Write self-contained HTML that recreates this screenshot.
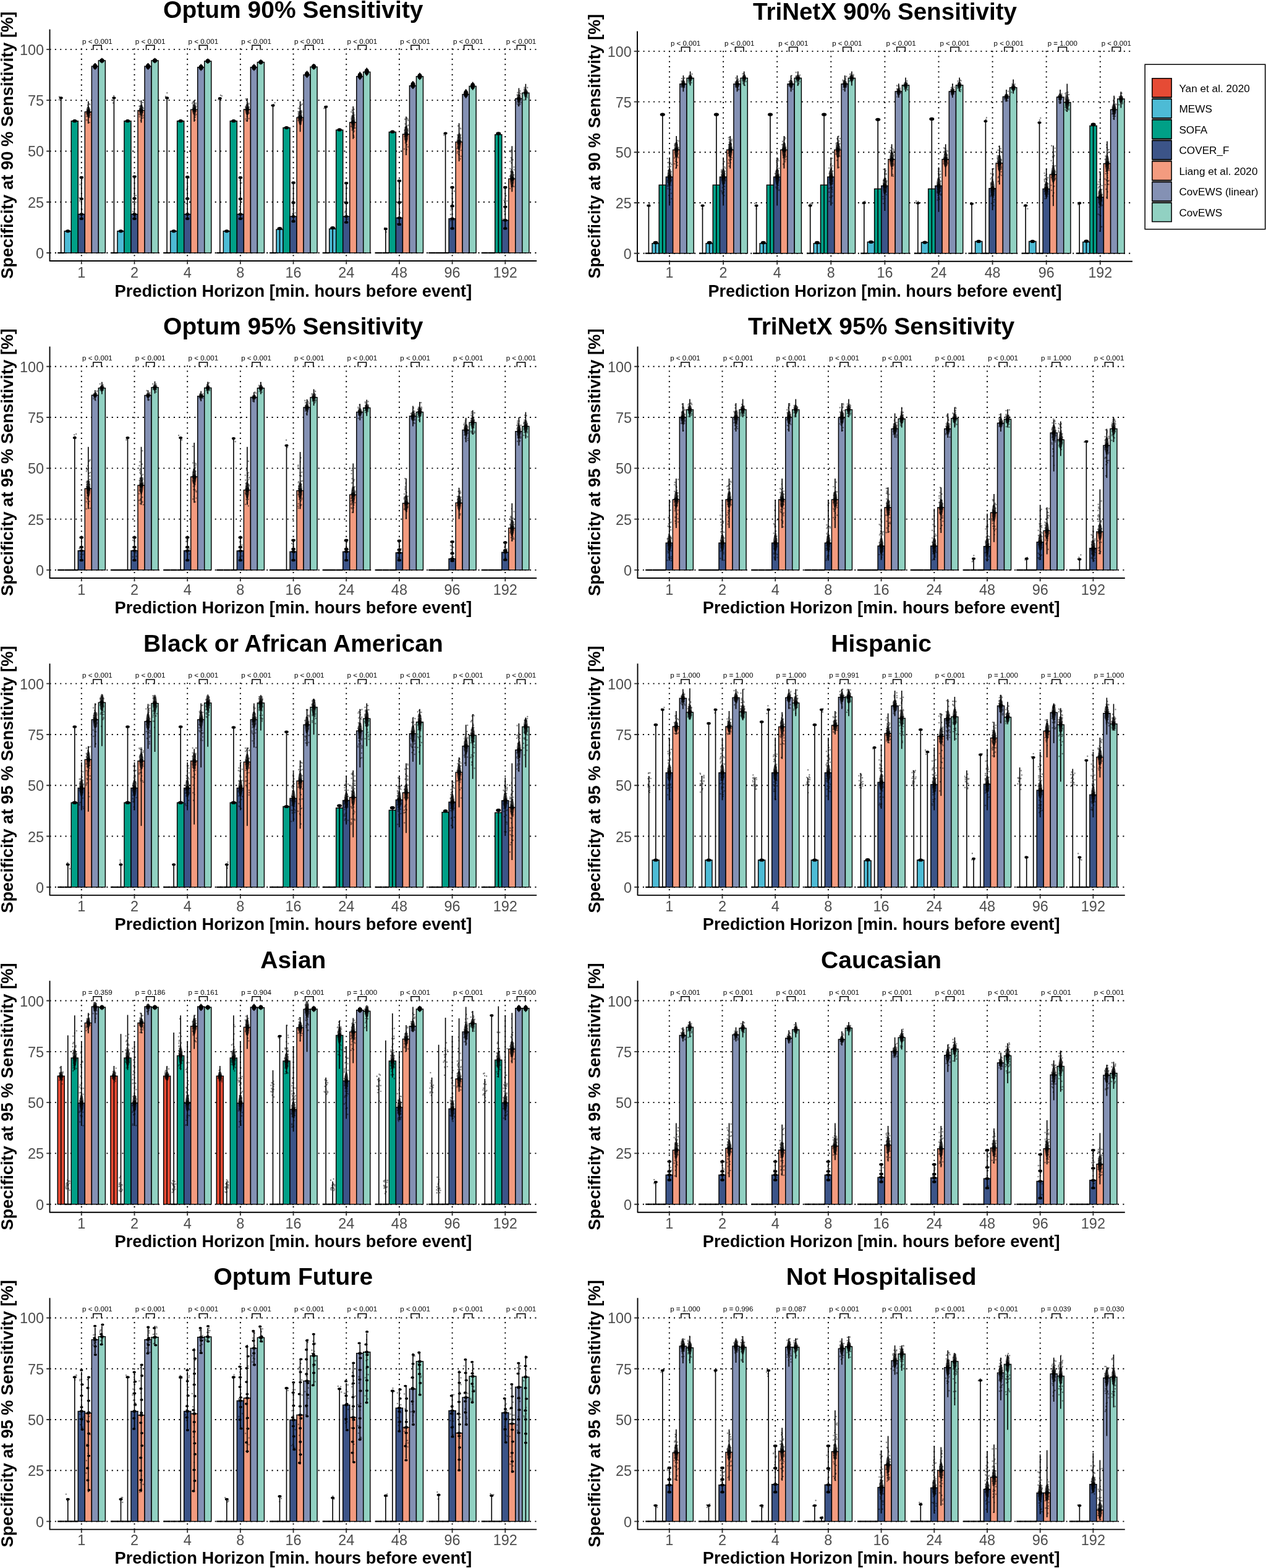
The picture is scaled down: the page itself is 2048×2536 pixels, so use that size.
<!DOCTYPE html><html><head><meta charset="utf-8"><title>Specificity figure</title><style>html,body{margin:0;padding:0;background:#fff;}svg{display:block;}</style></head><body><svg width="2048" height="2536" viewBox="0 0 2048 2536" font-family="Liberation Sans, Arial, Helvetica, sans-serif"><rect width="100%" height="100%" fill="#fff"/><g stroke="#000" stroke-width="1.9" stroke-dasharray="2.05 6.3" fill="none">
<line x1="80.5" y1="409" x2="868.2" y2="409"/>
<line x1="80.5" y1="326.72" x2="868.2" y2="326.72"/>
<line x1="80.5" y1="244.44" x2="868.2" y2="244.44"/>
<line x1="80.5" y1="162.15" x2="868.2" y2="162.15"/>
<line x1="80.5" y1="79.87" x2="868.2" y2="79.87"/>
<line x1="131.8" y1="422.55" x2="131.8" y2="78.37"/>
<line x1="217.49" y1="422.55" x2="217.49" y2="78.37"/>
<line x1="303.18" y1="422.55" x2="303.18" y2="78.37"/>
<line x1="388.87" y1="422.55" x2="388.87" y2="78.37"/>
<line x1="474.56" y1="422.55" x2="474.56" y2="78.37"/>
<line x1="560.25" y1="422.55" x2="560.25" y2="78.37"/>
<line x1="645.94" y1="422.55" x2="645.94" y2="78.37"/>
<line x1="731.63" y1="422.55" x2="731.63" y2="78.37"/>
<line x1="817.32" y1="422.55" x2="817.32" y2="78.37"/>
</g>
<g stroke="#000" stroke-width="1.45"><rect x="104.26" y="373.78" width="11.02" height="35.22" fill="#4DBBD5"/><rect x="115.27" y="195.72" width="11.02" height="213.28" fill="#00A087"/><rect x="126.29" y="346.47" width="11.02" height="62.53" fill="#3C5488"/><rect x="137.31" y="180.91" width="11.02" height="228.09" fill="#F39B7F"/><rect x="148.33" y="107.19" width="11.02" height="301.81" fill="#8491B4"/><rect x="159.34" y="97.97" width="11.02" height="311.03" fill="#91D1C2"/><rect x="189.95" y="373.78" width="11.02" height="35.22" fill="#4DBBD5"/><rect x="200.96" y="195.72" width="11.02" height="213.28" fill="#00A087"/><rect x="211.98" y="346.47" width="11.02" height="62.53" fill="#3C5488"/><rect x="223" y="178.61" width="11.02" height="230.39" fill="#F39B7F"/><rect x="234.02" y="107.19" width="11.02" height="301.81" fill="#8491B4"/><rect x="245.03" y="97.97" width="11.02" height="311.03" fill="#91D1C2"/><rect x="275.64" y="373.78" width="11.02" height="35.22" fill="#4DBBD5"/><rect x="286.65" y="195.72" width="11.02" height="213.28" fill="#00A087"/><rect x="297.67" y="346.47" width="11.02" height="62.53" fill="#3C5488"/><rect x="308.69" y="177.29" width="11.02" height="231.71" fill="#F39B7F"/><rect x="319.71" y="108.83" width="11.02" height="300.17" fill="#8491B4"/><rect x="330.72" y="98.96" width="11.02" height="310.04" fill="#91D1C2"/><rect x="361.33" y="373.78" width="11.02" height="35.22" fill="#4DBBD5"/><rect x="372.34" y="195.72" width="11.02" height="213.28" fill="#00A087"/><rect x="383.36" y="346.47" width="11.02" height="62.53" fill="#3C5488"/><rect x="394.38" y="176.96" width="11.02" height="232.04" fill="#F39B7F"/><rect x="405.4" y="108.83" width="11.02" height="300.17" fill="#8491B4"/><rect x="416.41" y="100.61" width="11.02" height="308.39" fill="#91D1C2"/><rect x="447.02" y="371.15" width="11.02" height="37.85" fill="#4DBBD5"/><rect x="458.03" y="206.59" width="11.02" height="202.41" fill="#00A087"/><rect x="469.05" y="350.09" width="11.02" height="58.91" fill="#3C5488"/><rect x="480.07" y="190.13" width="11.02" height="218.87" fill="#F39B7F"/><rect x="491.09" y="121.01" width="11.02" height="287.99" fill="#8491B4"/><rect x="502.1" y="108.18" width="11.02" height="300.82" fill="#91D1C2"/><rect x="532.71" y="370.16" width="11.02" height="38.84" fill="#4DBBD5"/><rect x="543.72" y="210.21" width="11.02" height="198.79" fill="#00A087"/><rect x="554.74" y="350.09" width="11.02" height="58.91" fill="#3C5488"/><rect x="565.76" y="198.03" width="11.02" height="210.97" fill="#F39B7F"/><rect x="576.78" y="123.64" width="11.02" height="285.36" fill="#8491B4"/><rect x="587.79" y="116.4" width="11.02" height="292.6" fill="#91D1C2"/><rect x="629.41" y="213.5" width="11.02" height="195.5" fill="#00A087"/><rect x="640.43" y="352.39" width="11.02" height="56.61" fill="#3C5488"/><rect x="651.45" y="217.12" width="11.02" height="191.88" fill="#F39B7F"/><rect x="662.47" y="138.78" width="11.02" height="270.22" fill="#8491B4"/><rect x="673.48" y="123.64" width="11.02" height="285.36" fill="#91D1C2"/><rect x="726.12" y="353.71" width="11.02" height="55.29" fill="#3C5488"/><rect x="737.14" y="229.62" width="11.02" height="179.38" fill="#F39B7F"/><rect x="748.16" y="152.61" width="11.02" height="256.39" fill="#8491B4"/><rect x="759.17" y="139.44" width="11.02" height="269.56" fill="#91D1C2"/><rect x="800.79" y="217.78" width="11.02" height="191.22" fill="#00A087"/><rect x="811.81" y="356.34" width="11.02" height="52.66" fill="#3C5488"/><rect x="822.83" y="289.2" width="11.02" height="119.8" fill="#F39B7F"/><rect x="833.85" y="159.52" width="11.02" height="249.48" fill="#8491B4"/><rect x="844.86" y="150.3" width="11.02" height="258.7" fill="#91D1C2"/></g>
<g stroke="#000" stroke-width="2.2"><line x1="93.24" y1="409" x2="104.26" y2="409"/><line x1="178.93" y1="409" x2="189.95" y2="409"/><line x1="264.62" y1="409" x2="275.64" y2="409"/><line x1="350.31" y1="409" x2="361.33" y2="409"/><line x1="436" y1="409" x2="447.02" y2="409"/><line x1="521.69" y1="409" x2="532.71" y2="409"/><line x1="607.38" y1="409" x2="618.4" y2="409"/><line x1="618.4" y1="409" x2="629.41" y2="409"/><line x1="693.07" y1="409" x2="704.09" y2="409"/><line x1="704.09" y1="409" x2="715.1" y2="409"/><line x1="715.1" y1="409" x2="726.12" y2="409"/><line x1="778.76" y1="409" x2="789.78" y2="409"/><line x1="789.78" y1="409" x2="800.79" y2="409"/></g>
<path d="M98.7 409V158.2M120.8 197.4V194.1M131.8 353.7V286.9M142.8 200V163.8M153.8 112.8V101.9M164.9 102.3V93.7M184.4 409V158.2M206.5 197.4V194.1M217.5 353.7V285.6M228.5 198.4V162.2M239.5 112.8V101.9M250.5 102.3V93.7M270.1 409V158.2M292.2 197.4V194.1M303.2 353.7V286.2M314.2 196.7V162.2M325.2 114.4V103.6M336.2 102.9V94.7M355.8 409V158.9M377.9 197.4V194.1M388.9 353.7V287.2M399.9 196.7V158.9M410.9 114.4V103.6M421.9 104.6V96.3M441.5 409V170.4M452.5 409V369.5M463.5 208.2V204.9M474.6 358V295.5M485.6 213.2V163.8M496.6 125.9V114.4M507.6 112.8V102.9M527.2 409V172.7M538.2 409V368.5M549.2 211.5V208.2M560.2 359.6V296.1M571.3 224.7V172M582.3 129.2V116.1M593.3 122.7V109.5M623.9 409V370.2M634.9 214.8V211.5M645.9 362.9V292.5M657 251V188.5M668 144.1V130.9M679 129.2V117.7M720.6 409V215.5M731.6 369.5V303M742.6 260.9V199.3M753.7 158.9V144.1M764.7 145.7V132.5M806.3 409V215.8M817.3 369.5V303M828.3 310.3V236.2M839.4 172V142.4M850.4 162.2V135.8" stroke="#000" stroke-width="1.6" fill="none"/>
<g fill="#000" fill-opacity="0.38"></g>
<path d="M99.7 159h0m-3.8-2.5h0m-0.1 4.8h0m32.9 158.5h0m0.3 4.9h0m2.3 22.9h0m-2-49.1h0m3.3 40.3h0m-0.3-48.4h0m9.8-107.6h0m3.1-4.7h0m-3.8 3.2h0m0.2-3.2h0m3.3-0.8h0m-1.2-1.4h0m-1.7-5.8h0m-2.1 13.9h0m1-2.1h0m0.7 3.1h0m1.8 4.6h0m1.4-1.4h0m-0.7-9.5h0m-1.1 1.8h0m2.3-11.4h0m0.7 12.8h0m-5.7 6.4h0m0.2 5.9h0m2.2-20.8h0m1.9-5.5h0m-1.3 9.7h0m0.8-2.3h0m-0.7 11.1h0m1.7 3.3h0m0.7-4h0m-5.9 8.4h0m4.2-15.4h0m0.8 19.4h0m38.1-31.6h0m-1.7-4.6h0m2.9-6.9h0m30.8 187.3h0m4.3 7.4h0m-3.5-4.8h0m4.1-17.8h0m-2.7 21.1h0m2.8-31.9h0m7-145.3h0m0.9 24h0m3.6-4.5h0m-5.3-26.5h0m0.5 11.7h0m1.7-3h0m-3.2 11.9h0m2.8-2.2h0m3.5 4.2h0m-1.7-16.6h0m-0.1 21.1h0m-4.1-11.3h0m5.4-13.9h0m-0.5 22h0m-4.6-2.2h0m3.5-12.8h0m-2.8 2.6h0m-0.3 1.8h0m-1.1 2.9h0m1-4.1h0m-0.8-4.4h0m5.6 1.8h0m-4.1 9h0m0.6-0.5h0m3.3-0.3h0m1-6.6h0m-6 13.7h0m0.1-12.4h0m46.4-16.8h0m-4.4-3.6h0m2.4-5.8h0m33.2 193.6h0m-0.1 8.1h0m2.2-64.2h0m-4 19h0m-0.6 22.3h0m2.4-27.4h0m12.6-127.4h0m0.3 6h0m1.1-8.3h0m-1.1-4h0m-0.5 21.9h0m-2.6-14h0m-2.1-8.8h0m1.5 3.4h0m2.9 5.7h0m1.6-7.9h0m0.3 11.6h0m-5.1-10.4h0m0.1 10.2h0m2.6-4.2h0m1.8-3.6h0m-1.6 0.2h0m1 13.6h0m0.7-19.2h0m-0.8 4.4h0m-4 6.5h0m4 9.8h0m1.2-2.1h0m-3.8-21.2h0m2.2 30.5h0m-3.7-29.2h0m4.9 8.7h0m-0.7 0h0m42.8-18.7h0m-2.1-1.1h0m-3.5 7.3h0m38.6 191.5h0m-3-42.3h0m-0.6-18.9h0m2.6 4.1h0m-3.8 44h0m0-5.5h0m13.3-166.9h0m-3.1 10.2h0m5.2-10.4h0m-2.2 16.2h0m2.2-14.7h0m-2.7 26.9h0m0.2-28.7h0m-0.6 12h0m-1.7-1.6h0m-0.1-17.2h0m2 16.5h0m-1 2.3h0m1.3 10.1h0m-2.7 3.6h0m3-9.9h0m1.4-5.7h0m-1.8-7.6h0m2.7 22.5h0m-3.1-8.8h0m0.5 2.5h0m1.2-1.2h0m-1.5 3.8h0m3.1-14.6h0m0 9.5h0m-4.5 12.3h0m3.8-13.4h0m-2.6-8.1h0m-2.4-0.5h0m3.9 3.4h0m0.8-3.4h0m41.1-4.4h0m-0.3 2.6h0m2-5.4h0m33 178.2h0m-3.1-11.2h0m2.3-37h0m-2.7 51.8h0m-0.6-22.2h0m-0.1 20h0m13.6-175.6h0m-1.8 4.5h0m-2.8 13.6h0m3.3 10.4h0m-3-23.5h0m6-6.6h0m-5.7 23.7h0m4.4-1.7h0m-3.3-3.9h0m4.2-5.3h0m-0.6-0.6h0m0.6 9.8h0m-2.3-7.4h0m-3.3 8.7h0m4.1 3.4h0m1.7-0.8h0m-2-6.4h0m1.4 0.5h0m-5.2 6.5h0m1.8-13.7h0m1.4 19.1h0m-2.8-19h0m2.7 13.1h0m-2.5-4.8h0m-0.7-5.5h0m1.7 2.7h0m3-7h0m-3.9 13.8h0m1.2-17.6h0m-2.2 4.7h0m4.7 8.3h0m-1.7 8.6h0m3.1-5h0m-3.4-20.5h0m0.4 3.8h0m0.1 7.9h0m1.2 16.9h0m1-21.9h0m-0.9 12.5h0m39.3-16.5h0m-1.9 0.3h0m4.5-3.4h0m29.2 171.6h0m4.5 10.9h0m-1.1-50h0m-2.9 37.4h0m1.5-0.7h0m-0.1 8.6h0m9.8-155.2h0m1.9 8.7h0m-1.6-6.3h0m0.5 1.5h0m0.6-0.7h0m0.2 9.2h0m-3.3-8.6h0m2.6 0.3h0m-2.4-6.2h0m1.3-5.4h0m2.3 9.5h0m0.5 23.2h0m0.4-17.6h0m-2.6-13.5h0m4.4 18.5h0m-2.3-21.4h0m-3.9-4.6h0m3.8 2.8h0m0.7 38.1h0m-1.4-26.6h0m-0.1 9.4h0m2.1-18.8h0m-1.6 32.6h0m0.7-36.1h0m-3 28.1h0m0.8-19.4h0m-1.6 5.6h0m3.4-7.3h0m0 23.1h0m-4.1-8h0m5.2 7.4h0m-1.7-13.7h0m0.8 15.4h0m-2.7-35.3h0m-1.1 11.1h0m0.8 10.7h0m3.6-23.3h0m-2.4 6h0m0.6 17.6h0m0.9 6.7h0m52.8 168.2h0m-2.5-6.8h0m3.2 0.8h0m20.9-27.8h0m-3.4 20.5h0m4.1-18h0m0-29.8h0m-1.1 28.2h0m-0.3-12.2h0m9.3-137.4h0m5.1 1.9h0m-3.4 19.7h0m2.4 3.9h0m-3.7-17.9h0m-0.4 20.1h0m2.5-13.5h0m-2.9 13.7h0m-0.1-0.1h0m5-11.4h0m-1.2 24.8h0m-1.4-20.8h0m0 3.1h0m-0.3 0.6h0m-0.7 3h0m-0.2-10.9h0m2.9 7.6h0m0.6 1.3h0m-0.8-26.8h0m1.2 1.6h0m-3.4 28.2h0m4.1-18.4h0m-3.8 27.1h0m-1-4.6h0m3.7-14.8h0m-3.7 4.8h0m-0.1-8.8h0m1.6 15.6h0m3-10.3h0m-0.5-8.4h0m0.2 5.6h0m0.2 28.8h0m-5.9 3.4h0m4.5-16.2h0m-0.6 17.3h0m-2.4-32.8h0m-1 1.4h0m1.1 20.6h0m2.9-16.6h0m-0.5-9.5h0m61.3 10.8h0m-0.9 2.7h0m0-2h0m15.9 139.1h0m-4.5-19.2h0m5.1-27.2h0m-5.7 30.3h0m-0.3 17.1h0m0-9.9h0m14.2-118h0m2.1-11h0m-3.1 11.9h0m0.7 15.8h0m-3-5.9h0m1.4-19.7h0m1.5 1.9h0m0.8 9.4h0m-2.4-8.6h0m-0.1 15.2h0m4.6 5.3h0m-0.6-23.3h0m-5.4 7.6h0m4.4 4.5h0m-0.8-16.1h0m-3.9 24.4h0m5.5 16.8h0m0.2-49.5h0m-4.9 10.7h0m0.3 13.4h0m5.2 21.1h0m-1.5-19.8h0m-1.7 12.5h0m0.6 5.1h0m-2.1-46.9h0m4.5 19.4h0m-5.2 14.6h0m0.8 2.4h0m-0.9 5.2h0m-0.3 2.4h0m2.1 2.1h0m-1.1-17h0m0.5-1.3h0m1.1-0.5h0m2.8-22.7h0m-2.7 27.1h0m3.2-6.8h0m-1.7-10.4h0m-1.4 12.7h0m1.2-4.2h0m71.9 115h0m4.4-16.5h0m-5.9 29.3h0m2.6-7.4h0m-1.5-22.9h0m3.6-7.6h0m12.5-14.8h0m-4.3-12.1h0m-0.6-6.1h0m3.6 17.8h0m-1.8 0.6h0m-2-56.5h0m3.1 40.6h0m1.9-15.8h0m-4.9 7.8h0m5.1-3.5h0m-6.1 10.9h0m2.2-0.9h0m2.3-26.1h0m-2.7 5.1h0m-0.9 26.4h0m-1.1-28.9h0m4.2 40.2h0m-2.2 0.9h0m-1-25.3h0m1.2-2.6h0m3.9 14.7h0m-4.9-33.8h0m1 0.6h0m0.5 18.5h0m-0.4 3h0m3.6 5.6h0m-0.1 0.2h0m-5.8-10.3h0m4.9 5.7h0m-4.7 6h0m5.7 3.6h0m-0.1 2.5h0m-3.7-32h0m1.8 37.2h0m-2.3-52.6h0m0.1 49.5h0m-1.8 12.4h0m4.1-17.3h0m-2.6-0.8h0m1.6 3.7h0m10.4-128.1h0m0.7-2.9h0m2.9-7.9h0m-1.3 2.4h0m0.6-6.8h0m-3.3 10.8h0m0 11.4h0m-1.6-1.6h0m0.8-18.2h0m-0.9 9.7h0m-0.2 5.7h0m6.2 0.6h0m-0.6-4h0m-5.3-8h0m0.1 6.3h0m2.3 11.2h0m-1.4-11.8h0m2.9 9.1h0m0.5-14.1h0m-4.1-1.1h0m4.7 15.2h0m-3.1-6.4h0m2.4-11.8h0m7.8-1.6h0m-0.6-3.1h0m1.1-1.8h0m0.5 12.3h0m-1.1-13.6h0m3.8 8.2h0m-4.7 11.1h0m4.9-4.3h0m0.5-9.1h0m-5.2-3.4h0m0.4 3.9h0m4.9-7.2h0m-3.7 10.1h0m-0.7-6.3h0m3.4 10.2h0m-1.2-8.3h0m0.2 3.9h0m-3.2-2.3h0m0.4-4.9h0m3 6.5h0m-3-9.2h0" stroke="#000" stroke-opacity="0.5" stroke-width="2.4" stroke-linecap="round" fill="none"/>
<ellipse cx="142.8" cy="180.9" rx="3.3" ry="9.1" fill-opacity="0.7"/><ellipse cx="228.5" cy="178.6" rx="3.3" ry="9.1" fill-opacity="0.7"/><ellipse cx="314.2" cy="177.3" rx="3.3" ry="8.6" fill-opacity="0.7"/><ellipse cx="399.9" cy="177" rx="3.3" ry="9.5" fill-opacity="0.7"/><ellipse cx="485.6" cy="190.1" rx="3.3" ry="12.3" fill-opacity="0.7"/><ellipse cx="571.3" cy="198" rx="3.3" ry="13.2" fill-opacity="0.7"/><ellipse cx="657" cy="217.1" rx="3.3" ry="14" fill-opacity="0.7"/><ellipse cx="742.6" cy="229.6" rx="3.3" ry="14" fill-opacity="0.7"/><ellipse cx="828.3" cy="289.2" rx="3.3" ry="14" fill-opacity="0.7"/><ellipse cx="839.4" cy="159.5" rx="3.3" ry="7.4" fill-opacity="0.7"/><ellipse cx="850.4" cy="150.3" rx="3.3" ry="6.6" fill-opacity="0.7"/>
<g fill="#000"><ellipse cx="98.7" cy="158.2" rx="3" ry="2"/><ellipse cx="109.8" cy="373.8" rx="3.7" ry="2.6"/><ellipse cx="120.8" cy="195.7" rx="3.7" ry="2.6"/><ellipse cx="131.8" cy="353.7" rx="3.3" ry="2.2"/><ellipse cx="131.8" cy="346.5" rx="3.3" ry="2.2"/><ellipse cx="131.8" cy="321.6" rx="3.3" ry="2.2"/><ellipse cx="131.8" cy="286.9" rx="3.3" ry="2.2"/><ellipse cx="142.8" cy="180.9" rx="2.4" ry="3.6"/><ellipse cx="153.8" cy="107.4" rx="3.7" ry="4.6"/><ellipse cx="164.9" cy="98" rx="3.7" ry="3.6"/><ellipse cx="184.4" cy="158.2" rx="3" ry="2"/><ellipse cx="195.5" cy="373.8" rx="3.7" ry="2.6"/><ellipse cx="206.5" cy="195.7" rx="3.7" ry="2.6"/><ellipse cx="217.5" cy="353.7" rx="3.3" ry="2.2"/><ellipse cx="217.5" cy="346.5" rx="3.3" ry="2.2"/><ellipse cx="217.5" cy="321" rx="3.3" ry="2.2"/><ellipse cx="217.5" cy="285.6" rx="3.3" ry="2.2"/><ellipse cx="228.5" cy="178.6" rx="2.4" ry="3.6"/><ellipse cx="239.5" cy="107.4" rx="3.7" ry="4.6"/><ellipse cx="250.5" cy="98" rx="3.7" ry="3.6"/><ellipse cx="270.1" cy="158.2" rx="3" ry="2"/><ellipse cx="281.1" cy="373.8" rx="3.7" ry="2.6"/><ellipse cx="292.2" cy="195.7" rx="3.7" ry="2.6"/><ellipse cx="303.2" cy="353.7" rx="3.3" ry="2.2"/><ellipse cx="303.2" cy="346.5" rx="3.3" ry="2.2"/><ellipse cx="303.2" cy="321.3" rx="3.3" ry="2.2"/><ellipse cx="303.2" cy="286.2" rx="3.3" ry="2.2"/><ellipse cx="314.2" cy="177.3" rx="2.4" ry="3.5"/><ellipse cx="325.2" cy="109" rx="3.7" ry="4.6"/><ellipse cx="336.2" cy="98.8" rx="3.7" ry="3.5"/><ellipse cx="355.8" cy="158.9" rx="3" ry="2"/><ellipse cx="366.8" cy="373.8" rx="3.7" ry="2.6"/><ellipse cx="377.9" cy="195.7" rx="3.7" ry="2.6"/><ellipse cx="388.9" cy="353.7" rx="3.3" ry="2.2"/><ellipse cx="388.9" cy="346.5" rx="3.3" ry="2.2"/><ellipse cx="388.9" cy="321.8" rx="3.3" ry="2.2"/><ellipse cx="388.9" cy="287.2" rx="3.3" ry="2.2"/><ellipse cx="399.9" cy="177" rx="2.4" ry="3.8"/><ellipse cx="410.9" cy="109" rx="3.7" ry="4.6"/><ellipse cx="421.9" cy="100.4" rx="3.7" ry="3.5"/><ellipse cx="441.5" cy="170.4" rx="3" ry="2"/><ellipse cx="452.5" cy="369.5" rx="4" ry="2.6"/><ellipse cx="463.5" cy="206.6" rx="3.7" ry="2.6"/><ellipse cx="474.6" cy="358" rx="3.3" ry="2.2"/><ellipse cx="474.6" cy="350.1" rx="3.3" ry="2.2"/><ellipse cx="474.6" cy="327.7" rx="3.3" ry="2.2"/><ellipse cx="474.6" cy="295.5" rx="3.3" ry="2.2"/><ellipse cx="485.6" cy="190.1" rx="2.4" ry="4"/><ellipse cx="496.6" cy="120.2" rx="3.7" ry="4.8"/><ellipse cx="507.6" cy="107.8" rx="3.7" ry="4.1"/><ellipse cx="527.2" cy="172.7" rx="3" ry="2"/><ellipse cx="538.2" cy="368.5" rx="4" ry="2.6"/><ellipse cx="549.2" cy="209.9" rx="3.7" ry="2.6"/><ellipse cx="560.2" cy="359.6" rx="3.3" ry="2.2"/><ellipse cx="560.2" cy="350.1" rx="3.3" ry="2.2"/><ellipse cx="560.2" cy="328" rx="3.3" ry="2.2"/><ellipse cx="560.2" cy="296.1" rx="3.3" ry="2.2"/><ellipse cx="571.3" cy="198" rx="2.4" ry="4"/><ellipse cx="582.3" cy="122.7" rx="3.7" ry="5.5"/><ellipse cx="593.3" cy="116.1" rx="3.7" ry="5.5"/><ellipse cx="623.9" cy="370.2" rx="3" ry="2"/><ellipse cx="634.9" cy="213.2" rx="3.7" ry="2.6"/><ellipse cx="645.9" cy="362.9" rx="3.3" ry="2.2"/><ellipse cx="645.9" cy="352.4" rx="3.3" ry="2.2"/><ellipse cx="645.9" cy="327.4" rx="3.3" ry="2.2"/><ellipse cx="645.9" cy="292.5" rx="3.3" ry="2.2"/><ellipse cx="657" cy="217.1" rx="2.4" ry="4"/><ellipse cx="668" cy="137.5" rx="3.7" ry="5.5"/><ellipse cx="679" cy="123.5" rx="3.7" ry="4.8"/><ellipse cx="720.6" cy="215.5" rx="3" ry="2"/><ellipse cx="731.6" cy="369.5" rx="3.3" ry="2.2"/><ellipse cx="731.6" cy="353.7" rx="3.3" ry="2.2"/><ellipse cx="731.6" cy="333.3" rx="3.3" ry="2.2"/><ellipse cx="731.6" cy="303" rx="3.3" ry="2.2"/><ellipse cx="742.6" cy="229.6" rx="2.4" ry="4"/><ellipse cx="753.7" cy="151.5" rx="3.7" ry="6.2"/><ellipse cx="764.7" cy="139.1" rx="3.7" ry="5.5"/><ellipse cx="806.3" cy="215.8" rx="4" ry="2.6"/><ellipse cx="817.3" cy="369.5" rx="3.3" ry="2.2"/><ellipse cx="817.3" cy="356.3" rx="3.3" ry="2.2"/><ellipse cx="817.3" cy="334.6" rx="3.3" ry="2.2"/><ellipse cx="817.3" cy="303" rx="3.3" ry="2.2"/><ellipse cx="828.3" cy="289.2" rx="2.4" ry="4"/><ellipse cx="839.4" cy="159.5" rx="2.4" ry="3"/><ellipse cx="850.4" cy="150.3" rx="2.4" ry="2.6"/></g>
<path d="M150.82 80.67V73.17H164.11V80.67M236.51 80.67V73.17H249.8V80.67M322.2 80.67V73.17H335.49V80.67M407.89 80.67V73.17H421.18V80.67M493.58 80.67V73.17H506.87V80.67M579.27 80.67V73.17H592.56V80.67M664.96 80.67V73.17H678.25V80.67M750.65 80.67V73.17H763.94V80.67M836.34 80.67V73.17H849.63V80.67" stroke="#000" stroke-width="1.5" fill="none"/>
<g font-size="11.6" text-anchor="middle" fill="#000"><text x="157.46" y="70.67">p &lt; 0.001</text><text x="243.15" y="70.67">p &lt; 0.001</text><text x="328.84" y="70.67">p &lt; 0.001</text><text x="414.53" y="70.67">p &lt; 0.001</text><text x="500.22" y="70.67">p &lt; 0.001</text><text x="585.91" y="70.67">p &lt; 0.001</text><text x="671.6" y="70.67">p &lt; 0.001</text><text x="757.29" y="70.67">p &lt; 0.001</text><text x="842.98" y="70.67">p &lt; 0.001</text></g>
<path d="M80.5 47.57V422.05H868.2" stroke="#000" stroke-width="1.9" fill="none" stroke-linejoin="round"/>
<path d="M75.2 409H80.5M75.2 326.72H80.5M75.2 244.44H80.5M75.2 162.15H80.5M75.2 79.87H80.5M131.8 422.05V427.35M217.49 422.05V427.35M303.18 422.05V427.35M388.87 422.05V427.35M474.56 422.05V427.35M560.25 422.05V427.35M645.94 422.05V427.35M731.63 422.05V427.35M817.32 422.05V427.35" stroke="#333" stroke-width="1.9" fill="none"/>
<g font-size="23.5" fill="#4D4D4D">
<text x="71.1" y="418" text-anchor="end">0</text>
<text x="71.1" y="335.72" text-anchor="end">25</text>
<text x="71.1" y="253.44" text-anchor="end">50</text>
<text x="71.1" y="171.15" text-anchor="end">75</text>
<text x="71.1" y="88.87" text-anchor="end">100</text>
<text x="131.8" y="449.3" text-anchor="middle">1</text>
<text x="217.49" y="449.3" text-anchor="middle">2</text>
<text x="303.18" y="449.3" text-anchor="middle">4</text>
<text x="388.87" y="449.3" text-anchor="middle">8</text>
<text x="474.56" y="449.3" text-anchor="middle">16</text>
<text x="560.25" y="449.3" text-anchor="middle">24</text>
<text x="645.94" y="449.3" text-anchor="middle">48</text>
<text x="731.63" y="449.3" text-anchor="middle">96</text>
<text x="817.32" y="449.3" text-anchor="middle">192</text>
</g>
<text x="474.35" y="29" font-size="39" font-weight="bold" text-anchor="middle">Optum 90% Sensitivity</text>
<text x="474.35" y="479.6" font-size="27.3" font-weight="bold" text-anchor="middle">Prediction Horizon [min. hours before event]</text>
<text transform="translate(21.2 234.81) rotate(-90)" font-size="27.3" font-weight="bold" text-anchor="middle">Specificity at 90 % Sensitivity [%]</text>
<g stroke="#000" stroke-width="1.9" stroke-dasharray="2.03 6.24" fill="none">
<line x1="1032.26" y1="409.7" x2="1832" y2="409.7"/>
<line x1="1032.26" y1="327.99" x2="1832" y2="327.99"/>
<line x1="1032.26" y1="246.28" x2="1832" y2="246.28"/>
<line x1="1032.26" y1="164.58" x2="1832" y2="164.58"/>
<line x1="1032.26" y1="82.87" x2="1832" y2="82.87"/>
<line x1="1083" y1="423.25" x2="1083" y2="81.37"/>
<line x1="1170.1" y1="423.25" x2="1170.1" y2="81.37"/>
<line x1="1257.2" y1="423.25" x2="1257.2" y2="81.37"/>
<line x1="1344.3" y1="423.25" x2="1344.3" y2="81.37"/>
<line x1="1431.4" y1="423.25" x2="1431.4" y2="81.37"/>
<line x1="1518.5" y1="423.25" x2="1518.5" y2="81.37"/>
<line x1="1605.6" y1="423.25" x2="1605.6" y2="81.37"/>
<line x1="1692.7" y1="423.25" x2="1692.7" y2="81.37"/>
<line x1="1779.8" y1="423.25" x2="1779.8" y2="81.37"/>
</g>
<g stroke="#000" stroke-width="1.45"><rect x="1055" y="393.69" width="11.2" height="16.01" fill="#4DBBD5"/><rect x="1066.2" y="299.23" width="11.2" height="110.47" fill="#00A087"/><rect x="1077.4" y="286.16" width="11.2" height="123.54" fill="#3C5488"/><rect x="1088.6" y="242.36" width="11.2" height="167.34" fill="#F39B7F"/><rect x="1099.8" y="135.82" width="11.2" height="273.88" fill="#8491B4"/><rect x="1111" y="126.34" width="11.2" height="283.36" fill="#91D1C2"/><rect x="1142.1" y="393.69" width="11.2" height="16.01" fill="#4DBBD5"/><rect x="1153.3" y="299.23" width="11.2" height="110.47" fill="#00A087"/><rect x="1164.5" y="286.16" width="11.2" height="123.54" fill="#3C5488"/><rect x="1175.7" y="242.36" width="11.2" height="167.34" fill="#F39B7F"/><rect x="1186.9" y="135.82" width="11.2" height="273.88" fill="#8491B4"/><rect x="1198.1" y="126.34" width="11.2" height="283.36" fill="#91D1C2"/><rect x="1229.2" y="393.69" width="11.2" height="16.01" fill="#4DBBD5"/><rect x="1240.4" y="299.23" width="11.2" height="110.47" fill="#00A087"/><rect x="1251.6" y="286.16" width="11.2" height="123.54" fill="#3C5488"/><rect x="1262.8" y="242.36" width="11.2" height="167.34" fill="#F39B7F"/><rect x="1274" y="135.82" width="11.2" height="273.88" fill="#8491B4"/><rect x="1285.2" y="126.34" width="11.2" height="283.36" fill="#91D1C2"/><rect x="1316.3" y="393.69" width="11.2" height="16.01" fill="#4DBBD5"/><rect x="1327.5" y="299.23" width="11.2" height="110.47" fill="#00A087"/><rect x="1338.7" y="286.16" width="11.2" height="123.54" fill="#3C5488"/><rect x="1349.9" y="242.36" width="11.2" height="167.34" fill="#F39B7F"/><rect x="1361.1" y="135.82" width="11.2" height="273.88" fill="#8491B4"/><rect x="1372.3" y="126.34" width="11.2" height="283.36" fill="#91D1C2"/><rect x="1403.4" y="391.4" width="11.2" height="18.3" fill="#4DBBD5"/><rect x="1414.6" y="305.44" width="11.2" height="104.26" fill="#00A087"/><rect x="1425.8" y="300.54" width="11.2" height="109.16" fill="#3C5488"/><rect x="1437" y="257.72" width="11.2" height="151.98" fill="#F39B7F"/><rect x="1448.2" y="147.91" width="11.2" height="261.79" fill="#8491B4"/><rect x="1459.4" y="137.78" width="11.2" height="271.92" fill="#91D1C2"/><rect x="1490.5" y="392.05" width="11.2" height="17.65" fill="#4DBBD5"/><rect x="1501.7" y="305.44" width="11.2" height="104.26" fill="#00A087"/><rect x="1512.9" y="300.54" width="11.2" height="109.16" fill="#3C5488"/><rect x="1524.1" y="257.72" width="11.2" height="151.98" fill="#F39B7F"/><rect x="1535.3" y="147.91" width="11.2" height="261.79" fill="#8491B4"/><rect x="1546.5" y="137.78" width="11.2" height="271.92" fill="#91D1C2"/><rect x="1577.6" y="390.42" width="11.2" height="19.28" fill="#4DBBD5"/><rect x="1600" y="304.79" width="11.2" height="104.91" fill="#3C5488"/><rect x="1611.2" y="263.93" width="11.2" height="145.77" fill="#F39B7F"/><rect x="1622.4" y="156.41" width="11.2" height="253.29" fill="#8491B4"/><rect x="1633.6" y="141.7" width="11.2" height="268" fill="#91D1C2"/><rect x="1664.7" y="390.42" width="11.2" height="19.28" fill="#4DBBD5"/><rect x="1687.1" y="305.44" width="11.2" height="104.26" fill="#3C5488"/><rect x="1698.3" y="282.24" width="11.2" height="127.46" fill="#F39B7F"/><rect x="1709.5" y="157.06" width="11.2" height="252.64" fill="#8491B4"/><rect x="1720.7" y="165.56" width="11.2" height="244.14" fill="#91D1C2"/><rect x="1751.8" y="391.4" width="11.2" height="18.3" fill="#4DBBD5"/><rect x="1763" y="203.47" width="11.2" height="206.23" fill="#00A087"/><rect x="1774.2" y="318.84" width="11.2" height="90.86" fill="#3C5488"/><rect x="1785.4" y="264.59" width="11.2" height="145.11" fill="#F39B7F"/><rect x="1796.6" y="177.32" width="11.2" height="232.38" fill="#8491B4"/><rect x="1807.8" y="160" width="11.2" height="249.7" fill="#91D1C2"/></g>
<g stroke="#000" stroke-width="2.2"><line x1="1043.81" y1="409.7" x2="1055" y2="409.7"/><line x1="1130.9" y1="409.7" x2="1142.1" y2="409.7"/><line x1="1218.01" y1="409.7" x2="1229.2" y2="409.7"/><line x1="1305.11" y1="409.7" x2="1316.3" y2="409.7"/><line x1="1392.21" y1="409.7" x2="1403.4" y2="409.7"/><line x1="1479.31" y1="409.7" x2="1490.5" y2="409.7"/><line x1="1566.4" y1="409.7" x2="1577.6" y2="409.7"/><line x1="1588.8" y1="409.7" x2="1600" y2="409.7"/><line x1="1653.5" y1="409.7" x2="1664.7" y2="409.7"/><line x1="1675.9" y1="409.7" x2="1687.1" y2="409.7"/><line x1="1740.61" y1="409.7" x2="1751.8" y2="409.7"/></g>
<path d="M1049.4 409.7V332.6M1060.6 409.7V392.4M1071.8 409.7V185.2M1083 332.6V254.5M1094.2 272.4V220.1M1105.4 148.2V122.1M1116.6 138.4V115.6M1136.5 409.7V332.6M1147.7 409.7V392.4M1158.9 409.7V185.2M1170.1 332.6V254.5M1181.3 272.4V220.1M1192.5 148.2V122.1M1203.7 138.4V115.6M1223.6 409.7V332.6M1234.8 409.7V392.4M1246 409.7V185.2M1257.2 332.6V254.5M1268.4 272.4V220.1M1279.6 148.2V122.1M1290.8 138.4V115.6M1310.7 409.7V332.6M1321.9 409.7V392.4M1333.1 409.7V185.2M1344.3 332.6V254.5M1355.5 272.4V220.1M1366.7 148.2V122.1M1377.9 138.4V115.6M1397.8 409.7V328M1420.2 409.7V193.3M1431.4 341.1V272.4M1442.6 285.5V233.2M1453.8 158V135.2M1465 148.2V125.4M1484.9 409.7V328.6M1507.3 409.7V192.4M1518.5 342.7V270.5M1529.7 285.5V233.2M1540.9 158V135.2M1552.1 148.2V125.4M1572 409.7V329.6M1594.4 409.7V196M1605.6 340.1V272.8M1616.8 298.6V235.5M1628 164.6V145M1639.2 151.5V128.6M1659.1 409.7V332.2M1681.5 409.7V198.2M1692.7 321.8V272.8M1703.9 333.2V235.5M1715.1 167.8V145M1726.3 180.9V135.5M1746.2 409.7V328.6M1757.4 409.7V390.1M1768.6 409.7V201.2M1779.8 375.1V277.3M1791 321.8V228.6M1802.2 194V154.8M1813.4 174.4V148.2" stroke="#000" stroke-width="1.6" fill="none"/>
<g fill="#000" fill-opacity="0.38"></g>
<path d="M1050.6 329.7h0m-3.3 2.7h0m4.1 1h0m31.9-59.4h0m-1 3.8h0m1 4.9h0m-2.6 8.9h0m3.6 1.1h0m-2.6 6.9h0m4.3-22h0m-4 18.2h0m0.4-33h0m-0.3 53.1h0m-1.1-40h0m-1.3-19.5h0m5.5 13h0m-2.8 28.6h0m-1.7-27.9h0m-1 30.6h0m6.1 11.9h0m-5.6-17.5h0m2.8 4.6h0m-2.4-0.5h0m5.3-8.1h0m-5.5-28.1h0m5.7 58.4h0m-5.1-37.3h0m5.2-18h0m-0.3 26.5h0m-3.7-7.1h0m3-21.7h0m-4.5 37.7h0m1.7-18.4h0m2.9 16.5h0m-4.2-19.4h0m1.2 16.9h0m-1.8 8.1h0m0.8-16.9h0m-1.4 4.4h0m3.5 34.6h0m1.9-41.4h0m-4.9 5.7h0m3.5 14.6h0m9-54.2h0m0.8 5.5h0m1.6-23.5h0m-4.3 21.6h0m4-17.8h0m1 14.1h0m0.1-10.2h0m-2.1 8.6h0m-2.4-10.1h0m-0.1-7.4h0m2.3-0.5h0m1.3 13.8h0m-3.7-3.5h0m2.9 2.1h0m-3.1 20.2h0m6-9.8h0m-5.4-12.4h0m4 20.1h0m1.6-23.8h0m-3.3 11.2h0m-2.2-3.1h0m-0.6-11.9h0m1.9 36.5h0m3.7-29.6h0m-4.2 7.9h0m1.5-10.6h0m2.8 9.6h0m-2.8-9.3h0m-1.2-7.2h0m-1.1 1.8h0m5.2 6.2h0m-5.1 13.7h0m4.1 13.3h0m-1-37.2h0m-1.8 1.4h0m1.4-1h0m2.1 23.6h0m-1.7-27h0m-2.5 33.5h0m4.9-32.8h0m9.7-86.7h0m-2.2-2.6h0m-2.6-7.7h0m5.1-4.8h0m1.1 9.8h0m-2.6-9.5h0m-4 12.2h0m0.3 2h0m2.6-10.2h0m0.6-2h0m-1.9 4.6h0m2.8 4.8h0m-2-2.6h0m-1.6 0.5h0m3.2 2.9h0m0-6.5h0m-0.8 1h0m-2.3-6.1h0m0.1 4.2h0m-0.3 6.4h0m15.8-3.9h0m-2.6 1.4h0m1.7-8.8h0m-0.6-0.9h0m-0.8 5.7h0m3.3-11.5h0m-0.2 7.1h0m-5.8 3.8h0m1.3 1.5h0m-1.2-4.6h0m3.3-1.3h0m2.7 1h0m-2.3-3.3h0m-0.7-0.5h0m-2.2 9.5h0m0.9 1.6h0m3.9-7.6h0m-0.7-2.3h0m20.3 208h0m-0.6 0.3h0m-2 4.9h0m32.1-58.6h0m-1.3-4.2h0m2 2.4h0m3.4 8.8h0m-0.9 30.1h0m-1.8-27.7h0m2.3-27.1h0m-0.9 39.8h0m2.1-12.9h0m-6.4-10.5h0m4.9 8.8h0m1.4-14.8h0m-0.4 14.7h0m-3.8 16.9h0m2.1-20.2h0m2.3 9h0m-3.4 20.9h0m2.6-43.2h0m-2.8 41.7h0m-0.9-21.5h0m-0.6 21h0m4.7-19.4h0m-5.2-0.2h0m5.3-14.6h0m-3.9 7.6h0m-2.1-1.4h0m4.4-0.7h0m0.3 23.8h0m-4.5 2.4h0m5-6.9h0m0-5.7h0m0.4-15.5h0m0.3 10.1h0m-4.8-13.3h0m-0.6 11.9h0m4.7-8h0m-1.2 29.1h0m-2.3 3h0m3.1-34.4h0m-3.7 2h0m10-32.9h0m1.6-18.2h0m0.7 16.7h0m-0.3-24.5h0m3.6 5.2h0m-1.6 18.5h0m-1.2-16.7h0m2.2 10.7h0m-1.5 14.2h0m-2.2-28.4h0m4 13.1h0m-4.3 8h0m4-13.1h0m1.4 8.7h0m-3.3-15.1h0m2.1 14.7h0m-3-5.6h0m3.2-7.9h0m-3.7 16h0m1.5-4.7h0m-2.6-17.1h0m4.5 23.3h0m-0.6 0.5h0m-2.3-8.3h0m0.3 22.2h0m-2.1 3.7h0m5.4-38.5h0m-4.2 8.1h0m4.3 7.4h0m-0.1 14.1h0m-4.4-12.6h0m3.5 15.5h0m0-19.6h0m-2.9 11.3h0m-1.1 2.3h0m3.9-20.3h0m-3.8 26.7h0m2.7 4.8h0m-3-29.3h0m0.7 34.9h0m10.9-136.2h0m4.4 6.5h0m-4.6-12.9h0m1.1 6.9h0m1.3-1.4h0m-2.2 1h0m5.3-1.8h0m-0.1 5.3h0m-5.8 2.6h0m4.7-10.5h0m-4 8.2h0m2.9 6.3h0m-1.7-10.5h0m-2.3 0.8h0m4.4 12h0m-1.3-16.1h0m-2.4 11.7h0m3.1 0.5h0m2 3.5h0m-3.2-14.9h0m11.2 5h0m-1.3-4.2h0m3.6-2.2h0m-0.5 9.5h0m-0.4-16.7h0m-1.2 12h0m-2.4-3.8h0m2.2-10.5h0m1.4 5.6h0m-2.6 10.7h0m2.5-3.3h0m-1.4-8.5h0m-1.5 8.9h0m3.1 5.8h0m-1.1-12.8h0m3.3 6.6h0m-5.5-12.5h0m4.2 5.2h0m15.3 204.3h0m3.2 5.1h0m-0.4 3.6h0m34.4-43.5h0m-1.5-19.2h0m3.6 32.1h0m-3.7-28.2h0m2.5-21.4h0m-2.8 5.2h0m0.3 8.9h0m-2.6 9.2h0m4.6 23.2h0m-2.3-27.7h0m2.6 11.3h0m1.4-15.2h0m-1 27.4h0m-2.7-11.2h0m2.6-4.8h0m0.2-7.5h0m-1.7 24.6h0m-2.2 1.8h0m2.7-34.2h0m1.2 21.9h0m-3.5-13h0m1.7 28.9h0m-1.3-46.2h0m3.4 0h0m-4.1 28.2h0m1.2-20.9h0m2 18.3h0m-3-0.8h0m1.4 0.8h0m-0.4-16h0m-0.4 35.2h0m3.8 3.1h0m-0.7-25.8h0m0.5 9.4h0m-0.5-7.6h0m-1.3 12.8h0m2.1-13.5h0m-2 2.7h0m-3.4 0.3h0m0.6-9.1h0m10.7-36.7h0m5 13.9h0m-0.1-14h0m-1.9 9.7h0m1.9-11.4h0m-0.7 22.8h0m-0.6-23.6h0m-1.1 11.9h0m2.4-6.6h0m-2.2 13.3h0m-2.8-13.2h0m2.4-10.3h0m-2.4-4.2h0m2.3 8.4h0m2.5 21.5h0m-5.7-16.4h0m3.7-7.8h0m0.7 20.3h0m-1.6-19.2h0m3.6 17.5h0m-2.2-27.2h0m-4.1 8.1h0m6.1 23.7h0m-4-2.6h0m1-28.2h0m2.8 17.4h0m-1.9-22.2h0m-1.9 16h0m0.9-3.7h0m0.4 17.6h0m-0.6-10.7h0m-0.1 10.1h0m-0.9 14.1h0m3.6-14.9h0m-3.7 4.6h0m1.5-21.5h0m2-10.1h0m-3.1 21.8h0m1.7 1.6h0m0.3-14.6h0m11.8-96.9h0m1.1 2.2h0m-3.9 0.2h0m-2-1.4h0m4-6h0m0.4-8.3h0m-0.4 10.2h0m0.6 7.6h0m-0.7 2.1h0m0.5-4.3h0m-1.4 2.2h0m-1.8-4.3h0m-1 3.2h0m4.1-5.2h0m0.9 7.2h0m-1.5-13.9h0m-0.9 9.2h0m-0.7-5.8h0m4.1 14h0m-5.9-12.4h0m11.6-4.1h0m4.7-0.8h0m-2.5 10.7h0m-2.9-5.5h0m6.2 0h0m0.3-10.8h0m-5.9 10.8h0m3.7-6.8h0m-4.3 0.2h0m0-2.5h0m6.4 4.4h0m-5.9 1.5h0m-0.4-4.7h0m4.7 4.2h0m-3.6-2.6h0m-0.9-8.9h0m5.4 8h0m-0.9 10.3h0m19.8 193.3h0m-1.7 1.6h0m3.4 0.1h0m32-38h0m-0.5-9.5h0m1.1 3.1h0m-0.6-14.5h0m-3.7 6.7h0m-0.8-6.4h0m2.1 31.7h0m2.1 1.5h0m-3.6-9.2h0m3.4-15h0m-0.1 23.2h0m1-1h0m1.1-26.2h0m-4.4 4h0m-1.6 30.1h0m5.2-54.7h0m-3.3 35h0m3.3 37.4h0m-1.5-9.2h0m1.9-25.7h0m-3.4-26.7h0m3.5 29.8h0m-0.6 13.8h0m-3.7-24.1h0m1.1-1.4h0m3.1 31.9h0m-5.7-12.1h0m5.6-36.5h0m-2 48.8h0m1.6-25.3h0m-3.1 4.7h0m-1.8 29.3h0m0.8-6.7h0m3.7-21.4h0m-1-24.5h0m0.5 18.9h0m-2.8 7h0m3.3-15.8h0m-4.5-2.7h0m4.9 26.5h0m9.6-66.1h0m2.2 10.8h0m-2.9-21.4h0m0.8 22.5h0m-2.7-13.7h0m3.4-4.8h0m-2 18.9h0m0.8-23.7h0m3.2 10.4h0m-4.1-0.8h0m2.7-11.4h0m-4.2 3.1h0m2.4 21.3h0m-3.3-2.9h0m5.7-11.9h0m-4.1 21.8h0m3.5-18.3h0m-0.1 29.7h0m0.3-42.4h0m-5.2 4.4h0m1.1 12h0m-1-4.5h0m3.4-2.7h0m2.6-5h0m-0.2 20.5h0m-3.5-26.8h0m-1.9 9.3h0m3-2.8h0m0.5 12.3h0m-1.6-21.3h0m0.4 24h0m3.6-23.5h0m-4.9 17.9h0m0.6-3.2h0m3.3 13.3h0m-0.9-31.7h0m-0.4 15.3h0m-3.4 2.3h0m4.1 4.8h0m-3.1-18.7h0m13.2-84.6h0m-1.8-3.8h0m-0.4 3.2h0m-0.6-8.4h0m0.4 0h0m-1.5-0.8h0m4.8-1.6h0m1.4 7.1h0m-4.8-1h0m4.5-10.4h0m-5 17.3h0m5.3-2.5h0m-0.6-3.7h0m-3.4 5.9h0m3.3 0.2h0m-4.6 3.9h0m0.5-10.4h0m2.3-8.4h0m-2.8 6.1h0m1.8 0.1h0m9.5-2.7h0m1.2-1.8h0m-0.1-3.4h0m3.9-3.8h0m-5.7-0.5h0m1.1-0.5h0m1.7 11.9h0m-1.8-4.2h0m1.1-5.3h0m3.8 5h0m-0.2-4.5h0m-5.7 1.1h0m6.2 3.4h0m-6.5 4.1h0m0.9-6.6h0m-1 6.7h0m1.3-8.3h0m1.7 9.5h0m20.8 193.6h0m-2.9 3.2h0m3.8-3.6h0m30.2-51.7h0m2.7 20.2h0m-0.7 2.9h0m0.8 5.3h0m0.6-13.3h0m-3.4 3h0m-0.9 29.6h0m4.4-19.2h0m-4.5 15.6h0m5.3-23.2h0m0.1 20.1h0m0.4-11.3h0m-3-3.2h0m-1.9-9.2h0m4.3 19.1h0m-3.1-2.9h0m1.5-14.5h0m-1-13.1h0m0.5 20.1h0m2-19.1h0m0.4 1h0m-3.3 30.4h0m2.5-36.1h0m1.4 16.6h0m-2.9 28.4h0m0.1-21.2h0m-2.2-2.9h0m0.2 0.2h0m3.8-3.9h0m-0.8-0.4h0m-3.3 6.2h0m2.5-21.6h0m-0.3 20.5h0m2.3 4.9h0m-1 5.3h0m-1.5-16.1h0m0 6h0m-0.6 4.1h0m-1.8-10.3h0m0 37.2h0m14.1-57.2h0m1.7-14h0m0.7 7.7h0m-0.6 2.6h0m-2.1-19.3h0m1.7 33.5h0m-3-43.7h0m0.7 18.3h0m3.6-11.1h0m-1.1 2.1h0m0.2 36.9h0m0.8-42.1h0m-0.2 9.7h0m-2 5.2h0m-1.8-13.7h0m0.4 18.6h0m0.5-3.9h0m3.2-8.1h0m-1.3 6.2h0m0.2-16.2h0m0.5 24.3h0m-1.7-9.8h0m-2.5 4.9h0m1.9 2.3h0m2.6 4.8h0m-2.8-2.2h0m-0.5-0.3h0m-0.9-17.1h0m2.3 13.5h0m2.1-16h0m-3 0.7h0m0.1 13.7h0m-2.6-16.2h0m1 9.6h0m0.8 0.1h0m-2.2 7.2h0m3.1-11.9h0m0.2-0.1h0m0.5 24.8h0m-1.3-21.4h0m11.8-112.2h0m-1.6 13.5h0m-0.4-0.7h0m0.9-5.4h0m1.4-5.5h0m1.8 1.4h0m-4.2 4.9h0m0.4 6.6h0m4.7-3.9h0m-5.6 0.5h0m-0.6-12.2h0m0 5.2h0m2.1 8.7h0m-1.8 4.2h0m0.8-12.1h0m-0.5-5.7h0m1.2 11.5h0m1.9 2.8h0m12.7-22.2h0m-0.7 3.9h0m0 9.2h0m0.3-6.6h0m-0.5 6.9h0m1.1-9.1h0m-5.8 4.1h0m3.3-2.3h0m3.1 8.3h0m-1.2-2.2h0m0.6-2.7h0m-2.8 1.7h0m0-0.8h0m-0.4-2.7h0m1.1 3.9h0m1.5-1h0m0.4-7.1h0m-4.4 9.6h0m20.7 184.6h0m1.9-2.6h0m-3.4-0.7h0m38.7-38.8h0m0 21.7h0m-2.8-19.5h0m3.3 15h0m-2.4-8.8h0m-0.4 5.3h0m0.3-27h0m3 42.3h0m-2.1 6.7h0m-1.9-19.3h0m-0.3 12.8h0m4-34.1h0m-5.7 28.8h0m1.9 9.9h0m1.3-0.9h0m2.1-32.4h0m-3-6.8h0m1.2 25h0m-0.6-21.2h0m1.9 16.9h0m1.1-7.9h0m-1-6.3h0m0.5 22.6h0m-1.4-8.1h0m1.3-24.2h0m-4 29.1h0m1.5-10.6h0m-2.2 16.7h0m3-11.3h0m2.4 13.1h0m-2.4-3.3h0m1-28.1h0m-3.2 13.1h0m0 5.4h0m3.6 0.9h0m-4.3 21.5h0m2-9.1h0m1-0.4h0m-0.8-8.8h0m-0.8-28.3h0m9.3-18.9h0m-0.1-12.5h0m-0.1-6.2h0m4.9 10.8h0m-1.4-6.3h0m-4.1 12.3h0m5.1 6h0m-2.8 4.8h0m-1.2-27.8h0m4.9 19.2h0m-2.1-6.5h0m-1.4 14.2h0m-2.2-19.9h0m6.1-1.7h0m-3.5 24.3h0m-2.7-3.8h0m6-0.4h0m-0.2-13.7h0m-0.6 15.9h0m1-3.1h0m-3.1-22.6h0m-0.7 7.5h0m2.2 12.3h0m1-5.1h0m-2.6-9h0m-2.1 8.4h0m1.2 12h0m-0.4-22.9h0m1.6 17.1h0m-1-1.1h0m-1.7 1.5h0m4.7-6.7h0m-4.3 8.5h0m0.6-13.7h0m2.6 7.6h0m-2.2-3.2h0m-1.6-7.9h0m1.2-5.6h0m1.1 13.5h0m2.7 9.4h0m7.9-116.8h0m2.5 4.3h0m-3.5-9.2h0m0.2-0.5h0m1.5 8.6h0m-1.3-8.2h0m4.3-0.5h0m-4.4 11.3h0m2.4-1.8h0m-3.2-5.6h0m2.6-8.6h0m1.7 15.7h0m-2.6-3.2h0m-0.5 2.9h0m0.6 2.1h0m3.1-9.3h0m-3.6 1.3h0m1.6 3.2h0m9.9-9.2h0m-2 2.5h0m1.6-4.8h0m2.8-0.5h0m-3-2.5h0m3.3 13.3h0m0.8-17.5h0m-4.1 5.2h0m-1.7 4.3h0m2.2 1.3h0m0.4 4h0m-1.1-2.8h0m4 2.6h0m-4.4-2.6h0m-0.5-11.3h0m4-1.5h0m-4.5 12.8h0m1.1-8.1h0m20.6 194.6h0m0 1.2h0m2.2-1.3h0m22-135.7h0m1-3h0m-0.3 5.8h0m9 90.7h0m2.9-13.9h0m-3.3 31.7h0m2.1-31.6h0m-3.7 23h0m5 8.5h0m-3.9-7.9h0m-0.9-15.9h0m4.1 38.4h0m0.9 7.6h0m-3.7-39.2h0m1 4.2h0m2.1-10.3h0m0.6 34.3h0m-5.2 1.9h0m4.3 0.5h0m1.6 4.8h0m-5.4-26.9h0m3.9 8.4h0m0.7 5.4h0m1.1-3.5h0m-2.3-22.6h0m-3.9 33.4h0m2-8.8h0m-0.3 6.1h0m-1.1-15.6h0m0.6 12.7h0m0.1 17.5h0m4.6-6h0m-3.9-16.4h0m-1.4 8.9h0m4.5-2.3h0m-1.8-2.5h0m0.8-6.6h0m-0.4 10.9h0m1.5 17.6h0m-4.8-34.7h0m0.6 10.8h0m-1-19.3h0m4.4 17.5h0m9.4-53.2h0m0.2-0.4h0m-0.7 1.5h0m-2.4 6.1h0m6.6-2.3h0m-1.8 5.3h0m1.7 6.6h0m-3.3 0.4h0m-0.3-4h0m-2.9-10.3h0m6.1-11h0m0.1 32h0m-1.9 3.8h0m-3.4-17.4h0m-0.8-11.9h0m1.8 7.2h0m-0.7 34.4h0m5-10.1h0m-5.1 3.6h0m3.8-29.7h0m-2.8 35.4h0m0-40.7h0m0.3-15.3h0m3.1 41.4h0m-4-9.6h0m2.7-24.5h0m1.2 14.5h0m0.9 14.7h0m-3 23.4h0m-1.3-23.6h0m1.8-9.3h0m-2.8-21h0m1.9 9.4h0m-2.7 4.9h0m2.7 8h0m-2.9-10.4h0m5.6-14.4h0m-2.8 6.5h0m-1 38.9h0m1-11.9h0m10.6-112.5h0m3.3 1.7h0m0.5-9.4h0m-3.1 0.6h0m0.8-1.4h0m-3.2 5.4h0m1.6-4.5h0m3.9 0.7h0m0.4-6.9h0m-6.1 12.7h0m4.2 2.2h0m-0.7-2.9h0m2.5-0.6h0m-4.4 4.4h0m0.3-7.8h0m10.2-14.9h0m3.3 1.9h0m-0.1 1.4h0m-2-3.1h0m1.1 6h0m0.2-2.3h0m-2.6-0.7h0m4.8-3.9h0m-0.2 4.4h0m-4.1-1.9h0m0-6.6h0m1.6 1.8h0m0.6 7.9h0m-3.1-2.5h0m-0.2 6.2h0m2.2-7h0m3-6.1h0m-2.1 2.8h0m17 194.5h0m5.9 4.1h0m-1.1-5.1h0m19.5-132.8h0m1.1-5.4h0m1.4-3.4h0m6.4 100.7h0m1.2-2.2h0m2.4 17.5h0m-2.5-3h0m1.4 7.5h0m3.1-24.2h0m-2.2 28.5h0m-2.6-31.8h0m3.8 33.8h0m-0.4-1h0m1-28.7h0m-0.6 8.9h0m1.4 0.3h0m-2.3 8.9h0m-3.4 2.9h0m0.1 0.4h0m1-20.4h0m-0.5 24.7h0m2.6-12.9h0m-3.1 2.7h0m4.6 0.3h0m-3.4-4.5h0m2.7-8.2h0m1.2 19.4h0m-2.2-9.7h0m2.7 12.9h0m-5.3-15h0m2.3 5.8h0m-3.1-14.4h0m1 31.1h0m1.4-23.5h0m3 12h0m-3-5.4h0m-2.1-10.6h0m1.7 23.8h0m1.7-17.5h0m-3.7-19.9h0m2.9 19.7h0m0.7-4.5h0m7.4 4.3h0m3.8-32.1h0m-0.8 17.2h0m3.6-6.8h0m-2.2-8.8h0m-2.6 9.3h0m-0.1 8h0m2.1-32.6h0m2.8 34.9h0m-1.5-37.1h0m0.7 24h0m-1.6 1.4h0m-1.8 39.4h0m3.4-25.6h0m0.4-51.2h0m-1.1 51.3h0m-0.2 10.2h0m-2.6 15.8h0m1.3-32.7h0m-1.4 5.2h0m-0.1-12h0m0.3-23.1h0m-0.8 30h0m-0.7-4.2h0m-0.9-20.4h0m2.9 4h0m0.9 38h0m-3.4-14.7h0m1.6-18.8h0m1.6 28.2h0m2.6-50.9h0m-2.3 66.4h0m-3.4-76.1h0m6.1 32.5h0m-4.3-15.1h0m3.5 25.1h0m-5.4 29.5h0m1.4-28.6h0m-0.8 3.3h0m0.7-5.5h0m12.1-118.8h0m-1.3 2.7h0m3 5.3h0m-3-2.3h0m2.7-5.4h0m1.8-6.9h0m-3.6 0.5h0m1.3 2.5h0m2.3-0.3h0m-4.4 11h0m0.7 1.7h0m0.6-9.9h0m1.8 8.2h0m-1.8-7.2h0m-2.5-2.7h0m3.1 5.3h0m0.7 0h0m-4-3.4h0m17.4-4.4h0m-5.9 20.6h0m1.8 5.8h0m-1.5-1.8h0m4.5-15.4h0m-4.6-1.8h0m3.1 0.6h0m0.3 15.6h0m0.1-7.6h0m-2.3 5.7h0m3-25.4h0m-2.7 14.7h0m1-1h0m3.3 4.1h0m-5.5-15h0m3.5 0.7h0m0.8 12.1h0m-3.6-14.9h0m-1.4 15.5h0m0.7 5.1h0m2.9-17.4h0m-2.5 7.5h0m-0.3-5.1h0m0.2 14.1h0m-0.1-2.1h0m0.6-13.6h0m4.9 8.1h0m-4.3 3.5h0m-0.1-3.9h0m3.9 15.9h0m-5.6-26.3h0m3.9 2.8h0m-4 3.7h0m5.8 18.6h0m0.2-6.2h0m-4.7 1.1h0m20 159.1h0m-0.4 0.5h0m3.7-3.1h0m35.2 4h0m-5.2 3.2h0m4.3-3.1h0m0.1-6.9h0m-0.3-1.6h0m-3.7-45h0m4.1 54.3h0m-4.9-38.3h0m2 38.1h0m0.8 16.5h0m2.1-42.5h0m-3.5 23.7h0m-1.2-20.3h0m4.5 56.9h0m-5.6-68.4h0m0.6 21.2h0m5.4-4h0m-5.1 3.9h0m0.1 0.4h0m3.4 10.1h0m1.6-29.8h0m-1.3 6.8h0m-4.6 39.6h0m4.4-31.8h0m-3.1-12.7h0m1.3 10h0m3.8 3h0m-4.5 0.8h0m1.1-5.9h0m-2.3 17.5h0m3.6 5.3h0m-3.6-20.5h0m-0.2 8.8h0m1.6 26.6h0m0 26h0m-0.9-56h0m3.5 7.4h0m-3.2-4h0m-1.3-17.3h0m2.3-12.9h0m12.2-33.7h0m0.9 9.7h0m-0.3-4.8h0m0.3 30.9h0m1.9-20.3h0m-3.9-34.1h0m-0.5 52.4h0m0.4 28.4h0m0-85.1h0m4.1 41.3h0m-6.6-17.8h0m1.7 48.3h0m2.3-8.1h0m-2.7-20.9h0m-0.6-24.5h0m5.3-10.4h0m-5.7 56.5h0m4-26.9h0m-0.7 12.3h0m-3.7 5.5h0m3.5-24.3h0m0.5 45h0m0.3-62.6h0m0.7 17.5h0m-2.3 26.1h0m0.9-52h0m-1.4 52h0m2.1-3.8h0m-0.1-6.9h0m-2.4-11.5h0m3.1-26.6h0m-1.4 36.5h0m-2.5 2h0m5.3-18.7h0m-2.7 30.3h0m1.9-22.8h0m0.1-6.1h0m-2.5-13.3h0m2.9 42h0m-0.1 6h0m10.9-130.2h0m-0.1 6.6h0m-3.8-1.4h0m-1 0.1h0m2.8 14.9h0m-0.4-24.8h0m3.6 5.5h0m-2 3.2h0m0.7 15.7h0m-0.3-14.1h0m-2.6-5.2h0m1-3.2h0m-1.2 11.2h0m0.3-8.7h0m1.3 2.9h0m-3.5 5.8h0m1.5-6.1h0m0.3-7.2h0m-1.5 13.1h0m3.6-17.6h0m-1.4 14.4h0m2.5 9.2h0m-5.1 1.9h0m2.7-0.6h0m-1 4h0m0.8-21.8h0m-0.4 22.1h0m0.2 3.7h0m-1.3-8h0m1.2-21.6h0m2 18h0m11.8-18.9h0m-2.5-3.4h0m3.5 9.8h0m-1-6.4h0m-2-9.8h0m0 7.2h0m0.1-2.2h0m2.8 9.3h0m-2.5 1.4h0m2.1-9.9h0m-2.9 8h0m-2.4 4.2h0m4.9-5.9h0m0 4h0m-4.6-10.9h0m4.9 0.3h0m-0.4 0.8h0m-1.3 0.6h0m1-7.6h0m-1.5 6h0" stroke="#000" stroke-opacity="0.5" stroke-width="2.4" stroke-linecap="round" fill="none"/>
<ellipse cx="1083" cy="286.2" rx="3.4" ry="14" fill-opacity="0.7"/><ellipse cx="1094.2" cy="242.4" rx="3.4" ry="13.1" fill-opacity="0.7"/><ellipse cx="1105.4" cy="135.8" rx="3.4" ry="6.5" fill-opacity="0.7"/><ellipse cx="1116.6" cy="126.3" rx="3.4" ry="5.7" fill-opacity="0.7"/><ellipse cx="1170.1" cy="286.2" rx="3.4" ry="14" fill-opacity="0.7"/><ellipse cx="1181.3" cy="242.4" rx="3.4" ry="13.1" fill-opacity="0.7"/><ellipse cx="1192.5" cy="135.8" rx="3.4" ry="6.5" fill-opacity="0.7"/><ellipse cx="1203.7" cy="126.3" rx="3.4" ry="5.7" fill-opacity="0.7"/><ellipse cx="1257.2" cy="286.2" rx="3.4" ry="14" fill-opacity="0.7"/><ellipse cx="1268.4" cy="242.4" rx="3.4" ry="13.1" fill-opacity="0.7"/><ellipse cx="1279.6" cy="135.8" rx="3.4" ry="6.5" fill-opacity="0.7"/><ellipse cx="1290.8" cy="126.3" rx="3.4" ry="5.7" fill-opacity="0.7"/><ellipse cx="1344.3" cy="286.2" rx="3.4" ry="14" fill-opacity="0.7"/><ellipse cx="1355.5" cy="242.4" rx="3.4" ry="13.1" fill-opacity="0.7"/><ellipse cx="1366.7" cy="135.8" rx="3.4" ry="6.5" fill-opacity="0.7"/><ellipse cx="1377.9" cy="126.3" rx="3.4" ry="5.7" fill-opacity="0.7"/><ellipse cx="1431.4" cy="300.5" rx="3.4" ry="14" fill-opacity="0.7"/><ellipse cx="1442.6" cy="257.7" rx="3.4" ry="13.1" fill-opacity="0.7"/><ellipse cx="1453.8" cy="147.9" rx="3.4" ry="5.7" fill-opacity="0.7"/><ellipse cx="1465" cy="137.8" rx="3.4" ry="5.7" fill-opacity="0.7"/><ellipse cx="1518.5" cy="300.5" rx="3.4" ry="14" fill-opacity="0.7"/><ellipse cx="1529.7" cy="257.7" rx="3.4" ry="13.1" fill-opacity="0.7"/><ellipse cx="1540.9" cy="147.9" rx="3.4" ry="5.7" fill-opacity="0.7"/><ellipse cx="1552.1" cy="137.8" rx="3.4" ry="5.7" fill-opacity="0.7"/><ellipse cx="1605.6" cy="304.8" rx="3.4" ry="14" fill-opacity="0.7"/><ellipse cx="1616.8" cy="263.9" rx="3.4" ry="14" fill-opacity="0.7"/><ellipse cx="1628" cy="156.4" rx="3.4" ry="4.9" fill-opacity="0.7"/><ellipse cx="1639.2" cy="141.7" rx="3.4" ry="5.7" fill-opacity="0.7"/><ellipse cx="1692.7" cy="305.4" rx="3.4" ry="12.3" fill-opacity="0.7"/><ellipse cx="1703.9" cy="282.2" rx="3.4" ry="14" fill-opacity="0.7"/><ellipse cx="1715.1" cy="157.1" rx="3.4" ry="5.7" fill-opacity="0.7"/><ellipse cx="1726.3" cy="165.6" rx="3.4" ry="11.4" fill-opacity="0.7"/><ellipse cx="1779.8" cy="318.8" rx="3.4" ry="14" fill-opacity="0.7"/><ellipse cx="1791" cy="264.6" rx="3.4" ry="14" fill-opacity="0.7"/><ellipse cx="1802.2" cy="177.3" rx="3.4" ry="9.8" fill-opacity="0.7"/><ellipse cx="1813.4" cy="160" rx="3.4" ry="6.5" fill-opacity="0.7"/>
<g fill="#000"><ellipse cx="1049.4" cy="332.6" rx="3" ry="2"/><ellipse cx="1060.6" cy="392.4" rx="4" ry="2.6"/><ellipse cx="1071.8" cy="185.2" rx="4" ry="2.6"/><ellipse cx="1083" cy="286.2" rx="2.5" ry="4"/><ellipse cx="1094.2" cy="242.4" rx="2.5" ry="4"/><ellipse cx="1105.4" cy="135.8" rx="2.5" ry="2.6"/><ellipse cx="1116.6" cy="126.3" rx="2.5" ry="2.3"/><ellipse cx="1136.5" cy="332.6" rx="3" ry="2"/><ellipse cx="1147.7" cy="392.4" rx="4" ry="2.6"/><ellipse cx="1158.9" cy="185.2" rx="4" ry="2.6"/><ellipse cx="1170.1" cy="286.2" rx="2.5" ry="4"/><ellipse cx="1181.3" cy="242.4" rx="2.5" ry="4"/><ellipse cx="1192.5" cy="135.8" rx="2.5" ry="2.6"/><ellipse cx="1203.7" cy="126.3" rx="2.5" ry="2.3"/><ellipse cx="1223.6" cy="332.6" rx="3" ry="2"/><ellipse cx="1234.8" cy="392.4" rx="4" ry="2.6"/><ellipse cx="1246" cy="185.2" rx="4" ry="2.6"/><ellipse cx="1257.2" cy="286.2" rx="2.5" ry="4"/><ellipse cx="1268.4" cy="242.4" rx="2.5" ry="4"/><ellipse cx="1279.6" cy="135.8" rx="2.5" ry="2.6"/><ellipse cx="1290.8" cy="126.3" rx="2.5" ry="2.3"/><ellipse cx="1310.7" cy="332.6" rx="3" ry="2"/><ellipse cx="1321.9" cy="392.4" rx="4" ry="2.6"/><ellipse cx="1333.1" cy="185.2" rx="4" ry="2.6"/><ellipse cx="1344.3" cy="286.2" rx="2.5" ry="4"/><ellipse cx="1355.5" cy="242.4" rx="2.5" ry="4"/><ellipse cx="1366.7" cy="135.8" rx="2.5" ry="2.6"/><ellipse cx="1377.9" cy="126.3" rx="2.5" ry="2.3"/><ellipse cx="1397.8" cy="328" rx="3" ry="2"/><ellipse cx="1409" cy="391.4" rx="3.8" ry="2.6"/><ellipse cx="1420.2" cy="193.3" rx="4" ry="2.6"/><ellipse cx="1431.4" cy="300.5" rx="2.5" ry="4"/><ellipse cx="1442.6" cy="257.7" rx="2.5" ry="4"/><ellipse cx="1453.8" cy="147.9" rx="2.5" ry="2.3"/><ellipse cx="1465" cy="137.8" rx="2.5" ry="2.3"/><ellipse cx="1484.9" cy="328.6" rx="3" ry="2"/><ellipse cx="1496.1" cy="392.1" rx="3.8" ry="2.6"/><ellipse cx="1507.3" cy="192.4" rx="4" ry="2.6"/><ellipse cx="1518.5" cy="300.5" rx="2.5" ry="4"/><ellipse cx="1529.7" cy="257.7" rx="2.5" ry="4"/><ellipse cx="1540.9" cy="147.9" rx="2.5" ry="2.3"/><ellipse cx="1552.1" cy="137.8" rx="2.5" ry="2.3"/><ellipse cx="1572" cy="329.6" rx="3" ry="2"/><ellipse cx="1583.2" cy="390.4" rx="3.8" ry="2.6"/><ellipse cx="1594.4" cy="196" rx="3" ry="2"/><ellipse cx="1605.6" cy="304.8" rx="2.5" ry="4"/><ellipse cx="1616.8" cy="263.9" rx="2.5" ry="4"/><ellipse cx="1628" cy="156.4" rx="2.5" ry="2.2"/><ellipse cx="1639.2" cy="141.7" rx="2.5" ry="2.3"/><ellipse cx="1659.1" cy="332.2" rx="3" ry="2"/><ellipse cx="1670.3" cy="390.4" rx="3.8" ry="2.6"/><ellipse cx="1681.5" cy="198.2" rx="3" ry="2"/><ellipse cx="1692.7" cy="305.4" rx="2.5" ry="4"/><ellipse cx="1703.9" cy="282.2" rx="2.5" ry="4"/><ellipse cx="1715.1" cy="157.1" rx="2.5" ry="2.3"/><ellipse cx="1726.3" cy="165.6" rx="2.5" ry="4"/><ellipse cx="1746.2" cy="328.6" rx="3" ry="2"/><ellipse cx="1757.4" cy="390.1" rx="4" ry="2.6"/><ellipse cx="1768.6" cy="201.2" rx="4" ry="2.6"/><ellipse cx="1779.8" cy="318.8" rx="2.5" ry="4"/><ellipse cx="1791" cy="264.6" rx="2.5" ry="4"/><ellipse cx="1802.2" cy="177.3" rx="2.5" ry="3.9"/><ellipse cx="1813.4" cy="160" rx="2.5" ry="2.6"/></g>
<path d="M1102.34 83.67V76.17H1115.84V83.67M1189.44 83.67V76.17H1202.94V83.67M1276.54 83.67V76.17H1290.04V83.67M1363.64 83.67V76.17H1377.14V83.67M1450.74 83.67V76.17H1464.24V83.67M1537.84 83.67V76.17H1551.34V83.67M1624.94 83.67V76.17H1638.44V83.67M1712.04 83.67V76.17H1725.54V83.67M1799.14 83.67V76.17H1812.64V83.67" stroke="#000" stroke-width="1.5" fill="none"/>
<g font-size="11.48" text-anchor="middle" fill="#000"><text x="1109.09" y="73.67">p &lt; 0.001</text><text x="1196.19" y="73.67">p &lt; 0.001</text><text x="1283.29" y="73.67">p &lt; 0.001</text><text x="1370.39" y="73.67">p &lt; 0.001</text><text x="1457.49" y="73.67">p &lt; 0.001</text><text x="1544.59" y="73.67">p &lt; 0.001</text><text x="1631.69" y="73.67">p &lt; 0.001</text><text x="1718.79" y="73.67">p = 1.000</text><text x="1805.89" y="73.67">p &lt; 0.001</text></g>
<path d="M1031 50.57V422.75H1832" stroke="#000" stroke-width="1.9" fill="none" stroke-linejoin="round"/>
<path d="M1025.7 409.7H1031M1025.7 327.99H1031M1025.7 246.28H1031M1025.7 164.58H1031M1025.7 82.87H1031M1083 422.75V428.05M1170.1 422.75V428.05M1257.2 422.75V428.05M1344.3 422.75V428.05M1431.4 422.75V428.05M1518.5 422.75V428.05M1605.6 422.75V428.05M1692.7 422.75V428.05M1779.8 422.75V428.05" stroke="#333" stroke-width="1.9" fill="none"/>
<g font-size="23.27" fill="#4D4D4D">
<text x="1021.6" y="418.7" text-anchor="end">0</text>
<text x="1021.6" y="336.99" text-anchor="end">25</text>
<text x="1021.6" y="255.28" text-anchor="end">50</text>
<text x="1021.6" y="173.58" text-anchor="end">75</text>
<text x="1021.6" y="91.87" text-anchor="end">100</text>
<text x="1083" y="449.3" text-anchor="middle">1</text>
<text x="1170.1" y="449.3" text-anchor="middle">2</text>
<text x="1257.2" y="449.3" text-anchor="middle">4</text>
<text x="1344.3" y="449.3" text-anchor="middle">8</text>
<text x="1431.4" y="449.3" text-anchor="middle">16</text>
<text x="1518.5" y="449.3" text-anchor="middle">24</text>
<text x="1605.6" y="449.3" text-anchor="middle">48</text>
<text x="1692.7" y="449.3" text-anchor="middle">96</text>
<text x="1779.8" y="449.3" text-anchor="middle">192</text>
</g>
<text x="1431.5" y="32.3" font-size="38.61" font-weight="bold" text-anchor="middle">TriNetX 90% Sensitivity</text>
<text x="1431.5" y="479.6" font-size="27.03" font-weight="bold" text-anchor="middle">Prediction Horizon [min. hours before event]</text>
<text transform="translate(970.8 236.66) rotate(-90)" font-size="27.03" font-weight="bold" text-anchor="middle">Specificity at 90 % Sensitivity [%]</text>
<g stroke="#000" stroke-width="1.9" stroke-dasharray="2.05 6.3" fill="none">
<line x1="80.5" y1="921.9" x2="868.2" y2="921.9"/>
<line x1="80.5" y1="839.62" x2="868.2" y2="839.62"/>
<line x1="80.5" y1="757.34" x2="868.2" y2="757.34"/>
<line x1="80.5" y1="675.05" x2="868.2" y2="675.05"/>
<line x1="80.5" y1="592.77" x2="868.2" y2="592.77"/>
<line x1="131.8" y1="935.45" x2="131.8" y2="591.27"/>
<line x1="217.49" y1="935.45" x2="217.49" y2="591.27"/>
<line x1="303.18" y1="935.45" x2="303.18" y2="591.27"/>
<line x1="388.87" y1="935.45" x2="388.87" y2="591.27"/>
<line x1="474.56" y1="935.45" x2="474.56" y2="591.27"/>
<line x1="560.25" y1="935.45" x2="560.25" y2="591.27"/>
<line x1="645.94" y1="935.45" x2="645.94" y2="591.27"/>
<line x1="731.63" y1="935.45" x2="731.63" y2="591.27"/>
<line x1="817.32" y1="935.45" x2="817.32" y2="591.27"/>
</g>
<g stroke="#000" stroke-width="1.45"><rect x="126.29" y="890.63" width="11.02" height="31.27" fill="#3C5488"/><rect x="137.31" y="790.25" width="11.02" height="131.65" fill="#F39B7F"/><rect x="148.33" y="639.18" width="11.02" height="282.72" fill="#8491B4"/><rect x="159.34" y="627.66" width="11.02" height="294.24" fill="#91D1C2"/><rect x="211.98" y="890.63" width="11.02" height="31.27" fill="#3C5488"/><rect x="223" y="784.98" width="11.02" height="136.92" fill="#F39B7F"/><rect x="234.02" y="639.51" width="11.02" height="282.39" fill="#8491B4"/><rect x="245.03" y="626.67" width="11.02" height="295.23" fill="#91D1C2"/><rect x="297.67" y="890.63" width="11.02" height="31.27" fill="#3C5488"/><rect x="308.69" y="771.16" width="11.02" height="150.74" fill="#F39B7F"/><rect x="319.71" y="640.82" width="11.02" height="281.08" fill="#8491B4"/><rect x="330.72" y="627.33" width="11.02" height="294.57" fill="#91D1C2"/><rect x="383.36" y="890.96" width="11.02" height="30.94" fill="#3C5488"/><rect x="394.38" y="792.55" width="11.02" height="129.35" fill="#F39B7F"/><rect x="405.4" y="642.47" width="11.02" height="279.43" fill="#8491B4"/><rect x="416.41" y="627.66" width="11.02" height="294.24" fill="#91D1C2"/><rect x="469.05" y="892.28" width="11.02" height="29.62" fill="#3C5488"/><rect x="480.07" y="793.54" width="11.02" height="128.36" fill="#F39B7F"/><rect x="491.09" y="658.93" width="11.02" height="262.97" fill="#8491B4"/><rect x="502.1" y="642.8" width="11.02" height="279.1" fill="#91D1C2"/><rect x="554.74" y="892.28" width="11.02" height="29.62" fill="#3C5488"/><rect x="565.76" y="800.12" width="11.02" height="121.78" fill="#F39B7F"/><rect x="576.78" y="666.5" width="11.02" height="255.4" fill="#8491B4"/><rect x="587.79" y="659.58" width="11.02" height="262.32" fill="#91D1C2"/><rect x="640.43" y="893.92" width="11.02" height="27.98" fill="#3C5488"/><rect x="651.45" y="813.95" width="11.02" height="107.95" fill="#F39B7F"/><rect x="662.47" y="673.08" width="11.02" height="248.82" fill="#8491B4"/><rect x="673.48" y="666.5" width="11.02" height="255.4" fill="#91D1C2"/><rect x="726.12" y="903.8" width="11.02" height="18.1" fill="#3C5488"/><rect x="737.14" y="813.29" width="11.02" height="108.61" fill="#F39B7F"/><rect x="748.16" y="695.46" width="11.02" height="226.44" fill="#8491B4"/><rect x="759.17" y="683.28" width="11.02" height="238.62" fill="#91D1C2"/><rect x="811.81" y="893.27" width="11.02" height="28.63" fill="#3C5488"/><rect x="822.83" y="854.1" width="11.02" height="67.8" fill="#F39B7F"/><rect x="833.85" y="697.76" width="11.02" height="224.14" fill="#8491B4"/><rect x="844.86" y="689.53" width="11.02" height="232.37" fill="#91D1C2"/></g>
<g stroke="#000" stroke-width="2.2"><line x1="93.24" y1="921.9" x2="104.26" y2="921.9"/><line x1="104.26" y1="921.9" x2="115.27" y2="921.9"/><line x1="115.27" y1="921.9" x2="126.29" y2="921.9"/><line x1="178.93" y1="921.9" x2="189.95" y2="921.9"/><line x1="189.95" y1="921.9" x2="200.96" y2="921.9"/><line x1="200.96" y1="921.9" x2="211.98" y2="921.9"/><line x1="264.62" y1="921.9" x2="275.64" y2="921.9"/><line x1="275.64" y1="921.9" x2="286.65" y2="921.9"/><line x1="286.65" y1="921.9" x2="297.67" y2="921.9"/><line x1="350.31" y1="921.9" x2="361.33" y2="921.9"/><line x1="361.33" y1="921.9" x2="372.34" y2="921.9"/><line x1="372.34" y1="921.9" x2="383.36" y2="921.9"/><line x1="436" y1="921.9" x2="447.02" y2="921.9"/><line x1="447.02" y1="921.9" x2="458.03" y2="921.9"/><line x1="458.03" y1="921.9" x2="469.05" y2="921.9"/><line x1="521.69" y1="921.9" x2="532.71" y2="921.9"/><line x1="532.71" y1="921.9" x2="543.72" y2="921.9"/><line x1="543.72" y1="921.9" x2="554.74" y2="921.9"/><line x1="607.38" y1="921.9" x2="618.4" y2="921.9"/><line x1="618.4" y1="921.9" x2="629.41" y2="921.9"/><line x1="629.41" y1="921.9" x2="640.43" y2="921.9"/><line x1="693.07" y1="921.9" x2="704.09" y2="921.9"/><line x1="704.09" y1="921.9" x2="715.1" y2="921.9"/><line x1="715.1" y1="921.9" x2="726.12" y2="921.9"/><line x1="778.76" y1="921.9" x2="789.78" y2="921.9"/><line x1="789.78" y1="921.9" x2="800.79" y2="921.9"/><line x1="800.79" y1="921.9" x2="811.81" y2="921.9"/></g>
<path d="M120.8 921.9V708M131.8 906.1V869.2M142.8 823.2V722.8M153.8 647.4V630.9M164.9 637.5V617.8M206.5 921.9V708M217.5 906.1V869.2M228.5 816.6V722.8M239.5 647.7V631.3M250.5 636.5V616.8M292.2 921.9V708M303.2 906.1V869.2M314.2 813.3V715.9M325.2 649.1V632.6M336.2 637.2V617.5M377.9 921.9V709M388.9 906.1V869.2M399.9 816.6V722.8M410.9 650.7V634.2M421.9 637.5V617.8M463.5 921.9V720.5M474.6 906.1V873.8M485.6 823.2V731M496.6 672.1V645.8M507.6 656V629.6M560.2 906.1V873.8M571.3 829.7V749.4M582.3 679.7V653.3M593.3 672.7V646.4M645.9 906.1V874.8M657 839.6V773.8M668 689.5V656.6M679 683V650M731.6 907.1V876.2M742.6 839.6V789.6M753.7 715.2V675.7M764.7 703V663.5M817.3 905.4V877.5M828.3 875.8V813.9M839.4 720.8V674.7M850.4 709.3V666.5" stroke="#000" stroke-width="1.6" fill="none"/>
<g fill="#000" fill-opacity="0.38"></g>
<path d="M120.2 703.2h0m1.1 3.1h0m1.9-4.4h0m7.5 198.8h0m-2.2-13.7h0m1.8-17.3h0m0.3 26.7h0m3.6 0.3h0m-2.3-11.1h0m10.4-94.8h0m2.9-20.8h0m-0.4 13.5h0m-4-5.3h0m-0.9 27.2h0m2.7 8.5h0m0.1-18.1h0m2.1 15.2h0m-4-8.7h0m-0.9-40h0m1.7 43.5h0m1.6 9.6h0m-1.5-19.8h0m-0.3 1.2h0m2.8-50.8h0m-1.7 33.4h0m3.2 42.6h0m-5.8-42.2h0m-0.1 43.2h0m5.4-47.2h0m-4.5-16h0m4.9 15.7h0m-2.8 24.9h0m-1.3 7.2h0m-1-24.3h0m5.1-39.5h0m-5.5 43.4h0m4.6-8.1h0m-0.8-13.6h0m-2.7 32.6h0m-0.7-39.6h0m-0.6 53h0m5.1-18.8h0m-3.5 4.5h0m0.1-10.6h0m1.6-29.3h0m-1.5 1.6h0m3.4-14.2h0m0.9 19.5h0m-3.9-10.7h0m12.7-118.3h0m-2.8 3.2h0m1.6 2.5h0m1.7-1.2h0m-4 5.1h0m4.7-8.3h0m1.1-4h0m-0.4 0.2h0m-3.9 9.8h0m2.7-2.8h0m-4.4-0.6h0m3.4 8.3h0m-0.4-9h0m9.2-13h0m4.2 0.8h0m0.2-0.5h0m-5.9 4.9h0m2 1.6h0m-1.9-11.3h0m1.8 9.2h0m2.8 1.1h0m-3.8-4.7h0m-0.7 0.2h0m3.2 5h0m1.6-9.2h0m-1.3 1.6h0m-0.6 4.8h0m-2.7-1.6h0m44.8 81.7h0m-1.5 0.4h0m-1.2 2h0m16.1 188.4h0m-0.6-5.9h0m-2.4-20h0m-2.6 26.7h0m0.2-26.9h0m2.7 14.1h0m8.3-127.3h0m2.7 38.2h0m-0.1-16.5h0m-0.7 13.2h0m-1.4-22h0m4.5-0.5h0m-2.5-0.4h0m2.9 9.3h0m-3 5.8h0m1.4-10.4h0m-3.1 37.3h0m0.2-29.5h0m-1.5 13.5h0m1.7 8.7h0m4-39.8h0m-4.4-9h0m2.4 11h0m-3.5 7.7h0m6.1 7.4h0m-6.2-31.2h0m5.1 58.2h0m-3.1-2.2h0m3.8-34h0m-6 33.9h0m2.6-46.7h0m-2.1 31.3h0m3.9-10.1h0m-3.5-36.8h0m0.3 45.3h0m0.2-17.9h0m5.1 41.9h0m-1.4-87.1h0m0 83.2h0m0.8-30.8h0m-4.7 3.2h0m3.9 19.5h0m-2.9-37.9h0m-1.2-1.8h0m3.8-13.8h0m-4 41.8h0m16.1-157.6h0m-0.7 4.8h0m-1.4 7.6h0m1.3-0.7h0m0.6-10.1h0m-2.3 6.2h0m2.9-4.3h0m-1.2 1.8h0m-3.6-0.6h0m-0.3-7.9h0m2 10.7h0m2.7-3.7h0m-3.4 3.4h0m13.6-8.3h0m1.1-9.2h0m-0.8 9.3h0m-1.2-5.5h0m1.3-2.9h0m0 4.7h0m-0.3-9.1h0m-5.2-0.1h0m0.7 5.5h0m3.2-1.8h0m-0.9 6.7h0m-0.7-3h0m3.2-4.7h0m-5 6h0m1.2-0.2h0m44.2 79.5h0m1 2.4h0m-5.1-7.1h0m12 171.5h0m5.1 20.3h0m-4.8-3.4h0m2.5-19.4h0m-1.4-0.1h0m3.7 14.5h0m8-141.9h0m2.2 9.6h0m-4.4 16.9h0m0.1-0.5h0m5-0.5h0m-4.5-7.6h0m1.9 14.2h0m2.1-15.7h0m0.4 32.6h0m-0.2-21.6h0m-1.8 2.8h0m-1.2 3.5h0m1.5-30.6h0m-0.2 28.3h0m0.3 15h0m1.5-41.9h0m0.4 44h0m-6-23.4h0m3.3-18.5h0m-0.7 50.6h0m1.8-32.2h0m-2.7 0.4h0m-1.2 6.5h0m0-55.6h0m3 64h0m-1.3-8.3h0m2.3-3.1h0m0.1 8.9h0m-3.1 2.9h0m4.6 9.1h0m-2.2-17.5h0m-1.8-19.3h0m3.9 46.8h0m-4.6-25.1h0m-0.7 26.8h0m4.1 4.4h0m-2.9-19.8h0m3.5-39.5h0m-4.7-3.8h0m1 23.6h0m9.3-128.9h0m6-1.3h0m0-5h0m-0.2 2.5h0m-4.9-1.9h0m-0.6 5.1h0m1-5.9h0m4.7 7.2h0m-4.6-5.7h0m1.2 0h0m2.2 0.7h0m-3.1 6.8h0m1-9h0m11.6-16.3h0m-1.9 10.8h0m0.6 3.3h0m-0.5-12.5h0m2.3 8.2h0m-3.9-2.5h0m5.2-8.9h0m0.7 12.6h0m-4.4-2.3h0m1.9-1.9h0m1.3-1.8h0m0.4 4.1h0m-4.6 2.3h0m5.6-2.1h0m-2.2-9.1h0m40.1 90.3h0m3.6 3.3h0m-3.7-5.2h0m10.8 167.3h0m3.4 22.9h0m-2.3-12.8h0m2.5-5.1h0m-3.7 19.8h0m0.5 2.5h0m11.6-89.7h0m0.5-42.3h0m-2 36h0m3.8-32.6h0m-4.6 6.7h0m2.3 21.9h0m1.6-35.3h0m0.9 15.4h0m-1.2-6.2h0m-0.6-11.9h0m0 28.2h0m1.4-10h0m-3.9 11h0m-0.9-18.4h0m4.7 41.7h0m-4.8-2.5h0m5-51.2h0m-1.4 28.9h0m-3.2-2.6h0m2 3h0m0.8-9.3h0m1.8 5.7h0m-4.8 8.6h0m1.5-11.5h0m0-27.4h0m3 47.6h0m-3.8-8.1h0m2.1-29.6h0m-3.3-1.2h0m3.1 16.2h0m0.8 15.3h0m0.7-11.4h0m-1.4 24.3h0m0.5-8.4h0m2.7-19.1h0m-1.3-39.6h0m1.2 26.3h0m-6 25.4h0m2.5 7.4h0m1.5-14.2h0m8.8-147.2h0m-1 3.2h0m0-1.6h0m3.6-4.7h0m-3.6 6.4h0m3.4-4h0m-1-1.5h0m0.9-2h0m1.7-3.7h0m-0.2 7.9h0m-5.7 0h0m1 5.3h0m3.4-14.6h0m10.4-7.4h0m-3.1 1.2h0m3.1-5.1h0m-3.9 0.4h0m0.9 4.5h0m4.1 6.3h0m-2.3-14.9h0m-2 6.5h0m4.2 0.5h0m0.8-0.3h0m-0.6 0.1h0m-4.5 7h0m2.5-10.4h0m-2 0.9h0m4.6 4.1h0m40.3 92.1h0m-1.8-8h0m2 11.8h0m11.5 170.1h0m-4.5-14.7h0m0.6 26.7h0m1.1-18.5h0m2.9 18.6h0m-2.4-25.1h0m11.5-133.7h0m-3.1 33.6h0m5.4 27.3h0m-2.6-43.2h0m-1.6 38.8h0m4.4 2.1h0m-2.1-4.1h0m-3.1-15.2h0m3-0.6h0m0.4-16.3h0m-3.8 30.8h0m4.4 17.2h0m-2.2-48.4h0m1.8 15.9h0m-0.1 12.5h0m0.2 12.8h0m1.5-4.1h0m-2.1-14.8h0m2.6-13.5h0m-5 9.2h0m3.9-8.7h0m-5.2 40.5h0m0.4 3h0m-0.4-69.3h0m0.1 47.2h0m1.1-9.4h0m3-49.9h0m1.6 23.4h0m-4.3 43.7h0m3.3-16.5h0m-4.3-1.1h0m0.5-32.1h0m4.1 41.8h0m-4.6-20.4h0m4.5-9.2h0m-5.2-15.9h0m5.4 29h0m-2.1 34h0m2-1h0m-4.8-1.4h0m12.4-163.6h0m0.7 5.1h0m-2.5-8.1h0m5.4 10.3h0m-4.7-2.2h0m3.5 9.5h0m-3.6-8.6h0m5.7-4.9h0m-5.8 12.6h0m4.2-4.1h0m-4.1-9.3h0m1.7 17.9h0m-1.4-6.7h0m3-14.2h0m-4-0.6h0m0.5 12.6h0m3.4-9.1h0m-0.5 1h0m0.6 13.1h0m0.3-8.3h0m1-7.4h0m11.7-1.5h0m-5.8-10.8h0m4.3 14.3h0m1.3-13h0m-4.6 9.8h0m3.5-12.4h0m-3 9.2h0m0.5-0.6h0m-1.6-7.7h0m3.7 1.9h0m1.2-6.3h0m1.1 14.8h0m-4.9-4.7h0m1 5.4h0m3.2-10h0m0.2 4.1h0m-1 6h0m0.8-15.3h0m-5.2 7.7h0m4.8 10h0m-3.1-4.2h0m56.6 242.4h0m-2.8 12.1h0m0-15.8h0m-0.9-9.3h0m1.9 0.8h0m-4-1.7h0m11.9-100.7h0m-1.3 36.1h0m1.6-52.7h0m-0.6 55.5h0m3.4 4h0m0.4-28.6h0m-3.2 11.3h0m-1.6 15.5h0m1.6-10.2h0m4.6 7.8h0m-2 3.9h0m-0.4 4.4h0m-3.5-15.3h0m0 10.3h0m0.5-35h0m-0.2 17.2h0m3.8 0.5h0m-3.4 6.3h0m-0.5-39.1h0m3.9 40.8h0m-1.6-26.2h0m3.2 20.6h0m-3.9 7.7h0m3.2-11.4h0m-3.9 6.9h0m2.9-26.6h0m-2.6 50.8h0m4.1-41.6h0m-4.9 12.2h0m3.3 15.2h0m-3.1 8.1h0m5.3-28.1h0m-4-1.5h0m-1.1 22.1h0m-1 6.3h0m0.4-60.4h0m5.5 35.5h0m-5.4 24.7h0m4.3-45.4h0m-1.8 24.5h0m8.3-140.1h0m1.2 6.2h0m0.6-11.6h0m-1.2 11.3h0m0.1 5.1h0m2.8 0h0m-1.1-8.9h0m1.3 2.7h0m1.1 3h0m-2.6-1.7h0m-2.2-1.4h0m-0.1 11.6h0m0.2-12.6h0m0.7 6.6h0m1.4-4.5h0m-0.5-1.3h0m0.7 0.1h0m-2.6-6h0m0.9 10.9h0m4.3-2.9h0m0.6 8.2h0m10.9-17.4h0m-2.7 4.5h0m2.2-2.8h0m-4.3-3.7h0m4.7-0.5h0m-3.1 1.9h0m0 2.9h0m-0.9 2.3h0m0.3-5.3h0m-1.6-6.6h0m0.4 1.8h0m-1.1 8.2h0m0.1 3.8h0m2.9 2h0m-1.6-6h0m1.8 7.6h0m-2.3-0.6h0m4.3-1.7h0m0.4-16h0m-3.3 13.8h0m-0.9-7h0m57.1 231.2h0m-4.5 16.1h0m1.4 1.5h0m-1.6-3.3h0m2.6-19h0m-1.2-6h0m12.8-56.8h0m-2.9-45.9h0m1.6 36.8h0m0.1 4.9h0m-1.8-24.7h0m4.1 24.1h0m-2.5-20.5h0m-0.9 15.6h0m2.3 11.3h0m-4.3-15.9h0m5.3 15.2h0m-5.4-13.8h0m3 16.9h0m0.7-2h0m-2.2-5.8h0m-0.8 6.5h0m0.2-17.7h0m2.5 11.4h0m-3.1 7.7h0m3.5-11h0m-0.9-9h0m1.4-1.3h0m-2.6-15.1h0m-1.4 16.9h0m5.7 15.4h0m-4.1-8.4h0m0 0.6h0m0.8-30.7h0m0.8 39.4h0m0.8-24.2h0m-1 41.6h0m1-33.4h0m-0.5 0.9h0m2.5-2.9h0m-0.4 9.8h0m-2.2-4.8h0m-2.1-4.4h0m-0.1-12.4h0m2.9 36.3h0m-4-28.3h0m13.7-125.3h0m1.3 10.9h0m-1.3-11.9h0m1.4 1.5h0m-3.3 1.9h0m5.1 8.5h0m-3.5-12.9h0m3.5 7.2h0m0-8.1h0m-0.4-5.9h0m-3.6 6.7h0m2.1-11.9h0m-3 12.9h0m0 4.8h0m-0.5-4.1h0m1.8-2.4h0m1.1 5.1h0m2.4-4.5h0m-1.6 8.4h0m-1.7-3.2h0m-2.8-7.9h0m4.3-4.1h0m1.9 4.2h0m-1.3-2.5h0m-0.8 0.6h0m0.4 16.2h0m11.5-22h0m-3.1 6.4h0m2-0.6h0m1.6-15.8h0m-4.3 7.5h0m-1.2 15.5h0m1.7 5.2h0m-1.4-10h0m4.2-8h0m-4.6 4.9h0m4.7-0.6h0m1.8-5.6h0m-0.3 2.4h0m0.2 3.5h0m-3-3.9h0m-1.3-1.6h0m-0.4 14.2h0m-1.3-12.9h0m0.2 0.5h0m3.5 1.7h0m1.1 4.6h0m-0.4 4h0m-3.6-0.9h0m4.9-13.2h0m-5.1 10.5h0m3.6-1.5h0m52.8 227.7h0m0.5 4.8h0m-4.7-17.7h0m0.7 6.7h0m4-3.8h0m-3.7-2.6h0m13.2-84.7h0m-2.8 5.2h0m-0.2 4.4h0m3.4-9.7h0m-1.4 14.9h0m0.8-9.1h0m1.2 10.2h0m-3.3 2.6h0m3.1 1.4h0m-0.5-21.8h0m-2 10.4h0m2.3 11.8h0m-2.9-4.4h0m3.6-7.8h0m1.3-1.9h0m-1.1 26.8h0m-0.5-13.6h0m-4.4-14.1h0m0 14.3h0m3-0.8h0m2.4-20.3h0m-2.7-6.7h0m0.3 21.6h0m0.1-4h0m0 18.9h0m1.7-28h0m-2.6 11.3h0m0.6 0.8h0m-1.7 3.3h0m0.6-18.9h0m3 38.1h0m-2.6-22.4h0m3.7-2.7h0m-3.1 9.9h0m1.2-0.3h0m2.2-3.4h0m-0.4-4h0m-2-6.3h0m-2.1-0.5h0m3.1-8.8h0m8.9-105.7h0m-2.3-1.6h0m5.7 3.4h0m-1.3-2.7h0m-4.1 5.2h0m0.1-0.4h0m2.5 0.6h0m-2.4-0.6h0m3.9 8.2h0m-4.2 2.8h0m0.8-12.1h0m0.1-0.8h0m3.2 5.7h0m-1.8-17.5h0m3.2 30.1h0m-3.3-7h0m1.7-1.5h0m-3.5-4.4h0m5.1 4.6h0m-4.1-19.3h0m-0.6 2.9h0m4.9 11.6h0m-5.6-11.4h0m0.2 5.8h0m3.8 12.1h0m-2.2-3.4h0m2.7-8.8h0m-5.4-3.1h0m5 18.2h0m1.3 6.9h0m-4.2-3.5h0m10.6-35.9h0m0.7 25.4h0m0.1-8.3h0m-1.8-13h0m2 3.4h0m2.3 11.2h0m-3.4 7.4h0m4.9-31.1h0m-1.7 24.2h0m-3.1-9.2h0m2.6 18.7h0m-3.4-4.3h0m2.6-26.7h0m-1.2 22.3h0m3.3-25.1h0m-4.7 4h0m5.3 28.3h0m-1.9-16.1h0m-4 14.3h0m2.7-23.3h0m-0.8 17.5h0m3.5-12.6h0m-4.3 20.5h0m-0.8-12.9h0m1.5-10.3h0m-0.6-11.1h0m-1.1 14.5h0m0.9-11.9h0m1.7 8.1h0m3.3 21.2h0m-4.3-24.8h0m56.5 214.8h0m0.1 4.5h0m-3.9-7.4h0m1.7-3.9h0m0.1 21.5h0m-0.5-20.3h0m13.5-12.1h0m-1.5-17.6h0m-2-2.2h0m4-10.4h0m-0.3 16.9h0m-5.8 4.8h0m4.5 6.4h0m-1.9-5h0m2.6-24.7h0m-0.3 5.5h0m-0.2 17.1h0m0.3-15.4h0m1.3 2.4h0m-3.7-25.2h0m3.3 49.2h0m-4.8-34.4h0m3.5 21h0m-3.6-17.5h0m3.2 30.5h0m-3.5-12.1h0m2.7 5.9h0m2.3-14h0m-2.3 12.2h0m-1.3-11.3h0m-2.2-3.7h0m3.2 10.4h0m2.9-31.5h0m-2.9 46.5h0m-2.4-37.9h0m3.2 26.2h0m-0.2-13.5h0m-2.3 20.7h0m1.7-12.7h0m-0.3-18.5h0m-0.8 14.5h0m2.5 0.5h0m-3.1 1h0m1.7 11.3h0m2.6-20.9h0m-4.6-9.3h0m14.6-121.7h0m-0.2-6.4h0m0.8-7.2h0m0.6 6.7h0m-3.2-14.3h0m2.3 1.6h0m-0.8 1.5h0m-0.2-5.8h0m2.3-1.9h0m-4.9 20.1h0m-0.3-27h0m2.7 10.6h0m-2-3.8h0m-1.5 5.8h0m0.7-2.6h0m0 12.3h0m1.9-17.9h0m0.1 5.6h0m-1.9-5.4h0m2.6 16.7h0m-3.5-8.7h0m4.2-1.3h0m-2.3-5.9h0m0.5 13.9h0m-0.3 8.1h0m-1.5-24.7h0m-1 4.3h0m5.6 21.2h0m-1.5-9.9h0m1.9 9.2h0m-4.1-0.6h0m1.7-17.1h0m2.6 16.8h0m-5.3 6.3h0m4.3-1.1h0m-1.4-31.7h0m13.4 12.8h0m-2.6 4.5h0m-2.9-3.2h0m5.2-9.5h0m-3.8 3.2h0m1 3.1h0m2.8 7.8h0m-3.6-10.4h0m1.9 3.2h0m-1.7 6.6h0m1.5-11h0m-1.6-0.4h0m0.1 9.9h0m1 7.3h0m-1.7-33.3h0m-0.8 27.8h0m3.5-27.1h0m-4.1 10.3h0m4.9 6h0m-5-3.7h0m1.4-1.5h0m4.3 7.9h0m0.2 15.2h0m-5.6-12.4h0m0.6-14.7h0m3.7 15.3h0m-4.3-11.8h0m5.1 14.8h0m0.7-8.5h0m-6.2 14.8h0m-0.1-19.6h0m4.5 3.2h0m-3.6 5.5h0m0.2 0.2h0" stroke="#000" stroke-opacity="0.5" stroke-width="2.4" stroke-linecap="round" fill="none"/>
<ellipse cx="142.8" cy="790.2" rx="3.3" ry="14" fill-opacity="0.7"/><ellipse cx="153.8" cy="639.2" rx="3.3" ry="4.1" fill-opacity="0.7"/><ellipse cx="164.9" cy="627.7" rx="3.3" ry="4.9" fill-opacity="0.7"/><ellipse cx="228.5" cy="785" rx="3.3" ry="14" fill-opacity="0.7"/><ellipse cx="239.5" cy="639.5" rx="3.3" ry="4.1" fill-opacity="0.7"/><ellipse cx="250.5" cy="626.7" rx="3.3" ry="4.9" fill-opacity="0.7"/><ellipse cx="314.2" cy="771.2" rx="3.3" ry="14" fill-opacity="0.7"/><ellipse cx="325.2" cy="640.8" rx="3.3" ry="4.1" fill-opacity="0.7"/><ellipse cx="336.2" cy="627.3" rx="3.3" ry="4.9" fill-opacity="0.7"/><ellipse cx="399.9" cy="792.6" rx="3.3" ry="14" fill-opacity="0.7"/><ellipse cx="410.9" cy="642.5" rx="3.3" ry="4.1" fill-opacity="0.7"/><ellipse cx="421.9" cy="627.7" rx="3.3" ry="4.9" fill-opacity="0.7"/><ellipse cx="485.6" cy="793.5" rx="3.3" ry="14" fill-opacity="0.7"/><ellipse cx="496.6" cy="658.9" rx="3.3" ry="6.6" fill-opacity="0.7"/><ellipse cx="507.6" cy="642.8" rx="3.3" ry="6.6" fill-opacity="0.7"/><ellipse cx="571.3" cy="800.1" rx="3.3" ry="14" fill-opacity="0.7"/><ellipse cx="582.3" cy="666.5" rx="3.3" ry="6.6" fill-opacity="0.7"/><ellipse cx="593.3" cy="659.6" rx="3.3" ry="6.6" fill-opacity="0.7"/><ellipse cx="657" cy="813.9" rx="3.3" ry="14" fill-opacity="0.7"/><ellipse cx="668" cy="673.1" rx="3.3" ry="8.2" fill-opacity="0.7"/><ellipse cx="679" cy="666.5" rx="3.3" ry="8.2" fill-opacity="0.7"/><ellipse cx="742.6" cy="813.3" rx="3.3" ry="12.5" fill-opacity="0.7"/><ellipse cx="753.7" cy="695.5" rx="3.3" ry="9.9" fill-opacity="0.7"/><ellipse cx="764.7" cy="683.3" rx="3.3" ry="9.9" fill-opacity="0.7"/><ellipse cx="828.3" cy="854.1" rx="3.3" ry="14" fill-opacity="0.7"/><ellipse cx="839.4" cy="697.8" rx="3.3" ry="11.5" fill-opacity="0.7"/><ellipse cx="850.4" cy="689.5" rx="3.3" ry="10.7" fill-opacity="0.7"/>
<g fill="#000"><ellipse cx="120.8" cy="708" rx="3" ry="2"/><ellipse cx="131.8" cy="906.1" rx="3.3" ry="2.2"/><ellipse cx="131.8" cy="890.6" rx="3.3" ry="2.2"/><ellipse cx="131.8" cy="884.9" rx="3.3" ry="2.2"/><ellipse cx="131.8" cy="869.2" rx="3.3" ry="2.2"/><ellipse cx="142.8" cy="790.2" rx="2.4" ry="4"/><ellipse cx="153.8" cy="639.2" rx="2.4" ry="2.2"/><ellipse cx="164.9" cy="627.7" rx="2.4" ry="2.2"/><ellipse cx="206.5" cy="708" rx="3" ry="2"/><ellipse cx="217.5" cy="906.1" rx="3.3" ry="2.2"/><ellipse cx="217.5" cy="890.6" rx="3.3" ry="2.2"/><ellipse cx="217.5" cy="884.9" rx="3.3" ry="2.2"/><ellipse cx="217.5" cy="869.2" rx="3.3" ry="2.2"/><ellipse cx="228.5" cy="785" rx="2.4" ry="4"/><ellipse cx="239.5" cy="639.5" rx="2.4" ry="2.2"/><ellipse cx="250.5" cy="626.7" rx="2.4" ry="2.2"/><ellipse cx="292.2" cy="708" rx="3" ry="2"/><ellipse cx="303.2" cy="906.1" rx="3.3" ry="2.2"/><ellipse cx="303.2" cy="890.6" rx="3.3" ry="2.2"/><ellipse cx="303.2" cy="884.9" rx="3.3" ry="2.2"/><ellipse cx="303.2" cy="869.2" rx="3.3" ry="2.2"/><ellipse cx="314.2" cy="771.2" rx="2.4" ry="4"/><ellipse cx="325.2" cy="640.8" rx="2.4" ry="2.2"/><ellipse cx="336.2" cy="627.3" rx="2.4" ry="2.2"/><ellipse cx="377.9" cy="709" rx="3" ry="2"/><ellipse cx="388.9" cy="906.1" rx="3.3" ry="2.2"/><ellipse cx="388.9" cy="891" rx="3.3" ry="2.2"/><ellipse cx="388.9" cy="885" rx="3.3" ry="2.2"/><ellipse cx="388.9" cy="869.2" rx="3.3" ry="2.2"/><ellipse cx="399.9" cy="792.6" rx="2.4" ry="4"/><ellipse cx="410.9" cy="642.5" rx="2.4" ry="2.2"/><ellipse cx="421.9" cy="627.7" rx="2.4" ry="2.2"/><ellipse cx="463.5" cy="720.5" rx="3" ry="2"/><ellipse cx="474.6" cy="906.1" rx="3.3" ry="2.2"/><ellipse cx="474.6" cy="892.3" rx="3.3" ry="2.2"/><ellipse cx="474.6" cy="888" rx="3.3" ry="2.2"/><ellipse cx="474.6" cy="873.8" rx="3.3" ry="2.2"/><ellipse cx="485.6" cy="793.5" rx="2.4" ry="4"/><ellipse cx="496.6" cy="658.9" rx="2.4" ry="2.6"/><ellipse cx="507.6" cy="642.8" rx="2.4" ry="2.6"/><ellipse cx="560.2" cy="906.1" rx="3.3" ry="2.2"/><ellipse cx="560.2" cy="892.3" rx="3.3" ry="2.2"/><ellipse cx="560.2" cy="888" rx="3.3" ry="2.2"/><ellipse cx="560.2" cy="873.8" rx="3.3" ry="2.2"/><ellipse cx="571.3" cy="800.1" rx="2.4" ry="4"/><ellipse cx="582.3" cy="666.5" rx="2.4" ry="2.6"/><ellipse cx="593.3" cy="659.6" rx="2.4" ry="2.6"/><ellipse cx="645.9" cy="906.1" rx="3.3" ry="2.2"/><ellipse cx="645.9" cy="893.9" rx="3.3" ry="2.2"/><ellipse cx="645.9" cy="889.3" rx="3.3" ry="2.2"/><ellipse cx="645.9" cy="874.8" rx="3.3" ry="2.2"/><ellipse cx="657" cy="813.9" rx="2.4" ry="4"/><ellipse cx="668" cy="673.1" rx="2.4" ry="3.3"/><ellipse cx="679" cy="666.5" rx="2.4" ry="3.3"/><ellipse cx="731.6" cy="907.1" rx="3.3" ry="2.2"/><ellipse cx="731.6" cy="903.8" rx="3.3" ry="2.2"/><ellipse cx="731.6" cy="894.9" rx="3.3" ry="2.2"/><ellipse cx="731.6" cy="876.2" rx="3.3" ry="2.2"/><ellipse cx="742.6" cy="813.3" rx="2.4" ry="4"/><ellipse cx="753.7" cy="695.5" rx="2.4" ry="3.9"/><ellipse cx="764.7" cy="683.3" rx="2.4" ry="3.9"/><ellipse cx="817.3" cy="905.4" rx="3.3" ry="2.2"/><ellipse cx="817.3" cy="893.3" rx="3.3" ry="2.2"/><ellipse cx="817.3" cy="890.3" rx="3.3" ry="2.2"/><ellipse cx="817.3" cy="877.5" rx="3.3" ry="2.2"/><ellipse cx="828.3" cy="854.1" rx="2.4" ry="4"/><ellipse cx="839.4" cy="697.8" rx="2.4" ry="4"/><ellipse cx="850.4" cy="689.5" rx="2.4" ry="4"/></g>
<path d="M150.82 593.57V586.07H164.11V593.57M236.51 593.57V586.07H249.8V593.57M322.2 593.57V586.07H335.49V593.57M407.89 593.57V586.07H421.18V593.57M493.58 593.57V586.07H506.87V593.57M579.27 593.57V586.07H592.56V593.57M664.96 593.57V586.07H678.25V593.57M750.65 593.57V586.07H763.94V593.57M836.34 593.57V586.07H849.63V593.57" stroke="#000" stroke-width="1.5" fill="none"/>
<g font-size="11.6" text-anchor="middle" fill="#000"><text x="157.46" y="583.37">p &lt; 0.001</text><text x="243.15" y="583.37">p &lt; 0.001</text><text x="328.84" y="583.37">p &lt; 0.001</text><text x="414.53" y="583.37">p &lt; 0.001</text><text x="500.22" y="583.37">p &lt; 0.001</text><text x="585.91" y="583.37">p &lt; 0.001</text><text x="671.6" y="583.37">p &lt; 0.001</text><text x="757.29" y="583.37">p &lt; 0.001</text><text x="842.98" y="583.37">p &lt; 0.001</text></g>
<path d="M80.5 560.47V934.95H868.2" stroke="#000" stroke-width="1.9" fill="none" stroke-linejoin="round"/>
<path d="M75.2 921.9H80.5M75.2 839.62H80.5M75.2 757.34H80.5M75.2 675.05H80.5M75.2 592.77H80.5M131.8 934.95V940.25M217.49 934.95V940.25M303.18 934.95V940.25M388.87 934.95V940.25M474.56 934.95V940.25M560.25 934.95V940.25M645.94 934.95V940.25M731.63 934.95V940.25M817.32 934.95V940.25" stroke="#333" stroke-width="1.9" fill="none"/>
<g font-size="23.5" fill="#4D4D4D">
<text x="71.1" y="930.9" text-anchor="end">0</text>
<text x="71.1" y="848.62" text-anchor="end">25</text>
<text x="71.1" y="766.34" text-anchor="end">50</text>
<text x="71.1" y="684.05" text-anchor="end">75</text>
<text x="71.1" y="601.77" text-anchor="end">100</text>
<text x="131.8" y="961.8" text-anchor="middle">1</text>
<text x="217.49" y="961.8" text-anchor="middle">2</text>
<text x="303.18" y="961.8" text-anchor="middle">4</text>
<text x="388.87" y="961.8" text-anchor="middle">8</text>
<text x="474.56" y="961.8" text-anchor="middle">16</text>
<text x="560.25" y="961.8" text-anchor="middle">24</text>
<text x="645.94" y="961.8" text-anchor="middle">48</text>
<text x="731.63" y="961.8" text-anchor="middle">96</text>
<text x="817.32" y="961.8" text-anchor="middle">192</text>
</g>
<text x="474.35" y="541.3" font-size="39" font-weight="bold" text-anchor="middle">Optum 95% Sensitivity</text>
<text x="474.35" y="992" font-size="27.3" font-weight="bold" text-anchor="middle">Prediction Horizon [min. hours before event]</text>
<text transform="translate(21.2 747.71) rotate(-90)" font-size="27.3" font-weight="bold" text-anchor="middle">Specificity at 95 % Sensitivity [%]</text>
<g stroke="#000" stroke-width="1.9" stroke-dasharray="2.05 6.3" fill="none">
<line x1="1031.5" y1="921.9" x2="1819.8" y2="921.9"/>
<line x1="1031.5" y1="839.62" x2="1819.8" y2="839.62"/>
<line x1="1031.5" y1="757.34" x2="1819.8" y2="757.34"/>
<line x1="1031.5" y1="675.05" x2="1819.8" y2="675.05"/>
<line x1="1031.5" y1="592.77" x2="1819.8" y2="592.77"/>
<line x1="1082.8" y1="935.45" x2="1082.8" y2="591.27"/>
<line x1="1168.5" y1="935.45" x2="1168.5" y2="591.27"/>
<line x1="1254.2" y1="935.45" x2="1254.2" y2="591.27"/>
<line x1="1339.9" y1="935.45" x2="1339.9" y2="591.27"/>
<line x1="1425.6" y1="935.45" x2="1425.6" y2="591.27"/>
<line x1="1511.3" y1="935.45" x2="1511.3" y2="591.27"/>
<line x1="1597" y1="935.45" x2="1597" y2="591.27"/>
<line x1="1682.7" y1="935.45" x2="1682.7" y2="591.27"/>
<line x1="1768.4" y1="935.45" x2="1768.4" y2="591.27"/>
</g>
<g stroke="#000" stroke-width="1.45"><rect x="1077.29" y="878.13" width="11.02" height="43.77" fill="#3C5488"/><rect x="1088.31" y="808.02" width="11.02" height="113.88" fill="#F39B7F"/><rect x="1099.33" y="675.05" width="11.02" height="246.85" fill="#8491B4"/><rect x="1110.35" y="662.55" width="11.02" height="259.35" fill="#91D1C2"/><rect x="1162.99" y="878.13" width="11.02" height="43.77" fill="#3C5488"/><rect x="1174.01" y="808.02" width="11.02" height="113.88" fill="#F39B7F"/><rect x="1185.03" y="675.05" width="11.02" height="246.85" fill="#8491B4"/><rect x="1196.05" y="662.55" width="11.02" height="259.35" fill="#91D1C2"/><rect x="1248.69" y="878.13" width="11.02" height="43.77" fill="#3C5488"/><rect x="1259.71" y="808.02" width="11.02" height="113.88" fill="#F39B7F"/><rect x="1270.73" y="675.05" width="11.02" height="246.85" fill="#8491B4"/><rect x="1281.75" y="662.55" width="11.02" height="259.35" fill="#91D1C2"/><rect x="1334.39" y="878.13" width="11.02" height="43.77" fill="#3C5488"/><rect x="1345.41" y="808.02" width="11.02" height="113.88" fill="#F39B7F"/><rect x="1356.43" y="675.05" width="11.02" height="246.85" fill="#8491B4"/><rect x="1367.45" y="662.55" width="11.02" height="259.35" fill="#91D1C2"/><rect x="1420.09" y="883.06" width="11.02" height="38.84" fill="#3C5488"/><rect x="1431.11" y="820.86" width="11.02" height="101.04" fill="#F39B7F"/><rect x="1442.13" y="693.48" width="11.02" height="228.42" fill="#8491B4"/><rect x="1453.15" y="677.36" width="11.02" height="244.54" fill="#91D1C2"/><rect x="1505.79" y="883.06" width="11.02" height="38.84" fill="#3C5488"/><rect x="1516.81" y="820.86" width="11.02" height="101.04" fill="#F39B7F"/><rect x="1527.83" y="693.48" width="11.02" height="228.42" fill="#8491B4"/><rect x="1538.85" y="676.7" width="11.02" height="245.2" fill="#91D1C2"/><rect x="1591.49" y="883.72" width="11.02" height="38.18" fill="#3C5488"/><rect x="1602.51" y="829.09" width="11.02" height="92.81" fill="#F39B7F"/><rect x="1613.53" y="684.27" width="11.02" height="237.63" fill="#8491B4"/><rect x="1624.55" y="678.01" width="11.02" height="243.89" fill="#91D1C2"/><rect x="1677.19" y="876.81" width="11.02" height="45.09" fill="#3C5488"/><rect x="1688.21" y="858.38" width="11.02" height="63.52" fill="#F39B7F"/><rect x="1699.23" y="700.07" width="11.02" height="221.83" fill="#8491B4"/><rect x="1710.25" y="711.26" width="11.02" height="210.64" fill="#91D1C2"/><rect x="1762.89" y="886.68" width="11.02" height="35.22" fill="#3C5488"/><rect x="1773.91" y="860.02" width="11.02" height="61.88" fill="#F39B7F"/><rect x="1784.93" y="720.47" width="11.02" height="201.43" fill="#8491B4"/><rect x="1795.95" y="693.48" width="11.02" height="228.42" fill="#91D1C2"/></g>
<g stroke="#000" stroke-width="2.2"><line x1="1044.23" y1="921.9" x2="1055.25" y2="921.9"/><line x1="1055.25" y1="921.9" x2="1066.27" y2="921.9"/><line x1="1066.27" y1="921.9" x2="1077.29" y2="921.9"/><line x1="1129.93" y1="921.9" x2="1140.95" y2="921.9"/><line x1="1140.95" y1="921.9" x2="1151.97" y2="921.9"/><line x1="1151.97" y1="921.9" x2="1162.99" y2="921.9"/><line x1="1215.63" y1="921.9" x2="1226.65" y2="921.9"/><line x1="1226.65" y1="921.9" x2="1237.67" y2="921.9"/><line x1="1237.67" y1="921.9" x2="1248.69" y2="921.9"/><line x1="1301.34" y1="921.9" x2="1312.35" y2="921.9"/><line x1="1312.35" y1="921.9" x2="1323.37" y2="921.9"/><line x1="1323.37" y1="921.9" x2="1334.39" y2="921.9"/><line x1="1387.03" y1="921.9" x2="1398.05" y2="921.9"/><line x1="1398.05" y1="921.9" x2="1409.07" y2="921.9"/><line x1="1409.07" y1="921.9" x2="1420.09" y2="921.9"/><line x1="1472.73" y1="921.9" x2="1483.75" y2="921.9"/><line x1="1483.75" y1="921.9" x2="1494.77" y2="921.9"/><line x1="1494.77" y1="921.9" x2="1505.79" y2="921.9"/><line x1="1558.43" y1="921.9" x2="1569.45" y2="921.9"/><line x1="1569.45" y1="921.9" x2="1580.47" y2="921.9"/><line x1="1580.47" y1="921.9" x2="1591.49" y2="921.9"/><line x1="1644.13" y1="921.9" x2="1655.15" y2="921.9"/><line x1="1655.15" y1="921.9" x2="1666.17" y2="921.9"/><line x1="1666.17" y1="921.9" x2="1677.19" y2="921.9"/><line x1="1729.84" y1="921.9" x2="1740.85" y2="921.9"/><line x1="1740.85" y1="921.9" x2="1751.87" y2="921.9"/><line x1="1751.87" y1="921.9" x2="1762.89" y2="921.9"/></g>
<path d="M1082.8 906.8V808M1093.8 854.1V774.1M1104.8 698.1V652M1115.9 675.1V645.4M1168.5 906.8V808M1179.5 854.1V774.1M1190.5 698.1V652M1201.6 675.1V645.4M1254.2 906.8V808M1265.2 854.1V774.1M1276.2 698.1V652M1287.3 675.1V645.4M1339.9 906.8V808M1350.9 854.1V774.1M1361.9 698.1V652M1373 675.1V645.4M1425.6 905.8V822.8M1436.6 862V788.3M1447.6 708V668.5M1458.7 691.5V658.6M1511.3 905.8V822.8M1522.3 862V788.3M1533.3 708V668.5M1544.4 691.5V658.6M1575 921.9V903.5M1597 908.1V830.7M1608 876.8V799.1M1619 698.1V668.5M1630.1 691.5V661.9M1660.7 921.9V903.5M1682.7 905.8V818.2M1693.7 896.6V820.5M1704.7 762.6V679.7M1715.8 737.6V681.6M1746.4 921.9V904.5M1757.4 921.9V713.9M1768.4 908.7V850.5M1779.4 896.6V791.6M1790.4 773.1V693.5M1801.5 714.5V675.1" stroke="#000" stroke-width="1.6" fill="none"/>
<g fill="#000" fill-opacity="0.38"></g>
<path d="M1085.9 906.7h0m-4-5.2h0m0.2-49.5h0m-0.9 29.6h0m4.9-10.8h0m-1.9-59.2h0m-3.7 59.5h0m1.3-6.8h0m1.2 14.5h0m1 7.9h0m0.7-34.6h0m-1.4 20.5h0m0.2-3.6h0m2.2 22h0m-0.5-34h0m-4.8-6.1h0m0.3 43.4h0m-1.2 11.9h0m5.3-53.4h0m-5.3 18.7h0m4.4 2.1h0m-0.6 28.9h0m2.5-20.9h0m0 21.6h0m-4.2-55.8h0m0.4 45.5h0m2.7-8.4h0m0-59.4h0m-0.7 20.3h0m-2.8 43.1h0m2.3-48.2h0m-0.8 11.3h0m-1.4-14.4h0m4.3 31.8h0m-1.1 13.9h0m-1.2-29.5h0m2.2-8.9h0m0.2 55.9h0m-5.6-8.8h0m1.2-15.4h0m10-59h0m4-24.1h0m-3.1 30.5h0m-1-12h0m2.6 25.1h0m1-26.2h0m-2.4 11.2h0m4.3 17.2h0m0.4-63.5h0m-1.2 56h0m-0.4-34.9h0m-2.3 49.9h0m3.6-49.2h0m-1.3 20.7h0m-4-11.6h0m5.5 4.6h0m-2.9 3.1h0m0.6-5.3h0m-1.7 9.9h0m-2.3-10.8h0m5.4 5.3h0m0.3-6.3h0m-2.8-20.6h0m1.7 17h0m1.4 7.2h0m-5 15.8h0m-0.4-42.2h0m0.4-3.8h0m-0.1 45.9h0m5.1-18.1h0m-4.5 34.7h0m4.3-40.4h0m-1.9-2.1h0m0.1-12.4h0m-0.7 26.4h0m-2.8-19.4h0m5.4 30.3h0m-1.2-27.4h0m-3.4 38.8h0m4.9 7.7h0m10.7-174h0m-2.4-4.5h0m-1-5.4h0m0.4 11.7h0m0.2-2.4h0m0.4 6.7h0m1.4-12.2h0m0.8 16.8h0m-3.4-2.2h0m-1.5 1.2h0m1.6 4.1h0m-2.4 0.6h0m1.2-6.6h0m2.8-9.7h0m-0.4 0.1h0m-1.4-9.9h0m3.9 22.2h0m-0.6 4h0m-1.2 1.1h0m-2.5-0.7h0m4.4-22.1h0m-5.9 10.9h0m0.9-7.6h0m2 7.8h0m1.1-15.2h0m0.1 1.3h0m-0.1 24.4h0m-4.1-9.4h0m2.5 0.5h0m0.9-10.4h0m-3.7 11.7h0m3.8 19.5h0m1.6-34h0m-4.3 4.8h0m4.3 7.1h0m-3.7-20.8h0m15.1-1.3h0m0.5 16.8h0m-3.7-5.9h0m2.8 0.2h0m1 1.8h0m-4.7-12.1h0m-0.8 1.6h0m5.4 15h0m0.2-15.4h0m-2.2-2.1h0m-3.3 10.8h0m1.3 1h0m3.6 7.8h0m-4.9-9.1h0m-0.1-4.2h0m0.1 15.3h0m2.3-4.2h0m-0.6 1.4h0m0.8-4.2h0m-0.8-6.8h0m-1.2 2.3h0m3.9 0h0m-3.9 5.8h0m53.7 186.5h0m-0.4 8.1h0m2.2 13.8h0m1.1 19.1h0m0.6 10.4h0m-2.1-36.4h0m-3.5 4.6h0m1.7-4.6h0m0.6-21.8h0m-0.8 11.4h0m-0.4 21.6h0m0.5-14.6h0m3.9-5.5h0m-4.9 24.5h0m-0.8 18.1h0m4-59.6h0m-3.3 1.1h0m2.3 39.4h0m-1.1 0h0m2.5-38.6h0m-1.3 8.1h0m-0.5 6.3h0m1.5-13.9h0m-4.4-12.7h0m1.5 15.8h0m-0.9 42.1h0m3.9-23h0m-2.7-12.5h0m2.6 23.2h0m0.1-5.2h0m-1.7-20.3h0m0.8 19.4h0m2.9-2.6h0m-3.2-2.1h0m-0.1 15.4h0m0.1-18.1h0m2-21.9h0m0.1 49.5h0m-2.3-70.5h0m-2.3 37.6h0m14.7-70h0m2 26.3h0m-6.2 16.4h0m0.5-17.1h0m1.3 27.3h0m2.7-60h0m-2.5 16.2h0m2.4 15.1h0m-2.9 11.6h0m-1.8-39.2h0m0.6 24.2h0m3.6 3h0m-3.2 33.6h0m-0.2-61.6h0m1.7 44.9h0m-2.2-22.1h0m2.1 0.7h0m-0.3 27h0m3.6-58h0m-1.8 48.5h0m2.4-47.2h0m-2.5 33.7h0m-0.6-13.4h0m-1-14.9h0m1.7 39.6h0m-2.4-33.8h0m1.8 21.1h0m-0.5-27.4h0m0.7 29.9h0m-1.7 4.4h0m3.4-14.9h0m-1.8 34.9h0m0-31.3h0m-0.7 7.4h0m2-18.8h0m0.1 2.1h0m-3.4 30.5h0m0.6-2.9h0m0.4-23.6h0m-1 4.7h0m11.2-113.3h0m2.9-22.3h0m-0.3 20h0m-3.8-13.3h0m2 5.5h0m1.1-12.2h0m1.8 18h0m-4.6-15.3h0m4.6-9.5h0m-2.8 11.4h0m-0.7 12.2h0m4.2 4.9h0m-0.4-19.6h0m-2.8-6.9h0m-0.7 17.5h0m-1-16.4h0m0.8 8.4h0m0.3-21h0m3.5 30.5h0m-4.4-20.1h0m3.8 17.2h0m0.9-3.7h0m-3.1-8.2h0m-1.2 16.5h0m-1.5-21.7h0m-0.1 18h0m2.4-15.8h0m2 6.4h0m-0.3 11.1h0m0.3-11.2h0m-0.4-1.3h0m1.6 4.2h0m0.3-9.5h0m-2.2 5.9h0m-1.6-13.7h0m2.1 5.3h0m10.7-4h0m-2.5 5.2h0m0.6-3.5h0m3.9 5.8h0m-5.2-9.6h0m4.9-1.9h0m-4 5.9h0m-1.4 5.7h0m5-2.4h0m-0.1-5.9h0m-2 7.6h0m-0.6-7.9h0m-1 2.6h0m4 8.9h0m-1.9 0h0m-3 1h0m1.1-18.7h0m4.8 8.5h0m-5.9 8.1h0m-0.6-3h0m0.6-6.2h0m2.2-4.7h0m0.5 2.1h0m52.7 228.8h0m3.1-46.6h0m-3.2 22.9h0m-0.8-11.5h0m3.3 14.9h0m-3.4 23.9h0m1.3 4.5h0m-1.8-46.8h0m0.5-23.7h0m-1.6 21.9h0m1.4 48h0m0 8.4h0m0.6-37.9h0m3.5 31.2h0m-5.2-2.5h0m3.3-35.3h0m-1.7 32.9h0m-1.2 9.4h0m4-29.9h0m-3 33.3h0m-1.1-25.9h0m4.9 5.4h0m-3 9.3h0m-2.2-5.6h0m3.2-12.5h0m0 9.4h0m-3.4 11.3h0m2.5-6.4h0m-1.3-1.6h0m1.1 2.7h0m0.9-8.4h0m0.4-18.2h0m-0.9-1.9h0m0.2 33.2h0m1.7-21.9h0m-1.8-21.7h0m-0.7 25.9h0m3.4 23.9h0m-5.7-39.2h0m5.5 18.7h0m11.2-69.7h0m-0.8-1.2h0m-4.4 13.5h0m-1.1-27.1h0m5.8 32.8h0m-1.3 13.6h0m-1.1-48.8h0m2.5 5.1h0m-3.7 19h0m-1.9-28.2h0m0.1 15h0m0.6 10.1h0m0.8 0h0m4.1 0.9h0m-3.1-33h0m2.4 69h0m0.1-35.3h0m-4.8-7.8h0m5.5 13.3h0m-0.4 11.8h0m-4.7-17.2h0m4.2-1.9h0m-2.2 14.2h0m-1.1-37.6h0m-0.2 17.2h0m2.9 36.9h0m-3.2-26.4h0m4.9-19.9h0m-3 24.8h0m-3.1-33.8h0m5.6 16.9h0m-3.4 33.8h0m2.5-37.7h0m-0.5-13.3h0m-3.4 38.2h0m5.1-33.9h0m-0.9 37h0m-3.9-27.6h0m4.1 7.4h0m-4.8 15.2h0m13.6-148.7h0m-0.7-18.8h0m0.4 23.3h0m-2.9-3.3h0m5.5-6.5h0m-1.8 11.1h0m-2.8 4.5h0m4.3-3.3h0m0-3.7h0m-0.7-28.1h0m0 17.2h0m1.8 16.3h0m-3.5-13.3h0m0.6-3h0m2.4 0.1h0m-3.2-1.7h0m1.2 2.2h0m-2.5-1.5h0m1.6 20h0m0.5-16.4h0m2.8 1.2h0m-4.9 2.9h0m2.5-21h0m-0.2 14.5h0m-1.5 0.6h0m2.7-15.6h0m-0.5 17.6h0m-1.8-12.8h0m1.8 19.1h0m0.3-4.8h0m0.3-7.8h0m-4.2-3.6h0m-0.3-0.4h0m1.3 32.1h0m-1.1-27.3h0m2.7 3.1h0m10.8-8h0m-0.6-6.3h0m-1.7 3.4h0m0.7 14.4h0m-0.7-18.2h0m3.9 6.3h0m-3.3-4.3h0m1.4-2.6h0m3.4 4.4h0m-5.7 7.8h0m5.8-9h0m-3.4 12h0m2.2-7.3h0m-3.9-4.7h0m1.5 11.4h0m1.7-13.2h0m-0.6 10.6h0m-2.1 4.6h0m2-11.7h0m-1.2 0.4h0m3.4 4.2h0m-1.7-3.5h0m0 1.4h0m49.4 200.1h0m1.1 38.5h0m-0.7-13.9h0m3 4.3h0m-4.2 14.6h0m3.8-7.7h0m-1.7-28.3h0m-0.3-17.7h0m3.3-1h0m0.1 37.2h0m-4.5-39.8h0m5.4 30.2h0m-6 8.1h0m1-5.3h0m1.4 19.5h0m-1.8 2.2h0m2.7-25.4h0m-1 19.8h0m0.4-81.3h0m-0.8 52.4h0m2.2-55.5h0m0.7 52.2h0m-3.2 33.7h0m1.2-27.1h0m2.8 1h0m-0.8-3.1h0m-3.2-17.7h0m1 8.3h0m3.4-7.3h0m-2.5 9.9h0m-1 25.5h0m3.3-37.1h0m-4 20.5h0m-1.6 17.6h0m1.6-22.5h0m2.7 16h0m-3.9-29.2h0m2.3 20.8h0m-1.6-11.1h0m-1 12.6h0m13.9-79.8h0m-2.5 4h0m0.8-1.9h0m-0.1 27.7h0m3.3-22h0m-4.2 8.6h0m3.3-24.5h0m1.7 26.2h0m-1.1-12.9h0m-0.7 1.6h0m-0.6 7.2h0m-2.1 13h0m2.7-0.9h0m-1.9-21.2h0m-1.4 10.7h0m4.7-32.8h0m-4.5 42.7h0m2.6-14.8h0m-0.9 32.3h0m0.2-31.1h0m3.8-13.3h0m-0.6 22.5h0m-4.2-8.2h0m-0.3-12.6h0m5.2 36.1h0m-2.9-3.4h0m-3.2 7.3h0m1.2-37.3h0m2.4 17.5h0m0.6-17.1h0m-4.1-13.2h0m2.6 25.9h0m1.1 3h0m-3-5.7h0m5.1 3.2h0m-3.9 10.8h0m2.1-29.6h0m-1.9 15.1h0m1.1 27.1h0m2.5-16h0m11.1-145.1h0m-3.3-6.9h0m1.8 3.4h0m-0.1 10h0m1-27.5h0m-4 28.5h0m0.3-11.3h0m0.4 15.8h0m3.1-19.4h0m-1.1 27.8h0m-0.7-24.4h0m-2.4-2.6h0m-0.3 8.6h0m3.7-7.3h0m-2.6 0.9h0m3.4-18.4h0m-3 25h0m-2.5-11.5h0m0 18.9h0m5.6-14.8h0m0.7 4.7h0m-4.9-0.5h0m-0.8 0.3h0m4-2.6h0m-3 14.4h0m0.2-5.1h0m4.7-17.7h0m-0.7 13h0m-5.7-17.9h0m4.5 0.1h0m-1 9.3h0m1.7 23h0m-3.6-24.7h0m0.9-3.7h0m1.1 5.3h0m1.4-10.3h0m11.9 11.3h0m-0.7 0.3h0m0.8-1.2h0m-3.7-3.4h0m2.2-8h0m1.5 1.4h0m0 10.6h0m-1 2h0m-0.1-0.9h0m-2.9-10.5h0m3.2-5.2h0m-3.7 1.4h0m-0.8 12.9h0m1.4-9.8h0m4-3.1h0m-1-1.5h0m-1.1 8.2h0m-3-9.3h0m-1 4.8h0m3 0.6h0m-0.4-2h0m1.1-1.8h0m-2.3 18h0m53.7 218.2h0m1.7-30.8h0m-0.3 41h0m2.6-17.7h0m-6.5-6.1h0m0.5-12.5h0m4.9-2.5h0m-0.9 13h0m-0.7-31.1h0m-0.1 46.9h0m-2.1-28.7h0m2.4 18.8h0m-1.6-22.2h0m0.7 13.4h0m1.6 18.3h0m0.5-13.4h0m-1.3 13.9h0m1.8-2.5h0m-5.5-40.8h0m5.5 37.8h0m0.3 5.6h0m-0.6 5.8h0m-1.7-26.7h0m-1.3 21.9h0m1.6 0.5h0m-1.9-43.7h0m1.5 41.3h0m2.9-30.6h0m-6.4 36.8h0m4.6-17.8h0m-1.6-24.5h0m1 34.1h0m2.1-1.6h0m-0.5-22.2h0m-5.4 16.6h0m3.9 0.3h0m1 6.3h0m-3.8-6.6h0m3.2-18.7h0m-2.6 23.3h0m14.1-26.1h0m1.1-15.4h0m-3.7-24.1h0m-0.3-21.8h0m1.4 18.4h0m1.4 14.6h0m-3.3-14.1h0m1.5 4.7h0m2.3-11.6h0m-3 14.4h0m-2.2 36.1h0m1.8-27.8h0m-0.2-18.1h0m2.6-2.6h0m0.7 16.4h0m-1.9-3.7h0m2-25.8h0m-4-5.5h0m0.1-4.5h0m-1.5 43.7h0m0.7-35.6h0m4.4 48.7h0m0.4-29.3h0m1 29.6h0m-0.4-9.4h0m-4-47.3h0m3.5 42.2h0m-1.8 14.2h0m-0.2-23.3h0m-2.7-16.1h0m0.7-10.7h0m3 54.4h0m0.6-25.5h0m-0.1 4h0m-3.2-5.4h0m3.2-10.8h0m-4 41h0m-0.4-40.2h0m0.4 29.2h0m-0.6-53h0m14.9-96.6h0m-3.8 4.4h0m5.2-4.6h0m-3.1-14.3h0m-0.4 16.9h0m-0.7-3.1h0m3.6-3h0m-4.3 12.8h0m1.7-6h0m2.3-0.9h0m-3.5-9.9h0m4.3 11.5h0m-1.4-10.9h0m1.8 16.8h0m0.1-10.8h0m-0.5 13.3h0m-4-16.1h0m1.7 4.2h0m1.7-4.8h0m1.5-1.2h0m-3.4-3h0m2.7 22.7h0m-3.4-26.6h0m2.4 2.7h0m1.2 0.1h0m-2.7 14.4h0m-1.5 2.6h0m4.2 3.3h0m-0.1-14.1h0m0.4-6.4h0m-5.4 15.1h0m15.8-31.5h0m-3 16h0m2.9-7.5h0m-0.2 2h0m-4 10.7h0m3.5-21.8h0m-3.7 19.3h0m4-10h0m1.2 2.1h0m-5 3.1h0m2.4 2.5h0m2-12.1h0m-3.4-4.9h0m-1.7 14.9h0m3.1-13h0m-0.9 4.9h0m-0.6-4.3h0m0.4 9.4h0m1.2-10.1h0m-0.4-8h0m-1.5 22.7h0m1.2-8.3h0m0.5-1.8h0m-2.7 3.8h0m1.2-1.9h0m-0.7-0.8h0m54.6 206.6h0m0 24.5h0m0.9-29.3h0m0.2 5.3h0m0.8-17h0m-1.7 21.5h0m0.6-9.7h0m-1.1 6.3h0m-3-5.2h0m1.6 8.6h0m-0.6 6.1h0m0-13.6h0m3.5-4.1h0m-2.4 30h0m2-30.6h0m-3 22.2h0m5.1-29.1h0m-2.2 28.7h0m-3.5 10.5h0m4.9-14.9h0m-5.5-20.6h0m5.1 4.4h0m-3.7 12h0m3.2 13.8h0m-2.4-7.2h0m2.7-41.7h0m1.5 41.8h0m-6.4-35.4h0m3.5 21.6h0m-1 7.2h0m-1.2-5.8h0m3.8 20.2h0m-2-11.4h0m-1.8-41.2h0m1.7 26.5h0m1.3-7.9h0m0.6 16h0m-0.2 14.7h0m-0.4 2.3h0m-0.5-23.9h0m11.9-77.2h0m-2.5 16.8h0m-1.7-9.9h0m3.2 32.3h0m-2.6-41.5h0m3.8 25.3h0m-4 8.1h0m2.4-20.7h0m-1.6 3.6h0m0.1-24.5h0m3.1 61.4h0m-3.3-21h0m4.6 14.3h0m-4.1-25.1h0m-0.1 3.7h0m3.9-7.1h0m-5.8-12.3h0m-0.1 10.4h0m5.9 21.8h0m-5.2-11.9h0m1.6-14.3h0m-0.7 4.1h0m2.1 0.5h0m-0.3 22.8h0m1.6-20.1h0m1 8h0m-0.9 13.9h0m-3 2.7h0m-1.3-11.4h0m-0.2-26.9h0m5.4 35.6h0m-1.5-20.3h0m-3 6.8h0m0.7 30.9h0m1-26.3h0m0.9-1.6h0m-1.4 4.2h0m1.9-22.2h0m-4.4 13.2h0m0.7 0.1h0m13.5-133.7h0m-2.8-3.1h0m3.5-7.6h0m-2.7 12.3h0m3.6 7.2h0m-2.8-6.5h0m0-6.3h0m-0.9-11.4h0m2.2 24.6h0m2-8.9h0m-0.4 6.4h0m-4.5-1.8h0m5.7 13.4h0m-1.6-27.2h0m-2.7 3.4h0m2.9 14.4h0m-4.7 5.3h0m5-18.2h0m-2.2 12.8h0m0.5-7.1h0m-3.4 10.9h0m5.5-3.7h0m-1.2-4.3h0m1.8-7h0m-1.6 3.3h0m0.1 5.1h0m1.3 0.3h0m-3.2-0.3h0m-1 5h0m-0.1-28.1h0m-1.5 17.9h0m15.6-30.1h0m1.1 16.7h0m-1.6-3.8h0m-1.6 8.3h0m3.5-1.6h0m-5.9-10.8h0m6.2 8.4h0m-1-16h0m-0.7 3.8h0m-1.6 0.2h0m0 8.9h0m2.1-2.7h0m-4.5-1.8h0m0.9 1.7h0m-0.2 12.1h0m2.2 5.5h0m2.1-14.5h0m0.7 12.8h0m-5.1-9.1h0m0.6-8h0m-1.2 6.5h0m5.2 2.7h0m-2.8-3h0m1.6-8.1h0m0.2 18h0m-3.7-4.6h0m32.9 217.5h0m-2.5 9.8h0m1.1-1.5h0m26.3-38.7h0m-5.8 9.9h0m4.1-3.2h0m0.3 9.8h0m1 14.1h0m-1.8-12.4h0m-1 11.9h0m1.7 7h0m-2.2-12.3h0m0-4.6h0m-0.4 18.1h0m0.2-32.8h0m3.8 26.9h0m-5.8-24.9h0m2-22.5h0m0.4 27.4h0m-1.4 18.8h0m-1.5-5.4h0m1.8-42.2h0m-1.5 42.1h0m5.5-13.7h0m-4.2-3.7h0m2.9 19.7h0m-2-18.6h0m-1.1 27.2h0m4.2-32.4h0m0.8-0.2h0m-1.8-5.4h0m-4.3 27.6h0m4.4-13.2h0m-0.4-29.2h0m-1.3 17.2h0m1-20.2h0m-1.3 22.4h0m-1.2-2.6h0m-0.8-13.1h0m0.7 41.8h0m0.6 0.3h0m0.8-35h0m1.9 16.4h0m8.4-38.6h0m0-1.5h0m0.5-2.4h0m1.4-1.6h0m-3.9 5.7h0m0.6 2.1h0m1.2-2.6h0m2.1-6.6h0m-2.4-23.4h0m2.2 32.6h0m-2.9-8.2h0m5-4.5h0m-4.9-21.7h0m0.3 17.1h0m0.8-6h0m0.5 35.6h0m0.5-46h0m2.8 46.7h0m-3.2-46.9h0m3.7 7.3h0m-3 20h0m-1.7 0.9h0m-0.9 9.4h0m3.7-31.1h0m-1.5 25.9h0m-1.9 0.9h0m1-10.8h0m-2.2 7.9h0m4.7 12h0m-3-15.4h0m-0.3-9.7h0m0.8-7.9h0m-0.5 32.9h0m0.6-18h0m2.9-19.2h0m0.7 8h0m-1.6 36.4h0m-3.2-33.6h0m0.6 0.6h0m2.2 39.3h0m10-177.9h0m2.1-3.5h0m1.5 1.8h0m-4.8-2.6h0m2.6-0.3h0m-1.9 5.2h0m-1.7-7.8h0m0.6 8.8h0m3-11.1h0m-2.5 8.6h0m-1.2 4h0m3.5-7.7h0m-1.8 2.4h0m3.9-3.3h0m-4.5-4.2h0m2.7 1.9h0m-1-3.6h0m-2.6 2.5h0m0.4-7.2h0m2 13.2h0m0.5-8.4h0m-0.6 11.1h0m-2.9-10.3h0m13-1.8h0m3-2.6h0m-4.3-1.7h0m3.7 11.9h0m-3.8-17.9h0m2 19h0m-1.7 7h0m-0.2-8.6h0m0.2 2h0m1.5-2.3h0m1.1-5.4h0m1.6 9.3h0m-4.7-4.7h0m5.2 5.9h0m0.3-23.4h0m-0.8 14.2h0m-1.5 10h0m-3.1-13.3h0m5.1 0.4h0m-2.2 7.1h0m-2.9-10.1h0m4.6 10.4h0m0.6 9.1h0m29.8 213.5h0m-0.5-2.4h0m-3.5 3.8h0m26.5-43.3h0m-3.3 8.6h0m2.7 17.3h0m0.9-35.1h0m-3.1 44h0m3-47.1h0m-3.3 25h0m-0.6 29.6h0m0.2-57.3h0m-1.4 55.5h0m-0.3-45.1h0m5-34h0m-1.7 80.5h0m-0.9-22.4h0m3.4 3.9h0m-5.4-5.5h0m3.5-24.4h0m1.1-4h0m-5 42.9h0m4.8-27.5h0m-4.1 8.5h0m0 5.5h0m3.9 0.5h0m-3.1 15.1h0m4.5-34.9h0m-4.3 8.2h0m3.3 8.4h0m-2.9 23.4h0m0.6-49.6h0m0.7 47h0m2.6-31.6h0m-6.3 34.4h0m3.2-53h0m2.4 48.5h0m-0.9-32.6h0m0.7-4.2h0m-1.1-14.2h0m-3.8 19.4h0m3.3 7.7h0m-0.8 10.5h0m8.5-39.1h0m3.2-17.2h0m-0.7 50.1h0m-0.7-10.4h0m4.2-33.3h0m-1-5.4h0m-5 37.8h0m0.3-20.8h0m2 0.2h0m3.6-23.6h0m-4.9 39h0m0.3-3.9h0m-1.4-3.3h0m4.1 19.9h0m-0.8-13h0m1.2 10.3h0m-0.3-3.9h0m-1.5-4.4h0m-1.2 16.1h0m2.2-41.5h0m-2.9 15.3h0m4.5-19.6h0m-0.3 55h0m-3.6-18.3h0m3.1-12.7h0m-4.8-8.3h0m2.2 10.1h0m-1.5 14.1h0m4.8-35.8h0m-3.4 42.6h0m-0.2-57.2h0m1.9 13.2h0m-0.3 20.3h0m1.3 8h0m-4.2-3.4h0m2.8-32.5h0m-3.3 15.8h0m6.1 17.9h0m-3.9-1.8h0m1.4-26.4h0m13-121.9h0m-5.6-10.5h0m1.5 24.2h0m-0.1-14.8h0m3.1-31.3h0m1.4 25.6h0m-5.6 2.2h0m0.5-1.2h0m-0.5 11.8h0m2.6-17.8h0m3.1-15.5h0m-2.6 67.9h0m2.9-48.8h0m-0.9-1.6h0m-2.9 28.3h0m-1.4 6.9h0m4.4-23h0m-1.9-16.9h0m-0.9-19.7h0m1 13.6h0m-1-11.1h0m1.8 10.4h0m-3.8 9h0m4.8 1.5h0m-5.6-7h0m4.9 14.4h0m-4.8 7.3h0m2.7-4.5h0m3.6-13.8h0m-1.9 1h0m-3.9-6.7h0m5.9 4.2h0m-3.4 8.6h0m-2.1-21h0m1.1 42.5h0m3.1-44.9h0m-1.1 14.7h0m-1.2-4.9h0m2 0.3h0m-0.5 13.3h0m10.6 11.4h0m1-10.4h0m-0.5 20.9h0m-0.5-18.3h0m-1 10.7h0m0.6-12.1h0m0 20.6h0m0.5-11.7h0m0.7-13.5h0m1.8 8.5h0m-4.1-21.2h0m1.8 7.6h0m1.4 19.5h0m0.8-9.4h0m-6.1-8.6h0m4.5 17.9h0m-0.8-20.5h0m-4.1-3.9h0m0.4 27.7h0m-0.3-23.3h0m3.3 11.1h0m2.2 9.7h0m-2.9 0.6h0m1.3-19.7h0m-0.5 16h0m-3.5-1.3h0m1.6-26.2h0m1.7 36.7h0m-3.1-38.6h0m5.1 32h0m-4.6-24.1h0m2.7 15.7h0m-0.7 16.2h0m3.3-23.3h0m-1.4-10.2h0m-3.7 31.1h0m3.5-37h0m-0.3 20h0m1.9 10h0m-2.5-14.4h0m29.4 200.4h0m-1.9 2.6h0m4.9-6.7h0m5.7-182.5h0m4.8 0.4h0m0.5-2.2h0m6.5 167.3h0m4.8 2.4h0m-0.1 3.3h0m0.2 11.2h0m-4.9-9.5h0m5.7-0.7h0m-3.8-1.2h0m1.1-2.7h0m2.3-11.5h0m0.3 17h0m-4.9-23.1h0m0.6 9.1h0m-1.7-9.9h0m6.2 28.9h0m-3.3-10h0m1.8 8.2h0m-2.9 11.6h0m2.4 3.8h0m1.3-33.1h0m-1 22.8h0m-1.1-36.7h0m-3.3 42.2h0m0.1-26.1h0m-0.3 13.1h0m4.4-9.7h0m-3.3 9.2h0m3.4 17.7h0m-3.3-29.3h0m2.2 27.3h0m-2.7-8.9h0m4.7-16.2h0m-4.6 22.1h0m-0.7-13.5h0m1.6-18.8h0m4 33.5h0m-2.2-12.1h0m1.4 8.4h0m-2.8 2.2h0m2.8-14.8h0m-3.7-4.9h0m13.9-30.8h0m-1.1 5.5h0m-3.2-0.2h0m1.3 5.3h0m-1.4-27.2h0m2.2 27h0m0.6-20.9h0m-2.7 34.4h0m5.4-32.7h0m-5.5 20.2h0m1.6 28.2h0m-0.2-54h0m4 40.5h0m-2.1-27.4h0m0.4 18.9h0m0.4-25.5h0m0.4 1.5h0m-2 40.8h0m-2 1.1h0m5.2-76.2h0m0.3 44.8h0m-4.9-34.9h0m1.2 19.3h0m3.1 4.6h0m0.1-33.5h0m-3.8 24.5h0m-0.1 60.1h0m0.9-17.4h0m-1.3-55.5h0m-0.3 10.2h0m3.3 34.2h0m-0.7-43.5h0m-2.1 10.4h0m2.1 61.4h0m-2.5-44.3h0m-0.5-7.7h0m3.9 49.4h0m-3.8-76.5h0m2.9 37.4h0m-3.3-27.6h0m14.8-126.5h0m-3.4 7.1h0m3.3 12.2h0m-0.4 16.7h0m-0.9 11.2h0m3-12.6h0m1-24.7h0m-1.8 8.4h0m-0.5 27.7h0m0.8-16.6h0m-2.2-13.4h0m-1.3-19.9h0m3.1 22.5h0m-1.4 16.6h0m1.5 14.1h0m1.8-41.8h0m-4.8 14h0m4.4 11.2h0m-3.2 9h0m0.1-17.5h0m0.5-6.4h0m-0.4 6.9h0m-2.7-12.1h0m1.8-1.4h0m1-8.8h0m-2.4 38.4h0m-0.7-15.7h0m1.7 45.4h0m0.5-29.9h0m0.9-5.4h0m-2.4-14.2h0m0.5 2.3h0m1.2 11.7h0m3.8-28.4h0m0 39h0m-2.1-33.9h0m-2.1 40.6h0m-1.9-10h0m3.6-44.7h0m-3.4 30.3h0m14.8-33.2h0m-2.4 9.2h0m0-17.8h0m4.1 12.9h0m-2.7-6h0m3.2-6.4h0m-1.2 2.7h0m-4.8 0.6h0m4.3 19.3h0m0.5-23.7h0m-2.9-6.5h0m3 1.4h0m-2.2 34.5h0m-1.4-24.2h0m-1.4-3.1h0m0.7-2.6h0m4.7 0.3h0m-4.8 18.2h0m-0.2 1.9h0m1-12.4h0m1.6-12.6h0m0.7 21.5h0m-0.1-23.2h0m-3.6 34.5h0m1.2-22.9h0m-0.6 8.4h0m2.1 8.7h0m0.1-12h0m0.4-11h0m-1.5-2.2h0m4 0.5h0" stroke="#000" stroke-opacity="0.5" stroke-width="2.4" stroke-linecap="round" fill="none"/>
<ellipse cx="1082.8" cy="878.1" rx="3.3" ry="14" fill-opacity="0.7"/><ellipse cx="1093.8" cy="808" rx="3.3" ry="14" fill-opacity="0.7"/><ellipse cx="1104.8" cy="675.1" rx="3.3" ry="11.5" fill-opacity="0.7"/><ellipse cx="1115.9" cy="662.5" rx="3.3" ry="7.4" fill-opacity="0.7"/><ellipse cx="1168.5" cy="878.1" rx="3.3" ry="14" fill-opacity="0.7"/><ellipse cx="1179.5" cy="808" rx="3.3" ry="14" fill-opacity="0.7"/><ellipse cx="1190.5" cy="675.1" rx="3.3" ry="11.5" fill-opacity="0.7"/><ellipse cx="1201.6" cy="662.5" rx="3.3" ry="7.4" fill-opacity="0.7"/><ellipse cx="1254.2" cy="878.1" rx="3.3" ry="14" fill-opacity="0.7"/><ellipse cx="1265.2" cy="808" rx="3.3" ry="14" fill-opacity="0.7"/><ellipse cx="1276.2" cy="675.1" rx="3.3" ry="11.5" fill-opacity="0.7"/><ellipse cx="1287.3" cy="662.5" rx="3.3" ry="7.4" fill-opacity="0.7"/><ellipse cx="1339.9" cy="878.1" rx="3.3" ry="14" fill-opacity="0.7"/><ellipse cx="1350.9" cy="808" rx="3.3" ry="14" fill-opacity="0.7"/><ellipse cx="1361.9" cy="675.1" rx="3.3" ry="11.5" fill-opacity="0.7"/><ellipse cx="1373" cy="662.5" rx="3.3" ry="7.4" fill-opacity="0.7"/><ellipse cx="1425.6" cy="883.1" rx="3.3" ry="14" fill-opacity="0.7"/><ellipse cx="1436.6" cy="820.9" rx="3.3" ry="14" fill-opacity="0.7"/><ellipse cx="1447.6" cy="693.5" rx="3.3" ry="9.9" fill-opacity="0.7"/><ellipse cx="1458.7" cy="677.4" rx="3.3" ry="8.2" fill-opacity="0.7"/><ellipse cx="1511.3" cy="883.1" rx="3.3" ry="14" fill-opacity="0.7"/><ellipse cx="1522.3" cy="820.9" rx="3.3" ry="14" fill-opacity="0.7"/><ellipse cx="1533.3" cy="693.5" rx="3.3" ry="9.9" fill-opacity="0.7"/><ellipse cx="1544.4" cy="676.7" rx="3.3" ry="8.2" fill-opacity="0.7"/><ellipse cx="1597" cy="883.7" rx="3.3" ry="14" fill-opacity="0.7"/><ellipse cx="1608" cy="829.1" rx="3.3" ry="14" fill-opacity="0.7"/><ellipse cx="1619" cy="684.3" rx="3.3" ry="7.4" fill-opacity="0.7"/><ellipse cx="1630.1" cy="678" rx="3.3" ry="7.4" fill-opacity="0.7"/><ellipse cx="1682.7" cy="876.8" rx="3.3" ry="14" fill-opacity="0.7"/><ellipse cx="1693.7" cy="858.4" rx="3.3" ry="14" fill-opacity="0.7"/><ellipse cx="1704.7" cy="700.1" rx="3.3" ry="14" fill-opacity="0.7"/><ellipse cx="1715.8" cy="711.3" rx="3.3" ry="14" fill-opacity="0.7"/><ellipse cx="1768.4" cy="886.7" rx="3.3" ry="14" fill-opacity="0.7"/><ellipse cx="1779.4" cy="860" rx="3.3" ry="14" fill-opacity="0.7"/><ellipse cx="1790.4" cy="720.5" rx="3.3" ry="14" fill-opacity="0.7"/><ellipse cx="1801.5" cy="693.5" rx="3.3" ry="9.9" fill-opacity="0.7"/>
<g fill="#000"><ellipse cx="1082.8" cy="878.1" rx="2.4" ry="4"/><ellipse cx="1093.8" cy="808" rx="2.4" ry="4"/><ellipse cx="1104.8" cy="675.1" rx="2.4" ry="4"/><ellipse cx="1115.9" cy="662.5" rx="2.4" ry="3"/><ellipse cx="1168.5" cy="878.1" rx="2.4" ry="4"/><ellipse cx="1179.5" cy="808" rx="2.4" ry="4"/><ellipse cx="1190.5" cy="675.1" rx="2.4" ry="4"/><ellipse cx="1201.6" cy="662.5" rx="2.4" ry="3"/><ellipse cx="1254.2" cy="878.1" rx="2.4" ry="4"/><ellipse cx="1265.2" cy="808" rx="2.4" ry="4"/><ellipse cx="1276.2" cy="675.1" rx="2.4" ry="4"/><ellipse cx="1287.3" cy="662.5" rx="2.4" ry="3"/><ellipse cx="1339.9" cy="878.1" rx="2.4" ry="4"/><ellipse cx="1350.9" cy="808" rx="2.4" ry="4"/><ellipse cx="1361.9" cy="675.1" rx="2.4" ry="4"/><ellipse cx="1373" cy="662.5" rx="2.4" ry="3"/><ellipse cx="1425.6" cy="883.1" rx="2.4" ry="4"/><ellipse cx="1436.6" cy="820.9" rx="2.4" ry="4"/><ellipse cx="1447.6" cy="693.5" rx="2.4" ry="3.9"/><ellipse cx="1458.7" cy="677.4" rx="2.4" ry="3.3"/><ellipse cx="1511.3" cy="883.1" rx="2.4" ry="4"/><ellipse cx="1522.3" cy="820.9" rx="2.4" ry="4"/><ellipse cx="1533.3" cy="693.5" rx="2.4" ry="3.9"/><ellipse cx="1544.4" cy="676.7" rx="2.4" ry="3.3"/><ellipse cx="1575" cy="903.5" rx="3" ry="2"/><ellipse cx="1597" cy="883.7" rx="2.4" ry="4"/><ellipse cx="1608" cy="829.1" rx="2.4" ry="4"/><ellipse cx="1619" cy="684.3" rx="2.4" ry="3"/><ellipse cx="1630.1" cy="678" rx="2.4" ry="3"/><ellipse cx="1660.7" cy="903.5" rx="3" ry="2"/><ellipse cx="1682.7" cy="876.8" rx="2.4" ry="4"/><ellipse cx="1693.7" cy="858.4" rx="2.4" ry="4"/><ellipse cx="1704.7" cy="700.1" rx="2.4" ry="4"/><ellipse cx="1715.8" cy="711.3" rx="2.4" ry="4"/><ellipse cx="1746.4" cy="904.5" rx="3" ry="2"/><ellipse cx="1757.4" cy="713.9" rx="3" ry="2"/><ellipse cx="1768.4" cy="886.7" rx="2.4" ry="4"/><ellipse cx="1779.4" cy="860" rx="2.4" ry="4"/><ellipse cx="1790.4" cy="720.5" rx="2.4" ry="4"/><ellipse cx="1801.5" cy="693.5" rx="2.4" ry="3.9"/></g>
<path d="M1101.83 593.57V586.07H1115.11V593.57M1187.53 593.57V586.07H1200.81V593.57M1273.23 593.57V586.07H1286.51V593.57M1358.93 593.57V586.07H1372.21V593.57M1444.63 593.57V586.07H1457.91V593.57M1530.33 593.57V586.07H1543.61V593.57M1616.03 593.57V586.07H1629.31V593.57M1701.73 593.57V586.07H1715.01V593.57M1787.43 593.57V586.07H1800.71V593.57" stroke="#000" stroke-width="1.5" fill="none"/>
<g font-size="11.6" text-anchor="middle" fill="#000"><text x="1108.47" y="583.37">p &lt; 0.001</text><text x="1194.17" y="583.37">p &lt; 0.001</text><text x="1279.87" y="583.37">p &lt; 0.001</text><text x="1365.57" y="583.37">p &lt; 0.001</text><text x="1451.27" y="583.37">p &lt; 0.001</text><text x="1536.97" y="583.37">p &lt; 0.001</text><text x="1622.67" y="583.37">p &lt; 0.001</text><text x="1708.37" y="583.37">p = 1.000</text><text x="1794.07" y="583.37">p &lt; 0.001</text></g>
<path d="M1031.5 560.47V934.95H1819.8" stroke="#000" stroke-width="1.9" fill="none" stroke-linejoin="round"/>
<path d="M1026.2 921.9H1031.5M1026.2 839.62H1031.5M1026.2 757.34H1031.5M1026.2 675.05H1031.5M1026.2 592.77H1031.5M1082.8 934.95V940.25M1168.5 934.95V940.25M1254.2 934.95V940.25M1339.9 934.95V940.25M1425.6 934.95V940.25M1511.3 934.95V940.25M1597 934.95V940.25M1682.7 934.95V940.25M1768.4 934.95V940.25" stroke="#333" stroke-width="1.9" fill="none"/>
<g font-size="23.5" fill="#4D4D4D">
<text x="1022.1" y="930.9" text-anchor="end">0</text>
<text x="1022.1" y="848.62" text-anchor="end">25</text>
<text x="1022.1" y="766.34" text-anchor="end">50</text>
<text x="1022.1" y="684.05" text-anchor="end">75</text>
<text x="1022.1" y="601.77" text-anchor="end">100</text>
<text x="1082.8" y="961.8" text-anchor="middle">1</text>
<text x="1168.5" y="961.8" text-anchor="middle">2</text>
<text x="1254.2" y="961.8" text-anchor="middle">4</text>
<text x="1339.9" y="961.8" text-anchor="middle">8</text>
<text x="1425.6" y="961.8" text-anchor="middle">16</text>
<text x="1511.3" y="961.8" text-anchor="middle">24</text>
<text x="1597" y="961.8" text-anchor="middle">48</text>
<text x="1682.7" y="961.8" text-anchor="middle">96</text>
<text x="1768.4" y="961.8" text-anchor="middle">192</text>
</g>
<text x="1425.65" y="541.3" font-size="39" font-weight="bold" text-anchor="middle">TriNetX 95% Sensitivity</text>
<text x="1425.65" y="992" font-size="27.3" font-weight="bold" text-anchor="middle">Prediction Horizon [min. hours before event]</text>
<text transform="translate(970.8 747.71) rotate(-90)" font-size="27.3" font-weight="bold" text-anchor="middle">Specificity at 95 % Sensitivity [%]</text>
<g stroke="#000" stroke-width="1.9" stroke-dasharray="2.05 6.3" fill="none">
<line x1="80.5" y1="1434.8" x2="868.2" y2="1434.8"/>
<line x1="80.5" y1="1352.52" x2="868.2" y2="1352.52"/>
<line x1="80.5" y1="1270.24" x2="868.2" y2="1270.24"/>
<line x1="80.5" y1="1187.95" x2="868.2" y2="1187.95"/>
<line x1="80.5" y1="1105.67" x2="868.2" y2="1105.67"/>
<line x1="131.8" y1="1448.35" x2="131.8" y2="1104.17"/>
<line x1="217.49" y1="1448.35" x2="217.49" y2="1104.17"/>
<line x1="303.18" y1="1448.35" x2="303.18" y2="1104.17"/>
<line x1="388.87" y1="1448.35" x2="388.87" y2="1104.17"/>
<line x1="474.56" y1="1448.35" x2="474.56" y2="1104.17"/>
<line x1="560.25" y1="1448.35" x2="560.25" y2="1104.17"/>
<line x1="645.94" y1="1448.35" x2="645.94" y2="1104.17"/>
<line x1="731.63" y1="1448.35" x2="731.63" y2="1104.17"/>
<line x1="817.32" y1="1448.35" x2="817.32" y2="1104.17"/>
</g>
<g stroke="#000" stroke-width="1.45"><rect x="115.27" y="1298.21" width="11.02" height="136.59" fill="#00A087"/><rect x="126.29" y="1274.51" width="11.02" height="160.29" fill="#3C5488"/><rect x="137.31" y="1228.44" width="11.02" height="206.36" fill="#F39B7F"/><rect x="148.33" y="1163.93" width="11.02" height="270.87" fill="#8491B4"/><rect x="159.34" y="1136.28" width="11.02" height="298.52" fill="#91D1C2"/><rect x="200.96" y="1298.21" width="11.02" height="136.59" fill="#00A087"/><rect x="211.98" y="1274.51" width="11.02" height="160.29" fill="#3C5488"/><rect x="223" y="1230.74" width="11.02" height="204.06" fill="#F39B7F"/><rect x="234.02" y="1166.89" width="11.02" height="267.91" fill="#8491B4"/><rect x="245.03" y="1137.6" width="11.02" height="297.2" fill="#91D1C2"/><rect x="286.65" y="1298.21" width="11.02" height="136.59" fill="#00A087"/><rect x="297.67" y="1274.51" width="11.02" height="160.29" fill="#3C5488"/><rect x="308.69" y="1230.74" width="11.02" height="204.06" fill="#F39B7F"/><rect x="319.71" y="1163.93" width="11.02" height="270.87" fill="#8491B4"/><rect x="330.72" y="1136.94" width="11.02" height="297.86" fill="#91D1C2"/><rect x="372.34" y="1298.21" width="11.02" height="136.59" fill="#00A087"/><rect x="383.36" y="1274.51" width="11.02" height="160.29" fill="#3C5488"/><rect x="394.38" y="1232.39" width="11.02" height="202.41" fill="#F39B7F"/><rect x="405.4" y="1163.93" width="11.02" height="270.87" fill="#8491B4"/><rect x="416.41" y="1136.94" width="11.02" height="297.86" fill="#91D1C2"/><rect x="458.03" y="1304.46" width="11.02" height="130.34" fill="#00A087"/><rect x="469.05" y="1291.3" width="11.02" height="143.5" fill="#3C5488"/><rect x="480.07" y="1262.99" width="11.02" height="171.81" fill="#F39B7F"/><rect x="491.09" y="1172.15" width="11.02" height="262.65" fill="#8491B4"/><rect x="502.1" y="1143.85" width="11.02" height="290.95" fill="#91D1C2"/><rect x="543.72" y="1306.77" width="11.02" height="128.03" fill="#00A087"/><rect x="554.74" y="1294.59" width="11.02" height="140.21" fill="#3C5488"/><rect x="565.76" y="1289.65" width="11.02" height="145.15" fill="#F39B7F"/><rect x="576.78" y="1182.03" width="11.02" height="252.77" fill="#8491B4"/><rect x="587.79" y="1162.28" width="11.02" height="272.52" fill="#91D1C2"/><rect x="629.41" y="1310.39" width="11.02" height="124.41" fill="#00A087"/><rect x="640.43" y="1293.6" width="11.02" height="141.2" fill="#3C5488"/><rect x="651.45" y="1282.08" width="11.02" height="152.72" fill="#F39B7F"/><rect x="662.47" y="1186.64" width="11.02" height="248.16" fill="#8491B4"/><rect x="673.48" y="1167.88" width="11.02" height="266.92" fill="#91D1C2"/><rect x="715.1" y="1313.68" width="11.02" height="121.12" fill="#00A087"/><rect x="726.12" y="1297.22" width="11.02" height="137.58" fill="#3C5488"/><rect x="737.14" y="1249.17" width="11.02" height="185.63" fill="#F39B7F"/><rect x="748.16" y="1206.71" width="11.02" height="228.09" fill="#8491B4"/><rect x="759.17" y="1189.27" width="11.02" height="245.53" fill="#91D1C2"/><rect x="800.79" y="1314.34" width="11.02" height="120.46" fill="#00A087"/><rect x="811.81" y="1294.92" width="11.02" height="139.88" fill="#3C5488"/><rect x="822.83" y="1305.78" width="11.02" height="129.02" fill="#F39B7F"/><rect x="833.85" y="1212.97" width="11.02" height="221.83" fill="#8491B4"/><rect x="844.86" y="1175.45" width="11.02" height="259.35" fill="#91D1C2"/></g>
<g stroke="#000" stroke-width="2.2"><line x1="93.24" y1="1434.8" x2="104.26" y2="1434.8"/><line x1="104.26" y1="1434.8" x2="115.27" y2="1434.8"/><line x1="178.93" y1="1434.8" x2="189.95" y2="1434.8"/><line x1="189.95" y1="1434.8" x2="200.96" y2="1434.8"/><line x1="264.62" y1="1434.8" x2="275.64" y2="1434.8"/><line x1="275.64" y1="1434.8" x2="286.65" y2="1434.8"/><line x1="350.31" y1="1434.8" x2="361.33" y2="1434.8"/><line x1="361.33" y1="1434.8" x2="372.34" y2="1434.8"/><line x1="436" y1="1434.8" x2="447.02" y2="1434.8"/><line x1="447.02" y1="1434.8" x2="458.03" y2="1434.8"/><line x1="521.69" y1="1434.8" x2="532.71" y2="1434.8"/><line x1="532.71" y1="1434.8" x2="543.72" y2="1434.8"/><line x1="607.38" y1="1434.8" x2="618.4" y2="1434.8"/><line x1="618.4" y1="1434.8" x2="629.41" y2="1434.8"/><line x1="693.07" y1="1434.8" x2="704.09" y2="1434.8"/><line x1="704.09" y1="1434.8" x2="715.1" y2="1434.8"/><line x1="778.76" y1="1434.8" x2="789.78" y2="1434.8"/><line x1="789.78" y1="1434.8" x2="800.79" y2="1434.8"/></g>
<path d="M109.8 1434.8V1398.3M120.8 1298.2V1175.4M131.8 1310.4V1233M142.8 1312.7V1206.7M153.8 1209V1137.6M164.9 1206.7V1126.1M195.5 1434.8V1398.3M206.5 1298.2V1175.4M217.5 1310.4V1233M228.5 1335.7V1211.3M239.5 1211V1138.6M250.5 1215.9V1127.1M281.1 1434.8V1398.3M292.2 1298.2V1175.4M303.2 1310.4V1233M314.2 1333.4V1211.3M325.2 1241.3V1137.6M336.2 1207.7V1128.7M366.8 1434.8V1398.3M377.9 1298.2V1176.4M388.9 1310.4V1233M399.9 1335.7V1209M410.9 1209V1137.6M421.9 1181.4V1128.7M463.5 1304.5V1183.7M474.6 1328.8V1248.2M485.6 1340.3V1229.8M496.6 1206.7V1146.8M507.6 1188.3V1130.4M549.2 1434.8V1303.1M560.2 1333.4V1255.1M571.3 1354.2V1245.9M582.3 1241.3V1146.8M593.3 1206.7V1137.6M634.9 1434.8V1306.4M645.9 1338V1255.1M657 1347.3V1234.4M668 1232.1V1160.6M679 1236.7V1146.8M720.6 1313.7V1309.7M731.6 1340.3V1262M742.6 1305.8V1225.1M753.7 1239V1172.2M764.7 1259.7V1155M806.3 1434.8V1310.4M817.3 1351.9V1257.4M828.3 1391V1234.4M839.4 1248.2V1169.9M850.4 1241.3V1160.6" stroke="#000" stroke-width="1.6" fill="none"/>
<g fill="#000" fill-opacity="0.38"></g>
<path d="M113 1405h0m-3.6-9.7h0m-1.2 1.6h0m21.2-120.7h0m5 28.7h0m-2.9-28.4h0m0.4-18.9h0m1.8 3.9h0m1.3 6.9h0m-6.4-8.3h0m4.9 21h0m-2.2-1h0m3-17.9h0m-4.3 18.5h0m-1-14h0m2.1 5.4h0m2.1-15.4h0m-4.5 21h0m0.4 20.8h0m3.2-21.6h0m1.7 13.9h0m-0.9-22h0m-4.3-0.9h0m1.4 0.3h0m4.7 39.6h0m-1.2-37.2h0m-0.2 11.4h0m-1-14h0m-3.1-3.4h0m3.1 0.8h0m-3.9 36.3h0m0-0.3h0m1.6-41.7h0m4 17.4h0m0.2-28.8h0m-2.2 4.1h0m0.3 23.7h0m0.1-0.3h0m-3.4-4.4h0m0.8 26.2h0m-0.8-18.6h0m1 2h0m0.7-13.5h0m15-7.1h0m-2.6-14.9h0m1.9-7.5h0m-1.9 9.6h0m2.7-40h0m-2.6 31.6h0m-1.8 2h0m-2 28.5h0m3.3-48.2h0m2 21h0m-3.5 7.9h0m-0.2-29.6h0m-0.2 40.2h0m3.6-30.5h0m-3.4 22.8h0m3.8-24.9h0m-3.8 21.7h0m-1.5-31.4h0m2 28.6h0m-1.1 18.6h0m1.3-51.9h0m1.5 5.3h0m-3.2 48.1h0m-0.5-43.2h0m4-15.7h0m-0.5 73.9h0m2.4-27.4h0m-4.2 4.8h0m1.2-37.6h0m-3.1 13.3h0m4.1 3.6h0m-0.7-24.7h0m1.7 74h0m-4.5-69.2h0m3.4 4.5h0m-3.8 22.7h0m2.8 7.6h0m-2.7-44h0m0.5 49.3h0m0.3-19.6h0m15.6-64.8h0m-1.4 28.1h0m-1.2-41.8h0m2.3 9.9h0m0.4-1.8h0m-1.1-13.7h0m-1 1.9h0m2.6 6.1h0m-5.6 27.3h0m3.1-2.4h0m-2.8-31.2h0m2.1-8h0m1.2-10.4h0m1.7 17.6h0m-0.2 6.6h0m-2.2 7.9h0m-3-26.2h0m4.1 27.2h0m-1.1-31.9h0m-1.4 13.6h0m2.2 22.2h0m-2.5-7h0m0.9 14.2h0m-1.7-16.3h0m2.1 9.7h0m-1.4-8.9h0m4.7 1.9h0m-4.5-2.3h0m3.8-13.9h0m-0.6 0h0m-1.1 5.7h0m-0.6 31.2h0m-2.3-29.2h0m0.9 6.1h0m3.6 5.7h0m-1 10.6h0m-1.4-10.6h0m-3.1 8h0m2.2-31.9h0m3.6 6.3h0m10.7-12.2h0m-3.8 3h0m2.1-19.6h0m0.9 37.4h0m-1.3-23.4h0m-1.9-5.1h0m1.1 39.5h0m3-33.3h0m-1.2-11.4h0m1.3 31.4h0m-5.4-26.8h0m3.1 20.8h0m-2.1-9.9h0m3-9.6h0m1.5 26h0m-2.6-35.3h0m-2.7 12.6h0m2.7 2h0m3-11.2h0m-4.5 4.7h0m4.3 20.6h0m-0.5-26.7h0m-1.4-4.3h0m-0.2 28.1h0m1.9 7.8h0m-3.8-17.2h0m2.1-8h0m-3.8 5.6h0m5.5 2.1h0m0.5 8.4h0m-6-20.7h0m0.6 24.2h0m4-6h0m0.2-8h0m-1.6 1.8h0m0.5 13.3h0m-1.9-13.4h0m-0.1 4.9h0m-0.2 5.3h0m-1.5-23.4h0m32.3 269.1h0m0.2-7.2h0m0.2 3.4h0m23.7-134.6h0m-1.3 33.5h0m-1.1-26.1h0m-0.9 29h0m0.1-18.3h0m1.8 31.1h0m-2.4-33.1h0m5.4-11.1h0m-5.5 13.8h0m1.4 2.2h0m1.1 2.4h0m-0.1-9.5h0m-0.1 21.4h0m3.7-5.1h0m-5.1-13.5h0m1.1-18.5h0m2.5-1.6h0m-2.4-10.2h0m3.7 21.1h0m-4 13.5h0m1.4-26h0m-0.8 25.2h0m2-33.8h0m-1 33.7h0m1-26.1h0m-4.1 32.4h0m0.1 5h0m0.5-24.2h0m3.2-2.4h0m-2.9 32.6h0m0.1-58.3h0m2.9 31.1h0m-0.7-5.4h0m0.7 10.1h0m-1.7-35.5h0m0.1 57.2h0m-2.3-4.3h0m1.9 13.1h0m1.7-65.9h0m1.5 6.8h0m8.7-2.9h0m-2.5-12.4h0m5.4 8.4h0m0.1 25.7h0m-0.9-2.4h0m1-48.1h0m-0.7 13.7h0m-2.9 34.8h0m-0.1-3.5h0m-1-47.4h0m2-2.4h0m0 2.6h0m-2 36.7h0m2.5-28.6h0m-0.6 29h0m-0.5-12.8h0m0.3-17.2h0m-2.3 2.6h0m0.8 27.8h0m2.2-26.4h0m-4 28.7h0m3.1-35.8h0m2.9 0.7h0m-3.4 44.5h0m3-25.2h0m-2-5.2h0m-2.6 14.2h0m1.3-35.6h0m1.5 45.2h0m-3.8-4.5h0m4.7-12.9h0m-4.8-27.3h0m4.2 2.1h0m-0.2 15.9h0m-0.6 4.1h0m-0.3-5.4h0m2.3-1.9h0m-2.4 12.8h0m-2.6-13.6h0m4.1 18h0m7.6-69.1h0m3.5 3.1h0m1.6 14h0m-3.7-15.6h0m3.3-34h0m-1.9 12.3h0m-2.3 41.4h0m4.6-11.8h0m-1.8 2.1h0m-1.5-28.2h0m-0.4 38h0m1-35h0m2.2 32.8h0m-2.7-28.2h0m-2.4 2.3h0m5.2-3.7h0m-4.4 10.8h0m3-26.7h0m-1.8-2.4h0m3.6 41.5h0m-2.9-5.9h0m-0.7 6.5h0m1.9-14.5h0m1.6-26.3h0m-1.1 3.4h0m-4.4 34.2h0m-0.1-11.8h0m5.1 31.6h0m-4.5-27h0m2-8.9h0m2.5 32.6h0m-2.3-39.2h0m1.4-8.7h0m1 29.7h0m-3.2-19.5h0m0.6 16.2h0m1.5-17.5h0m-1.4 23.4h0m-3.2-37.6h0m3.5 5.9h0m13.8-10.5h0m-5-6.5h0m-0.4-5.6h0m-0.7 20.7h0m0.9-9.3h0m1.8 6.4h0m-2.2-11.9h0m-0.2 21h0m3.1-15.1h0m0.4 9.4h0m-2.9-25.6h0m0.1 28.6h0m-0.8-4.8h0m2.3 27.2h0m3-33.7h0m-0.7 15.4h0m-3.2-7.1h0m1.3 2.4h0m0.3-1.2h0m2.1-7.9h0m-4.5 5h0m5.4 5h0m-6.2 5.3h0m0-30.6h0m4.8 12.7h0m-5-16.3h0m0.5 3.4h0m4.3 28.9h0m-1.6-23.8h0m-2.1 9.3h0m2.6 8.4h0m-1.6-0.6h0m-0.7-11.1h0m0.7-12.5h0m3.3 8.3h0m-4.9 30.7h0m3.6-15.8h0m-1.5-15.5h0m-1.7 5.6h0m1 25.9h0m32.8 231.7h0m-0.6 0.6h0m-0.4 0h0m22-107.5h0m0.2-16.8h0m-1.6 7.4h0m-0.4 5.2h0m0.2-4.7h0m4.3-22.5h0m-1 25.8h0m-4.8-8.4h0m6.1-27.3h0m-2.7 30.8h0m-0.2 0.5h0m2.8 0.8h0m-1.9 6.4h0m1.7-46.2h0m-3.8 16.4h0m3.8 24.9h0m-4.2-29.2h0m3.7 4.3h0m0.6 24.1h0m-0.6 11.6h0m-1.5-18.9h0m-1.2 1.6h0m0.7 26h0m-1.6-15.2h0m3.9-12.8h0m-1.1-17.7h0m-1.2 41.6h0m-3.3 1.1h0m2.9-13h0m0.2-25.6h0m-2.6 15.4h0m-0.3-1.4h0m5.1-37.1h0m-3.6 24.5h0m1.3 1.3h0m3.3 18h0m-5.6 20.3h0m-0.7-20h0m5.4-7.2h0m-3.8-10h0m10.7-27.4h0m2.2-0.7h0m-3 19.3h0m3.3 2.1h0m-3-17.8h0m1.3 15.8h0m-1.2-23.5h0m0.7 36.7h0m-1.3-34h0m2.7-6h0m-2.2-20.2h0m1.3 21.3h0m1.5 54.1h0m-1-53.1h0m3.7 0.9h0m-4.2 9.6h0m2.4 10.1h0m-3.3 29.7h0m2.1-49.8h0m0.6-10.3h0m1.3 20.3h0m-4.8-19.3h0m2.8 52.5h0m-0.6-40h0m1.3 16.9h0m2-32.2h0m-4.7 15.2h0m4.9-25.9h0m-0.1 8.9h0m0.6-8.9h0m-4.6 84.8h0m1.3-69.4h0m-0.2 4.3h0m-2.3 8.7h0m1.4 8.7h0m-1.5-29.2h0m4.6 4.7h0m0 1.9h0m0.3 12.7h0m-0.2 8.9h0m6.1-64.1h0m1-28.9h0m-1.2 24.3h0m0.7-25.7h0m0.5 32h0m1.7 14h0m1-45.9h0m-3.8 20.3h0m5.5 25.8h0m-2-39.4h0m-0.6 36.4h0m-1.5-31.8h0m1.6 33.1h0m0.1-32.6h0m2.3-1.9h0m-2.4 5.9h0m0.5 14.1h0m-0.5 7.8h0m1.2-11.5h0m0.6-36.7h0m-0.7 44.1h0m-2.4-35.8h0m0.3 0.9h0m4.2 35.3h0m-1.7-22.8h0m1.2 29h0m0.2-39.6h0m-1 34.4h0m0-18.9h0m-2.5-16.8h0m2 30.2h0m1.1-40.5h0m-4.7 36.7h0m0.1-11.2h0m1-4.3h0m-1.4-10.8h0m0.7 22.2h0m2.9 12.7h0m1.1-19.2h0m-0.6-7.7h0m7.8-15.1h0m4.6-3.2h0m-2.1 6.8h0m-2.4-4.3h0m0.9-4.2h0m1.1-1.2h0m1.1-10.6h0m-3.8 28h0m2.5-18.5h0m-3.1-5.2h0m5.5 0.9h0m0.3 2.2h0m-5.3 18.1h0m4.3-24.6h0m-1.8-0.9h0m-3.3 4.5h0m0.4 22.4h0m4.4-13.1h0m-3.8 19.2h0m4.4-20.7h0m-0.9-0.5h0m-4.5 9h0m4.8 3.9h0m-0.3-18h0m-4.5 8.4h0m4 6.7h0m1.3-11h0m0.4 1.6h0m-1.7 12.8h0m-0.9-25.2h0m1.7 22.7h0m-1.5-7.8h0m-0.8-5.4h0m-1.3 10.4h0m4.4-2.6h0m-5 14.6h0m4.3-2.6h0m-2.6-16.2h0m1.5-13.1h0m-3.3 20.2h0m33.6 253.5h0m0.6 3.2h0m0.6-9.6h0m18-90.6h0m5.7-15.6h0m-5.4 9.1h0m-0.6-10.1h0m3.8-4.1h0m-2.8 21.3h0m2.6 3.1h0m1.8-35.7h0m-5.9-25.6h0m4 10.5h0m-1.4 25.2h0m1.7-5.8h0m-1.1-6.8h0m1.9 10.9h0m1-36h0m-4 2.9h0m-0.8 24.6h0m1.3-7.7h0m1 22.6h0m0.6-23.8h0m-4.3 17.6h0m0.8-2.3h0m4.5-5.6h0m-1.9-10.3h0m0 1.6h0m1 1.5h0m-1.8 7.4h0m-0.2-16.7h0m4.2 6.4h0m-6.1 0.5h0m3.1 8h0m-2.9-28.9h0m2.8 40.7h0m1.1 25.2h0m-0.6-74.8h0m-0.6 42.3h0m-0.9-21.6h0m0.2 28.4h0m3.8-4.4h0m-1.6 15.2h0m11.5-82.9h0m-0.7 24.9h0m-3.4 28.3h0m0-26.7h0m-0.2-0.4h0m-1 27.2h0m6.2-37h0m0 15.7h0m-0.1 35.9h0m-3.3-5.6h0m2.2-45.2h0m-0.8 11.8h0m-3.8-9.6h0m2.9 20.7h0m-2.2 20.2h0m2.5-8h0m1.7-27.1h0m-2.5 4.1h0m-2.1 24.1h0m-0.3-48.5h0m5.4 21.1h0m-3.5-22.8h0m3.5 36.4h0m-3 0.9h0m-0.9-19.7h0m2.2-1.1h0m-2 10.9h0m4.3 26.5h0m0-53.8h0m-0.2 68.7h0m-5-25.5h0m3.9-17.5h0m0.9 46.8h0m-2-58.3h0m-3.3 18.4h0m2.2 24.1h0m3.5-56.1h0m-4 10.8h0m-2.1-14.7h0m1 33.1h0m13.8-71.2h0m0.5-10.6h0m-0.9 4h0m-3.7 17.2h0m2.2-20.1h0m4.3 17.5h0m-4.4-13.6h0m3.1-20.8h0m-2 45.3h0m-2.5 7.5h0m0.7-34.5h0m1.5-20.6h0m3.3 19h0m-3-14.8h0m-2.6 24.2h0m0.4-8.1h0m4.7 22h0m-2.6-32.8h0m3.4 8.1h0m-1.4-5.9h0m-3-1.7h0m-0.6 7.6h0m0.4 4.6h0m2.5-6.3h0m1.4 11.6h0m-5.6-3.7h0m0.5 9.4h0m0.8-13.8h0m-0.7 3.5h0m1 21.1h0m3.1-33.1h0m1.5 54.7h0m-5.1-52.7h0m2.8 8.1h0m-0.3-11.9h0m-0.4 42.2h0m-1.4-27h0m-1.8 17.8h0m2.9 16.6h0m-0.3-56.9h0m14.5-14.3h0m-2.6 22.9h0m1.5 12.7h0m-3-9.2h0m-1.9-30h0m4 18.4h0m0.5-5.2h0m-4.4 4.3h0m4.4-2.4h0m-1.2 1.2h0m-1.9-8.5h0m2.3 4.1h0m-1.2-1.9h0m0.1 24.1h0m2.2-13h0m0.7-16.4h0m-4.5 11.3h0m3.7-16h0m-2.9 8.8h0m-0.1 1.4h0m-1.2-2h0m5.1 27h0m-3.5-15.7h0m1-13.9h0m-3.1 15.1h0m3.8-9h0m-1.6 2.2h0m3.1 15.8h0m-5.6-26.7h0m3.6 6.1h0m-0.2 10.1h0m-3.5-8h0m5.9-5.9h0m-2.5-0.3h0m0.9 29.3h0m1.9-18.4h0m-5.4 6.1h0m4.7 14.4h0m-0.3-14h0m-2.6-22.4h0m53.5 171.3h0m0.1-8.5h0m0.2 8.2h0m0.3-3.1h0m0.8 14.4h0m1.1 4.3h0m-3.5-43.1h0m3.1 43.6h0m-3.8-19.1h0m2.6 0.7h0m-3.3-24.1h0m3.8-4h0m-2.1 26.8h0m1-22.8h0m-3.1 16.2h0m2.4-23.2h0m-2.9 30h0m4.1-3.8h0m-3.1-17.9h0m2.6 34.2h0m0.8-17.4h0m-0.4 34.9h0m-3.6-29.6h0m4.5 9h0m1.1 6.5h0m-4.6 4.1h0m2.8-54.9h0m-1.4-6.1h0m0.1 36.3h0m-1.5 20.8h0m3-19.8h0m-2.8 5h0m4.4 0.1h0m-2.3-1.4h0m-1.4-19.8h0m-1.6 27.5h0m2.1-13h0m-1.1-10.3h0m-1.4 31.4h0m-0.3 18.1h0m11.8-83.8h0m1.9 2.8h0m3.6 44.6h0m-2.2-46.4h0m-3.4 21.3h0m5 40h0m-4.9-7.4h0m3.7-66.7h0m-0.5 29.5h0m-4 10.8h0m2-6.2h0m-2.1 44.9h0m4.1-38.4h0m1.2-0.7h0m1.1-28.3h0m0.2 31.3h0m-3.8-27.6h0m2 37h0m1.7-30.8h0m-3.9 61.8h0m0.2-63.8h0m2.2-13.2h0m-0.4 93.3h0m1.7-98.5h0m-2.8 83.7h0m0-52.3h0m-1.2-4.6h0m-0.3 2h0m0.4-4.4h0m2.8 6.5h0m-2 17.2h0m-2.6 17.4h0m2.5-59.5h0m0.6 63.7h0m-0.6-51.5h0m0.1 41.1h0m-1-26.5h0m2.9 41h0m-2.6-15.5h0m3.4-58.6h0m7.6-85.8h0m-0.2 33.7h0m-2.1 9.1h0m3.4-26.9h0m2.3 3.3h0m-2.1 7.3h0m0.9-26.3h0m0.3 24.3h0m0.6 6.3h0m0.2-10.2h0m-2.5 5.4h0m0.1 8.5h0m-0.4 1.1h0m3.5-24.5h0m-0.5 41.7h0m-4.8 0.7h0m2.7-31.3h0m-0.2 16.5h0m0.8-13.7h0m-2.1 11.8h0m1.8-16.2h0m2.4 20.7h0m-0.7-16.9h0m-2.4-1.7h0m2.4 18.6h0m-3.4 5.3h0m2.3-37.3h0m0.7 16h0m-3.1 9h0m-0.1-22h0m-1.9 36.6h0m6.1-40h0m-2.3 10.4h0m-2.2 23.4h0m0.5-21.3h0m0.8 33.1h0m2.3-32.6h0m-1.4-8.9h0m-3 31.4h0m-1.2-27.2h0m12.2-9.5h0m0.5-4.4h0m3.2-4.1h0m0.1 11.9h0m0.6-13.7h0m-1.9-4.1h0m-0.1 21.8h0m2.4-8.6h0m-1.9-11.9h0m1.8 27.6h0m-1.8-25.4h0m-1.4 0.2h0m-1.8 23.2h0m4.7-12.1h0m-5.3-8.2h0m0.4-14.3h0m5.5 12.2h0m-3.7-5.3h0m1.7-7.2h0m-3.2 23.6h0m3.8-24.1h0m-3.9 5.9h0m-0.5 1.3h0m0.7 9.8h0m-0.5-1.8h0m1.7-6.8h0m2.7 15.9h0m-1.6-0.8h0m0.9 2.1h0m1.2 0h0m-3.5-14.9h0m4.4 18.5h0m-4.1-30.3h0m-0.9 25.6h0m1-19.4h0m0.8 3.7h0m-1.3 11.3h0m-1.1 12.9h0m2.4-10.2h0m1.3-19.7h0m49.6 132.6h0m0.7 24.1h0m3.7-14.5h0m-3.3-7.9h0m0.5 49.1h0m3.2-31.3h0m-5.7-14.1h0m5 30.9h0m-3.6-18.2h0m2.6 14.4h0m-1.2-6.9h0m1.6-9.4h0m-3.2 39.6h0m-1.4-29.6h0m5.8-26.5h0m-3.8 30.6h0m-1.8 18.2h0m0.2 9.4h0m-0.1-20.5h0m4.6-2.6h0m-2.5 11.6h0m-0.6-17.7h0m0.8 22.7h0m2.5-19.4h0m-3.8 4.1h0m1.7 24.8h0m-3.2-9.9h0m5.2-17.9h0m0.3 3.9h0m-2-14.6h0m0.5 5.6h0m1.9 30.2h0m-5-48.7h0m3.2 10.5h0m-3.4 5.2h0m0.3-3.7h0m1.9 25.5h0m-3-15.5h0m0.5 9.3h0m-0.2-12.1h0m11.8-23.5h0m1.9-6.3h0m2.8-0.5h0m-3.7-15h0m-1.6 19.4h0m2.7 45.1h0m2.7 10.1h0m0.1-62.8h0m-0.1-8.6h0m-2.6 17.6h0m2.3 40.5h0m-5.4-8.4h0m1.1-29.4h0m0.7-25.3h0m2.5 66h0m-2.1-19.4h0m-0.5-12.2h0m4.5-21.7h0m-4.7 35.8h0m-1.2-19.2h0m1.3 1.6h0m3.7 44h0m-1.8-55.4h0m-1.3 33h0m1.9 2.8h0m-4.2 25h0m1.1-23.4h0m-0.6 25.1h0m0.1-73.4h0m4.9 17h0m-0.8-13.2h0m-2 42.6h0m1.2-22.9h0m-1.9-29.3h0m-2 80.4h0m4.1-22.6h0m1.1 14.4h0m0.1-49.9h0m-4.6 49.5h0m-0.2-72.9h0m11.5-58.1h0m5.1 1.1h0m-4.4 2.9h0m4.4 12.2h0m-4.2-30.3h0m1.7-27.1h0m2.5 53.3h0m-2.6-53h0m-3.3 55.5h0m0.5-32.6h0m3.4-27.3h0m1.2 47h0m0.1-32.5h0m-2 19.5h0m3 25.3h0m-6-54.5h0m5.4 43.3h0m-1.6-25.8h0m-3 8h0m-0.2 2.5h0m4.9 36.8h0m0.5-70.5h0m-1.2 34.9h0m0.9 43.1h0m-1.6-50.9h0m0-12.3h0m-2.2 8.3h0m-1.5-1.6h0m2.2-9.5h0m-1.7-8.4h0m4.8 8.8h0m-2-3.9h0m-2.9 5.2h0m2.7 41.6h0m-2.8 0.6h0m2.9 23.1h0m-2.5-51h0m-1.3 31h0m2.5-7.6h0m-2.8-20.8h0m14-28.2h0m-2.7 17.3h0m0.2-23.2h0m0.8 4.4h0m0.8 39.6h0m1.3-39.1h0m1.6 6.4h0m1.6 40.5h0m-2.9-32.3h0m0.7-10.2h0m-3.5 6.5h0m-0.5-2.2h0m6.2 8.1h0m-2.7 14.9h0m-3.1-30.5h0m4.1 20.7h0m0.3-22.8h0m-2.2 18h0m3.1 6.5h0m-2-17.5h0m2.5-7h0m-3.6 11.8h0m-2.4 35h0m3.4-26.5h0m0.7 5.8h0m0.4-6.7h0m-0.5-10.1h0m1.7 31.3h0m-4.7-15.2h0m0.2 0.5h0m4.2 17.5h0m-2.2-12.3h0m1.4-38h0m-2.8 27.3h0m2.9 16.1h0m-2.6-28.2h0m0.7-3.7h0m-2.4 16.8h0m-0.7-14h0m3.5-5.7h0m54.1 159.1h0m-1.7-0.9h0m-1.4-10.7h0m-2 4.4h0m0.7-29.7h0m3.1-12.4h0m1.8 56.4h0m-0.3-43.9h0m-2.8 28.7h0m-0.8-42.2h0m0.3 37.7h0m-1.5 37h0m5.2-33.7h0m-3.2 7.4h0m-0.1 11.1h0m0.4 2.9h0m1.8-45.6h0m-4.6 12h0m6.1 12.5h0m-3.6-19.4h0m-1.2-22.5h0m2.5 13.8h0m-3.6 20.2h0m5.5-15.3h0m-0.9 15.8h0m-2.2 2.1h0m1.9-22h0m-1.3 25.3h0m-1.8-23.2h0m1.8 50.1h0m-3-45.9h0m1.2 30.5h0m1-37.6h0m-1.4 40.3h0m4.6-11.2h0m-5.1-18h0m2 35.3h0m1.5-15.8h0m-3.8-22.2h0m1 25.7h0m14.6-51.3h0m-2.4 54h0m1.2-7.1h0m2.3-58h0m-1.5 24.9h0m1.4-8.1h0m-5.2 70.5h0m3.5-58.9h0m-2.3 31h0m-0.7-58.8h0m3.5 43.5h0m1.3-50.3h0m-0.7 53.8h0m-3.7-14.3h0m1.3 11.9h0m-2.7 25.5h0m2.8-38.8h0m2.8-39.6h0m0.7 34.2h0m-6.5 44.8h0m0.3-4.3h0m5.4-48.6h0m-4-1.6h0m0.8-8.2h0m-1.4 52.9h0m3.3-27.8h0m2 13.1h0m-5.7 0.1h0m1.7-12.1h0m0.8-18.7h0m0.5 11.9h0m0.4 18.1h0m-1.2-6.2h0m2.9-27.6h0m-5.4 21h0m1.9 37.2h0m0.2-44.1h0m1.7 39.8h0m0.3-67h0m-3.8 29.2h0m12-54.7h0m1.8-47.9h0m-0.9 30.3h0m-0.4-31.5h0m4.4-5.8h0m-4.4 36.9h0m3.5 4.2h0m-3.3-20.2h0m1.2 8.3h0m-1.8 5.3h0m4.5-24.7h0m-2.6 23.4h0m2.4 3.5h0m-1.5-31.3h0m-0.5 8.7h0m-3.2 31h0m3.4-33.2h0m-2.3 34.8h0m0.1-24h0m4.4 23.5h0m-1-25.5h0m-0.9 30.4h0m1.4 6.7h0m-2.7-27.9h0m-3 11.3h0m3.6-42.6h0m-0.9 47.4h0m-0.4-22.8h0m-1 4.7h0m2.4 9.5h0m1.9-2.5h0m-5.8-3h0m5.4-12.2h0m-5.3 23.6h0m0.5-22.7h0m-0.4 3.7h0m3.5 8.9h0m-2.4-27h0m5.1 33.8h0m-5.9 4.7h0m12.3-36h0m-0.5-13.1h0m0.4 5.4h0m3.5 6h0m-5.1 39.8h0m4-3.6h0m-0.2-14.8h0m-0.5 14.6h0m-1.2-56.2h0m-1.1 44.2h0m3.2-26h0m-4.3-15.9h0m2.6 44.8h0m0.6-29.4h0m1.2 13h0m-4.4 7.8h0m4.5-15.3h0m-1.1-19.6h0m2.9 16.4h0m-1.5 9.7h0m-0.2-20.8h0m-2.2 20.3h0m0.2 0.4h0m3.6 22.4h0m-1.6-9.8h0m-3.7-32.9h0m4.9-6.4h0m-5 28.3h0m0.7-25h0m3.2 26.6h0m0.1-19.5h0m-4.6 10.3h0m3.5 6.4h0m-0.2-21.6h0m0.7 20.7h0m-2.4-22.7h0m-1.5 36.1h0m3.8-14.1h0m-0.8 22.3h0m-0.9 16.6h0m51 68.7h0m5-19.4h0m0.6 41.6h0m-3.2 0.5h0m0-14.9h0m-1.6 30.6h0m4.7-48.5h0m-0.9 18.6h0m-3.9-11.8h0m1.1 18h0m0.4 13h0m3.1-16.3h0m-6-5.3h0m2.7 11.4h0m3.5-3.8h0m0.2 23.1h0m-3.9-18.3h0m-2.2 7.6h0m1.6 11.8h0m-0.9-45.9h0m3.1 60.7h0m-3.5-30.4h0m4.6 2.8h0m-2.6-18.8h0m-0.8 43.6h0m1-51.6h0m0.6-2.7h0m0.7 18.7h0m-1.5 11.9h0m2.7-37.7h0m-1.7 53.3h0m0.8-18.6h0m-2.2-2.4h0m-0.2-15.6h0m1.3-26.4h0m-0.3 30.4h0m-2.3 5.1h0m3.9 4.9h0m-1.4-13h0m-0.7 10.8h0m13.4-40.9h0m-2-29.8h0m1.9 29.5h0m-1.7 8.2h0m0.6-17h0m2.7 38.6h0m-2.8-64.1h0m0 31.4h0m2.4-5.3h0m-4.5-5.1h0m2.3 3.9h0m1.2 13.8h0m-1.7-20.7h0m0.2 4h0m1.2-16.6h0m-3.3 13.9h0m2.6-3.5h0m0.6 34.9h0m-2.3-47.6h0m1.6 29.1h0m0.2-3.5h0m-3.3-8.6h0m5.1-12.4h0m-1.6 19.4h0m-0.4-11.7h0m1 20.7h0m-0.6-34.8h0m1.6 11h0m0.5 35.7h0m-4.3-43.9h0m1 13.1h0m-2.3-8.6h0m-0.8 11.5h0m4.5 12h0m-2.9 3.9h0m-1.7 0.5h0m5.7-15.7h0m0.4 13.1h0m-3.7-23.8h0m0.3 23.3h0m14-50.8h0m0.3-16.3h0m-4.5 41.4h0m2.8-35.8h0m-0.7 5.5h0m-2.2 20.8h0m2.6-37.3h0m1.1 27.3h0m-3.9-12.5h0m1.6-4.3h0m0.2 35.7h0m1.6-29.4h0m-2.2-6.3h0m-0.7 23.6h0m-0.7-8.6h0m0-7.6h0m4.7 19.2h0m-4.7-24.6h0m2.7-3.1h0m2.4 9.2h0m-1.5 4.8h0m-1.8-12.6h0m-2.2 23.8h0m1.2-12.6h0m4.1-36.4h0m-5 14.9h0m1.1 35.6h0m-0.4-31.5h0m2-5.7h0m-2.2 17.8h0m-0.3 4h0m4.1-25h0m-4.4 11.5h0m2.9 24.7h0m0.9-10.4h0m-0.9-9.7h0m1 9.2h0m1.3-14.2h0m-4.6 25.7h0m1.6-31h0m12 19.9h0m-0.4-8.7h0m-0.9-23.5h0m-1.7 9.1h0m3.1 37.2h0m1.7-23.6h0m-5.1 24.9h0m5-6.7h0m-0.3-59.9h0m-1.8 46.6h0m-0.4-0.8h0m1.5-20.3h0m-1.3-9.1h0m2.8 68.5h0m-3.4-49.7h0m0.8-7.2h0m-3.5 0.9h0m4.7 21.7h0m-1.1-37.4h0m1.4 5.9h0m-3.6-11.4h0m-0.5 15.4h0m2.9 11h0m2.2 13.4h0m-4.8 16h0m1-63h0m0.3 21.9h0m-0.7 52.2h0m2.7-75.9h0m1.4 52.5h0m-4.3-10.7h0m2.9-3.5h0m0-21.6h0m-0.7 24.9h0m-1.7-18.4h0m-2.2 46.1h0m0.3-24.4h0m0.3-34h0m0.9 69.9h0m0.5-3.6h0m56.9 41.5h0m-5.9 3.3h0m4.4 67.2h0m1.3-12.9h0m-0.1-2.7h0m0.1-31.3h0m-1-6.9h0m-1.3-19.7h0m-0.8 1h0m-1.9 34.4h0m0.6-5.1h0m2.1-27.7h0m-1.8 46.1h0m3.5-37.6h0m0.9 11.7h0m-0.2-18.5h0m-3.3 23.1h0m2.5 30.4h0m-4.7-29.8h0m0.5 12.4h0m2.6-16.2h0m-1.7-16.6h0m0.4 4.9h0m1.2 8.5h0m-3.5 1.9h0m2.9 5.1h0m1-3.2h0m1.5 14.1h0m0.8-11.9h0m0-25.4h0m-4 71.7h0m2.8-26.9h0m-4.1-16.9h0m2.5-10.4h0m3-21.8h0m-4 26.7h0m3.2-2.9h0m-1.8-21.7h0m1.6 7.3h0m0.7 31.3h0m11.2-51.6h0m-2.2 80.1h0m0.6-18.6h0m-2.3 10.8h0m2.2 28.3h0m-4.1-36.2h0m3-39.9h0m-1.7 7.6h0m0.5-12.7h0m1-3.9h0m0.2 69.6h0m1.7-25.7h0m-3 34.4h0m-1.1-39.8h0m0.6-10.5h0m-1.6-12.6h0m0.5 60.6h0m4.2-70h0m-2.1 78.1h0m2.4-68.6h0m-1.6 24.9h0m-1.9 9.5h0m-0.3-17.2h0m-1.2 36.9h0m1.4-57.4h0m4.5 21.4h0m-3.3-39.9h0m1.6 25.5h0m-2.4-8.8h0m-2 7.4h0m1.7 0.3h0m-1.1 74.2h0m1.1-3.5h0m0.9-96.9h0m-2.2 73.4h0m3.6-59.1h0m-3.7 16.2h0m-0.4 81.7h0m1.9-71h0m3 44.8h0m10.6-152.7h0m-0.3 30.2h0m-1.1-23.5h0m0.8-14.5h0m0.6 32h0m-0.1 12.3h0m-0.4-25.2h0m-0.7-14.1h0m3.2 16.8h0m-4.4-10h0m-0.9 32.7h0m1.7-5h0m-1.2-28.2h0m-1 35.7h0m3.7-28.4h0m-2.7 6.3h0m-1.4 9.3h0m2.5 16.4h0m1.1-34.1h0m-3.5 9.8h0m3-1h0m-0.4-30.9h0m-1.2 41.2h0m3.3-33h0m-2.5-1.7h0m2.1 7.2h0m0.4 5.5h0m-2.5 41.2h0m-2.4-57.1h0m4.5 12.4h0m-4.1-27.9h0m2.6 43.9h0m-3-23.5h0m1.6-2.2h0m-1.5 32.6h0m4.5 0.5h0m-0.4-37h0m-4 56h0m2.4-21.2h0m-1.3-33.6h0m14-23.5h0m1.3 16.8h0m-4.2-17.4h0m4.7-5.9h0m-3.7 36.8h0m-0.2-2.6h0m4-16.9h0m-0.3 6.5h0m0 22.2h0m-3.2-31.5h0m-1 12.5h0m-0.7 9.1h0m-0.4-19.4h0m5.3-13.5h0m-2.7 13.6h0m-0.4 0.4h0m0.5 30h0m-1.2-41.2h0m0.1-0.3h0m-0.8 18.8h0m4.2 4.6h0m-0.6-22h0m-3.8 55.2h0m4-7.8h0m-3.8-41h0m-1.5 29.7h0m1.6-29.7h0m1.3 4.5h0m0.8 28.3h0m-3.2-11.6h0m4.4-15h0m0.2-6.3h0m0.3 24.4h0m1-8.2h0m-6.2 21h0m4.9-29.4h0m-1.3-4h0m-3.2 8.4h0m1.9-7.1h0m-0.7 16.2h0" stroke="#000" stroke-opacity="0.5" stroke-width="2.4" stroke-linecap="round" fill="none"/>
<ellipse cx="131.8" cy="1274.5" rx="3.3" ry="14" fill-opacity="0.7"/><ellipse cx="142.8" cy="1228.4" rx="3.3" ry="14" fill-opacity="0.7"/><ellipse cx="153.8" cy="1163.9" rx="3.3" ry="14" fill-opacity="0.7"/><ellipse cx="164.9" cy="1136.3" rx="3.3" ry="14" fill-opacity="0.7"/><ellipse cx="217.5" cy="1274.5" rx="3.3" ry="14" fill-opacity="0.7"/><ellipse cx="228.5" cy="1230.7" rx="3.3" ry="14" fill-opacity="0.7"/><ellipse cx="239.5" cy="1166.9" rx="3.3" ry="14" fill-opacity="0.7"/><ellipse cx="250.5" cy="1137.6" rx="3.3" ry="14" fill-opacity="0.7"/><ellipse cx="303.2" cy="1274.5" rx="3.3" ry="14" fill-opacity="0.7"/><ellipse cx="314.2" cy="1230.7" rx="3.3" ry="14" fill-opacity="0.7"/><ellipse cx="325.2" cy="1163.9" rx="3.3" ry="14" fill-opacity="0.7"/><ellipse cx="336.2" cy="1136.9" rx="3.3" ry="14" fill-opacity="0.7"/><ellipse cx="388.9" cy="1274.5" rx="3.3" ry="14" fill-opacity="0.7"/><ellipse cx="399.9" cy="1232.4" rx="3.3" ry="14" fill-opacity="0.7"/><ellipse cx="410.9" cy="1163.9" rx="3.3" ry="14" fill-opacity="0.7"/><ellipse cx="421.9" cy="1136.9" rx="3.3" ry="13.2" fill-opacity="0.7"/><ellipse cx="474.6" cy="1291.3" rx="3.3" ry="14" fill-opacity="0.7"/><ellipse cx="485.6" cy="1263" rx="3.3" ry="14" fill-opacity="0.7"/><ellipse cx="496.6" cy="1172.2" rx="3.3" ry="14" fill-opacity="0.7"/><ellipse cx="507.6" cy="1143.8" rx="3.3" ry="14" fill-opacity="0.7"/><ellipse cx="560.2" cy="1294.6" rx="3.3" ry="14" fill-opacity="0.7"/><ellipse cx="571.3" cy="1289.7" rx="3.3" ry="14" fill-opacity="0.7"/><ellipse cx="582.3" cy="1182" rx="3.3" ry="14" fill-opacity="0.7"/><ellipse cx="593.3" cy="1162.3" rx="3.3" ry="14" fill-opacity="0.7"/><ellipse cx="645.9" cy="1293.6" rx="3.3" ry="14" fill-opacity="0.7"/><ellipse cx="657" cy="1282.1" rx="3.3" ry="14" fill-opacity="0.7"/><ellipse cx="668" cy="1186.6" rx="3.3" ry="14" fill-opacity="0.7"/><ellipse cx="679" cy="1167.9" rx="3.3" ry="14" fill-opacity="0.7"/><ellipse cx="731.6" cy="1297.2" rx="3.3" ry="14" fill-opacity="0.7"/><ellipse cx="742.6" cy="1249.2" rx="3.3" ry="14" fill-opacity="0.7"/><ellipse cx="753.7" cy="1206.7" rx="3.3" ry="14" fill-opacity="0.7"/><ellipse cx="764.7" cy="1189.3" rx="3.3" ry="14" fill-opacity="0.7"/><ellipse cx="817.3" cy="1294.9" rx="3.3" ry="14" fill-opacity="0.7"/><ellipse cx="828.3" cy="1305.8" rx="3.3" ry="14" fill-opacity="0.7"/><ellipse cx="839.4" cy="1213" rx="3.3" ry="14" fill-opacity="0.7"/><ellipse cx="850.4" cy="1175.4" rx="3.3" ry="14" fill-opacity="0.7"/>
<g fill="#000"><ellipse cx="109.8" cy="1398.3" rx="3" ry="2"/><ellipse cx="120.8" cy="1298.2" rx="4" ry="2.6"/><ellipse cx="120.8" cy="1175.4" rx="3.3" ry="2.2"/><ellipse cx="131.8" cy="1274.5" rx="2.4" ry="4"/><ellipse cx="142.8" cy="1228.4" rx="2.4" ry="4"/><ellipse cx="153.8" cy="1163.9" rx="2.4" ry="4"/><ellipse cx="164.9" cy="1136.3" rx="2.4" ry="4"/><ellipse cx="195.5" cy="1398.3" rx="3" ry="2"/><ellipse cx="206.5" cy="1298.2" rx="4" ry="2.6"/><ellipse cx="206.5" cy="1175.4" rx="3.3" ry="2.2"/><ellipse cx="217.5" cy="1274.5" rx="2.4" ry="4"/><ellipse cx="228.5" cy="1230.7" rx="2.4" ry="4"/><ellipse cx="239.5" cy="1166.9" rx="2.4" ry="4"/><ellipse cx="250.5" cy="1137.6" rx="2.4" ry="4"/><ellipse cx="281.1" cy="1398.3" rx="3" ry="2"/><ellipse cx="292.2" cy="1298.2" rx="4" ry="2.6"/><ellipse cx="292.2" cy="1175.4" rx="3.3" ry="2.2"/><ellipse cx="303.2" cy="1274.5" rx="2.4" ry="4"/><ellipse cx="314.2" cy="1230.7" rx="2.4" ry="4"/><ellipse cx="325.2" cy="1163.9" rx="2.4" ry="4"/><ellipse cx="336.2" cy="1136.9" rx="2.4" ry="4"/><ellipse cx="366.8" cy="1398.3" rx="3" ry="2"/><ellipse cx="377.9" cy="1298.2" rx="4" ry="2.6"/><ellipse cx="377.9" cy="1176.4" rx="3.3" ry="2.2"/><ellipse cx="388.9" cy="1274.5" rx="2.4" ry="4"/><ellipse cx="399.9" cy="1232.4" rx="2.4" ry="4"/><ellipse cx="410.9" cy="1163.9" rx="2.4" ry="4"/><ellipse cx="421.9" cy="1136.9" rx="2.4" ry="4"/><ellipse cx="463.5" cy="1304.5" rx="4" ry="2.6"/><ellipse cx="463.5" cy="1183.7" rx="3.3" ry="2.2"/><ellipse cx="474.6" cy="1291.3" rx="2.4" ry="4"/><ellipse cx="485.6" cy="1263" rx="2.4" ry="4"/><ellipse cx="496.6" cy="1172.2" rx="2.4" ry="4"/><ellipse cx="507.6" cy="1143.8" rx="2.4" ry="4"/><ellipse cx="549.2" cy="1303.1" rx="4" ry="2.6"/><ellipse cx="560.2" cy="1294.6" rx="2.4" ry="4"/><ellipse cx="571.3" cy="1289.7" rx="2.4" ry="4"/><ellipse cx="582.3" cy="1182" rx="2.4" ry="4"/><ellipse cx="593.3" cy="1162.3" rx="2.4" ry="4"/><ellipse cx="634.9" cy="1306.4" rx="4" ry="2.6"/><ellipse cx="645.9" cy="1293.6" rx="2.4" ry="4"/><ellipse cx="657" cy="1282.1" rx="2.4" ry="4"/><ellipse cx="668" cy="1186.6" rx="2.4" ry="4"/><ellipse cx="679" cy="1167.9" rx="2.4" ry="4"/><ellipse cx="720.6" cy="1311.7" rx="3.7" ry="2.6"/><ellipse cx="731.6" cy="1297.2" rx="2.4" ry="4"/><ellipse cx="742.6" cy="1249.2" rx="2.4" ry="4"/><ellipse cx="753.7" cy="1206.7" rx="2.4" ry="4"/><ellipse cx="764.7" cy="1189.3" rx="2.4" ry="4"/><ellipse cx="806.3" cy="1310.4" rx="4" ry="2.6"/><ellipse cx="817.3" cy="1294.9" rx="2.4" ry="4"/><ellipse cx="828.3" cy="1305.8" rx="2.4" ry="4"/><ellipse cx="839.4" cy="1213" rx="2.4" ry="4"/><ellipse cx="850.4" cy="1175.4" rx="2.4" ry="4"/></g>
<path d="M150.82 1106.47V1098.97H164.11V1106.47M236.51 1106.47V1098.97H249.8V1106.47M322.2 1106.47V1098.97H335.49V1106.47M407.89 1106.47V1098.97H421.18V1106.47M493.58 1106.47V1098.97H506.87V1106.47M579.27 1106.47V1098.97H592.56V1106.47M664.96 1106.47V1098.97H678.25V1106.47M750.65 1106.47V1098.97H763.94V1106.47M836.34 1106.47V1098.97H849.63V1106.47" stroke="#000" stroke-width="1.5" fill="none"/>
<g font-size="11.6" text-anchor="middle" fill="#000"><text x="157.46" y="1096.07">p &lt; 0.001</text><text x="243.15" y="1096.07">p &lt; 0.001</text><text x="328.84" y="1096.07">p &lt; 0.001</text><text x="414.53" y="1096.07">p &lt; 0.001</text><text x="500.22" y="1096.07">p &lt; 0.001</text><text x="585.91" y="1096.07">p &lt; 0.001</text><text x="671.6" y="1096.07">p &lt; 0.001</text><text x="757.29" y="1096.07">p &lt; 0.001</text><text x="842.98" y="1096.07">p &lt; 0.001</text></g>
<path d="M80.5 1073.37V1447.85H868.2" stroke="#000" stroke-width="1.9" fill="none" stroke-linejoin="round"/>
<path d="M75.2 1434.8H80.5M75.2 1352.52H80.5M75.2 1270.24H80.5M75.2 1187.95H80.5M75.2 1105.67H80.5M131.8 1447.85V1453.15M217.49 1447.85V1453.15M303.18 1447.85V1453.15M388.87 1447.85V1453.15M474.56 1447.85V1453.15M560.25 1447.85V1453.15M645.94 1447.85V1453.15M731.63 1447.85V1453.15M817.32 1447.85V1453.15" stroke="#333" stroke-width="1.9" fill="none"/>
<g font-size="23.5" fill="#4D4D4D">
<text x="71.1" y="1443.8" text-anchor="end">0</text>
<text x="71.1" y="1361.52" text-anchor="end">25</text>
<text x="71.1" y="1279.24" text-anchor="end">50</text>
<text x="71.1" y="1196.95" text-anchor="end">75</text>
<text x="71.1" y="1114.67" text-anchor="end">100</text>
<text x="131.8" y="1474.3" text-anchor="middle">1</text>
<text x="217.49" y="1474.3" text-anchor="middle">2</text>
<text x="303.18" y="1474.3" text-anchor="middle">4</text>
<text x="388.87" y="1474.3" text-anchor="middle">8</text>
<text x="474.56" y="1474.3" text-anchor="middle">16</text>
<text x="560.25" y="1474.3" text-anchor="middle">24</text>
<text x="645.94" y="1474.3" text-anchor="middle">48</text>
<text x="731.63" y="1474.3" text-anchor="middle">96</text>
<text x="817.32" y="1474.3" text-anchor="middle">192</text>
</g>
<text x="474.35" y="1053.6" font-size="39" font-weight="bold" text-anchor="middle">Black or African American</text>
<text x="474.35" y="1504.4" font-size="27.3" font-weight="bold" text-anchor="middle">Prediction Horizon [min. hours before event]</text>
<text transform="translate(21.2 1260.61) rotate(-90)" font-size="27.3" font-weight="bold" text-anchor="middle">Specificity at 95 % Sensitivity [%]</text>
<g stroke="#000" stroke-width="1.9" stroke-dasharray="2.05 6.3" fill="none">
<line x1="1031.5" y1="1434.8" x2="1819.8" y2="1434.8"/>
<line x1="1031.5" y1="1352.52" x2="1819.8" y2="1352.52"/>
<line x1="1031.5" y1="1270.24" x2="1819.8" y2="1270.24"/>
<line x1="1031.5" y1="1187.95" x2="1819.8" y2="1187.95"/>
<line x1="1031.5" y1="1105.67" x2="1819.8" y2="1105.67"/>
<line x1="1082.8" y1="1448.35" x2="1082.8" y2="1104.17"/>
<line x1="1168.5" y1="1448.35" x2="1168.5" y2="1104.17"/>
<line x1="1254.2" y1="1448.35" x2="1254.2" y2="1104.17"/>
<line x1="1339.9" y1="1448.35" x2="1339.9" y2="1104.17"/>
<line x1="1425.6" y1="1448.35" x2="1425.6" y2="1104.17"/>
<line x1="1511.3" y1="1448.35" x2="1511.3" y2="1104.17"/>
<line x1="1597" y1="1448.35" x2="1597" y2="1104.17"/>
<line x1="1682.7" y1="1448.35" x2="1682.7" y2="1104.17"/>
<line x1="1768.4" y1="1448.35" x2="1768.4" y2="1104.17"/>
</g>
<g stroke="#000" stroke-width="1.45"><rect x="1055.25" y="1391.03" width="11.02" height="43.77" fill="#4DBBD5"/><rect x="1077.29" y="1249.83" width="11.02" height="184.97" fill="#3C5488"/><rect x="1088.31" y="1175.12" width="11.02" height="259.68" fill="#F39B7F"/><rect x="1099.33" y="1129.37" width="11.02" height="305.43" fill="#8491B4"/><rect x="1110.35" y="1152.08" width="11.02" height="282.72" fill="#91D1C2"/><rect x="1140.95" y="1391.03" width="11.02" height="43.77" fill="#4DBBD5"/><rect x="1162.99" y="1249.83" width="11.02" height="184.97" fill="#3C5488"/><rect x="1174.01" y="1175.12" width="11.02" height="259.68" fill="#F39B7F"/><rect x="1185.03" y="1128.38" width="11.02" height="306.42" fill="#8491B4"/><rect x="1196.05" y="1151.42" width="11.02" height="283.38" fill="#91D1C2"/><rect x="1226.65" y="1391.03" width="11.02" height="43.77" fill="#4DBBD5"/><rect x="1248.69" y="1249.83" width="11.02" height="184.97" fill="#3C5488"/><rect x="1259.71" y="1175.45" width="11.02" height="259.35" fill="#F39B7F"/><rect x="1270.73" y="1128.38" width="11.02" height="306.42" fill="#8491B4"/><rect x="1281.75" y="1136.94" width="11.02" height="297.86" fill="#91D1C2"/><rect x="1312.35" y="1391.03" width="11.02" height="43.77" fill="#4DBBD5"/><rect x="1334.39" y="1249.83" width="11.02" height="184.97" fill="#3C5488"/><rect x="1345.41" y="1173.14" width="11.02" height="261.66" fill="#F39B7F"/><rect x="1356.43" y="1127.72" width="11.02" height="307.08" fill="#8491B4"/><rect x="1367.45" y="1127.06" width="11.02" height="307.74" fill="#91D1C2"/><rect x="1398.05" y="1392.01" width="11.02" height="42.79" fill="#4DBBD5"/><rect x="1420.09" y="1265.3" width="11.02" height="169.5" fill="#3C5488"/><rect x="1431.11" y="1186.31" width="11.02" height="248.49" fill="#F39B7F"/><rect x="1442.13" y="1141.55" width="11.02" height="293.25" fill="#8491B4"/><rect x="1453.15" y="1161.62" width="11.02" height="273.18" fill="#91D1C2"/><rect x="1483.75" y="1391.03" width="11.02" height="43.77" fill="#4DBBD5"/><rect x="1505.79" y="1268.92" width="11.02" height="165.88" fill="#3C5488"/><rect x="1516.81" y="1190.59" width="11.02" height="244.21" fill="#F39B7F"/><rect x="1527.83" y="1162.28" width="11.02" height="272.52" fill="#8491B4"/><rect x="1538.85" y="1159.32" width="11.02" height="275.48" fill="#91D1C2"/><rect x="1591.49" y="1268.26" width="11.02" height="166.54" fill="#3C5488"/><rect x="1602.51" y="1193.55" width="11.02" height="241.25" fill="#F39B7F"/><rect x="1613.53" y="1141.55" width="11.02" height="293.25" fill="#8491B4"/><rect x="1624.55" y="1159.98" width="11.02" height="274.82" fill="#91D1C2"/><rect x="1677.19" y="1278.13" width="11.02" height="156.67" fill="#3C5488"/><rect x="1688.21" y="1182.36" width="11.02" height="252.44" fill="#F39B7F"/><rect x="1699.23" y="1152.41" width="11.02" height="282.39" fill="#8491B4"/><rect x="1710.25" y="1172.15" width="11.02" height="262.65" fill="#91D1C2"/><rect x="1762.89" y="1285.37" width="11.02" height="149.43" fill="#3C5488"/><rect x="1773.91" y="1224.49" width="11.02" height="210.31" fill="#F39B7F"/><rect x="1784.93" y="1153.72" width="11.02" height="281.08" fill="#8491B4"/><rect x="1795.95" y="1170.84" width="11.02" height="263.96" fill="#91D1C2"/></g>
<g stroke="#000" stroke-width="2.2"><line x1="1044.23" y1="1434.8" x2="1055.25" y2="1434.8"/><line x1="1066.27" y1="1434.8" x2="1077.29" y2="1434.8"/><line x1="1129.93" y1="1434.8" x2="1140.95" y2="1434.8"/><line x1="1151.97" y1="1434.8" x2="1162.99" y2="1434.8"/><line x1="1215.63" y1="1434.8" x2="1226.65" y2="1434.8"/><line x1="1237.67" y1="1434.8" x2="1248.69" y2="1434.8"/><line x1="1301.34" y1="1434.8" x2="1312.35" y2="1434.8"/><line x1="1323.37" y1="1434.8" x2="1334.39" y2="1434.8"/><line x1="1387.03" y1="1434.8" x2="1398.05" y2="1434.8"/><line x1="1409.07" y1="1434.8" x2="1420.09" y2="1434.8"/><line x1="1472.73" y1="1434.8" x2="1483.75" y2="1434.8"/><line x1="1494.77" y1="1434.8" x2="1505.79" y2="1434.8"/><line x1="1558.43" y1="1434.8" x2="1569.45" y2="1434.8"/><line x1="1569.45" y1="1434.8" x2="1580.47" y2="1434.8"/><line x1="1580.47" y1="1434.8" x2="1591.49" y2="1434.8"/><line x1="1644.13" y1="1434.8" x2="1655.15" y2="1434.8"/><line x1="1655.15" y1="1434.8" x2="1666.17" y2="1434.8"/><line x1="1666.17" y1="1434.8" x2="1677.19" y2="1434.8"/><line x1="1729.84" y1="1434.8" x2="1740.85" y2="1434.8"/><line x1="1740.85" y1="1434.8" x2="1751.87" y2="1434.8"/><line x1="1751.87" y1="1434.8" x2="1762.89" y2="1434.8"/></g>
<path d="M1049.7 1434.8V1255.1M1060.8 1391V1172.2M1071.8 1434.8V1147.8M1082.8 1294.3V1192.9M1093.8 1188V1150.1M1104.8 1146.8V1114.6M1115.9 1162.9V1113.2M1135.4 1434.8V1255.1M1146.5 1391V1169.9M1157.5 1434.8V1147.8M1168.5 1294.3V1192.9M1179.5 1188V1150.1M1190.5 1146.8V1114.6M1201.6 1164.9V1114.6M1221.1 1434.8V1258.4M1232.2 1391V1167.5M1243.2 1434.8V1147.8M1254.2 1294.3V1192.9M1265.2 1227.4V1151.7M1276.2 1146.8V1114.6M1287.3 1158.3V1114.6M1306.8 1434.8V1257.4M1317.9 1391V1172.2M1328.9 1434.8V1147.8M1339.9 1294.3V1192.9M1350.9 1188V1150.1M1361.9 1146.8V1114.6M1373 1158.3V1114.6M1392.5 1434.8V1250.5M1403.6 1434.8V1390.7M1414.6 1434.8V1209M1425.6 1308.1V1204.4M1436.6 1202.1V1153.7M1447.6 1158.3V1116.9M1458.7 1211.3V1116.9M1478.2 1434.8V1245.9M1489.3 1391V1180.1M1500.3 1434.8V1215.9M1511.3 1310.4V1209M1522.3 1287.3V1153.7M1533.3 1197.5V1130.7M1544.4 1197.8V1127.1M1563.9 1434.8V1245.9M1575 1434.8V1388.7M1586 1434.8V1220.5M1597 1310.4V1211.3M1608 1225.1V1167.5M1619 1169.9V1123.8M1630.1 1171.5V1135.3M1649.6 1434.8V1241.3M1660.7 1434.8V1386.4M1671.7 1434.8V1225.1M1682.7 1321.9V1215.9M1693.7 1225.1V1162.9M1704.7 1202.1V1137.6M1715.8 1264.3V1145.2M1735.3 1434.8V1243.6M1746.4 1434.8V1386.4M1757.4 1434.8V1229.8M1768.4 1321.9V1215.9M1779.4 1257.4V1192.9M1790.4 1188.3V1128.4M1801.5 1181.4V1138.6" stroke="#000" stroke-width="1.6" fill="none"/>
<g fill="#000" fill-opacity="0.38"></g>
<path d="M1048.4 1259.3h0m2.9 15.3h0m-0.9-16.8h0m1.1-7.8h0m-0.5 31.5h0m-1.5-1.9h0m-1.2-7h0m0.2-3.2h0m4.3-10.3h0m-1.8 19h0m0.1-6.2h0m-0.4-8h0m-1.7-13h0m-0.7 17.5h0m1-18.5h0m-0.3 9.8h0m25.4-115.5h0m-4.1 2.3h0m2.5 1.5h0m10.6 144.5h0m0-42.8h0m2.5-37.8h0m-0.4 61.5h0m-1.9-21.3h0m-3.1 17.7h0m0.2-50.8h0m4.1 9.7h0m-3.9 39.9h0m3.9-0.4h0m-1.4-21.8h0m-2.5 23h0m0-35.1h0m-0.7 23.5h0m1.8 12.4h0m0-33.6h0m2.3-10h0m-3.3 47.9h0m-0.5-31.2h0m-0.3 42.2h0m2.4-41.9h0m-0.8-9.7h0m2.1-14.5h0m-1.9 25.1h0m-2 30.6h0m4.8-33.7h0m-4.4-25.9h0m1.5-21.2h0m1.2 63.9h0m-1.2 2.2h0m2.4 9.4h0m-1.1 7.1h0m-2.9-29.7h0m0.3 23.4h0m2.4-24.7h0m-0.2 13.1h0m1.1 20.4h0m-3-49.9h0m3.2-12.5h0m-2.1 31.1h0m10.1-66h0m3.6-12.1h0m-1.5 0.1h0m-0.6 10.8h0m0.4-16.2h0m3.1-0.9h0m-4.9-5.9h0m-1 28.2h0m3.9-12.7h0m-3.4 5.9h0m-0.6-3.3h0m5.2 2.1h0m0.6 7.3h0m-1.2-9.3h0m-2.6-3.2h0m0.5-12.4h0m-1.1 17.2h0m-0.2-8.8h0m0.7-1h0m1.2-10.6h0m-2.7 12.5h0m4.6-7.3h0m-3.4 19h0m-2-12.9h0m2.3 18.4h0m3.8-8.1h0m-1.1 7.5h0m-2.9-25h0m3 13.4h0m-4.7 0.7h0m10.9-37.4h0m3.7-8.8h0m-2.5-1.3h0m3.4 6.9h0m-3-4h0m4.2-1.3h0m-3.3 0.9h0m2.9-7.7h0m-1.5 3.7h0m-4.2 10.3h0m4-14.6h0m-3.2 4.1h0m0.3 0.5h0m-0.7-0.6h0m1.3 2h0m0 11.5h0m1.5-4.7h0m-2.6-0.4h0m3.4-14.5h0m-2.8 9.3h0m1.6 4.9h0m-1.2-3.2h0m3.8 7.1h0m0.9 2h0m-4.1-1h0m10.6 8.5h0m-1.6 5.4h0m3.6-0.8h0m-0.7 0.9h0m-1.2-20.8h0m-1.4 20.8h0m5.4-1.5h0m-1.6-10.5h0m-4.2 4.7h0m6.1-1.5h0m-3.5 11.2h0m-2.3 1.7h0m4.7-4.7h0m-4.4 1.3h0m-0.6 5.7h0m4.8-15.5h0m-3.3-4.9h0m-0.7 3.3h0m3.8-7h0m-0.8 21.7h0m-3.6 0.8h0m3.5 0.4h0m-1.3-12.4h0m-0.9-1.9h0m4.3 12.3h0m-3.6-1.9h0m2.3-2h0m-3.3 6.6h0m4.6-8.7h0m-0.4 6.2h0m0.4-11.8h0m-0.6 6.2h0m-1.6 6.9h0m-2.2-27.4h0m-0.7 26.5h0m0.7-12h0m0.8 17.2h0m-0.7-18.5h0m-1.1 11.4h0m25.4 108.7h0m0.1-9.6h0m-5.6-2.3h0m0.4 11.1h0m5.2-5.7h0m-0.2-0.9h0m-1.8 19.1h0m-4.1-24.9h0m6 7.7h0m-5.6 9.2h0m2.5-11.8h0m-2.2 13.8h0m2.5 8h0m2.8-14.9h0m-5.6 18.5h0m4-13.6h0m19.4-114.2h0m0.8-1.5h0m-0.6-5h0m14.2 121h0m-5.5-0.5h0m4.9 6.1h0m-2.5-7.5h0m-1.6-25.6h0m5.5-14.9h0m-1.9 62.5h0m2.1-52.1h0m-6.6-8.5h0m1.1 30.4h0m0.7-19.9h0m3.9 19h0m-2.9-0.5h0m0.7-11.9h0m-1.2-4.9h0m0 22.4h0m1-12h0m2.3-25.9h0m-1.7 10.7h0m-3.4-9.5h0m0.4-1.3h0m0.3-5.2h0m0.6 29.3h0m-0.8-37.3h0m3.5 2.2h0m-0.7 27.3h0m-1.6 35.6h0m-1.7-42.1h0m4.1 51.2h0m-3.4-53.5h0m2-4h0m-1.1 45.6h0m-1.7 10.9h0m3.2-44.4h0m0.6 41.9h0m2.1-2.1h0m-1-69.3h0m-4.4 51.5h0m2.9-8h0m1.9-43.4h0m6.4-36.3h0m3.3 9.7h0m-2.6-16.9h0m0.9 1.4h0m1.4 14.7h0m-3.7 3.5h0m5.6-22.7h0m-1.9 20.8h0m0.8 2.8h0m-4.7-10.9h0m4.6 0.9h0m-3.4-7.3h0m1.5 13h0m-2-16.3h0m4 7.5h0m-3.2-5h0m-0.4-1.3h0m1.5 13.7h0m-2.6-18.7h0m2.6-2.6h0m-1.3 16.9h0m5.1-3.7h0m-0.8-4.4h0m0.2 13.9h0m-2.2-17.2h0m-0.4 21.4h0m3-9.2h0m-5.2 9.9h0m1.7-25.3h0m2.7 22.2h0m9.2-54.4h0m2.6-9.6h0m-2 7h0m0-2.8h0m1.5 6.9h0m-0.3-12.6h0m-1.4 17.6h0m-0.7-3.3h0m3-3.3h0m-4.5-3.9h0m-0.4 3h0m3.5-3.6h0m-3.8 7.1h0m-0.4 7.2h0m4.1-8.1h0m-4.5-0.2h0m5.9-0.5h0m-4.2 2.9h0m4-4.7h0m-2 0.8h0m-3.8-13.1h0m4.5 18.2h0m1-2.9h0m-1.5-7.6h0m-0.1 5.5h0m7.1 17.3h0m0.8 3.7h0m3.8-3.7h0m-3.1 8h0m3.4-40.7h0m-1.3 38.2h0m2.1-10.6h0m-2.5-9.2h0m-1.9 16.2h0m4.8-2.9h0m-3 9.1h0m-3.2-13.5h0m1.8 3.9h0m3.3-10.5h0m-0.3 10.9h0m-0.8-2.6h0m-4-22.7h0m1 11h0m4.6 21.6h0m-5.7 3.9h0m-0.1-11.3h0m1.2-16.6h0m-0.3 6.6h0m4.2 8.1h0m0.9 3.1h0m-3.6-4.2h0m2.8 9.6h0m-3-17h0m2.5 22.3h0m-2.9 0.1h0m3.6-12.6h0m-4 0.8h0m3.6-1.1h0m0.3 15.2h0m-5.3-10.1h0m2.3-13.8h0m2.9 22.6h0m-3.8-2.1h0m0-9.9h0m-1.1 10.7h0m19.9 112.8h0m3.8 1.7h0m1.2 3.7h0m-0.1-5.3h0m-1.6 5.1h0m-2.4-7.6h0m-1-3.8h0m1.4-7.2h0m1.8 1h0m2.2 2.2h0m-0.4 8.8h0m-4.3-9.7h0m-0.8-6.3h0m-0.4 9.2h0m0.1-4.4h0m5.5-0.3h0m16.9-103.9h0m2-12.6h0m-0.2 5.4h0m10.9 112.5h0m-1.2 20.2h0m5-59.7h0m-5.8 3.6h0m1.6 21.3h0m1.4-25.4h0m-2.4 50.4h0m2-19.6h0m0.8-5.4h0m1.8 18h0m0.7 8.3h0m-0.9-11.1h0m-2-31.5h0m-0.2 21.8h0m0.6-19.3h0m-0.2 48.6h0m-2.5-48h0m0.3 33.3h0m5.3-15.4h0m-2.8-10.9h0m-0.3 3.1h0m-1.9 34.9h0m1.2-47.2h0m2.2 37.3h0m-1.7 21.9h0m-0.4 3.4h0m-1.5-63.9h0m0.4 43.3h0m3.4-24.5h0m-3.1 23.7h0m-1.3-49.5h0m4 20.3h0m-0.7 51.5h0m1.5-56.7h0m-0.3-12.9h0m-4.1 56.7h0m-0.7-10.7h0m1.3-22.1h0m0.9 6.7h0m3.1 8.1h0m11.5-58.6h0m-5.4-25.9h0m1.4-16.1h0m1.6-3.3h0m2.2 23.9h0m-4.4-6.8h0m0.2-1.2h0m-0.9 14.3h0m2.9 2.4h0m0.9-11.8h0m-1.3-4.9h0m-0.7-8.4h0m-1.6 27.1h0m-0.3-23.1h0m3.8 9.8h0m-0.4 22.7h0m1.9-14.1h0m-2.6-11.4h0m-1 13.2h0m4-18.1h0m-5.7 32.2h0m3.2-47.3h0m-2 20.8h0m0.6-15.5h0m3.1 25.6h0m-4.7 3.2h0m4.3-27.6h0m-2.7 28.4h0m1.6-14.1h0m0.5 0.5h0m1.6 20.3h0m-4-19.7h0m-0.3 46.8h0m3.9-35.4h0m0.4 3.6h0m-4.9-25.7h0m0.6 1.9h0m0.8-4.2h0m-2.6 25.6h0m2.1-29.6h0m11.9-30.3h0m2.8-2.6h0m-0.3 11h0m-2.4 4.9h0m0.5-18.8h0m1.8 2.4h0m-0.6 2.5h0m-1.4-5.9h0m0.1 7.9h0m0.1-5h0m-3.3 5.1h0m5 12.6h0m-3.2-13.2h0m3.1-11.2h0m-2.2 10.5h0m-2.2-4h0m1.5-1.5h0m0.5 2.3h0m3-4.1h0m-2.4 4.4h0m2.7-10h0m-1.7 11.2h0m-3.6 0.7h0m4.3-3.6h0m-4.2 5.2h0m14.2 12.9h0m2.3-15.3h0m-3 11h0m1.2-5.4h0m1.4-4.9h0m-5.2 4.4h0m0.4-5.4h0m0.2 6h0m2.8-9.5h0m-1.6 10.7h0m-1.6-8.1h0m-1.1 4.1h0m4.4 3h0m1.4-10.4h0m-1.8 8.1h0m-1.2 7.7h0m-0.7-14.3h0m-1.2 4.4h0m0.4 3.9h0m2.7 4.6h0m-2.7-6.9h0m1.9 21.2h0m1.6-15.7h0m-3.4-3.3h0m-1.2 13.9h0m1.7-8h0m-1.4 6.1h0m2.6-19.6h0m2.5-11h0m-4.2 16.2h0m4.4 11.5h0m0.3-8.1h0m-3.1-13.5h0m2.7 7.2h0m-4.3-7.8h0m18.5 147.8h0m3.2-24.2h0m2.3 15.9h0m0.6-3.3h0m-4.7 7.4h0m4.8-4.4h0m-0.3-3.1h0m-0.8 11.6h0m-0.1-13.2h0m-3.8 1.3h0m1.8 10.9h0m2.4-15h0m-4.5 14.9h0m2.5 13.8h0m1.5-17.5h0m-0.7-4h0m22-109.4h0m0.8 0.4h0m0.5-5.2h0m9.7 79.4h0m-0.9 26.2h0m-0.5-13.3h0m-1.4 26.3h0m-1.7-28.2h0m0.7 50.8h0m4.4-59h0m-2.8-5h0m1.8-3.2h0m-1.3 13.4h0m-1.3 19.2h0m3.9-26.3h0m-1.8 52.7h0m-2.1-56.6h0m4.2 34.1h0m0.4-44.1h0m-5.5 26h0m0.6-5h0m4.9 46.6h0m-2.2-56.9h0m-3 11.4h0m0.9-4.5h0m-0.7 46.2h0m0.7-13.2h0m2.2-41.9h0m-1.9 50.1h0m-2-8.6h0m4.2-54h0m-4 6.3h0m-0.1 44.4h0m2.6-13.3h0m1.5 19.4h0m0.2-6.4h0m1.5 9.1h0m-1.5 6.4h0m1.3-30h0m-0.6 27.4h0m-0.8-33.5h0m-3 16.3h0m4.8-22.3h0m6.8-65.4h0m4.5 13.7h0m-1.5-28h0m-4.6 30.7h0m-0.3-24.6h0m1.5 6.2h0m4.1 4.5h0m-2.5-0.3h0m-2.9 9.6h0m2.7-12.2h0m3.2 10.8h0m-0.7-12.9h0m-4.5 2.4h0m-0.4 0.1h0m4.3 3.3h0m-4.6 9.1h0m0.9-3.6h0m4-16.9h0m-4.7 1.3h0m0.6 7.3h0m1.8-7.5h0m0.3 10.4h0m0.4-0.9h0m-1.2 2.9h0m-1.9 1.1h0m1.7 4.7h0m4.2-3.5h0m-2.4 6.4h0m-2.7 3.1h0m-0.7-1.4h0m11.8-57.7h0m3 8.6h0m-3.1-9.2h0m2 6.8h0m3.3-6.6h0m-6.4-6.5h0m0.9 14.1h0m2.8-7.3h0m-0.2-6.2h0m1 11.6h0m-2.5 6.8h0m1.8-17.7h0m1.2 5.9h0m-4.4 5.1h0m1.6-5.8h0m0.4-0.3h0m0.1 13.4h0m1 5.5h0m-2.1-9.2h0m-1.7-10.9h0m5.2 4.7h0m-0.7-13.4h0m-3.3 20.7h0m0.3-10.8h0m1.1-7.7h0m11.9 10.3h0m-0.8 8.9h0m0.1-9.6h0m-0.9 8.7h0m4.3-0.8h0m-5.3-9.6h0m2.1 3.9h0m0-1.9h0m0.3-6.1h0m-0.2 5.7h0m-1 1.8h0m0.1-4.7h0m-0.8-8.3h0m2.1 2.8h0m-0.3 9.4h0m1 1.4h0m1.3 4.4h0m-0.2-2.2h0m-0.4 2.6h0m-4.6 18.2h0m5.7-26.9h0m-0.8 10.6h0m-4.1-19.2h0m-0.9 12.6h0m6.1-2h0m-5.6-2.1h0m5.4-9.2h0m-4.4 32.9h0m1.3-20.6h0m1.6-1.2h0m-2.6 8.1h0m4.2-1.4h0m-1.8-13h0m2 5.8h0m-0.2-4h0m16.4 146.4h0m1 5.7h0m1.8-5.6h0m0-10.9h0m-3.8 10h0m2.2-2.3h0m-2.3 2.5h0m0.6-16.6h0m3.8 12.6h0m-2.1-10.6h0m-4.1 1.1h0m6.4 13h0m-5.9-5h0m0.2 7.8h0m5.3 1h0m-4.4 2.5h0m21.3-62.8h0m0.3-1.7h0m2-1.2h0m8.6 90.9h0m0.5-61.6h0m0.7 66.9h0m-0.7-33.4h0m1.1-23.1h0m2.8 0h0m-0.4 15.9h0m-3.5-22.1h0m4.6 13.6h0m-3 18.5h0m-1.6-27.9h0m3.3 7.1h0m1.5 36.3h0m-5-53.3h0m5.3 37.1h0m-1.2 6.1h0m-3.4 22h0m-1.5-58.8h0m2.6 33.1h0m2.6-9.3h0m-4.2 17.1h0m2.3-8.5h0m-2.6-7.5h0m1.4 25.6h0m-1.3-33.6h0m0.1 30.1h0m0.8-45.8h0m1.1 27.9h0m0.2-2.3h0m-1.1-9.5h0m1.8-16.4h0m-1.8 2.5h0m-1.9 22.9h0m-0.1 33.1h0m3.4-1.6h0m-2.2-29.3h0m1.1 17.4h0m0.9-57.2h0m-0.3 29.3h0m-3.2-31.3h0m17.5-43.4h0m-3.4-10h0m-1.3 17.3h0m0.3-3.1h0m-1.3 8.5h0m4.3 2.9h0m-4.1-3.3h0m-0.1-16.5h0m5-11.7h0m-4.2 1.2h0m2 22.8h0m0.6-8.6h0m-0.3 12.2h0m0.4-28.7h0m-0.8 29h0m1-24h0m-2.5 23.1h0m-0.6-22.6h0m4.9 2.5h0m-4.2 5h0m-0.9-20.7h0m5.3 34.7h0m-2.5-4.4h0m-3.3-13.4h0m2.5 2.2h0m1.2 16.6h0m-1.5-8.6h0m-1.3-9.5h0m-0.1 6.9h0m-1.4 3.4h0m5.4-16.9h0m1 18.8h0m-6.5-26.3h0m4.5 7.7h0m1.3 10.9h0m-0.8 14.7h0m-4-1.7h0m-0.6-9.9h0m11.8-32.4h0m2.2-9h0m1-11h0m-3.5 3.5h0m4.9 9.7h0m-4.5-4.7h0m5-21.8h0m-4.5 30.7h0m4.6-8h0m-1.9 1.9h0m-3.9-9.1h0m1.6 4.2h0m-0.1-15.5h0m3.2 23.9h0m-2.8-20h0m-2.1 12.1h0m6.1-12.4h0m-2.3 20.6h0m-1.1-3.4h0m2.8-0.2h0m-2.9 10h0m-0.7-8.4h0m-1.1-12.6h0m-0.7 6.7h0m6-15.9h0m-2 10.6h0m1 2.4h0m-3.1 9.7h0m-0.5-10.9h0m1.5 10.7h0m1.3-7.4h0m0.4-6.6h0m-2.9-7.1h0m11.9 38.8h0m2.9 23.5h0m-2.3-10.9h0m-0.8-42.4h0m-2.8 32.6h0m-0.1 5.7h0m2.9-36.4h0m2.9 10.3h0m0.2 1.5h0m-2.8-11.2h0m-2.9 2.9h0m2.5 29.3h0m0.9-36.5h0m0.3-1.9h0m-2.8 16.7h0m4.6 26.6h0m-0.9 7.8h0m-1.9-2.1h0m0.6-13.1h0m1.2 15.9h0m-2.3 5.6h0m-0.2-11.2h0m0.6-2h0m-0.4 6.9h0m3.3-12.9h0m-4.6-40.4h0m3 49.2h0m0.1 6.3h0m-1.9-20.7h0m1-4.8h0m0.9 39.1h0m0 2.2h0m-3.5-14.5h0m5-58.7h0m-1.3 59.8h0m-1-27.6h0m-3.1-10.2h0m3.5 12.2h0m2.6-2.8h0m-3.1-14.3h0m17.6 120.9h0m0.2-9.6h0m3.2-7.4h0m-2.5-1.9h0m3.5-0.5h0m-5.2 3.2h0m5.9 7.1h0m-3.6 14.7h0m0.8-6.7h0m-2.2-1.4h0m4.3-3.8h0m-3.7 8.2h0m4-8.5h0m-2.4 16.8h0m-2.2-8.1h0m-0.9-9.1h0m26.8-41.9h0m-5.4-3.6h0m1 6.6h0m14.6 49.5h0m-3.5-11.4h0m4.7-29.3h0m-4.8 44.6h0m0.3-14.7h0m5.1-4.4h0m-3.9-1.4h0m-2 49.5h0m0.1-59.5h0m0.5 10.8h0m0.1 31.9h0m1.4-13.7h0m-1.3 1.3h0m0.8 23.3h0m3.1-17.2h0m-4.6-26.5h0m-0.4 47.5h0m6.2-58.2h0m-5.1 54.7h0m0-3.3h0m-1.2-62.5h0m0.4 34h0m3.4 19.6h0m1.7-55.6h0m-3.7 12.8h0m3 8.7h0m-4.7-5.4h0m2.3 27.7h0m-1.4 8.8h0m0.9-39.9h0m4 12.1h0m-2.6-18.3h0m0.9 56.8h0m-0.7-9h0m-0.8-38.9h0m3.7 14.6h0m-4.5 14.6h0m1.3-14.1h0m1.7 1.5h0m0.1 13.8h0m7.9-10.2h0m0.2-109.9h0m3.6 23h0m-0.7-21.4h0m-0.3 57.7h0m1.5 12.6h0m-1-31.3h0m-4.3 84.2h0m4.1-46.1h0m-4.2-14.6h0m3-18.9h0m2.1-23.2h0m0.5 29.3h0m-3.3-29.8h0m-1.4 19.8h0m4.4-19.7h0m-2.9 56.1h0m-0.5-29.7h0m1.1-12h0m0.5-12.1h0m-4.1 12.7h0m4.3-22.6h0m-0.4 26h0m-1.4-14.1h0m-1.6-25.6h0m3.5 45.4h0m1.7-16.9h0m-3 39.9h0m-2.4-23.8h0m-0.3-5.2h0m1.8 47.5h0m-2.4-72.8h0m5.4 13.3h0m-4.2 17.3h0m4.9 42.9h0m-0.4-42.3h0m-2.9-40h0m3.3 19.4h0m-6.1-21.2h0m5.7 45.5h0m8.4-21.7h0m-2.5-20h0m-0.3 3.3h0m0.7 9.8h0m5-18.7h0m-5.1 13.7h0m3.4-12.9h0m-0.8 7.4h0m-2.1 28.8h0m5.1-9.5h0m-4.9 5.8h0m4.9-14.6h0m-5.1-9.4h0m4.3 15h0m0.1-7.4h0m-4.8-10.9h0m4.4 26.5h0m-5-25.1h0m0.2 5.8h0m4.4-12.9h0m-0.5-22.4h0m-3.6 54.6h0m0.5-55.7h0m3.4 41.1h0m0.6-16.8h0m-1.6 5.3h0m-1.8 14.1h0m-1.1 4.9h0m4.6-13.4h0m-5-17.3h0m1 37.8h0m2.5-26.6h0m2.1 30.2h0m-3-19.6h0m-1.2-16.1h0m0.2 26.7h0m2.5-41.2h0m-1.3 22.8h0m2.4-1h0m-1.5 17.6h0m13.3 5.1h0m-5.2-45.7h0m3.7 13.6h0m-0.7 11.7h0m-4.2-32.3h0m1.5 37h0m2.6-1.5h0m0.5-2.1h0m-4.3 0.8h0m5.7-16.6h0m-1.3 18.8h0m-1.3 8.4h0m2.7-10.6h0m-4.9-27.6h0m2.2 22.4h0m2.5 24.6h0m-2-43.4h0m-3.2-4.1h0m2.7 8.2h0m-0.5-0.2h0m-2 35h0m2.2-15h0m-0.6-34.1h0m0 16.5h0m-1.7 18.9h0m3.3-20.1h0m0.7 28.5h0m-1.6-16.5h0m0.3-9.5h0m0.8-4.6h0m-2.1 31.5h0m2.7 2.2h0m-4.2-10h0m3.3-5h0m1.2-31.7h0m0.1 60.5h0m-3.5-24.4h0m3.7-4.1h0m-2-4.1h0m-3.5-23.1h0m24.7 120.2h0m-0.1 0.7h0m1.4-0.6h0m-5.5 1.6h0m4.7-0.8h0m-0.9 13.8h0m-0.1-22h0m-4.5 3.5h0m2.8 1.7h0m0.4 8.8h0m-3 7.6h0m5.2-6.4h0m-2.3 0.1h0m-2.1-3.2h0m3.7 11.4h0m-3.9-17.4h0m14.1 132.5h0m-2.9-10.4h0m-0.8 10.3h0m14.9-168.5h0m0.2-2.9h0m1.9 0.2h0m5.5 11.5h0m-0.5 20.1h0m4.4 12.3h0m1.2 4.4h0m-5.7-13.5h0m2.4 12.9h0m2.7 8.2h0m-4.7-21.6h0m3.6 23.9h0m-3.5 0.8h0m1-34.5h0m4.8 45.2h0m-3-31.9h0m0.9-16.4h0m-0.6 2.9h0m-3.5 59h0m3.2-64.8h0m1.5 39.4h0m-1.2-10.7h0m-1.4-22.6h0m0.5 6.4h0m-2.9 8.8h0m5.9-1.9h0m0.2-9.4h0m-1.1-4.2h0m-0.7 41.6h0m0.9-6h0m-2.6-15.8h0m1.2-12.4h0m-2.1-8.3h0m3 46.6h0m-4.7-28.1h0m3.7-2.6h0m-0.1 34h0m-2.5-11.4h0m1.5-21.1h0m0.6-23.8h0m1.6 8h0m-4.5 38.1h0m0.9-6h0m11-83.2h0m4.9 6.6h0m-4.2-12h0m0.5 7.5h0m2.7-7.1h0m-1.1 34.5h0m0.2-20.5h0m-1.3 15.8h0m-2.1-36.7h0m-0.5 8h0m0.8-21.2h0m1.9 40.6h0m1.2 0.4h0m-4 1.2h0m2.4-26.1h0m-0.4-9.3h0m1.8 21.6h0m-1.3-19h0m2.6 18.3h0m-1-8.5h0m-2.4 14.5h0m0.4 7.4h0m3.7-36.4h0m-5.2 49.5h0m1.8-31.3h0m3.2-1.2h0m0.5 19.7h0m-3.8-17.5h0m3.5 4.1h0m-0.8-10h0m0.2 30.3h0m-1.1-19h0m1.4-20.1h0m-2.6 3h0m-1.9 31.7h0m0.2-27.7h0m-0.7 28.5h0m-0.5-14.1h0m0.8 9.4h0m-0.2-7.2h0m12.6-76.1h0m4.1 30.7h0m-1-0.8h0m-1.6-18.6h0m-0.3-8.4h0m-2.1 23h0m2.8-2.8h0m0-18.7h0m2 24.7h0m-0.9-12.1h0m-1.2-15.4h0m1.1 1.3h0m-4 13.6h0m1.6 25.9h0m2.7-16.8h0m-2.7-4.8h0m-0.3-18.6h0m1.4 25.2h0m-0.9-9.6h0m-2.9-4.7h0m6.1 10.3h0m-4-8.1h0m0.6-5.2h0m-1.9-6.6h0m2.5-3.1h0m-2.8 18.5h0m2.5-18.7h0m-2 15.2h0m-0.8 3h0m1.1-10.6h0m4.4 23.6h0m-1.1-21h0m-0.9-5.6h0m-2.8 8.6h0m5.1 1.8h0m-6-6.4h0m14.9 30.8h0m1.9-10.6h0m-0.9-12h0m0.3 15.4h0m-5.4 9h0m4.5-16.3h0m0.6 4.7h0m-1.3 2.8h0m-2.4 3.3h0m0.3-0.1h0m2.4 5.1h0m-3.2-6.2h0m4 0.6h0m-2.2-12.2h0m-0.7 14.7h0m-0.9 5h0m-0.4 2.5h0m5.4-16.4h0m-3.9-8.5h0m4 13.9h0m-1.7 1.2h0m-2-2.4h0m0.4-3.6h0m-0.8 9.9h0m1.6-7h0m-3.4-9.7h0m0.2 7.3h0m2.9-3.1h0m21.1 117.3h0m-0.1-9.7h0m1.7-5.9h0m-2.6 5.6h0m-2.5-1.4h0m0.7 6.5h0m-0.5-1h0m1.7-4.4h0m-3.1-0.5h0m4.8 18.5h0m-5-9h0m5.6 0.8h0m-3.7-9.1h0m3.3-0.6h0m0.4-12.5h0m-0.1 23.4h0m7 117.7h0m-0.6-1.3h0m1.2-1.1h0m9.2-161.1h0m1.3 3h0m1.7-8.1h0m12.5 56.5h0m-1.2 6.5h0m1.7-58.5h0m-4.6 44.2h0m3.5-23.2h0m-2.8 42.1h0m3.3-49h0m-3.5 32.7h0m0.8-25.9h0m0.3 26.5h0m-1.5-15.8h0m3.8 48.4h0m1.7-18.9h0m-3.2 27.4h0m-1.1-28.5h0m0 2h0m-1.2 21.4h0m3.8-42.2h0m-0.7-5.5h0m-3.7 12.3h0m4.6 29.6h0m-2.3-65.3h0m3.2 20.4h0m-5.2-16.2h0m4.1 67.3h0m-3.3-45.4h0m4 0.4h0m1 48.6h0m-4.3-16.6h0m-0.2 20h0m2.1-2.2h0m-2.1-68.3h0m4.7 8.3h0m-2.2 44.5h0m2.3-16.1h0m-3.4 22h0m0.3-11.8h0m-2.3 11.4h0m3.7-5.3h0m-3.9-38.7h0m13.1-82.8h0m-0.2 5.8h0m2.6 3.4h0m-2.1-2.5h0m-0.8 15h0m-1.1-20.9h0m4.3 6.2h0m-2.1-4.4h0m0.9-7.4h0m-2.3 19.9h0m-2.2 2.8h0m1.8-14.9h0m-0.5 18.7h0m0.8-5.7h0m-1.5-9.2h0m1.5-6.6h0m-1.5-10.8h0m2 14h0m-0.7 7.7h0m0.9-16.1h0m1.7 7.5h0m1.4 5.5h0m-1.8-16h0m1 25.3h0m1-13.8h0m-3.7 1.7h0m-0.9 4.1h0m0-2.6h0m4.7-8.1h0m-4.3 15.6h0m4-1.7h0m-2.6-0.4h0m0.1 18.4h0m-0.2-8.5h0m0.5-10.6h0m-1.8 12.9h0m4.4-23.5h0m-2.5-2.7h0m0-0.9h0m-0.5 8.8h0m8.1-27.4h0m4.5 24.5h0m-0.8-23.1h0m0.6 8.6h0m0.7 15h0m-1.5-11.4h0m0.1-23.3h0m1.6 11.8h0m-4.7-5.1h0m0.1 26.5h0m-0.9-15.2h0m1.1-7.1h0m0.6 4.3h0m4.4 17.6h0m-4.8-16.8h0m2.4-17.5h0m-3 17.3h0m2.1-0.1h0m-1.1-16h0m-0.6 24.3h0m1.3-15.7h0m2.3 16.6h0m0.2-1.8h0m-4.5-8.9h0m1.5-15.5h0m2.6 12.6h0m-2.8 13.3h0m-0.2-23.7h0m1.6 2.3h0m-0.4-6.4h0m0 27.3h0m-0.9-8.9h0m2-1.9h0m-2.6-0.1h0m0.1-1.4h0m3.6-0.6h0m-3.6-6h0m3.7-8.8h0m-1.4 34.7h0m0.2-23h0m7.1 11.9h0m0.9 59.1h0m1.9-44.9h0m-1.5 10.3h0m2.7-12.1h0m-2.6-12.3h0m4.7-7.2h0m-2.4 3.6h0m-1 20.3h0m1.6-31h0m-4.2 17.9h0m2.1-19.2h0m4 29.9h0m-3.1-16.4h0m-1.1-2.1h0m4.2 28.7h0m-3.8-11.9h0m3.2-9.2h0m-4 14.2h0m-0.2-14h0m3 19.8h0m0.3-36.5h0m0.7 5h0m0.3 11.4h0m-1.2 0.2h0m-4.1 22.5h0m5.1-8.5h0m0 9.2h0m0.7 28.1h0m-0.3-56.6h0m-3.6 34.5h0m2.2 8.2h0m-4-53.8h0m0.1-4.6h0m0.7 41h0m4.9 11.8h0m-3-18h0m1.8-32.1h0m1 11h0m0 27.5h0m14.6 70.9h0m-0.5 6.7h0m-0.2-12.7h0m2.7 4h0m-2.8 15h0m4.5-18.6h0m-2.1 3.8h0m2.2 8.4h0m1.7 3.7h0m-5.1-20.4h0m2.2 19.5h0m-1.1-5.4h0m4-12.2h0m-1.2 15.3h0m-1-5.9h0m-3.6 10.9h0m16.7 119.8h0m-5.3-10.3h0m3 9.4h0m10.8-160.2h0m-0.9 0.6h0m2.1-7.2h0m9.3 75.3h0m-1.9 10.3h0m-1.2 0.9h0m4.7-39.9h0m0.8 12.5h0m-1.6 20.1h0m1.5-48.6h0m-5.3 43.3h0m4-28.6h0m-1.9-11.9h0m-2-20.7h0m5.4 25.5h0m-2 19.8h0m-2.3-36.8h0m1.9 50.5h0m-1.7-26.7h0m-1 38.1h0m3.8-14.9h0m-1.9-1.1h0m-1-69.1h0m0.7 75.7h0m4.2-9.8h0m-4.6 22.1h0m1.6-25.9h0m0.5 1.7h0m-1.4 6.8h0m-0.3-32.9h0m2 14.3h0m-4.2-18.5h0m2.9 15.8h0m-1.7 29h0m2.4-1.4h0m-1.1 11.4h0m3.8-12.7h0m-3.7-10.6h0m-0.9 24.4h0m3.3-69.8h0m-1.4 56.5h0m-2-17.8h0m4.4-18.1h0m9.2-19.4h0m-2.4-22.5h0m-0.7-9.4h0m3.7-0.9h0m0.1 24.9h0m1.3-3h0m-3.4-9.6h0m-0.7-14.7h0m3.8 15.9h0m-5 5.5h0m-0.7-1.5h0m4.3-3.8h0m-1.8-9.4h0m3.2 8.8h0m-1.5 2.3h0m0-1.4h0m1.1-22.3h0m0.5-4.5h0m-1.6 19.2h0m-3.8 27.2h0m1.4-8.8h0m-0.1 2.5h0m3-37.5h0m-5 11.3h0m3.5 17.9h0m-2.5-3.2h0m2.4-14h0m-1.8 17.1h0m0.3-5.1h0m-0.5 2.9h0m4.2-0.9h0m-3.5 15.2h0m-1.6-28h0m0.4-0.1h0m0.4 33.4h0m-0.2-17.8h0m2 14.3h0m1.2-15h0m-4-3.9h0m4.9-0.3h0m7.9-66.3h0m-0.1 5.7h0m2.7-21.9h0m-4.2 20.8h0m3.7-17.5h0m-1.3 7.6h0m1.4-16.6h0m2.2 39.4h0m-6-15.5h0m3.5 2.2h0m-0.7-11.7h0m-0.3-0.2h0m1.1 1.8h0m0 17.4h0m0.4-23.5h0m-3.4 13.5h0m4.6 10.9h0m-4.5-24.8h0m2.7 7.3h0m-0.6 7.5h0m0.4-0.2h0m1-2.5h0m-3 3.1h0m3.8 0.4h0m-1.5-10.9h0m-3.3-1.8h0m1.9 23.6h0m2.7-22.7h0m-5.4 2.8h0m5.1 6.6h0m1.5-6.2h0m-0.1-11.1h0m-4.8 11h0m4.4 19.2h0m-0.8-6.2h0m-2.9-24.7h0m2.2 0.1h0m1.8 14.3h0m-3.9 14.6h0m1.5-19.9h0m13.4-0.8h0m-6.1 20.1h0m0.7-5.9h0m4.1 8.9h0m1.2-8.9h0m-4.7 19h0m1.4-13.3h0m-1.6-6.4h0m0.6-5.7h0m-0.5 24.1h0m2.9-6.2h0m0.8-12.8h0m-3.9 6.4h0m1.3 5.5h0m2.2-12.7h0m0.7 14.8h0m-0.3 6.6h0m-0.9-12.6h0m2.1-6h0m-3.1 8.9h0m0.5-10.8h0m-1.9 8.8h0m1.4 5.1h0m1.9-6.4h0m-4.6 9.2h0m4.2 0.8h0m-1.3-16.7h0m-0.9 0h0m3.2 16h0m-3.7-5h0m-0.4-4.7h0m3.7-3.9h0m-2.6 10.3h0m3.2 4.3h0" stroke="#000" stroke-opacity="0.5" stroke-width="2.4" stroke-linecap="round" fill="none"/>
<ellipse cx="1082.8" cy="1249.8" rx="3.3" ry="14" fill-opacity="0.7"/><ellipse cx="1093.8" cy="1175.1" rx="3.3" ry="9.5" fill-opacity="0.7"/><ellipse cx="1104.8" cy="1129.4" rx="3.3" ry="8.1" fill-opacity="0.7"/><ellipse cx="1115.9" cy="1152.1" rx="3.3" ry="12.4" fill-opacity="0.7"/><ellipse cx="1168.5" cy="1249.8" rx="3.3" ry="14" fill-opacity="0.7"/><ellipse cx="1179.5" cy="1175.1" rx="3.3" ry="9.5" fill-opacity="0.7"/><ellipse cx="1190.5" cy="1128.4" rx="3.3" ry="8.1" fill-opacity="0.7"/><ellipse cx="1201.6" cy="1151.4" rx="3.3" ry="12.6" fill-opacity="0.7"/><ellipse cx="1254.2" cy="1249.8" rx="3.3" ry="14" fill-opacity="0.7"/><ellipse cx="1265.2" cy="1175.4" rx="3.3" ry="14" fill-opacity="0.7"/><ellipse cx="1276.2" cy="1128.4" rx="3.3" ry="8.1" fill-opacity="0.7"/><ellipse cx="1287.3" cy="1136.9" rx="3.3" ry="10.9" fill-opacity="0.7"/><ellipse cx="1339.9" cy="1249.8" rx="3.3" ry="14" fill-opacity="0.7"/><ellipse cx="1350.9" cy="1173.1" rx="3.3" ry="9.5" fill-opacity="0.7"/><ellipse cx="1361.9" cy="1127.7" rx="3.3" ry="8.1" fill-opacity="0.7"/><ellipse cx="1373" cy="1127.1" rx="3.3" ry="10.9" fill-opacity="0.7"/><ellipse cx="1425.6" cy="1265.3" rx="3.3" ry="14" fill-opacity="0.7"/><ellipse cx="1436.6" cy="1186.3" rx="3.3" ry="12.1" fill-opacity="0.7"/><ellipse cx="1447.6" cy="1141.5" rx="3.3" ry="10.4" fill-opacity="0.7"/><ellipse cx="1458.7" cy="1161.6" rx="3.3" ry="14" fill-opacity="0.7"/><ellipse cx="1511.3" cy="1268.9" rx="3.3" ry="14" fill-opacity="0.7"/><ellipse cx="1522.3" cy="1190.6" rx="3.3" ry="14" fill-opacity="0.7"/><ellipse cx="1533.3" cy="1162.3" rx="3.3" ry="14" fill-opacity="0.7"/><ellipse cx="1544.4" cy="1159.3" rx="3.3" ry="14" fill-opacity="0.7"/><ellipse cx="1597" cy="1268.3" rx="3.3" ry="14" fill-opacity="0.7"/><ellipse cx="1608" cy="1193.5" rx="3.3" ry="14" fill-opacity="0.7"/><ellipse cx="1619" cy="1141.5" rx="3.3" ry="11.5" fill-opacity="0.7"/><ellipse cx="1630.1" cy="1160" rx="3.3" ry="9.1" fill-opacity="0.7"/><ellipse cx="1682.7" cy="1278.1" rx="3.3" ry="14" fill-opacity="0.7"/><ellipse cx="1693.7" cy="1182.4" rx="3.3" ry="14" fill-opacity="0.7"/><ellipse cx="1704.7" cy="1152.4" rx="3.3" ry="14" fill-opacity="0.7"/><ellipse cx="1715.8" cy="1172.2" rx="3.3" ry="14" fill-opacity="0.7"/><ellipse cx="1768.4" cy="1285.4" rx="3.3" ry="14" fill-opacity="0.7"/><ellipse cx="1779.4" cy="1224.5" rx="3.3" ry="14" fill-opacity="0.7"/><ellipse cx="1790.4" cy="1153.7" rx="3.3" ry="14" fill-opacity="0.7"/><ellipse cx="1801.5" cy="1170.8" rx="3.3" ry="10.7" fill-opacity="0.7"/>
<g fill="#000"><ellipse cx="1060.8" cy="1391" rx="4" ry="2.6"/><ellipse cx="1060.8" cy="1172.2" rx="3.3" ry="2.2"/><ellipse cx="1071.8" cy="1147.8" rx="3" ry="2"/><ellipse cx="1082.8" cy="1249.8" rx="2.4" ry="4"/><ellipse cx="1093.8" cy="1175.1" rx="2.4" ry="3.8"/><ellipse cx="1104.8" cy="1129.4" rx="2.4" ry="3.2"/><ellipse cx="1115.9" cy="1152.1" rx="2.4" ry="4"/><ellipse cx="1146.5" cy="1391" rx="4" ry="2.6"/><ellipse cx="1146.5" cy="1169.9" rx="3.3" ry="2.2"/><ellipse cx="1157.5" cy="1147.8" rx="3" ry="2"/><ellipse cx="1168.5" cy="1249.8" rx="2.4" ry="4"/><ellipse cx="1179.5" cy="1175.1" rx="2.4" ry="3.8"/><ellipse cx="1190.5" cy="1128.4" rx="2.4" ry="3.2"/><ellipse cx="1201.6" cy="1151.4" rx="2.4" ry="4"/><ellipse cx="1232.2" cy="1391" rx="4" ry="2.6"/><ellipse cx="1232.2" cy="1167.5" rx="3.3" ry="2.2"/><ellipse cx="1243.2" cy="1147.8" rx="3" ry="2"/><ellipse cx="1254.2" cy="1249.8" rx="2.4" ry="4"/><ellipse cx="1265.2" cy="1175.4" rx="2.4" ry="4"/><ellipse cx="1276.2" cy="1128.4" rx="2.4" ry="3.2"/><ellipse cx="1287.3" cy="1136.9" rx="2.4" ry="4"/><ellipse cx="1317.9" cy="1391" rx="4" ry="2.6"/><ellipse cx="1317.9" cy="1172.2" rx="3.3" ry="2.2"/><ellipse cx="1328.9" cy="1147.8" rx="3" ry="2"/><ellipse cx="1339.9" cy="1249.8" rx="2.4" ry="4"/><ellipse cx="1350.9" cy="1173.1" rx="2.4" ry="3.8"/><ellipse cx="1361.9" cy="1127.7" rx="2.4" ry="3.2"/><ellipse cx="1373" cy="1127.1" rx="2.4" ry="4"/><ellipse cx="1403.6" cy="1390.7" rx="4" ry="2.6"/><ellipse cx="1414.6" cy="1209" rx="3" ry="2"/><ellipse cx="1425.6" cy="1265.3" rx="2.4" ry="4"/><ellipse cx="1436.6" cy="1186.3" rx="2.4" ry="4"/><ellipse cx="1447.6" cy="1141.5" rx="2.4" ry="4"/><ellipse cx="1458.7" cy="1161.6" rx="2.4" ry="4"/><ellipse cx="1489.3" cy="1391" rx="4" ry="2.6"/><ellipse cx="1489.3" cy="1180.1" rx="3.3" ry="2.2"/><ellipse cx="1500.3" cy="1215.9" rx="3" ry="2"/><ellipse cx="1511.3" cy="1268.9" rx="2.4" ry="4"/><ellipse cx="1522.3" cy="1190.6" rx="2.4" ry="4"/><ellipse cx="1533.3" cy="1162.3" rx="2.4" ry="4"/><ellipse cx="1544.4" cy="1159.3" rx="2.4" ry="4"/><ellipse cx="1575" cy="1388.7" rx="3" ry="2"/><ellipse cx="1586" cy="1220.5" rx="3" ry="2"/><ellipse cx="1597" cy="1268.3" rx="2.4" ry="4"/><ellipse cx="1608" cy="1193.5" rx="2.4" ry="4"/><ellipse cx="1619" cy="1141.5" rx="2.4" ry="4"/><ellipse cx="1630.1" cy="1160" rx="2.4" ry="3.6"/><ellipse cx="1660.7" cy="1386.4" rx="3" ry="2"/><ellipse cx="1671.7" cy="1225.1" rx="3" ry="2"/><ellipse cx="1682.7" cy="1278.1" rx="2.4" ry="4"/><ellipse cx="1693.7" cy="1182.4" rx="2.4" ry="4"/><ellipse cx="1704.7" cy="1152.4" rx="2.4" ry="4"/><ellipse cx="1715.8" cy="1172.2" rx="2.4" ry="4"/><ellipse cx="1746.4" cy="1386.4" rx="3" ry="2"/><ellipse cx="1757.4" cy="1229.8" rx="3" ry="2"/><ellipse cx="1768.4" cy="1285.4" rx="2.4" ry="4"/><ellipse cx="1779.4" cy="1224.5" rx="2.4" ry="4"/><ellipse cx="1790.4" cy="1153.7" rx="2.4" ry="4"/><ellipse cx="1801.5" cy="1170.8" rx="2.4" ry="4"/></g>
<path d="M1101.83 1106.47V1098.97H1115.11V1106.47M1187.53 1106.47V1098.97H1200.81V1106.47M1273.23 1106.47V1098.97H1286.51V1106.47M1358.93 1106.47V1098.97H1372.21V1106.47M1444.63 1106.47V1098.97H1457.91V1106.47M1530.33 1106.47V1098.97H1543.61V1106.47M1616.03 1106.47V1098.97H1629.31V1106.47M1701.73 1106.47V1098.97H1715.01V1106.47M1787.43 1106.47V1098.97H1800.71V1106.47" stroke="#000" stroke-width="1.5" fill="none"/>
<g font-size="11.6" text-anchor="middle" fill="#000"><text x="1108.47" y="1096.07">p = 1.000</text><text x="1194.17" y="1096.07">p = 1.000</text><text x="1279.87" y="1096.07">p = 1.000</text><text x="1365.57" y="1096.07">p = 0.991</text><text x="1451.27" y="1096.07">p = 1.000</text><text x="1536.97" y="1096.07">p &lt; 0.001</text><text x="1622.67" y="1096.07">p = 1.000</text><text x="1708.37" y="1096.07">p = 1.000</text><text x="1794.07" y="1096.07">p = 1.000</text></g>
<path d="M1031.5 1073.37V1447.85H1819.8" stroke="#000" stroke-width="1.9" fill="none" stroke-linejoin="round"/>
<path d="M1026.2 1434.8H1031.5M1026.2 1352.52H1031.5M1026.2 1270.24H1031.5M1026.2 1187.95H1031.5M1026.2 1105.67H1031.5M1082.8 1447.85V1453.15M1168.5 1447.85V1453.15M1254.2 1447.85V1453.15M1339.9 1447.85V1453.15M1425.6 1447.85V1453.15M1511.3 1447.85V1453.15M1597 1447.85V1453.15M1682.7 1447.85V1453.15M1768.4 1447.85V1453.15" stroke="#333" stroke-width="1.9" fill="none"/>
<g font-size="23.5" fill="#4D4D4D">
<text x="1022.1" y="1443.8" text-anchor="end">0</text>
<text x="1022.1" y="1361.52" text-anchor="end">25</text>
<text x="1022.1" y="1279.24" text-anchor="end">50</text>
<text x="1022.1" y="1196.95" text-anchor="end">75</text>
<text x="1022.1" y="1114.67" text-anchor="end">100</text>
<text x="1082.8" y="1474.3" text-anchor="middle">1</text>
<text x="1168.5" y="1474.3" text-anchor="middle">2</text>
<text x="1254.2" y="1474.3" text-anchor="middle">4</text>
<text x="1339.9" y="1474.3" text-anchor="middle">8</text>
<text x="1425.6" y="1474.3" text-anchor="middle">16</text>
<text x="1511.3" y="1474.3" text-anchor="middle">24</text>
<text x="1597" y="1474.3" text-anchor="middle">48</text>
<text x="1682.7" y="1474.3" text-anchor="middle">96</text>
<text x="1768.4" y="1474.3" text-anchor="middle">192</text>
</g>
<text x="1425.65" y="1053.6" font-size="39" font-weight="bold" text-anchor="middle">Hispanic</text>
<text x="1425.65" y="1504.4" font-size="27.3" font-weight="bold" text-anchor="middle">Prediction Horizon [min. hours before event]</text>
<text transform="translate(970.8 1260.61) rotate(-90)" font-size="27.3" font-weight="bold" text-anchor="middle">Specificity at 95 % Sensitivity [%]</text>
<g stroke="#000" stroke-width="1.9" stroke-dasharray="2.05 6.3" fill="none">
<line x1="80.5" y1="1947.7" x2="868.2" y2="1947.7"/>
<line x1="80.5" y1="1865.42" x2="868.2" y2="1865.42"/>
<line x1="80.5" y1="1783.13" x2="868.2" y2="1783.13"/>
<line x1="80.5" y1="1700.85" x2="868.2" y2="1700.85"/>
<line x1="80.5" y1="1618.57" x2="868.2" y2="1618.57"/>
<line x1="131.8" y1="1961.25" x2="131.8" y2="1617.07"/>
<line x1="217.49" y1="1961.25" x2="217.49" y2="1617.07"/>
<line x1="303.18" y1="1961.25" x2="303.18" y2="1617.07"/>
<line x1="388.87" y1="1961.25" x2="388.87" y2="1617.07"/>
<line x1="474.56" y1="1961.25" x2="474.56" y2="1617.07"/>
<line x1="560.25" y1="1961.25" x2="560.25" y2="1617.07"/>
<line x1="645.94" y1="1961.25" x2="645.94" y2="1617.07"/>
<line x1="731.63" y1="1961.25" x2="731.63" y2="1617.07"/>
<line x1="817.32" y1="1961.25" x2="817.32" y2="1617.07"/>
</g>
<g stroke="#000" stroke-width="1.45"><rect x="93.24" y="1740.35" width="11.02" height="207.35" fill="#E64B35"/><rect x="115.27" y="1711.06" width="11.02" height="236.64" fill="#00A087"/><rect x="126.29" y="1784.12" width="11.02" height="163.58" fill="#3C5488"/><rect x="137.31" y="1654.45" width="11.02" height="293.25" fill="#F39B7F"/><rect x="148.33" y="1628.11" width="11.02" height="319.59" fill="#8491B4"/><rect x="159.34" y="1629.1" width="11.02" height="318.6" fill="#91D1C2"/><rect x="178.93" y="1740.35" width="11.02" height="207.35" fill="#E64B35"/><rect x="200.96" y="1711.06" width="11.02" height="236.64" fill="#00A087"/><rect x="211.98" y="1784.12" width="11.02" height="163.58" fill="#3C5488"/><rect x="223" y="1654.45" width="11.02" height="293.25" fill="#F39B7F"/><rect x="234.02" y="1628.11" width="11.02" height="319.59" fill="#8491B4"/><rect x="245.03" y="1629.1" width="11.02" height="318.6" fill="#91D1C2"/><rect x="264.62" y="1740.35" width="11.02" height="207.35" fill="#E64B35"/><rect x="286.65" y="1707.44" width="11.02" height="240.26" fill="#00A087"/><rect x="297.67" y="1784.12" width="11.02" height="163.58" fill="#3C5488"/><rect x="308.69" y="1659.71" width="11.02" height="287.99" fill="#F39B7F"/><rect x="319.71" y="1628.11" width="11.02" height="319.59" fill="#8491B4"/><rect x="330.72" y="1629.1" width="11.02" height="318.6" fill="#91D1C2"/><rect x="350.31" y="1740.35" width="11.02" height="207.35" fill="#E64B35"/><rect x="372.34" y="1711.06" width="11.02" height="236.64" fill="#00A087"/><rect x="383.36" y="1784.12" width="11.02" height="163.58" fill="#3C5488"/><rect x="394.38" y="1661.36" width="11.02" height="286.34" fill="#F39B7F"/><rect x="405.4" y="1629.1" width="11.02" height="318.6" fill="#8491B4"/><rect x="416.41" y="1629.76" width="11.02" height="317.94" fill="#91D1C2"/><rect x="458.03" y="1715.99" width="11.02" height="231.71" fill="#00A087"/><rect x="469.05" y="1794.33" width="11.02" height="153.37" fill="#3C5488"/><rect x="480.07" y="1662.02" width="11.02" height="285.68" fill="#F39B7F"/><rect x="491.09" y="1632.39" width="11.02" height="315.31" fill="#8491B4"/><rect x="502.1" y="1632.06" width="11.02" height="315.64" fill="#91D1C2"/><rect x="543.72" y="1674.52" width="11.02" height="273.18" fill="#00A087"/><rect x="554.74" y="1748.25" width="11.02" height="199.45" fill="#3C5488"/><rect x="565.76" y="1668.93" width="11.02" height="278.77" fill="#F39B7F"/><rect x="576.78" y="1633.71" width="11.02" height="313.99" fill="#8491B4"/><rect x="587.79" y="1635.36" width="11.02" height="312.34" fill="#91D1C2"/><rect x="629.41" y="1715.99" width="11.02" height="231.71" fill="#00A087"/><rect x="640.43" y="1791.03" width="11.02" height="156.67" fill="#3C5488"/><rect x="651.45" y="1680.45" width="11.02" height="267.25" fill="#F39B7F"/><rect x="662.47" y="1659.71" width="11.02" height="287.99" fill="#8491B4"/><rect x="673.48" y="1632.06" width="11.02" height="315.64" fill="#91D1C2"/><rect x="726.12" y="1793.34" width="11.02" height="154.36" fill="#3C5488"/><rect x="737.14" y="1744.96" width="11.02" height="202.74" fill="#F39B7F"/><rect x="748.16" y="1668.93" width="11.02" height="278.77" fill="#8491B4"/><rect x="759.17" y="1655.43" width="11.02" height="292.27" fill="#91D1C2"/><rect x="800.79" y="1714.35" width="11.02" height="233.35" fill="#00A087"/><rect x="811.81" y="1783.46" width="11.02" height="164.24" fill="#3C5488"/><rect x="822.83" y="1696.57" width="11.02" height="251.13" fill="#F39B7F"/><rect x="833.85" y="1630.75" width="11.02" height="316.95" fill="#8491B4"/><rect x="844.86" y="1630.75" width="11.02" height="316.95" fill="#91D1C2"/></g>
<g stroke="#000" stroke-width="2.2"><line x1="104.26" y1="1947.7" x2="115.27" y2="1947.7"/><line x1="189.95" y1="1947.7" x2="200.96" y2="1947.7"/><line x1="275.64" y1="1947.7" x2="286.65" y2="1947.7"/><line x1="361.33" y1="1947.7" x2="372.34" y2="1947.7"/><line x1="436" y1="1947.7" x2="447.02" y2="1947.7"/><line x1="447.02" y1="1947.7" x2="458.03" y2="1947.7"/><line x1="521.69" y1="1947.7" x2="532.71" y2="1947.7"/><line x1="532.71" y1="1947.7" x2="543.72" y2="1947.7"/><line x1="607.38" y1="1947.7" x2="618.4" y2="1947.7"/><line x1="618.4" y1="1947.7" x2="629.41" y2="1947.7"/><line x1="693.07" y1="1947.7" x2="704.09" y2="1947.7"/><line x1="704.09" y1="1947.7" x2="715.1" y2="1947.7"/><line x1="715.1" y1="1947.7" x2="726.12" y2="1947.7"/><line x1="778.76" y1="1947.7" x2="789.78" y2="1947.7"/><line x1="789.78" y1="1947.7" x2="800.79" y2="1947.7"/></g>
<path d="M98.7 1947.7V1723.9M109.8 1947.7V1674.5M120.8 1730.5V1642.3M131.8 1821V1685.1M142.8 1671.2V1638.3M153.8 1654.8V1623.5M164.9 1633.4V1625.2M184.4 1947.7V1723.9M195.5 1947.7V1672.2M206.5 1730.5V1641.6M217.5 1821V1685.1M228.5 1671.2V1638.3M239.5 1641.6V1623.5M250.5 1633.4V1625.2M270.1 1947.7V1723.9M281.1 1947.7V1669.9M292.2 1730.5V1642.3M303.2 1821V1685.1M314.2 1696.6V1641.6M325.2 1635V1623.5M336.2 1633.4V1625.2M355.8 1947.7V1723.9M366.8 1947.7V1911.5M377.9 1730.5V1642.3M388.9 1821V1685.1M399.9 1696.6V1641.6M410.9 1635V1623.5M421.9 1633.4V1625.2M441.5 1947.7V1731.1M452.5 1947.7V1675.8M463.5 1737.1V1657.4M474.6 1830.2V1692M485.6 1684.4V1644.9M496.6 1701.2V1626.8M507.6 1636.7V1626.8M527.2 1947.7V1742.7M538.2 1947.7V1910.8M549.2 1728.8V1650.5M560.2 1809.5V1692M571.3 1719.6V1646.5M582.3 1638.3V1628.4M593.3 1667.9V1628.4M612.9 1947.7V1742.7M623.9 1947.7V1682.8M634.9 1742.7V1639M645.9 1811.8V1699.9M657 1700.9V1658.1M668 1667.9V1628.4M679 1636.7V1626.8M698.6 1947.7V1742.7M709.6 1947.7V1689.7M720.6 1947.7V1645.9M731.6 1811.8V1675.8M742.6 1765.7V1646.9M753.7 1691V1628.4M764.7 1668.9V1635M784.3 1947.7V1745M795.3 1947.7V1642.3M806.3 1742.7V1627.5M817.3 1811.8V1642.3M828.3 1719.6V1638.3M839.4 1636.7V1625.2M850.4 1636.7V1625.2" stroke="#000" stroke-width="1.6" fill="none"/>
<g fill="#000" fill-opacity="0.38"></g>
<path d="M101.7 1735.2h0m-5.9 6.4h0m6-7.8h0m-6.1 6.6h0m5.2 6.3h0m-3.9-4h0m4.7-0.5h0m-4-5.4h0m1.8 7.4h0m1.7-2.2h0m-5-6.5h0m2.4 9.9h0m2.6 0.5h0m-5.6-5.2h0m5.2 12.4h0m-3.9-12.8h0m3.4 0.3h0m1-6.5h0m-5.3 13h0m4.7-5.9h0m-3.8-14.5h0m3.4 20.9h0m-2.2-3.9h0m13 178.8h0m-2.2-13.9h0m0.9 10.6h0m-2.1 3.6h0m-0.7-1.1h0m1.5-9h0m1.3 8.7h0m2.6-7.7h0m-5 1.4h0m-0.4 7.2h0m4.3-12.1h0m1.2 14.8h0m-5.4-3.8h0m2-5.3h0m0.3 1.9h0m-2.4 2.9h0m3.8-4.4h0m1.9-5.9h0m-5.8 9.6h0m0.8-6h0m-0.5 3.8h0m13.8-207h0m-0.3-7.5h0m1.4-2.8h0m1.9 4.1h0m-4.2 6.5h0m0.6 16.1h0m-1.9 0.3h0m-0.8-23.7h0m6.2-36.5h0m-5.1 58.5h0m-0.6-37.8h0m4.6 3.2h0m-1.8 19.5h0m0.1-2.2h0m-2.3-22.6h0m1.6 15.3h0m-2.1-25.4h0m5.3 37.4h0m-4.9 6.3h0m1.8-3.8h0m-2 7.4h0m2.9-29.9h0m0.4 19.3h0m-2.9 13h0m2.6-3.6h0m-0.8-51.2h0m-1.3 59.6h0m1.4-13.4h0m1.9-2.3h0m-3.9-13h0m1.8 11.4h0m-2.4 19.1h0m4.5-38.6h0m-5-0.8h0m2.6 4.1h0m2.2 10.6h0m-1.6-4h0m1.6 12.4h0m1.1 12.4h0m-5.6-29.3h0m14 78.9h0m-1.5 6.5h0m0.1-81.5h0m3.4 14.7h0m-5.2 40.5h0m-0.1 9.4h0m3.1-5.7h0m0-9h0m-1.2 14.2h0m-0.3 21h0m-1 26.6h0m2.4-7.5h0m0.9-90.9h0m1.6 82.6h0m-1.1-16.6h0m-1.3-11.6h0m-1.3-29.9h0m2.2 64.8h0m-3.4-21.6h0m2.8 11.2h0m-3-14.7h0m4.7 0.9h0m-3.3 8.7h0m-1-34.9h0m3.4 37.7h0m-1.2-11.1h0m-1.4-59.7h0m-0.1 82.5h0m-1.2-7.2h0m0.5-14.9h0m1.7-22h0m0.9 15.2h0m-0.5 28h0m-1.3-26.3h0m-1.7 21.8h0m2.6-73.9h0m3.4 44.6h0m-0.1 50.9h0m-3.3-23h0m3.6-37.4h0m4.9-98.1h0m2.4-9.2h0m2.7-6.1h0m0.6 11.5h0m-2.6-16.2h0m-1.3 17.5h0m2.9-19h0m-4.5 19.3h0m0.5 2.1h0m1.3 2.6h0m-1.5-4.1h0m0.3-7.8h0m4.3 3h0m-2.5-1.6h0m-0.7 1.5h0m1.9-7.3h0m0.7 8h0m-0.9 6.7h0m1.3-13.5h0m-4.9 17.3h0m5.3-9.9h0m-4.4-5.7h0m-0.1-3.4h0m3.6 10.1h0m-1.7-6.5h0m1.3-4.1h0m12.1-7.7h0m1.1-10.2h0m-3.1 4.7h0m-1-0.3h0m2.3-0.6h0m1.3 1.5h0m0 5h0m-2.6-15h0m-2.2 0.7h0m4.6 8.4h0m-1.7 13.3h0m-2.3-12.6h0m0-12.6h0m3.1 1.3h0m0.4 7.1h0m-0.7-1.1h0m-1.2 6.9h0m-1.2-8.2h0m2.9 3.6h0m-0.4 1.5h0m-4.4 6.2h0m1.4-12.5h0m0.4 3.2h0m0.9 1.7h0m-1.9-3.5h0m30.4 115.7h0m4.5-9.3h0m0.6 1h0m-3.2 3.9h0m0.8-5h0m0 8.1h0m-0.8-9.7h0m-0.4 5h0m3.3 11h0m-1.6-9.6h0m1 1.7h0m-0.2 7h0m-3.7-7.2h0m4.6 4.5h0m-0.5-5.6h0m-1.6 11.1h0m0.8-18.2h0m-0.1 7h0m2.3-11.9h0m-1.4 13.3h0m-3.5-8h0m-0.6 6.1h0m0.7 1.9h0m11.6 182.2h0m0.2-6.6h0m2 10.2h0m1.2-10.2h0m-2.3 5.4h0m-2 4.2h0m1.6 1.2h0m-0.5-8.9h0m1 0.7h0m2 5.9h0m-4.8-9.2h0m-0.2 3.2h0m2.5 4h0m-1.9-9.6h0m1.8-0.3h0m-1.6-8.4h0m1.6-2.2h0m-2.1 22.9h0m4.8-1.7h0m-2.8-3.8h0m1.3-3.7h0m8.9-221.6h0m3.4-4.3h0m-1.9 7.9h0m-1 4h0m-1.7-2.8h0m0.3-15.6h0m1.4 5h0m1.7-10.2h0m1.8 39.5h0m-2.9 3.8h0m-3.1-23.7h0m4.2 9.7h0m-3.8 5.4h0m0.5-3.2h0m5-4.6h0m-3.4 19.5h0m2.5-8.7h0m-3.5 11h0m0.7-37.4h0m-0.4 7.9h0m2.7 2.2h0m1.9 3.2h0m-2.2-2.3h0m0.8-28h0m-1 15.3h0m-3.1-3.8h0m-0.9 33.2h0m3.6-27.5h0m1.9 7.6h0m-4.9 5.7h0m1.8 4h0m-2.1-32h0m3.6 50.8h0m-1.8-21.8h0m-0.5-7.7h0m0.6 18.8h0m1.7-19.6h0m-2.1 23.4h0m0.2-36.8h0m-0.6 23.6h0m13.5 51.4h0m-0.3 28.7h0m1 7.9h0m-4.3-47.9h0m4.8 34.2h0m-2 4.2h0m1.8-74.7h0m-4.4 110h0m2.3-25.5h0m-2 3.3h0m2.8-10h0m-3-14.2h0m1.3 8.3h0m1.9-56.5h0m1.6 26.8h0m0.7 68.3h0m0.5-36.9h0m-0.5-21.2h0m-5.5 55.7h0m0.9-103.7h0m4.2 59.4h0m-4.2 22.5h0m1.8-14.3h0m0.5 19.8h0m-3.6-3h0m3.2 2.6h0m-0.6-20.5h0m-1.1-57.1h0m3.7 52.1h0m-5.3 11.9h0m3.5-3.8h0m-2.7-45.9h0m4.2 35.3h0m-3.6-40.8h0m5.1 45.1h0m-1 2.6h0m-3.7 22.8h0m-1.7-107.5h0m3.7 94.7h0m-3.5-38h0m15.5-109.5h0m1.6 19.8h0m-0.8-19.9h0m-4.5 7.8h0m4.9 8.7h0m-3-7.5h0m0.9-0.2h0m0.9 8.5h0m-4.3-1.9h0m3.6-9h0m-2.1 10.1h0m0-7.6h0m-1.1-4.9h0m0.4 0.1h0m3.3 23.5h0m1.5-18h0m-4-13.2h0m1.5 12h0m2.3 14.5h0m0.2-5.4h0m-3.2 4.8h0m1.8-11.3h0m-1.7 0.2h0m-1.4-15.1h0m-0.4 31.2h0m-0.6-13.9h0m10.8-27.5h0m0.8 1h0m4.2 0.4h0m-1.9 5.3h0m1.2-7.3h0m-2.7 8.3h0m-0.5-0.6h0m0.8-3.6h0m-1.6-4.1h0m0 3h0m5.1-3.8h0m-1 6.5h0m-0.6-2.8h0m1.1 0h0m27 106.2h0m-0.5-5.2h0m4.9 6h0m-3.3-10.3h0m-0.8 10.7h0m0.4-2h0m0.8-2.6h0m0.9 12.8h0m-1.3-9.2h0m-2.4-3.2h0m3.5 9.7h0m-2.2-12.4h0m-0.8 0.4h0m-1 4.4h0m6.2-7.4h0m-4.1 14.4h0m2.1-4.6h0m-1.7-1.6h0m0.4 2.2h0m-1.4 5.5h0m-1.3-2.2h0m1.4 1h0m-1.5-5.2h0m14.3 177.4h0m0.5 6.2h0m1.4-11.2h0m-3.7 5.5h0m2.1 8.7h0m-1.3 0.5h0m0.5 1.9h0m2-8.5h0m-2-0.6h0m-1.9 10.3h0m2.8-12.7h0m-3.4-2.2h0m3.2 5.9h0m-2.2-4.6h0m1 2.3h0m2.6 3h0m1.3-5.1h0m-0.5 8.4h0m-4.5-0.2h0m3.3-3h0m-3-10.4h0m10.7-214.1h0m-0.9 28.1h0m0.6-1.8h0m4.2-20h0m-1.1 26.6h0m-0.1-41.3h0m-2.3 19.8h0m0.5-59.4h0m4.4 67.5h0m-5 12.2h0m3-51.3h0m1 25.1h0m-2.4-4.3h0m-1.3 1.7h0m-1.6 0.5h0m2.6-0.5h0m-2.2 5.3h0m4-0.4h0m0.7 16.3h0m-5 3.7h0m0-31.2h0m2 0.2h0m-1.9-5.4h0m3.4-0.5h0m-0.5 35.4h0m0.4-28.7h0m-0.3 31.5h0m-1.9-54h0m1.8 48.3h0m1.2 0.8h0m-3.3-37.1h0m1.5 7.5h0m0.7 32h0m-2.2-15.7h0m2 14.3h0m-2.4-36.9h0m0.5 21.1h0m2.7-18.7h0m-0.7 26.9h0m-3.3-36.7h0m16.3 95.8h0m-1.9 5.6h0m-0.9 7.5h0m0.4-14.1h0m2.8 21.9h0m-5.1 26.8h0m1.9-15.1h0m1.9-42.2h0m-3.5-33.1h0m4.7 74.3h0m-2.1 3.3h0m-0.8-45.9h0m3.2-42.8h0m0.7 76.2h0m-4.2-75.4h0m-0.7 14.1h0m-0.3 78.2h0m5-7.3h0m-3.8-26.1h0m2.8-7.2h0m-2.8 0.3h0m-1.7 47.9h0m0.5-52h0m1 37.8h0m1.7-24.9h0m-1.5-51.8h0m2 25.7h0m-3.4 29.2h0m1.1-3.3h0m2.2-31.9h0m-0.5-0.1h0m-0.7 8.8h0m-0.3 45.3h0m-1.4-36.7h0m0.8 42.7h0m-1.2-49.1h0m1 0.5h0m1.8 17h0m1.7 7.5h0m-3.5-1.3h0m14.5-135h0m-0.9 36.2h0m1.4-20.4h0m-0.1 21.4h0m0-34h0m-5.5 17.1h0m3-19.4h0m-3.2 4h0m0.6 10.6h0m1.8 6.5h0m3.4-7.9h0m-4.3 1h0m1.3-8.1h0m0-10.1h0m2.1 16.8h0m-3.2 6.9h0m2.8 15h0m-0.1-40.9h0m-2.5 13.4h0m1.1 17.8h0m1.2-18.8h0m-1.5 11.9h0m3-2.5h0m-4.5 8.6h0m-0.2-21h0m2.7 11.6h0m-0.3-12.5h0m2.6 10.7h0m-2.9 20.9h0m-0.4-10.2h0m-0.9-1.4h0m1.2-6.7h0m-0.5-16h0m3.6 31.1h0m-2.7-13.6h0m0.2-18h0m-0.2 12.7h0m-2.2 13.8h0m4.9-19.1h0m-3.3-2.2h0m44.7 91.1h0m-4.1-8.9h0m2.2 12h0m-0.7-3.1h0m-3.5-0.2h0m4.1-2.8h0m-2.4-9.6h0m3 8.8h0m-3.8 1.2h0m1.1-3.1h0m3.3 9.1h0m0.8 2.1h0m-1.9-7h0m-2-1.4h0m0.2 2.9h0m-1-0.8h0m0.8 5h0m2.7-1.5h0m-2.7-6.1h0m-0.3 1h0m1.2-12h0m3.1 17.2h0m-4.1 0.4h0m14.7 169.5h0m-0.3-4.8h0m-4.1 2.6h0m3.6 2.2h0m0.1 2.7h0m0.4 2.1h0m-0.3-5.7h0m-3.6 7.5h0m0.8-8.3h0m-0.6 4.5h0m1.5-5.9h0m0.1 14h0m-3.3-7.4h0m4.5-10h0m-1.7 1.3h0m0.8 8.5h0m-2.5 8.4h0m1.9-20.1h0m-1.2 13.5h0m-1.3 5.8h0m4.7-8.3h0m5.7-197.6h0m3.2-40.3h0m1.1 11.9h0m-3.7 18.1h0m-0.1-9.9h0m5.6 25.1h0m-0.6-6.2h0m-0.4-23.4h0m1.1 11h0m-3.6 3.4h0m0.8-4.8h0m1.4 18.8h0m-4.4-8h0m4.9-10.2h0m-1.7 7.6h0m1.5 7.5h0m-0.2-0.4h0m-2.3-11.1h0m2.9-50.6h0m-4.3 48.5h0m-1.1-18.8h0m3.2 13.2h0m-0.3-1.9h0m1-28.9h0m-0.7 8.4h0m2.6 33.8h0m-3.3-26.1h0m-0.1 23.2h0m2-5.6h0m-3.9 11.7h0m5.1-5.3h0m0.1-10.6h0m-5.2 2.3h0m4 28h0m-4.7-15.1h0m3.8-59.5h0m-3.7 57.8h0m-0.1 2.8h0m0.4-4.7h0m4-3.8h0m7.6 71.6h0m0.8 32.9h0m0-35.9h0m4.2-37h0m-1.9 18.5h0m-1.2 22h0m-1.1-26.7h0m3.4 12.4h0m-0.8 13.6h0m-1.7-45.3h0m-2 8.1h0m0.9 28.5h0m4.7-7h0m-5.3 28.4h0m4.5-18h0m0.4 6.7h0m-3.7 6.1h0m2-35.3h0m0.1 43.6h0m-2.5-48.7h0m2.5 3.2h0m-4.3-4.2h0m3.9 20.9h0m-2.6 54.6h0m4.6-23.3h0m-2.1-26.9h0m-1.6-23.2h0m2.5 70.3h0m-0.6-30.2h0m1-45.1h0m-1.5 38.3h0m0.5-55.3h0m-3.5 22.6h0m3.5 10.9h0m-1.3 14.6h0m1.3 41.1h0m1.4-11.7h0m-5.2-8.2h0m4.1 16.6h0m-0.1-37.6h0m9.9-116h0m-1 5.6h0m3.3 2h0m-2.5-14.6h0m0.7 15.4h0m0.5-4.4h0m-2.5-11h0m1.9 0.1h0m-1-2.5h0m2.3 8h0m1 4.9h0m-1.8 10.7h0m-2.1-17.2h0m2.2 4.1h0m1 9.9h0m-0.3-9.3h0m-2.2 2.5h0m-2.4-14h0m4.1 17.6h0m-2.2-9.2h0m-0.6 7.7h0m-0.1-13h0m2.1-2.9h0m-1.5 21.4h0m-1-27.7h0m3.4 23.1h0m0.4-5.5h0m1.1-3.1h0m-0.9-10.9h0m-3.8 10.1h0m3 21.7h0m-3.9-10.7h0m3.1-3.2h0m0.7-14.4h0m-3.5 16.7h0m1.3 5.9h0m0.8-7.5h0m3 17.7h0m-5-33h0m4.6 7.6h0m40.6 99.2h0m-1 6.2h0m0.3 2.1h0m0-4.8h0m-2.6-0.3h0m3.1-11.7h0m-0.3 5.1h0m-1.3 8.9h0m-2.4-7.4h0m4.7-1.6h0m-1.5-2h0m-2.1-0.6h0m0.2 14.8h0m3-4.1h0m-2.3 9.4h0m2.9 3h0m-4.9-8.9h0m12.9-86.6h0m-1.4-2.1h0m4.8-1.3h0m7.1 21h0m1.9 3.2h0m-0.4 28.6h0m-1.2-22.1h0m-1-10.9h0m4 28.3h0m0.3-24.4h0m0.9-11.3h0m-0.8 30.5h0m0.6-13.1h0m-3.4 11.2h0m3.1 19.1h0m0.5-36.9h0m-0.8 26h0m-3.4-2.6h0m0.1 11.1h0m-0.5-8.4h0m-0.5 11.7h0m0.2-25.2h0m2.3 16.8h0m-2.1-31.1h0m4.3 12.3h0m-2.6 11.4h0m3.2-42.7h0m-6.2 33.7h0m5.5 12.7h0m0.3-49.9h0m-4.9 52.9h0m3.3-68.9h0m1.5 59.6h0m-5-0.5h0m2.4-22.6h0m-0.1-10h0m-1 32.8h0m-0.2-6.7h0m1.4-15.5h0m0.7 38.8h0m-1.2-9.5h0m2.8-9h0m-0.5-20.6h0m8 127.3h0m-1.1-43.8h0m4.1-10h0m-3.6-17.2h0m-0.6 67.7h0m0.1-30.9h0m5.4-28.6h0m0.2 37h0m-0.3-19.2h0m-2.7 6.5h0m0.7-16.6h0m0.9 10.9h0m1.2-6.4h0m-0.6 15h0m-3.2-10.7h0m1.8 31.2h0m-3.6-38h0m1.3 27h0m-1.7 5h0m4 10.8h0m-1.6-16.6h0m3.8-12.5h0m-5.8 39.7h0m2.6-63.9h0m2.2 15.4h0m-3.9-1.5h0m1.2 17.9h0m-1.3-18.4h0m2.1 49h0m-2.9-65.2h0m2.3 43.1h0m-1.5-10.8h0m4.2 15.9h0m-5.2-39.8h0m2.3 14.3h0m0 5.7h0m-1.1-40.7h0m-0.9 74h0m0.6-11.8h0m4.9-14.8h0m11-119.8h0m-2.4-17.6h0m-1.4-7.7h0m0.7 37.2h0m0.5-18.9h0m1.3-0.2h0m-4.3-2.3h0m3-0.8h0m-2 1.6h0m3.2 4.8h0m0.5 7.2h0m-3.9-17.6h0m1.7 5.3h0m-1.9-9.3h0m2.1 13.3h0m1.9-2.8h0m-2.3-5.2h0m-0.8 1.1h0m-1.5 6.4h0m3.3-10h0m-3.7 15h0m4.3 0.2h0m-3.1-12.7h0m1.9-5.2h0m-0.3 9.7h0m-2.9 1h0m5.8-4.7h0m-5.1-10.7h0m0.4 15.2h0m0.9-0.6h0m-0.4-3.4h0m12.9-10.9h0m-3.2-23.6h0m4.5 7.3h0m-2.6 4.6h0m3 29.2h0m-0.8-41.1h0m-1.5 30.7h0m-0.3-13.2h0m2.8 14.8h0m-3.4-29.1h0m-1.1 21.3h0m3.5-10.8h0m-4.3-7.4h0m2.6-6.3h0m3.2 13.7h0m0.2-0.1h0m-4.7 7.6h0m3.7-21.2h0m-0.8 1.9h0m-3.1 23.2h0m4.2-13h0m-0.9-12.1h0m-2.3 15.1h0m2.5 26.1h0m-2.2-39.9h0m3.4 9.8h0m-0.3 5.2h0m-5.1-6.5h0m2.2-0.9h0m-1.6-2.4h0m3.2 24h0m-2.5-30.5h0m0.2 36.4h0m3.4-16.8h0m-1.3-16.8h0m-2.4 30.8h0m-1.3-21h0m0.8-11.6h0m3.6 6.7h0m1.2 2.9h0m28 125.8h0m-2.1-4.5h0m4 7.5h0m0.6 2.6h0m-1.3-19.4h0m0.9 19.6h0m0.5-16.2h0m0.1 14.8h0m-2.2-11.3h0m-0.5-3.9h0m-2.2 15.6h0m1.4-14.7h0m1.9 18h0m-4-4.3h0m4.4-11.3h0m-3.3-7.6h0m0.2 10.8h0m14.6 164.5h0m-1.9-7h0m-3.5-6h0m0.6 15.6h0m1.7-7.5h0m3.6 7h0m-3.5-6.4h0m2.3-2.8h0m-3.9 6h0m4.5 4.8h0m-5.1-3.1h0m6-4.2h0m-4.4 2.9h0m4.5-4.9h0m-2.9 4.3h0m1.6-4.5h0m-0.4-9.2h0m-0.6 14.6h0m1.4-5h0m5.8-239.4h0m2.7 28.3h0m1.3-24.6h0m-0.4-29.6h0m-2.1 6.7h0m0.9 16.4h0m-1.3 3.1h0m1.8-15.3h0m3.1 2.4h0m-2 19.3h0m0.6 5.7h0m-0.8-26h0m-1.8 17.6h0m1.9-14.3h0m-3.4-5.8h0m4.5-0.2h0m-5.4 1h0m3.5 10.3h0m0.3-8.7h0m-0.9 12.3h0m2 2.5h0m-4.2 22.3h0m0-23h0m4.5-4.3h0m-1 34.3h0m-1-29.5h0m-0.7-2.9h0m3.1 16.1h0m-3.1-23.6h0m3.1-5.2h0m-2.2 3.7h0m3.1 32.1h0m-4.3-18h0m-1.4-10.9h0m1.4-16.3h0m2.1 43.7h0m-3.1 9.1h0m1.8-3.8h0m0.5-34.5h0m0.3 26.5h0m9.9 46.3h0m2.5 16.7h0m-4.1-37.9h0m5.1 50.3h0m-6.1-24.7h0m4.6 47.4h0m-1.3-46.3h0m-2.7-45.1h0m1.2 40.6h0m0.9 1.7h0m0.9 12.1h0m1.7 13.6h0m-2.9 15.1h0m-1-23.2h0m0.3 4.3h0m2.2 3.7h0m-3.7-34.2h0m5 30.1h0m0-52.8h0m-5.1 73.9h0m6-54.6h0m-5.5 43.6h0m2.1 18.7h0m2.3-27.9h0m-4-70.9h0m-0.2 34.3h0m2.9 23.4h0m-3.4-20.4h0m1.7-22.2h0m-1.1 64.3h0m1-23.5h0m-1.4 5.1h0m5 46.9h0m-1.4-30h0m1-10.8h0m1.1-50h0m-4.6 60.4h0m-1.3-43h0m5.4-8.5h0m-4.1-24.5h0m12.9-22.5h0m1.9-23.2h0m-4.1 12.1h0m1-2.7h0m-0.1-5h0m2 17.5h0m-1-9.4h0m2.7 18.6h0m-0.8-1.9h0m0.5 6.4h0m-2.8-10.8h0m-2.5 14.5h0m2.9-32.3h0m2-0.5h0m-0.8 3.1h0m-0.8 0.4h0m-2.1 24.2h0m1.2-25.9h0m-1.2 4h0m-1.4 4.3h0m2.2 1.3h0m1.6-11.3h0m1.5 13.1h0m-1.3 27.8h0m-4.1-17.5h0m4.5-4.8h0m-2.1-13.7h0m4 16.9h0m-4.6-14h0m0.3-6.9h0m-0.9-2.3h0m-1.2 19.9h0m6.2 11.9h0m0.3-33.5h0m-6.5 45.1h0m1.3-20.9h0m-0.5-16.4h0m0.9 34.6h0m2.5-36.1h0m-0.9 22.8h0m18.7-46.9h0m1.1 2.4h0m1.8 21.4h0m2.2-11.9h0m-2.9-4.1h0m2.9-8.5h0m-1.7 9.5h0m-2.2 9.4h0m2.1-9.4h0m1.8-7.3h0m-3.8-4.9h0m3.8 0.2h0m-0.4-1.9h0m-2.3 10h0m-0.5-3.8h0m4.4-1.8h0m-2.2 6.7h0m0.5 1.5h0m-0.8-11h0m-2.3 1.1h0m1.5 10h0m-3-10.9h0m3.1 14h0m0.7-16h0m-1.9 8.4h0m0.3 12.5h0m-1.1-11.8h0m-0.9 22.4h0m2.9-25.4h0m2.1-7.9h0m-3.7 18.7h0m21.6 113.9h0m-3.4-4.5h0m6.3 8.2h0m-2.4 15.7h0m-1.8-23.2h0m2.8-10.2h0m-1.2-10h0m-1 11.6h0m-2.2 6.9h0m0.7 11.2h0m2.2-12.1h0m1.9-16.2h0m-3.4 23.6h0m4.2-6.7h0m-4.8-9.4h0m-1.3-5.6h0m3.3 8h0m7.7 161.4h0m1.9 8.8h0m-1.4-0.8h0m2.5 9.3h0m-2.2-5.6h0m1.2-4.2h0m0.1 12.8h0m3.7-21.3h0m-4.9 2.1h0m-0.6 6h0m3.6 3.3h0m-2.1-11.6h0m3.8 10.5h0m-1.1 8.2h0m1.7-18.6h0m-0.5 3.3h0m-0.1 7.5h0m-2.4 0.9h0m-1.9-0.7h0m15.5-240.2h0m-5.3 27.2h0m3.5 0.9h0m-3.9 15.4h0m6.2 3.2h0m-2.5-21.4h0m2.2 14.7h0m-2.9-55.9h0m1.4 34.9h0m2 22.7h0m-1.1-10.4h0m0.2-35.2h0m-4.9 42.9h0m2.6-28.2h0m2.4 11.3h0m-4 30.7h0m3.6-21h0m-2.8-18.3h0m2.4 31.4h0m-3.2-21.8h0m2.1-4.2h0m-3.4 29.9h0m4.4-48.5h0m-1 23h0m-0.6 27.1h0m-2.4-31.8h0m0.4 19.7h0m4.8-39h0m-4.9 59.3h0m0.6-18.4h0m0.3 7.1h0m4.3-19.6h0m-0.1-44.3h0m-1.6 74.8h0m-2-58.2h0m-1.6 44.1h0m5.1 20.4h0m-1.7-55.9h0m2.1 32.2h0m-0.8 4.3h0m7.6 88.5h0m3.1-2.8h0m0-1.7h0m-0.2-25.7h0m-3.5 28.5h0m2.7-34.3h0m0.8 11.9h0m0.4 7.6h0m0.1-11.4h0m-4-1.2h0m-0.5 15h0m4.5 1.6h0m-0.1-10.2h0m-4.7-11.2h0m3.9-6.3h0m-0.5 4h0m1.1 8.9h0m-2.5 3.7h0m-1.6 21.1h0m4.4-8.5h0m-3.8-6.5h0m-0.9 12.7h0m1.9-46.4h0m-0.5 45.2h0m-2.2-38.7h0m4.7 4.5h0m1.3 33.6h0m-1.8 3.2h0m1.8-36.6h0m-5.6 22.6h0m3.7 6.8h0m-1.8-40.2h0m-0.9 32.5h0m0.5 3.6h0m1.7-5.5h0m1.4-10.8h0m-0.9 24.8h0m-0.9-20.7h0m-2.5 13.8h0m0.6-15.8h0m16-88.1h0m-5.1-24.4h0m3.7 14.9h0m-3.3 4.8h0m3.8-29.3h0m-3.6 26.7h0m2.1-20h0m-1.8 1.9h0m1.6 5.8h0m2.3-0.4h0m-5.2 15.9h0m0.4-10.7h0m0.8 9.5h0m1-1.9h0m2-17.5h0m-0.2 5.9h0m-1.1 13.3h0m1.9-30h0m-1.6 15.2h0m2.2 4.9h0m-3 2.6h0m-2.1-1.4h0m0.1 12.4h0m-1-17.2h0m3 19.2h0m1.9-16.7h0m-3.1 0.7h0m-0.8 13.2h0m4.8-17.8h0m-3.7 1.3h0m-1.9 10.9h0m1.1-7.6h0m-1.3 13.4h0m1.8 6.8h0m10.5-40.7h0m-1.4-4.4h0m1.5-3.5h0m2.4-11.2h0m-0.9 10.8h0m-1.1 14.4h0m3.3-19.9h0m-2.1 9.3h0m-1 10.1h0m-2.2-13.2h0m1.2 8h0m3.4-13.6h0m-1.6 17.7h0m0.2-2h0m2.8 3.3h0m-5.2 0.9h0m-0.6-10.8h0m2.6-17.2h0m-1 20.4h0m4-11.9h0m0.3-2.3h0m-3.7 3.6h0m-1.1 6.4h0m0.5 7.8h0m-1.5-2.4h0m2.8-9.4h0m2.4-9.9h0m-2.5 26.8h0m-0.8-10.3h0m-1.1-0.5h0m0.1 3h0m30 105.9h0m3.2-8.7h0m-1.8-9.1h0m1.1 16.5h0m-1.3-8h0m0.5-2.6h0m3.3 1.1h0m-5 11h0m4.4-7.2h0m-4.1-7.5h0m3.7 15.4h0m-1.4-5.9h0m-0.2 1.2h0m-2.1-27.3h0m-0.5 32.6h0m-0.4-7.6h0m2.2 11.6h0m12.8 149.7h0m1 0.7h0m-1.7-10.5h0m-1 4.4h0m-2.4 8.6h0m5 4.5h0m-2.3-14.9h0m-2.4 15.3h0m3-10.8h0m-2.9 1h0m2.8 4.5h0m-0.6 2h0m3.5-0.8h0m-5.1-21.2h0m1 18.1h0m2 0.5h0m-0.4-14.6h0m13.8-209.5h0m-5 7.4h0m4.1 11.9h0m-4-2.3h0m2.9-10.3h0m-1.6-9.7h0m-0.6 20.3h0m2.6-29.3h0m1.5 38.6h0m-3.6 1.6h0m-2.6-8.9h0m2.8-9.3h0m-0.7-9.3h0m-0.3 26.5h0m0.1-16h0m-0.4 29.2h0m12.5 59.3h0m1.3-66.8h0m-0.9 82h0m-2-69.5h0m4.1 41.6h0m-1.1 23.5h0m1.5-53h0m-1.1 30.2h0m-1.3 27.2h0m0.1-65.6h0m-2.9 27.6h0m-0.2 6h0m1.6-38.4h0m2.3 70.4h0m-4-32.4h0m0.2 4h0m4 9.8h0m-1.1-27.1h0m1.7 22.6h0m-1.5-16.5h0m-1.9 7.5h0m-1.8 22.7h0m2.8-52.5h0m-1.8 34.1h0m4.7-5h0m-2.2-6.1h0m-0.8 5.6h0m3.6 26.5h0m-2.6-13.9h0m-3.2 12.3h0m0.5-25.1h0m0.1 4.5h0m2.6-15h0m2.2 31.2h0m-1.6-15.1h0m1.8 20.1h0m-3.7-30.3h0m-2 4.3h0m-0.1-0.7h0m2 7.4h0m14.6-37.5h0m-4.6-5.2h0m4.8-18.3h0m-0.1 4.8h0m-5.9 28.1h0m1.2-2.7h0m2-0.1h0m1.5 1.5h0m1-30.1h0m-5.9 9.7h0m2.3-10.1h0m-1.6-3.9h0m2.4 11h0m2.1 14.7h0m-2.9-71h0m-2 79.9h0m5.1-9.3h0m-3.9-27.1h0m-0.2 9.4h0m4.8 10.5h0m-4.6-16.1h0m4.6 33.3h0m-0.2 5h0m-1.2-15.2h0m-4.2-31.4h0m5.8-1.6h0m-3.6 4.3h0m-0.7-23.2h0m2.4 47.5h0m-2.3 1.1h0m-0.4-9h0m0.9 12h0m-0.8 4h0m2.5-21.2h0m1.4 27h0m-2.7-73.9h0m2.8 74.1h0m-0.5-53.8h0m-5 36.5h0m5.9-15h0m9.8-53.2h0m-3.1-18.2h0m0.7 15.8h0m-2.5 2.3h0m5.2-8.3h0m-0.3 17.1h0m0.2-21.7h0m-0.7 1.7h0m-3.4 15.7h0m1.2-11.3h0m3.4 3.3h0m-2.2 7.9h0m0.5 11.4h0m-0.4-23h0m-0.8 2.9h0m-0.5-6h0m-0.7 16h0m-1 7.5h0m4.2-5.3h0m0.2-26.2h0m-2.1 2.8h0m2.9-8.7h0m0.2 11.5h0m-2-18.2h0m-1.6 21.1h0m3.4-5.6h0m-3.4 5h0m1.1-6.7h0m-2 14.9h0m-1 3.3h0m4.7-4.5h0m1.3 2h0m-6.4 7.8h0m4.1-16.7h0m-1.7-13.2h0m-0.5 27.9h0m0 8.4h0m2.7-8.8h0m-3.6-10h0m4.2 13.5h0m11-26h0m-5.2 7.2h0m4.4-6h0m2-5.7h0m-4.6 4.4h0m2.9-7.4h0m-2.8-8.7h0m-0.8 17.2h0m4-5.1h0m0.6 18.5h0m-0.6-3.6h0m-2-11.1h0m-0.3 2.1h0m2.1-11.3h0m-4.6 1.3h0m3.2 21.3h0m-1.7-8.4h0m-1.9-3.3h0m1.2 2.4h0m4.5 4.1h0m-1.3-4.2h0m-0.2-14.3h0m1.2 7.6h0m-2.8 2.5h0m-2.4 5.9h0m4.5-12.6h0m-2.6 6.3h0m22 128.4h0m-1.5-40.9h0m3.3 24h0m-2.5 4.5h0m-2.6-8.3h0m4 5.3h0m-1.5-15.4h0m-3.2 20.9h0m0.6-34.3h0m2 35.3h0m-0.5-36h0m2.7 18h0m-4.8 9h0m3.5 12.2h0m-2.4-6h0m0.1-16.1h0m4.4-12.4h0m9.7-96.9h0m0.1-2h0m-2.5 0.9h0m11.8 75.5h0m-0.4-14.7h0m-0.5 17.6h0m-0.2 15.7h0m1.1 0.2h0m-1.1-14.5h0m-0.4-5.7h0m0.1 2.4h0m0.6-31.3h0m3.9 35.1h0m-5.8 10.8h0m3.8-6.5h0m-2.3-57.3h0m0.5 54.1h0m2.8-54.1h0m-0.8 30.7h0m-3 22.9h0m2.7 5.6h0m-2.3-33.3h0m1.7 37.1h0m-1.9 3.9h0m-0.3-49.4h0m0.1 38h0m-0.9-2.1h0m1.2-2.6h0m3.9 9.4h0m-3.5-13h0m0.2 0.5h0m2.2-15h0m-1.4-2.1h0m1.5-4.5h0m-2.1 27.1h0m-0.5 0.5h0m-0.6-54h0m-0.9 39.1h0m1.8-23.2h0m-1.6 31.7h0m-0.3-13.8h0m3.1-3.6h0m-1.9 41.4h0m9.7 18.9h0m5.4 17.9h0m-0.8-21.3h0m-3.9-2.3h0m3.1 17h0m1.4-14.1h0m-2.3 33.7h0m-0.6-40.4h0m3 25.3h0m-1.8 34.3h0m-1.6-67.9h0m3.6 26.8h0m-0.8-12.9h0m0.4 32.2h0m0.6 9h0m-0.9-58.3h0m-4.4 69.4h0m1.8-93.6h0m-2.5 78.3h0m4.3 6.2h0m-4.1-24h0m3.3-5.9h0m-0.3-13.8h0m-0.8 21.2h0m0.9 15.7h0m-0.6 11.8h0m3.4-51.9h0m0.2-56.3h0m-1.8 87.4h0m1.4-9.5h0m-0.7 30.1h0m-1.6-49.6h0m-0.2 50.8h0m1.4-44.8h0m1.1-6.1h0m-2.8 25.8h0m3 21.9h0m-5.1-37h0m4.7 2.5h0m-3.9-11.4h0m10.8-57.6h0m0 9.8h0m1.6-22.2h0m-0.9 30.1h0m-2.1-14.6h0m6.1-6.6h0m0.1 6h0m-4.4-22.9h0m0.6-15.9h0m1.6 11.7h0m-2.8 25.7h0m3.6-13.2h0m-0.2 14.5h0m-3.6 3.7h0m4.3-16.9h0m-4.1-11.2h0m3.4 13.1h0m0.5 1.9h0m-3.9-1.7h0m3.1-20h0m0.9 22.8h0m-3.1 10h0m0.6-14.7h0m-2.2 15.7h0m2.6 1.4h0m0.8-4.2h0m-3.9-8.7h0m5.4 2.8h0m-3.8 12.6h0m1.8-26.1h0m-1.1 24.9h0m1.1-25.7h0m2.9 32.1h0m-4.7-26.3h0m1-38.9h0m-0.6 52.6h0m0.9 1.7h0m-0.5-28.7h0m3.5 24.3h0m-3.9-3.9h0" stroke="#000" stroke-opacity="0.5" stroke-width="2.4" stroke-linecap="round" fill="none"/>
<ellipse cx="98.7" cy="1740.3" rx="3.3" ry="7.4" fill-opacity="0.7"/><ellipse cx="120.8" cy="1711.1" rx="3.3" ry="14" fill-opacity="0.7"/><ellipse cx="131.8" cy="1784.1" rx="3.3" ry="14" fill-opacity="0.7"/><ellipse cx="142.8" cy="1654.4" rx="3.3" ry="8.2" fill-opacity="0.7"/><ellipse cx="153.8" cy="1628.1" rx="3.3" ry="7.8" fill-opacity="0.7"/><ellipse cx="184.4" cy="1740.3" rx="3.3" ry="7.4" fill-opacity="0.7"/><ellipse cx="206.5" cy="1711.1" rx="3.3" ry="14" fill-opacity="0.7"/><ellipse cx="217.5" cy="1784.1" rx="3.3" ry="14" fill-opacity="0.7"/><ellipse cx="228.5" cy="1654.4" rx="3.3" ry="8.2" fill-opacity="0.7"/><ellipse cx="239.5" cy="1628.1" rx="3.3" ry="4.5" fill-opacity="0.7"/><ellipse cx="270.1" cy="1740.3" rx="3.3" ry="7.4" fill-opacity="0.7"/><ellipse cx="292.2" cy="1707.4" rx="3.3" ry="14" fill-opacity="0.7"/><ellipse cx="303.2" cy="1784.1" rx="3.3" ry="14" fill-opacity="0.7"/><ellipse cx="314.2" cy="1659.7" rx="3.3" ry="13.7" fill-opacity="0.7"/><ellipse cx="355.8" cy="1740.3" rx="3.3" ry="7.4" fill-opacity="0.7"/><ellipse cx="377.9" cy="1711.1" rx="3.3" ry="14" fill-opacity="0.7"/><ellipse cx="388.9" cy="1784.1" rx="3.3" ry="14" fill-opacity="0.7"/><ellipse cx="399.9" cy="1661.4" rx="3.3" ry="13.7" fill-opacity="0.7"/><ellipse cx="463.5" cy="1716" rx="3.3" ry="14" fill-opacity="0.7"/><ellipse cx="474.6" cy="1794.3" rx="3.3" ry="14" fill-opacity="0.7"/><ellipse cx="485.6" cy="1662" rx="3.3" ry="9.9" fill-opacity="0.7"/><ellipse cx="496.6" cy="1632.4" rx="3.3" ry="14" fill-opacity="0.7"/><ellipse cx="549.2" cy="1674.5" rx="3.3" ry="14" fill-opacity="0.7"/><ellipse cx="560.2" cy="1748.2" rx="3.3" ry="14" fill-opacity="0.7"/><ellipse cx="571.3" cy="1668.9" rx="3.3" ry="14" fill-opacity="0.7"/><ellipse cx="593.3" cy="1635.4" rx="3.3" ry="9.9" fill-opacity="0.7"/><ellipse cx="634.9" cy="1716" rx="3.3" ry="14" fill-opacity="0.7"/><ellipse cx="645.9" cy="1791" rx="3.3" ry="14" fill-opacity="0.7"/><ellipse cx="657" cy="1680.4" rx="3.3" ry="10.7" fill-opacity="0.7"/><ellipse cx="668" cy="1659.7" rx="3.3" ry="9.9" fill-opacity="0.7"/><ellipse cx="731.6" cy="1793.3" rx="3.3" ry="14" fill-opacity="0.7"/><ellipse cx="742.6" cy="1745" rx="3.3" ry="14" fill-opacity="0.7"/><ellipse cx="753.7" cy="1668.9" rx="3.3" ry="14" fill-opacity="0.7"/><ellipse cx="764.7" cy="1655.4" rx="3.3" ry="8.5" fill-opacity="0.7"/><ellipse cx="806.3" cy="1714.3" rx="3.3" ry="14" fill-opacity="0.7"/><ellipse cx="817.3" cy="1783.5" rx="3.3" ry="14" fill-opacity="0.7"/><ellipse cx="828.3" cy="1696.6" rx="3.3" ry="14" fill-opacity="0.7"/>
<g fill="#000"><ellipse cx="98.7" cy="1740.3" rx="2.4" ry="3"/><ellipse cx="120.8" cy="1711.1" rx="2.4" ry="4"/><ellipse cx="131.8" cy="1784.1" rx="2.4" ry="4"/><ellipse cx="142.8" cy="1654.4" rx="2.4" ry="3.3"/><ellipse cx="153.8" cy="1628.1" rx="2.4" ry="3.1"/><ellipse cx="164.9" cy="1629.3" rx="3.7" ry="3.5"/><ellipse cx="184.4" cy="1740.3" rx="2.4" ry="3"/><ellipse cx="206.5" cy="1711.1" rx="2.4" ry="4"/><ellipse cx="217.5" cy="1784.1" rx="2.4" ry="4"/><ellipse cx="228.5" cy="1654.4" rx="2.4" ry="3.3"/><ellipse cx="239.5" cy="1628.1" rx="2.4" ry="2.2"/><ellipse cx="250.5" cy="1629.3" rx="3.7" ry="3.5"/><ellipse cx="270.1" cy="1740.3" rx="2.4" ry="3"/><ellipse cx="292.2" cy="1707.4" rx="2.4" ry="4"/><ellipse cx="303.2" cy="1784.1" rx="2.4" ry="4"/><ellipse cx="314.2" cy="1659.7" rx="2.4" ry="4"/><ellipse cx="325.2" cy="1629.3" rx="3.7" ry="4.8"/><ellipse cx="336.2" cy="1629.3" rx="3.7" ry="3.5"/><ellipse cx="355.8" cy="1740.3" rx="2.4" ry="3"/><ellipse cx="377.9" cy="1711.1" rx="2.4" ry="4"/><ellipse cx="388.9" cy="1784.1" rx="2.4" ry="4"/><ellipse cx="399.9" cy="1661.4" rx="2.4" ry="4"/><ellipse cx="410.9" cy="1629.3" rx="3.7" ry="4.8"/><ellipse cx="421.9" cy="1629.3" rx="3.7" ry="3.5"/><ellipse cx="452.5" cy="1675.8" rx="3" ry="2"/><ellipse cx="463.5" cy="1716" rx="2.4" ry="4"/><ellipse cx="474.6" cy="1794.3" rx="2.4" ry="4"/><ellipse cx="485.6" cy="1662" rx="2.4" ry="3.9"/><ellipse cx="496.6" cy="1632.4" rx="2.4" ry="4"/><ellipse cx="507.6" cy="1631.7" rx="3.7" ry="4.1"/><ellipse cx="549.2" cy="1674.5" rx="2.4" ry="4"/><ellipse cx="560.2" cy="1748.2" rx="2.4" ry="4"/><ellipse cx="571.3" cy="1668.9" rx="2.4" ry="4"/><ellipse cx="582.3" cy="1633.4" rx="3.7" ry="4.1"/><ellipse cx="593.3" cy="1635.4" rx="2.4" ry="3.9"/><ellipse cx="634.9" cy="1716" rx="2.4" ry="4"/><ellipse cx="645.9" cy="1791" rx="2.4" ry="4"/><ellipse cx="657" cy="1680.4" rx="2.4" ry="4"/><ellipse cx="668" cy="1659.7" rx="2.4" ry="3.9"/><ellipse cx="679" cy="1631.7" rx="3.7" ry="4.1"/><ellipse cx="731.6" cy="1793.3" rx="2.4" ry="4"/><ellipse cx="742.6" cy="1745" rx="2.4" ry="4"/><ellipse cx="753.7" cy="1668.9" rx="2.4" ry="4"/><ellipse cx="764.7" cy="1655.4" rx="2.4" ry="3.4"/><ellipse cx="795.3" cy="1642.3" rx="3" ry="2"/><ellipse cx="806.3" cy="1714.3" rx="2.4" ry="4"/><ellipse cx="817.3" cy="1783.5" rx="2.4" ry="4"/><ellipse cx="828.3" cy="1696.6" rx="2.4" ry="4"/><ellipse cx="839.4" cy="1630.9" rx="3.7" ry="4.8"/><ellipse cx="850.4" cy="1630.9" rx="3.7" ry="4.8"/></g>
<path d="M150.82 1619.37V1611.87H164.11V1619.37M236.51 1619.37V1611.87H249.8V1619.37M322.2 1619.37V1611.87H335.49V1619.37M407.89 1619.37V1611.87H421.18V1619.37M493.58 1619.37V1611.87H506.87V1619.37M579.27 1619.37V1611.87H592.56V1619.37M664.96 1619.37V1611.87H678.25V1619.37M750.65 1619.37V1611.87H763.94V1619.37M836.34 1619.37V1611.87H849.63V1619.37" stroke="#000" stroke-width="1.5" fill="none"/>
<g font-size="11.6" text-anchor="middle" fill="#000"><text x="157.46" y="1608.77">p = 0.359</text><text x="243.15" y="1608.77">p = 0.186</text><text x="328.84" y="1608.77">p = 0.161</text><text x="414.53" y="1608.77">p = 0.904</text><text x="500.22" y="1608.77">p &lt; 0.001</text><text x="585.91" y="1608.77">p = 1.000</text><text x="671.6" y="1608.77">p &lt; 0.001</text><text x="757.29" y="1608.77">p &lt; 0.001</text><text x="842.98" y="1608.77">p = 0.600</text></g>
<path d="M80.5 1586.27V1960.75H868.2" stroke="#000" stroke-width="1.9" fill="none" stroke-linejoin="round"/>
<path d="M75.2 1947.7H80.5M75.2 1865.42H80.5M75.2 1783.13H80.5M75.2 1700.85H80.5M75.2 1618.57H80.5M131.8 1960.75V1966.05M217.49 1960.75V1966.05M303.18 1960.75V1966.05M388.87 1960.75V1966.05M474.56 1960.75V1966.05M560.25 1960.75V1966.05M645.94 1960.75V1966.05M731.63 1960.75V1966.05M817.32 1960.75V1966.05" stroke="#333" stroke-width="1.9" fill="none"/>
<g font-size="23.5" fill="#4D4D4D">
<text x="71.1" y="1956.7" text-anchor="end">0</text>
<text x="71.1" y="1874.42" text-anchor="end">25</text>
<text x="71.1" y="1792.13" text-anchor="end">50</text>
<text x="71.1" y="1709.85" text-anchor="end">75</text>
<text x="71.1" y="1627.57" text-anchor="end">100</text>
<text x="131.8" y="1986.8" text-anchor="middle">1</text>
<text x="217.49" y="1986.8" text-anchor="middle">2</text>
<text x="303.18" y="1986.8" text-anchor="middle">4</text>
<text x="388.87" y="1986.8" text-anchor="middle">8</text>
<text x="474.56" y="1986.8" text-anchor="middle">16</text>
<text x="560.25" y="1986.8" text-anchor="middle">24</text>
<text x="645.94" y="1986.8" text-anchor="middle">48</text>
<text x="731.63" y="1986.8" text-anchor="middle">96</text>
<text x="817.32" y="1986.8" text-anchor="middle">192</text>
</g>
<text x="474.35" y="1565.9" font-size="39" font-weight="bold" text-anchor="middle">Asian</text>
<text x="474.35" y="2016.8" font-size="27.3" font-weight="bold" text-anchor="middle">Prediction Horizon [min. hours before event]</text>
<text transform="translate(21.2 1773.51) rotate(-90)" font-size="27.3" font-weight="bold" text-anchor="middle">Specificity at 95 % Sensitivity [%]</text>
<g stroke="#000" stroke-width="1.9" stroke-dasharray="2.05 6.3" fill="none">
<line x1="1031.5" y1="1947.7" x2="1819.8" y2="1947.7"/>
<line x1="1031.5" y1="1865.42" x2="1819.8" y2="1865.42"/>
<line x1="1031.5" y1="1783.13" x2="1819.8" y2="1783.13"/>
<line x1="1031.5" y1="1700.85" x2="1819.8" y2="1700.85"/>
<line x1="1031.5" y1="1618.57" x2="1819.8" y2="1618.57"/>
<line x1="1082.8" y1="1961.25" x2="1082.8" y2="1617.07"/>
<line x1="1168.5" y1="1961.25" x2="1168.5" y2="1617.07"/>
<line x1="1254.2" y1="1961.25" x2="1254.2" y2="1617.07"/>
<line x1="1339.9" y1="1961.25" x2="1339.9" y2="1617.07"/>
<line x1="1425.6" y1="1961.25" x2="1425.6" y2="1617.07"/>
<line x1="1511.3" y1="1961.25" x2="1511.3" y2="1617.07"/>
<line x1="1597" y1="1961.25" x2="1597" y2="1617.07"/>
<line x1="1682.7" y1="1961.25" x2="1682.7" y2="1617.07"/>
<line x1="1768.4" y1="1961.25" x2="1768.4" y2="1617.07"/>
</g>
<g stroke="#000" stroke-width="1.45"><rect x="1077.29" y="1900.31" width="11.02" height="47.39" fill="#3C5488"/><rect x="1088.31" y="1860.15" width="11.02" height="87.55" fill="#F39B7F"/><rect x="1099.33" y="1674.52" width="11.02" height="273.18" fill="#8491B4"/><rect x="1110.35" y="1661.36" width="11.02" height="286.34" fill="#91D1C2"/><rect x="1162.99" y="1900.31" width="11.02" height="47.39" fill="#3C5488"/><rect x="1174.01" y="1857.19" width="11.02" height="90.51" fill="#F39B7F"/><rect x="1185.03" y="1673.53" width="11.02" height="274.17" fill="#8491B4"/><rect x="1196.05" y="1663" width="11.02" height="284.7" fill="#91D1C2"/><rect x="1248.69" y="1900.31" width="11.02" height="47.39" fill="#3C5488"/><rect x="1259.71" y="1860.15" width="11.02" height="87.55" fill="#F39B7F"/><rect x="1270.73" y="1679.13" width="11.02" height="268.57" fill="#8491B4"/><rect x="1281.75" y="1665.31" width="11.02" height="282.39" fill="#91D1C2"/><rect x="1334.39" y="1900.31" width="11.02" height="47.39" fill="#3C5488"/><rect x="1345.41" y="1853.57" width="11.02" height="94.13" fill="#F39B7F"/><rect x="1356.43" y="1681.1" width="11.02" height="266.6" fill="#8491B4"/><rect x="1367.45" y="1662.67" width="11.02" height="285.03" fill="#91D1C2"/><rect x="1420.09" y="1904.25" width="11.02" height="43.45" fill="#3C5488"/><rect x="1431.11" y="1851.92" width="11.02" height="95.78" fill="#F39B7F"/><rect x="1442.13" y="1700.52" width="11.02" height="247.18" fill="#8491B4"/><rect x="1453.15" y="1678.14" width="11.02" height="269.56" fill="#91D1C2"/><rect x="1505.79" y="1904.91" width="11.02" height="42.79" fill="#3C5488"/><rect x="1516.81" y="1857.85" width="11.02" height="89.85" fill="#F39B7F"/><rect x="1527.83" y="1706.78" width="11.02" height="240.92" fill="#8491B4"/><rect x="1538.85" y="1696.57" width="11.02" height="251.13" fill="#91D1C2"/><rect x="1591.49" y="1906.23" width="11.02" height="41.47" fill="#3C5488"/><rect x="1602.51" y="1856.53" width="11.02" height="91.17" fill="#F39B7F"/><rect x="1613.53" y="1718.95" width="11.02" height="228.75" fill="#8491B4"/><rect x="1624.55" y="1707.44" width="11.02" height="240.26" fill="#91D1C2"/><rect x="1677.19" y="1910.51" width="11.02" height="37.19" fill="#3C5488"/><rect x="1688.21" y="1857.85" width="11.02" height="89.85" fill="#F39B7F"/><rect x="1699.23" y="1738.37" width="11.02" height="209.33" fill="#8491B4"/><rect x="1710.25" y="1724.55" width="11.02" height="223.15" fill="#91D1C2"/><rect x="1762.89" y="1908.86" width="11.02" height="38.84" fill="#3C5488"/><rect x="1773.91" y="1882.86" width="11.02" height="64.84" fill="#F39B7F"/><rect x="1784.93" y="1739.03" width="11.02" height="208.67" fill="#8491B4"/><rect x="1795.95" y="1735.74" width="11.02" height="211.96" fill="#91D1C2"/></g>
<g stroke="#000" stroke-width="2.2"><line x1="1044.23" y1="1947.7" x2="1055.25" y2="1947.7"/><line x1="1055.25" y1="1947.7" x2="1066.27" y2="1947.7"/><line x1="1066.27" y1="1947.7" x2="1077.29" y2="1947.7"/><line x1="1129.93" y1="1947.7" x2="1140.95" y2="1947.7"/><line x1="1140.95" y1="1947.7" x2="1151.97" y2="1947.7"/><line x1="1151.97" y1="1947.7" x2="1162.99" y2="1947.7"/><line x1="1215.63" y1="1947.7" x2="1226.65" y2="1947.7"/><line x1="1226.65" y1="1947.7" x2="1237.67" y2="1947.7"/><line x1="1237.67" y1="1947.7" x2="1248.69" y2="1947.7"/><line x1="1301.34" y1="1947.7" x2="1312.35" y2="1947.7"/><line x1="1312.35" y1="1947.7" x2="1323.37" y2="1947.7"/><line x1="1323.37" y1="1947.7" x2="1334.39" y2="1947.7"/><line x1="1387.03" y1="1947.7" x2="1398.05" y2="1947.7"/><line x1="1398.05" y1="1947.7" x2="1409.07" y2="1947.7"/><line x1="1409.07" y1="1947.7" x2="1420.09" y2="1947.7"/><line x1="1472.73" y1="1947.7" x2="1483.75" y2="1947.7"/><line x1="1483.75" y1="1947.7" x2="1494.77" y2="1947.7"/><line x1="1494.77" y1="1947.7" x2="1505.79" y2="1947.7"/><line x1="1558.43" y1="1947.7" x2="1569.45" y2="1947.7"/><line x1="1569.45" y1="1947.7" x2="1580.47" y2="1947.7"/><line x1="1580.47" y1="1947.7" x2="1591.49" y2="1947.7"/><line x1="1644.13" y1="1947.7" x2="1655.15" y2="1947.7"/><line x1="1655.15" y1="1947.7" x2="1666.17" y2="1947.7"/><line x1="1666.17" y1="1947.7" x2="1677.19" y2="1947.7"/><line x1="1729.84" y1="1947.7" x2="1740.85" y2="1947.7"/><line x1="1740.85" y1="1947.7" x2="1751.87" y2="1947.7"/><line x1="1751.87" y1="1947.7" x2="1762.89" y2="1947.7"/></g>
<path d="M1060.8 1947.7V1911.8M1082.8 1908.5V1878.6M1093.8 1903.9V1816.4M1104.8 1684.4V1661.4M1115.9 1677.8V1651.5M1168.5 1908.5V1878.6M1179.5 1903.9V1816.4M1190.5 1684.4V1661.4M1201.6 1677.8V1651.5M1254.2 1908.5V1878.6M1265.2 1901.6V1818.7M1276.2 1687.7V1666.3M1287.3 1677.8V1653.1M1339.9 1908.5V1878.6M1350.9 1876.3V1816.4M1361.9 1691V1667.9M1373 1674.5V1653.1M1425.6 1911.5V1883.2M1436.6 1878.6V1821M1447.6 1710.7V1677.8M1458.7 1697.6V1664.6M1511.3 1911.5V1883.2M1522.3 1887.8V1821M1533.3 1733.8V1689.3M1544.4 1717.3V1677.8M1597 1921.4V1860.2M1608 1881.9V1824.9M1619 1730.5V1702.5M1630.1 1751.9V1687.7M1682.7 1937.8V1867.1M1693.7 1883.2V1811.8M1704.7 1779.5V1715M1715.8 1765.7V1699.2M1768.4 1921.4V1860.2M1779.4 1915.4V1832.5M1790.4 1772.6V1721.9M1801.5 1761.1V1717.3" stroke="#000" stroke-width="1.6" fill="none"/>
<g fill="#000" fill-opacity="0.38"></g>
<path d="M1058.2 1907.9h0m0.4 6.3h0m-0.5-0.8h0m24.6-27.8h0m0.2 18.4h0m2.1-15.8h0m-4.1 7.3h0m2.5 11.9h0m2.7-14.7h0m6-42.8h0m3-15.1h0m-3 16.4h0m4 11.2h0m-1.8-16.2h0m-2.1 17.1h0m-1.5-23.6h0m1.9 2.2h0m0.2 50.9h0m2.4-48.2h0m1.4 22.8h0m-4 5.5h0m4.4-48.9h0m-1.9 27.8h0m-2.3-2.3h0m-1.2 52.2h0m0.4-53.2h0m1.5 23.6h0m-1.5-1.2h0m-1.2 10.3h0m4.9 2.9h0m0-41h0m-3.1 24.2h0m2.6 12.2h0m-3.5-2.3h0m4.6-27.8h0m0.3-20.5h0m-3.9 45.5h0m4.4-36h0m-2.7 9.4h0m-1.2-4.1h0m0.5 43.5h0m3.2-28.2h0m-0.3-20.6h0m-3.9 47.8h0m2.1-3.8h0m2.2-29.4h0m-5.3 12.2h0m1.5-9.6h0m2.2 3.2h0m11.2-185h0m-3.7-3.1h0m3.3-3.9h0m-2.4-2.1h0m2.3 6.6h0m-2-2.9h0m-1.6 3.2h0m-0.7-1.4h0m5.1-0.8h0m0 6.4h0m1 5.7h0m-3.4-3h0m-0.8-6.3h0m4.4 8.5h0m-1.7-15.2h0m-3.7-1.9h0m3.6 9.7h0m1.6 2.3h0m9.3-15.5h0m0.2 15.9h0m-2.4-9.6h0m-1.8-8h0m5.3-2.8h0m-5.2 22.1h0m2.3-24.1h0m1.6 12.8h0m-2.9-1.2h0m1.8-5.4h0m-2.9 6.9h0m5-3.8h0m-1.8-8.8h0m2.3 16.2h0m-3.7-11.2h0m-1.6-0.9h0m0.8-4.4h0m-0.5 11.5h0m-1.1 2.1h0m4.2-4.7h0m2.2 5.7h0m52.5 210.5h0m-2 10.2h0m-2.8-8.3h0m2.3 12.9h0m0.1 5.1h0m2.2-7.7h0m8-24.9h0m-3.1 14.1h0m0.2-38.3h0m5.5 10.4h0m-1.6 4.1h0m-3.1 17.7h0m3.5 8.9h0m-3.7-19.5h0m5.8-32.6h0m-6 39.1h0m6-7h0m-5 34.1h0m3-18.6h0m-2.6-35.1h0m3.3-5.6h0m-2.6-8.4h0m-1.6 6.2h0m5.2 22.3h0m0.1-40h0m-2.2 32.5h0m0.6 11.4h0m-1.2-8.6h0m-3.1-1.9h0m5.8-20.7h0m0.3 6.2h0m-5.4 49.5h0m4.8-32.5h0m-2.7 10h0m0.4 1.5h0m-2.2 9.3h0m0.5-13.3h0m-0.9-5.4h0m-0.2-8.9h0m2.8-2.7h0m0.7 8.3h0m-4.3-28.4h0m5.2 68.8h0m0.2-41.6h0m-4.7-23.8h0m1.9 37.5h0m10.7-185.4h0m-1.7 1.3h0m5.5-7.1h0m-3 0.7h0m0.4 1.8h0m-0.7-1.9h0m-1 0.4h0m1.7 0.6h0m-3.4-3.3h0m6 9.6h0m0.3-1.9h0m-0.9-11.5h0m-2.2 7.8h0m-0.1-6.2h0m2.3-1.8h0m-4.4-0.7h0m0.2 11.2h0m4.3-0.5h0m5.8-22.7h0m5.4-1.3h0m-1.5 10.1h0m0.1-11.5h0m-1.5 9.4h0m1 5.9h0m-1.6-3.6h0m1.8 5h0m-1.5-13.5h0m1.9 2.4h0m0.1 5.6h0m-2.5-3.1h0m4.1 0.2h0m-2.9 1h0m0.3-0.7h0m-0.8-0.3h0m0.5-6.1h0m0.5 5.5h0m0.3 1.8h0m-4.1 0.1h0m5.7 7h0m47.9 223.2h0m4.4 11.5h0m-1.5-2.6h0m-1.9-3.6h0m2.1-0.5h0m-1.9 0.2h0m11.2-36.4h0m2.6-34.3h0m-0.2 32.3h0m-0.3 21.1h0m-4.5-35.6h0m3.4 16.5h0m3 3.7h0m-5.1 12.6h0m5.2 7.9h0m-3.9 6.2h0m0.7-30.1h0m-2.4 10h0m-0.5-15.7h0m6.1 29.5h0m-0.4 15.4h0m-2.2-42.4h0m-0.6 30.7h0m-2.1-40.7h0m4.9-23.5h0m-1.4 35h0m-2.5 39h0m-0.3-30.7h0m1.8-17.5h0m-1.1 26.4h0m0.2-11.9h0m2.5-30.1h0m-3 13.4h0m2.3 21.6h0m-3.4 22.2h0m4.6-5.6h0m-5.6-36h0m5.1-1.4h0m-4.2 2.7h0m3.5 25.3h0m-1.8-13.3h0m3.1-0.2h0m-0.2-28.9h0m0.4 57.4h0m-1.4-25h0m-3.9 19.1h0m14-201.1h0m-3.2-5.7h0m1.3-6.7h0m4.6 6.9h0m-1.1-8h0m-2.8 8.5h0m1.9-4.5h0m-0.7 0.2h0m0.8 0.3h0m1.7 0.4h0m-0.3 8.5h0m-1.1-8.3h0m0.5 5.3h0m-3.2 2.9h0m2.3-15.2h0m-3.8 6h0m2.4-2.3h0m8.5-5.8h0m4.1-9.2h0m-0.9-2.3h0m1.5 14.7h0m1.2-4.6h0m-1.3-5.2h0m-0.6 1.6h0m-1.8 1.8h0m0.4 4h0m-2.1-11.2h0m2.3 6.8h0m2.8 0.8h0m-1.2 3h0m-0.4-0.9h0m-1.7-3.9h0m1.2-4.8h0m-1.8 7.1h0m-0.8-4h0m1.9-1.3h0m54.1 240.9h0m-0.3-18.2h0m-4.2 17.1h0m2.3-14h0m-1.8-6.7h0m4.9 10.8h0m7-31h0m-1.6-19.5h0m5.4-0.8h0m-5.5 18.3h0m5.5-17.6h0m-3.5 24.2h0m0.7-11.9h0m-0.5-14.8h0m-2.1 15h0m0.9-1.7h0m3.4-4.7h0m-0.7-19.3h0m2.6 15.6h0m-0.4 5.9h0m-1.6-5.6h0m-2.6 19.8h0m2.2 3.1h0m-3.5 2.9h0m3-15.8h0m-1.3-10.8h0m1.6 24.6h0m-1.3-24.8h0m1.7 23.4h0m0.8-27.1h0m-2.5 21.3h0m1.8 0.3h0m0.6 2.1h0m-3 2.4h0m2 1.9h0m-2.3-3h0m4.8-19h0m-2.9-2.5h0m-2.9 15.2h0m5.1-8.2h0m-4 16h0m2.4-9.3h0m-0.8-21.4h0m-0.6 33.8h0m2.9-0.4h0m-5.3-23.1h0m11.6-159.5h0m4.5-11.4h0m-3.7 15.6h0m3.5-16.7h0m-1.3 6.3h0m1.4 7.2h0m0.7-11h0m0 9.7h0m-2.9-6.5h0m1.1 4.5h0m-0.3 1.4h0m2.3-0.4h0m-4 1.8h0m3.9-2.6h0m-4.1 1.2h0m1.9-3.3h0m-0.6-2.2h0m1.2-2.3h0m9.7-12.1h0m-1.8-4h0m4.4 8.3h0m-4.4-3h0m-0.3 2.3h0m-0.1-3.4h0m3.2 5.2h0m0.4-3.7h0m1.7-6.2h0m-0.9 4.1h0m-4.7-3.5h0m5.8 6.2h0m-5.5 0.6h0m0-0.8h0m3.9-2.9h0m1.8-0.5h0m-5.6 3.7h0m53.3 237.4h0m2.3 1.2h0m1.4 6.9h0m1-22.8h0m-5.4 4.7h0m0 10.2h0m14.8-69.3h0m0.4 26h0m-3.9-8.2h0m2.9 6.6h0m-0.8-18.7h0m1.2 12.2h0m-4-12.5h0m2.3 9.7h0m3 8.3h0m-4.4-12.4h0m-0.6-9.1h0m1.9 39.6h0m3.4-3.6h0m-0.3-10.1h0m-4.6-29.2h0m1.4 20.8h0m-1.6 10.2h0m1.7-21.2h0m2.9 16.7h0m-1.7 8.6h0m1.3-26.2h0m-3.7 4.7h0m3.9 3.6h0m-2 2.2h0m-2.8-6.1h0m4.5 12h0m0.5 3.9h0m-1.6-15.9h0m0 1.2h0m-3.7-13.4h0m0.9 37.5h0m4.7-16.5h0m-3.8 10.3h0m0.8-26.1h0m0.2-1h0m-1.4 15.8h0m4.7 8h0m-0.2-16.3h0m-0.3-8.7h0m-1.5-4.3h0m12.7-138h0m-0.9 8.5h0m-0.4 1.5h0m1.5 4.4h0m-2.1-9.1h0m-3.7-0.9h0m6.1-11.2h0m-5.7 22.5h0m3.8-6.9h0m-3.9-3.9h0m0.3-3.1h0m4.7 0.8h0m-1.1-7.7h0m-1.8 17.3h0m-2.3-7.6h0m0-3.6h0m-0.1 7.2h0m3.3-12.3h0m-3.2 17.2h0m2.1-7h0m2-8h0m0.4 9h0m-4.5-5.7h0m0.7 12.3h0m-0.9-9.4h0m2.9 5.3h0m13.1-36h0m-3.9 23.7h0m0.6 2.6h0m-0.2-13.4h0m1.5-6.4h0m1.8 8.9h0m-0.3-9.7h0m-1-4.6h0m0.1 13.9h0m1.7-11.4h0m-2.3 9.9h0m-1.4-5h0m2 16h0m-1.4-9.6h0m3.8-6.2h0m-1.8 3.7h0m-1.4-6h0m0.3 7h0m-0.5-0.5h0m0.7 5.6h0m2.9-4.3h0m-4.2-6.1h0m-1.6 0.3h0m4.8-11.6h0m-5.5 10.5h0m2.5 0.6h0m50.6 207.5h0m3 17.1h0m-1.3 5.3h0m2.3-14.2h0m0.1-2.6h0m-3.7 13h0m10.2-54.8h0m4.6 25.6h0m-0.7 10.8h0m-1-21.4h0m-2.2-7.2h0m3.1 10.7h0m2-35.2h0m0.3 10.3h0m-5.2 37.6h0m2.7-19.3h0m-2.9 22.4h0m3.9-23.7h0m-4.3-26.2h0m2.3 38.6h0m0.6-27.4h0m-0.3 37.1h0m-0.6-9.5h0m0.7-22.5h0m-2 18.1h0m3.1-2.9h0m-0.7 12.1h0m-1.1-8.7h0m1.1-22.7h0m-1.5 14.3h0m0.8 11.2h0m-2.5-2.9h0m3.8 1.3h0m1-25.3h0m-3.5 1.5h0m1.5 9.3h0m1.7-27.5h0m1.4 53.4h0m-5.3 1.9h0m3.9-23.1h0m-3.3 2h0m1.9-23.2h0m0.1 48.4h0m1.6-48.1h0m-1.6 21.8h0m-1.4-20.7h0m9.9-129.4h0m1.2-3.1h0m2.5 7.4h0m-4.1 7.1h0m0.3-18.4h0m2.2 1.2h0m2.7-8.7h0m-2.8 3.5h0m0 20.6h0m0.2-16.9h0m1.9 5.8h0m0.3 2h0m0.8 2h0m-0.2-4.3h0m-5 6.7h0m3.6-24h0m0.6 15.5h0m-4.9 5.8h0m4-3.3h0m0.8-1.5h0m-2.6 10.9h0m2.1 6.1h0m-0.3-20.9h0m0.9-6.4h0m-0.2-2h0m-3.4 23.2h0m5 0.7h0m-2.2-19.4h0m0.6 10h0m-2.6 7.5h0m-1.3-10.6h0m5.5-2.8h0m-5.2 17.1h0m2.3-28.7h0m-3 17.8h0m11.2-22.6h0m3.3 5.9h0m0.1 2.6h0m0.3-9.1h0m-3.1 5.2h0m4.5 16.4h0m-3.3-20.9h0m3.6 2h0m-5.8 16.5h0m4.3 4.4h0m0.9-17.9h0m-3.3 12.8h0m1.3-11.8h0m0.5 12.1h0m-1.8-10.6h0m0.5 0.1h0m3.4 19h0m-5.4 3.2h0m-0.4-18.1h0m0.2 3.5h0m2.8-17h0m0.4 21.8h0m-0.7-6.2h0m2.9 0h0m-5.6-18.6h0m3.1 12.2h0m-3.1 1.4h0m2.4-1.8h0m0.1-2h0m-0.9 6.4h0m0.6 3.7h0m50.9 160.2h0m4.3 9.1h0m-0.6 22.7h0m1.9-5.6h0m-1.5 30.5h0m-0.7-47h0m13.1-22.1h0m-1.5-11h0m-4.4 12.1h0m4 9.9h0m1.6 15.8h0m-4.6-37.1h0m3.5 17.8h0m-2.1-26.4h0m1 27.7h0m-3.8 3.2h0m2.5-8.7h0m-1.1 9.7h0m4.2-7.9h0m-5 2.8h0m5.5 13.1h0m-1.7-33.4h0m0 33.6h0m-4.5-11.3h0m2.1-20.4h0m2.7 15.3h0m-1.9-3.6h0m1.3 16.5h0m0.3-32.8h0m-1.5 15.1h0m-2.5 12.7h0m-0.3-2.9h0m2.1 21.3h0m1.7-47.2h0m-2.4 12.2h0m4.2 21.7h0m-3.3-8.9h0m-0.7-3.4h0m3.8 5.5h0m-3.7 8.8h0m1.7-37.9h0m-3.4 45.9h0m0.7-27h0m1.2 7.2h0m-0.2 5.7h0m4.6-17.5h0m7.9-134.6h0m-2.5 3.2h0m1 7.1h0m0.4-4.5h0m3.5 8.2h0m0-0.2h0m-4.8-1h0m2.3-7.4h0m1.3-6.3h0m-3.4 5.1h0m3.6 13.9h0m-2.8-10h0m0.6-2.9h0m1.6 6.6h0m-1.7-3.3h0m3-8.1h0m-0.1 8.5h0m-4.8 7.6h0m5.4-1.8h0m-5.4-21.8h0m0.9 18.7h0m0.2-1.5h0m10-22.4h0m1.6 37h0m3.3-11.1h0m0.2-30.8h0m-4.1 29.6h0m-1.6 2.1h0m6.5-2.8h0m-1.3-13.6h0m-2.1-20.6h0m2.6-1.3h0m-5.7 34.8h0m2-14.8h0m-1.1 2.7h0m2.3 2h0m3.1 1.4h0m0-24.1h0m-5.7 15.4h0m4.9 30.6h0m-2-36.4h0m0.9 26.7h0m2-8.2h0m-4.9-3.3h0m1.7 3.5h0m-1.4 4.5h0m-0.6 10.6h0m-1-33.5h0m5.1-8.5h0m1.1 16.1h0m-5.7 2.7h0m0.1-16.4h0m3.8 5.4h0m-3.3 14.6h0m5.1 21.1h0m-1.1-13.9h0m-3.7-9.9h0m-0.8-4.2h0m1.4 2.8h0m1.3 1.6h0m0.5 4.6h0m-2.1-5.2h0m56.9 205.1h0m-2.1-17.6h0m-3.7-11.8h0m4.8 9.9h0m0.9 37h0m-6-29.1h0m17.4-60.1h0m0 4h0m-3.2-3h0m-1.3 10.9h0m1.2 7.1h0m-0.5 12.4h0m-0.1-20.3h0m3.2 25.8h0m-4.9-34.3h0m5-10.6h0m-5.6 7.7h0m4.5 31h0m-1.1-39.9h0m0.1 38.2h0m-1.6-8.8h0m3.2-13.7h0m-3.8-2.2h0m4.9 23.9h0m-3.8-29.9h0m1.9 10.7h0m-4.3-20.2h0m1.1 19.4h0m-0.1 0.3h0m-0.3 8.7h0m1 1h0m1.8-32h0m1.7 13.8h0m-5.3 37.3h0m6-27h0m-0.6 14.7h0m-2.9-33.6h0m2.6 40.6h0m0.7-42.1h0m-2.7 38.4h0m0.6-22.5h0m0.3 24.8h0m0.9-15.4h0m0.4-31h0m0.2 16.1h0m-3.1 4.1h0m13.1-111.3h0m-4.5-1.4h0m1 13.9h0m1.9-24.9h0m-0.9 15.3h0m2.2 5.7h0m-2.5 8.9h0m0.5-1h0m-0.5-31h0m1.2 24.4h0m3.2-23.2h0m-2 1.7h0m-3 13.5h0m2.3-12.2h0m-3.6 9.8h0m0.1-13.6h0m4.4 17.5h0m-3.4-4.5h0m-0.3 4h0m-0.6 9.9h0m6.2-22.3h0m-2.2 10.5h0m-1 14.5h0m3.1-16.9h0m-1.4 15.1h0m-0.6 3.4h0m-4.1 0.1h0m1.1-29.2h0m1.1 26.2h0m-0.9-6.8h0m1.1 22.8h0m0-33.6h0m3.7 6.2h0m-3.3 3h0m-2.5 15.8h0m0-19.4h0m5.9 14.9h0m-1.8-30.2h0m-1 6h0m-1.9 30.3h0m14-51.4h0m1 54.5h0m-4.2-58.6h0m0.8 6.8h0m-1.3 25.4h0m0.5-13.4h0m1.1-2h0m2 18.6h0m1.8 18.5h0m-4.4-26.3h0m0.5-28.2h0m4 15.4h0m-4.6 2.3h0m1.3 15.3h0m2 12.6h0m0.2-28.7h0m1.2 11.8h0m-2.6-17.3h0m-3.3 29.9h0m0.9-6.9h0m4.6-7.8h0m-0.5-4.6h0m-2.1-11.6h0m2.4 3.7h0m-3.2 14.5h0m-0.5-24.3h0m0.1 32.3h0m-1.9-31.4h0m5.5 2.8h0m-3.4 14.2h0m0.6-15.3h0m-0.8 8.6h0m1.2 9h0m0 30.6h0m0.9-30.3h0m-1.5 4.5h0m-1.6 6.2h0m3.1-30.6h0m-1.7-7.2h0m0 2.2h0m51.9 170h0m3.2 6.6h0m-4.1 0.8h0m3.9 33.6h0m-2.6-29.9h0m1.2-20.1h0m12.9 5.7h0m1 14.1h0m-3.4-7.7h0m-1-5.4h0m-1.8 20.5h0m0.3-3.2h0m4.6-19.7h0m-1.3 2.5h0m2.6-2.3h0m-0.1-9.6h0m-5.8 3h0m5.1-3.3h0m0.4 37.5h0m-3.1-39.3h0m1.4 29h0m0.1-9.4h0m-2.2 10.1h0m-0.5 4.2h0m-0.3-13.4h0m4.2-2.8h0m-3.6-10.7h0m0.1 40.2h0m-1.4-30.4h0m5.5 15.8h0m-4.3 1h0m3.7-16.4h0m0-1.8h0m-2.8 30.3h0m-0.6-3.5h0m-1.6-35.3h0m3.2 27h0m2.4 5h0m-1.9-25.6h0m-3.2 6.4h0m-0.4-17.5h0m-0.1 24.4h0m5.6 16.5h0m-4.9-13.6h0m3.3 14.5h0m-4.4-18.3h0m13.1-132.9h0m2.7-0.2h0m-2-7.3h0m-2.2-6.3h0m3.8-12.3h0m-3.5 6.4h0m2.7 10.6h0m-0.5-1.7h0m-2.1-5.9h0m0.2 12.5h0m4.5 7.3h0m-0.8 7.8h0m-3.5-15.2h0m1.7-8.1h0m1.5-8.5h0m-4.8 3.2h0m5.2 0.3h0m-1.4-8.5h0m-1 22.6h0m-2.9-1.6h0m1.6-16.6h0m2.5 22.3h0m-3.1-13h0m0.5 23.5h0m4.9-22.4h0m0 0.6h0m0.1 13h0m-5.3 10.2h0m4.2-23h0m-0.3-12.4h0m-2.9 17.4h0m3.2 14.8h0m-0.9-36h0m-2.9 24.4h0m2.3 7.8h0m-0.2-27.9h0m-0.5 10.2h0m2.3-0.2h0m1-5.4h0m-4.6 7.4h0m14.4-14.8h0m-1.5 12.9h0m-2.9 0.8h0m5.1 0.6h0m0.3-17.3h0m-2 8.9h0m1 20.5h0m-3.3-7.4h0m2.2-14.9h0m-2.7 0.9h0m0.8 13.5h0m2-17.1h0m1-2.8h0m-3.7 17.7h0m-0.8-22.1h0m-0.6 30.4h0m-0.1-6.3h0m1-11.2h0m3.2-1.5h0m-1 17h0m3-23.3h0m-1.8 6.3h0m2.1 10.3h0m-6.3-7.4h0m4.6 11.1h0m-2.3-13.2h0m-2.4-5.5h0m3.7 6.5h0m2.5-11.1h0m-2.6 21.4h0m-3.6 6.8h0m1.9-8.5h0m3.9 8.5h0m-1.3-16.2h0m-0.6 19.4h0" stroke="#000" stroke-opacity="0.5" stroke-width="2.4" stroke-linecap="round" fill="none"/>
<ellipse cx="1093.8" cy="1860.2" rx="3.3" ry="14" fill-opacity="0.7"/><ellipse cx="1104.8" cy="1674.5" rx="3.3" ry="5.8" fill-opacity="0.7"/><ellipse cx="1115.9" cy="1661.4" rx="3.3" ry="6.6" fill-opacity="0.7"/><ellipse cx="1179.5" cy="1857.2" rx="3.3" ry="14" fill-opacity="0.7"/><ellipse cx="1190.5" cy="1673.5" rx="3.3" ry="5.8" fill-opacity="0.7"/><ellipse cx="1201.6" cy="1663" rx="3.3" ry="6.6" fill-opacity="0.7"/><ellipse cx="1265.2" cy="1860.2" rx="3.3" ry="14" fill-opacity="0.7"/><ellipse cx="1276.2" cy="1679.1" rx="3.3" ry="5.3" fill-opacity="0.7"/><ellipse cx="1287.3" cy="1665.3" rx="3.3" ry="6.2" fill-opacity="0.7"/><ellipse cx="1350.9" cy="1853.6" rx="3.3" ry="14" fill-opacity="0.7"/><ellipse cx="1361.9" cy="1681.1" rx="3.3" ry="5.8" fill-opacity="0.7"/><ellipse cx="1373" cy="1662.7" rx="3.3" ry="5.3" fill-opacity="0.7"/><ellipse cx="1436.6" cy="1851.9" rx="3.3" ry="14" fill-opacity="0.7"/><ellipse cx="1447.6" cy="1700.5" rx="3.3" ry="8.2" fill-opacity="0.7"/><ellipse cx="1458.7" cy="1678.1" rx="3.3" ry="8.2" fill-opacity="0.7"/><ellipse cx="1522.3" cy="1857.8" rx="3.3" ry="14" fill-opacity="0.7"/><ellipse cx="1533.3" cy="1706.8" rx="3.3" ry="11.1" fill-opacity="0.7"/><ellipse cx="1544.4" cy="1696.6" rx="3.3" ry="9.9" fill-opacity="0.7"/><ellipse cx="1608" cy="1856.5" rx="3.3" ry="14" fill-opacity="0.7"/><ellipse cx="1619" cy="1719" rx="3.3" ry="7" fill-opacity="0.7"/><ellipse cx="1630.1" cy="1707.4" rx="3.3" ry="14" fill-opacity="0.7"/><ellipse cx="1693.7" cy="1857.8" rx="3.3" ry="14" fill-opacity="0.7"/><ellipse cx="1704.7" cy="1738.4" rx="3.3" ry="14" fill-opacity="0.7"/><ellipse cx="1715.8" cy="1724.5" rx="3.3" ry="14" fill-opacity="0.7"/><ellipse cx="1779.4" cy="1882.9" rx="3.3" ry="14" fill-opacity="0.7"/><ellipse cx="1790.4" cy="1739" rx="3.3" ry="12.7" fill-opacity="0.7"/><ellipse cx="1801.5" cy="1735.7" rx="3.3" ry="10.9" fill-opacity="0.7"/>
<g fill="#000"><ellipse cx="1060.8" cy="1911.8" rx="3" ry="2"/><ellipse cx="1082.8" cy="1908.5" rx="3.3" ry="2.2"/><ellipse cx="1082.8" cy="1900.3" rx="3.3" ry="2.2"/><ellipse cx="1082.8" cy="1894.4" rx="3.3" ry="2.2"/><ellipse cx="1082.8" cy="1878.6" rx="3.3" ry="2.2"/><ellipse cx="1093.8" cy="1860.2" rx="2.4" ry="4"/><ellipse cx="1104.8" cy="1674.5" rx="2.4" ry="2.3"/><ellipse cx="1115.9" cy="1661.4" rx="2.4" ry="2.6"/><ellipse cx="1168.5" cy="1908.5" rx="3.3" ry="2.2"/><ellipse cx="1168.5" cy="1900.3" rx="3.3" ry="2.2"/><ellipse cx="1168.5" cy="1894.4" rx="3.3" ry="2.2"/><ellipse cx="1168.5" cy="1878.6" rx="3.3" ry="2.2"/><ellipse cx="1179.5" cy="1857.2" rx="2.4" ry="4"/><ellipse cx="1190.5" cy="1673.5" rx="2.4" ry="2.3"/><ellipse cx="1201.6" cy="1663" rx="2.4" ry="2.6"/><ellipse cx="1254.2" cy="1908.5" rx="3.3" ry="2.2"/><ellipse cx="1254.2" cy="1900.3" rx="3.3" ry="2.2"/><ellipse cx="1254.2" cy="1894.4" rx="3.3" ry="2.2"/><ellipse cx="1254.2" cy="1878.6" rx="3.3" ry="2.2"/><ellipse cx="1265.2" cy="1860.2" rx="2.4" ry="4"/><ellipse cx="1276.2" cy="1679.1" rx="2.4" ry="2.2"/><ellipse cx="1287.3" cy="1665.3" rx="2.4" ry="2.5"/><ellipse cx="1339.9" cy="1908.5" rx="3.3" ry="2.2"/><ellipse cx="1339.9" cy="1900.3" rx="3.3" ry="2.2"/><ellipse cx="1339.9" cy="1894.4" rx="3.3" ry="2.2"/><ellipse cx="1339.9" cy="1878.6" rx="3.3" ry="2.2"/><ellipse cx="1350.9" cy="1853.6" rx="2.4" ry="4"/><ellipse cx="1361.9" cy="1681.1" rx="2.4" ry="2.3"/><ellipse cx="1373" cy="1662.7" rx="2.4" ry="2.2"/><ellipse cx="1425.6" cy="1911.5" rx="3.3" ry="2.2"/><ellipse cx="1425.6" cy="1904.3" rx="3.3" ry="2.2"/><ellipse cx="1425.6" cy="1898.7" rx="3.3" ry="2.2"/><ellipse cx="1425.6" cy="1883.2" rx="3.3" ry="2.2"/><ellipse cx="1436.6" cy="1851.9" rx="2.4" ry="4"/><ellipse cx="1447.6" cy="1700.5" rx="2.4" ry="3.3"/><ellipse cx="1458.7" cy="1678.1" rx="2.4" ry="3.3"/><ellipse cx="1511.3" cy="1911.5" rx="3.3" ry="2.2"/><ellipse cx="1511.3" cy="1904.9" rx="3.3" ry="2.2"/><ellipse cx="1511.3" cy="1899" rx="3.3" ry="2.2"/><ellipse cx="1511.3" cy="1883.2" rx="3.3" ry="2.2"/><ellipse cx="1522.3" cy="1857.8" rx="2.4" ry="4"/><ellipse cx="1533.3" cy="1706.8" rx="2.4" ry="4"/><ellipse cx="1544.4" cy="1696.6" rx="2.4" ry="3.9"/><ellipse cx="1597" cy="1921.4" rx="3.3" ry="2.2"/><ellipse cx="1597" cy="1906.2" rx="3.3" ry="2.2"/><ellipse cx="1597" cy="1888.1" rx="3.3" ry="2.2"/><ellipse cx="1597" cy="1860.2" rx="3.3" ry="2.2"/><ellipse cx="1608" cy="1856.5" rx="2.4" ry="4"/><ellipse cx="1619" cy="1719" rx="2.4" ry="2.8"/><ellipse cx="1630.1" cy="1707.4" rx="2.4" ry="4"/><ellipse cx="1682.7" cy="1937.8" rx="3.3" ry="2.2"/><ellipse cx="1682.7" cy="1910.5" rx="3.3" ry="2.2"/><ellipse cx="1682.7" cy="1893.7" rx="3.3" ry="2.2"/><ellipse cx="1682.7" cy="1867.1" rx="3.3" ry="2.2"/><ellipse cx="1693.7" cy="1857.8" rx="2.4" ry="4"/><ellipse cx="1704.7" cy="1738.4" rx="2.4" ry="4"/><ellipse cx="1715.8" cy="1724.5" rx="2.4" ry="4"/><ellipse cx="1768.4" cy="1921.4" rx="3.3" ry="2.2"/><ellipse cx="1768.4" cy="1908.9" rx="3.3" ry="2.2"/><ellipse cx="1768.4" cy="1889.4" rx="3.3" ry="2.2"/><ellipse cx="1768.4" cy="1860.2" rx="3.3" ry="2.2"/><ellipse cx="1779.4" cy="1882.9" rx="2.4" ry="4"/><ellipse cx="1790.4" cy="1739" rx="2.4" ry="4"/><ellipse cx="1801.5" cy="1735.7" rx="2.4" ry="4"/></g>
<path d="M1101.83 1619.37V1611.87H1115.11V1619.37M1187.53 1619.37V1611.87H1200.81V1619.37M1273.23 1619.37V1611.87H1286.51V1619.37M1358.93 1619.37V1611.87H1372.21V1619.37M1444.63 1619.37V1611.87H1457.91V1619.37M1530.33 1619.37V1611.87H1543.61V1619.37M1616.03 1619.37V1611.87H1629.31V1619.37M1701.73 1619.37V1611.87H1715.01V1619.37M1787.43 1619.37V1611.87H1800.71V1619.37" stroke="#000" stroke-width="1.5" fill="none"/>
<g font-size="11.6" text-anchor="middle" fill="#000"><text x="1108.47" y="1608.77">p &lt; 0.001</text><text x="1194.17" y="1608.77">p &lt; 0.001</text><text x="1279.87" y="1608.77">p &lt; 0.001</text><text x="1365.57" y="1608.77">p &lt; 0.001</text><text x="1451.27" y="1608.77">p &lt; 0.001</text><text x="1536.97" y="1608.77">p &lt; 0.001</text><text x="1622.67" y="1608.77">p &lt; 0.001</text><text x="1708.37" y="1608.77">p &lt; 0.001</text><text x="1794.07" y="1608.77">p &lt; 0.001</text></g>
<path d="M1031.5 1586.27V1960.75H1819.8" stroke="#000" stroke-width="1.9" fill="none" stroke-linejoin="round"/>
<path d="M1026.2 1947.7H1031.5M1026.2 1865.42H1031.5M1026.2 1783.13H1031.5M1026.2 1700.85H1031.5M1026.2 1618.57H1031.5M1082.8 1960.75V1966.05M1168.5 1960.75V1966.05M1254.2 1960.75V1966.05M1339.9 1960.75V1966.05M1425.6 1960.75V1966.05M1511.3 1960.75V1966.05M1597 1960.75V1966.05M1682.7 1960.75V1966.05M1768.4 1960.75V1966.05" stroke="#333" stroke-width="1.9" fill="none"/>
<g font-size="23.5" fill="#4D4D4D">
<text x="1022.1" y="1956.7" text-anchor="end">0</text>
<text x="1022.1" y="1874.42" text-anchor="end">25</text>
<text x="1022.1" y="1792.13" text-anchor="end">50</text>
<text x="1022.1" y="1709.85" text-anchor="end">75</text>
<text x="1022.1" y="1627.57" text-anchor="end">100</text>
<text x="1082.8" y="1986.8" text-anchor="middle">1</text>
<text x="1168.5" y="1986.8" text-anchor="middle">2</text>
<text x="1254.2" y="1986.8" text-anchor="middle">4</text>
<text x="1339.9" y="1986.8" text-anchor="middle">8</text>
<text x="1425.6" y="1986.8" text-anchor="middle">16</text>
<text x="1511.3" y="1986.8" text-anchor="middle">24</text>
<text x="1597" y="1986.8" text-anchor="middle">48</text>
<text x="1682.7" y="1986.8" text-anchor="middle">96</text>
<text x="1768.4" y="1986.8" text-anchor="middle">192</text>
</g>
<text x="1425.65" y="1565.9" font-size="39" font-weight="bold" text-anchor="middle">Caucasian</text>
<text x="1425.65" y="2016.8" font-size="27.3" font-weight="bold" text-anchor="middle">Prediction Horizon [min. hours before event]</text>
<text transform="translate(970.8 1773.51) rotate(-90)" font-size="27.3" font-weight="bold" text-anchor="middle">Specificity at 95 % Sensitivity [%]</text>
<g stroke="#000" stroke-width="1.9" stroke-dasharray="2.05 6.3" fill="none">
<line x1="80.5" y1="2460.6" x2="868.2" y2="2460.6"/>
<line x1="80.5" y1="2378.32" x2="868.2" y2="2378.32"/>
<line x1="80.5" y1="2296.03" x2="868.2" y2="2296.03"/>
<line x1="80.5" y1="2213.75" x2="868.2" y2="2213.75"/>
<line x1="80.5" y1="2131.47" x2="868.2" y2="2131.47"/>
<line x1="131.8" y1="2474.15" x2="131.8" y2="2129.97"/>
<line x1="217.49" y1="2474.15" x2="217.49" y2="2129.97"/>
<line x1="303.18" y1="2474.15" x2="303.18" y2="2129.97"/>
<line x1="388.87" y1="2474.15" x2="388.87" y2="2129.97"/>
<line x1="474.56" y1="2474.15" x2="474.56" y2="2129.97"/>
<line x1="560.25" y1="2474.15" x2="560.25" y2="2129.97"/>
<line x1="645.94" y1="2474.15" x2="645.94" y2="2129.97"/>
<line x1="731.63" y1="2474.15" x2="731.63" y2="2129.97"/>
<line x1="817.32" y1="2474.15" x2="817.32" y2="2129.97"/>
</g>
<g stroke="#000" stroke-width="1.45"><rect x="126.29" y="2282.54" width="11.02" height="178.06" fill="#3C5488"/><rect x="137.31" y="2285.5" width="11.02" height="175.1" fill="#F39B7F"/><rect x="148.33" y="2166.69" width="11.02" height="293.91" fill="#8491B4"/><rect x="159.34" y="2161.75" width="11.02" height="298.85" fill="#91D1C2"/><rect x="211.98" y="2282.54" width="11.02" height="178.06" fill="#3C5488"/><rect x="223" y="2288.79" width="11.02" height="171.81" fill="#F39B7F"/><rect x="234.02" y="2166.69" width="11.02" height="293.91" fill="#8491B4"/><rect x="245.03" y="2162.74" width="11.02" height="297.86" fill="#91D1C2"/><rect x="297.67" y="2282.54" width="11.02" height="178.06" fill="#3C5488"/><rect x="308.69" y="2286.49" width="11.02" height="174.11" fill="#F39B7F"/><rect x="319.71" y="2162.74" width="11.02" height="297.86" fill="#8491B4"/><rect x="330.72" y="2162.08" width="11.02" height="298.52" fill="#91D1C2"/><rect x="383.36" y="2265.43" width="11.02" height="195.17" fill="#3C5488"/><rect x="394.38" y="2261.15" width="11.02" height="199.45" fill="#F39B7F"/><rect x="405.4" y="2180.51" width="11.02" height="280.09" fill="#8491B4"/><rect x="416.41" y="2163.4" width="11.02" height="297.2" fill="#91D1C2"/><rect x="469.05" y="2296.36" width="11.02" height="164.24" fill="#3C5488"/><rect x="480.07" y="2288.47" width="11.02" height="172.13" fill="#F39B7F"/><rect x="491.09" y="2233.5" width="11.02" height="227.1" fill="#8491B4"/><rect x="502.1" y="2192.69" width="11.02" height="267.91" fill="#91D1C2"/><rect x="554.74" y="2272.34" width="11.02" height="188.26" fill="#3C5488"/><rect x="565.76" y="2292.41" width="11.02" height="168.19" fill="#F39B7F"/><rect x="576.78" y="2188.74" width="11.02" height="271.86" fill="#8491B4"/><rect x="587.79" y="2186.76" width="11.02" height="273.84" fill="#91D1C2"/><rect x="640.43" y="2277.27" width="11.02" height="183.33" fill="#3C5488"/><rect x="651.45" y="2308.54" width="11.02" height="152.06" fill="#F39B7F"/><rect x="662.47" y="2246.34" width="11.02" height="214.26" fill="#8491B4"/><rect x="673.48" y="2201.9" width="11.02" height="258.7" fill="#91D1C2"/><rect x="726.12" y="2281.55" width="11.02" height="179.05" fill="#3C5488"/><rect x="737.14" y="2317.76" width="11.02" height="142.84" fill="#F39B7F"/><rect x="748.16" y="2260.16" width="11.02" height="200.44" fill="#8491B4"/><rect x="759.17" y="2225.93" width="11.02" height="234.67" fill="#91D1C2"/><rect x="811.81" y="2284.84" width="11.02" height="175.76" fill="#3C5488"/><rect x="822.83" y="2302.62" width="11.02" height="157.98" fill="#F39B7F"/><rect x="833.85" y="2243.37" width="11.02" height="217.23" fill="#8491B4"/><rect x="844.86" y="2227.25" width="11.02" height="233.35" fill="#91D1C2"/></g>
<g stroke="#000" stroke-width="2.2"><line x1="93.24" y1="2460.6" x2="104.26" y2="2460.6"/><line x1="104.26" y1="2460.6" x2="115.27" y2="2460.6"/><line x1="115.27" y1="2460.6" x2="126.29" y2="2460.6"/><line x1="178.93" y1="2460.6" x2="189.95" y2="2460.6"/><line x1="189.95" y1="2460.6" x2="200.96" y2="2460.6"/><line x1="200.96" y1="2460.6" x2="211.98" y2="2460.6"/><line x1="264.62" y1="2460.6" x2="275.64" y2="2460.6"/><line x1="275.64" y1="2460.6" x2="286.65" y2="2460.6"/><line x1="286.65" y1="2460.6" x2="297.67" y2="2460.6"/><line x1="350.31" y1="2460.6" x2="361.33" y2="2460.6"/><line x1="361.33" y1="2460.6" x2="372.34" y2="2460.6"/><line x1="372.34" y1="2460.6" x2="383.36" y2="2460.6"/><line x1="436" y1="2460.6" x2="447.02" y2="2460.6"/><line x1="447.02" y1="2460.6" x2="458.03" y2="2460.6"/><line x1="458.03" y1="2460.6" x2="469.05" y2="2460.6"/><line x1="521.69" y1="2460.6" x2="532.71" y2="2460.6"/><line x1="532.71" y1="2460.6" x2="543.72" y2="2460.6"/><line x1="543.72" y1="2460.6" x2="554.74" y2="2460.6"/><line x1="607.38" y1="2460.6" x2="618.4" y2="2460.6"/><line x1="618.4" y1="2460.6" x2="629.41" y2="2460.6"/><line x1="629.41" y1="2460.6" x2="640.43" y2="2460.6"/><line x1="693.07" y1="2460.6" x2="704.09" y2="2460.6"/><line x1="704.09" y1="2460.6" x2="715.1" y2="2460.6"/><line x1="715.1" y1="2460.6" x2="726.12" y2="2460.6"/><line x1="778.76" y1="2460.6" x2="789.78" y2="2460.6"/><line x1="789.78" y1="2460.6" x2="800.79" y2="2460.6"/><line x1="800.79" y1="2460.6" x2="811.81" y2="2460.6"/></g>
<path d="M109.8 2460.6V2424.7M120.8 2460.6V2227.2M131.8 2310.8V2218.7M142.8 2413.2V2227.9M153.8 2188.7V2147.3M164.9 2174.3V2144.6M195.5 2460.6V2424.7M206.5 2460.6V2227.2M217.5 2310.8V2218.7M228.5 2413.2V2207.2M239.5 2188.7V2147.3M250.5 2174.3V2144.6M292.2 2460.6V2227.2M303.2 2310.8V2218.7M314.2 2413.2V2180.5M325.2 2188.7V2149.6M336.2 2171V2147.9M366.8 2460.6V2424.7M377.9 2460.6V2227.2M388.9 2310.8V2209.5M399.9 2350V2174.9M410.9 2207.2V2152.9M421.9 2171V2147.9M452.5 2460.6V2420.1M463.5 2460.6V2245M474.6 2343.1V2237.1M485.6 2368.4V2198M496.6 2290.1V2165.7M507.6 2239.4V2156.5M538.2 2460.6V2422.4M549.2 2460.6V2246.3M560.2 2310.8V2237.1M571.3 2364.8V2204.9M582.3 2330.3V2174.3M593.3 2267.1V2156.5M623.9 2460.6V2419.1M634.9 2460.6V2249.6M645.9 2315.5V2245M657 2359.2V2241.7M668 2301.6V2188.7M679 2255.6V2188.7M709.6 2460.6V2417.8M731.6 2322.4V2255.6M742.6 2377.7V2216.4M753.7 2303.9V2200.3M764.7 2269.4V2204.9M795.3 2460.6V2419.1M817.3 2331.6V2262.5M828.3 2382.3V2239.4M839.4 2460.6V2204.9M850.4 2460.6V2192.4" stroke="#000" stroke-width="1.6" fill="none"/>
<g fill="#000" fill-opacity="0.38"></g>
<path d="M106.9 2416.6h0m2.2 10.9h0m1.4-2.4h0m13.2-200.7h0m-2.4 7.3h0m2-7.8h0m8.8 71.2h0m2.5-3h0m-5.3-59h0m3.4 64.4h0m-3.4-10.3h0m-0.5 7.7h0m0.6-63.7h0m0.9 73h0m3.4 4.2h0m-1.7-68h0m9.2-9.1h0m1.4 119.4h0m-3.1 31.8h0m4.9-91.8h0m-4 45.2h0m-0.1 2.4h0m-0.4-40.9h0m0 64.9h0m5.7-42.2h0m-5.3-33.5h0m10.6-111.2h0m3.3-17h0m-3 0.7h0m1.4 13.8h0m0.8 15.5h0m0.4-21.5h0m-0.3-8.1h0m-1.8 10.4h0m0.4 2.7h0m2.7-1h0m7.9-2.6h0m-0.9-10.6h0m3 1.4h0m-2-8.2h0m-0.7 1.2h0m2.2 6.8h0m0.4 4.3h0m1.5 1.1h0m-4.6-9.9h0m1.9 7.3h0m33 260.2h0m1.6 0h0m0.2 7.8h0m9.6-201.8h0m1.1-0.5h0m-5-3.1h0m11.5 59.1h0m0.8-47.7h0m3.6 37.6h0m-5.5-17.1h0m0.4-2.4h0m1 11h0m2.1-25.7h0m1.3 30h0m-2.3-41.7h0m-1.7 19.2h0m13.4 161.4h0m-3.2-174.6h0m2.7 19.8h0m1.3 142.4h0m-1.7-183.9h0m1 174.4h0m2.9 14.6h0m-3.2-117.5h0m-0.7 114.7h0m-1.6 15.3h0m16.4-226h0m-4.7-14.2h0m1.6-13.3h0m-2.5 20.5h0m4.7-27.8h0m-0.9-3.9h0m1.6 22.3h0m-3.1 15h0m0.6-33h0m1.6 2.9h0m7.1 17.5h0m1.5-15.6h0m3.2-0.2h0m-5.5 7h0m6-16.8h0m-0.5-1.9h0m-5.3 12.4h0m5.6-11.3h0m-5.1 16.8h0m1.5 9.1h0m40.5 56.4h0m3.8-0.1h0m-2.6-4.2h0m11.6 6.4h0m-1.2 51.5h0m3.6-54.9h0m0.4-2.7h0m-5.9 63.1h0m3.7-40.5h0m-2.3 32.3h0m3.5-36.2h0m-3 53.5h0m-0.3-16.3h0m12.3 23.6h0m1.7-104.6h0m-3.7 75.1h0m2.2-18.7h0m-3.3-2.5h0m2.1 70h0m1.2-5.3h0m0.2-88.9h0m-0.3 135.6h0m-2.9-85h0m12.5-104h0m4.1-12.3h0m-0.7 10.4h0m-3.5 13.7h0m4.2-20.5h0m0-7.5h0m-4.1-9.1h0m-0.7 1h0m0.3 14.1h0m0.7 18.3h0m15.5-32.3h0m-6.2 16.2h0m5-16.3h0m0 11.7h0m-3.2-8.7h0m3 0.1h0m-1.6 4.1h0m-3.1 7.1h0m4.8 3.2h0m0.1-21.4h0m25.9 274.2h0m5.4 5.2h0m-1.3 1.5h0m7.8-200.6h0m2.5-5h0m-1.8 5.5h0m11-9.8h0m-1.5 72.1h0m-0.3-28.6h0m0.5 3.3h0m-0.1-3.3h0m5.5 23.6h0m-3 19.9h0m1.7-78.5h0m-3 68.8h0m2.8-42.8h0m9.3 78.8h0m1.9-119.4h0m-2.9 81.8h0m1.5-39.9h0m2.4 81.6h0m-1.1-127.1h0m-1.3 125.7h0m2.5-9.5h0m-5.5-7.3h0m2.6-58.3h0m9.1-95.8h0m3.3 12.2h0m-4 26.3h0m3.4-22.9h0m-1.8 16.8h0m2.1-40.6h0m-0.2 41.8h0m-3.9-5.1h0m5.1 14h0m-3.7-51.8h0m14.2 10.5h0m-3.9-3.4h0m5 8.2h0m-2.9-20.9h0m1.4 4.6h0m-2.4-5.8h0m2 11.8h0m2.1-10.6h0m-2.6 3.7h0m3 10.2h0m26 257.4h0m1.2 8h0m2.8-5.2h0m8.4-179.3h0m2.7 1.3h0m-0.5 3.5h0m11.6-1.3h0m-1.2 94.4h0m1.4-29.7h0m-3.8 23.8h0m1.6 3.1h0m-3.5-1.1h0m0.5-56.5h0m4.8 60.6h0m-2.5-87.9h0m0.5-1.3h0m7.7 50.8h0m1.3-92.3h0m2.5-6.4h0m-1 104h0m2.5-77.1h0m-3.9 113.2h0m1.5 7.3h0m-1.6-31.1h0m4.6-65.1h0m-3 77.3h0m11.3-151.9h0m-2.3 106.6h0m3.8-121.6h0m-3.1 58.6h0m-1.9 25.5h0m5.4 10.7h0m0-16.8h0m-1.1-73.7h0m-1.6 82.9h0m-1.4 21.3h0m15.2-74.4h0m0-28.3h0m0.6 28.1h0m-0.7 34h0m-5.4-50.8h0m2-14.5h0m-1.8 19.7h0m4-3.4h0m-2.2 24.5h0m3.8-36.6h0m28.1 246.2h0m-1.4 2.7h0m3.5 2h0m10.7-181.8h0m1.2 8.8h0m-5.5-9.4h0m11.7 11.7h0m4.6 25.8h0m-3.4-17.3h0m3.1-22.4h0m-2.5 1.4h0m-1.4 60.6h0m-0.2-4.3h0m2.6 2.1h0m-4.3-46.1h0m5.2-2.7h0m7.1 28.5h0m1.9-23.2h0m3.2 1.8h0m-4.4-38.2h0m-0.8 23.2h0m-1 66.6h0m1.1-70.6h0m2.5-7h0m0.6 1.4h0m0.3 102.4h0m9.7-55.1h0m1.1-10.5h0m0.4 54.5h0m-3.5-97.8h0m-0.6 91.1h0m2.1-11.7h0m-2.9-0.1h0m0.2-34.1h0m5.1 54.3h0m-3.7-89.4h0m11.7-36.4h0m-1.7 56.9h0m2.4-90.6h0m2.8 56.4h0m-3.7-9.8h0m1.1 9.3h0m1.4-23.6h0m0.3 63.5h0m1.1-74.2h0m-5.3 39.8h0m35.4 188.2h0m0.5 3.1h0m-2.7 0h0m11.4-167.2h0m2.7-2h0m-2.6-5h0m7.5 24.7h0m0.6 22.9h0m3.4-39.3h0m-4.1-0.9h0m5.4 31.9h0m-3.4 21h0m3.5-33.6h0m-4.3 28.1h0m2.3 12.5h0m-3.5-42.5h0m11.2 44.9h0m0.1-60.5h0m4.3 52.8h0m-4.7 2.9h0m2.6 25.2h0m2.7-5.7h0m0.8 4h0m-4.7-54.8h0m2.3 30.9h0m2.1 30.3h0m5.1-56.7h0m2.5-12.3h0m-1-24.7h0m3.9 38.4h0m-2 4.5h0m-1.1-78.7h0m-0.5 16.4h0m-1.3 1.3h0m5.7-35.2h0m-1.8 0.2h0m6.9 21.2h0m1.2-11.1h0m4.2 22.2h0m-4.9-19.9h0m1.7 5.1h0m-1-21.3h0m1.6 24.9h0m1.1 7.6h0m1 5.6h0m-3.5-13.7h0m32.5 202.7h0m-2.5-3.4h0m1.6 11.3h0m23.4-136.4h0m0.7 32.7h0m-0.6-35h0m0 20.6h0m1.7-50.8h0m-5.7 42h0m4.8 0.6h0m-0.9-3.4h0m-1.2-18h0m2.1 31h0m10.8-56.1h0m0.4 39.9h0m-2 52.4h0m-1.3-56.2h0m4.3-59.4h0m-6 58.7h0m4.7 39h0m-0.1-33.2h0m0.5-5.4h0m1-48.3h0m6.8 45.5h0m1.3-21.5h0m-1.4 15.5h0m-1.6-69.6h0m1 74.1h0m2.9-30.7h0m2 1.1h0m-5.5 0.3h0m3.2 37.7h0m1.1 2.8h0m8.7-56.7h0m-0.1-21.2h0m-2.5 45.2h0m2.4-19.9h0m2.3 1.3h0m-1.3 3.9h0m-3.5 15.4h0m4.5-20h0m1.7 6.1h0m-5.5 16h0m31.5 151.5h0m-0.5 2.7h0m5.3-1.2h0m19.6-129.7h0m1.1-17.2h0m-1 27h0m-2.5 14.8h0m2.3 8.3h0m-2.4-9.7h0m4.4-29.6h0m0.6 41.4h0m-3.7-15.7h0m3.2-22.4h0m5.1 38.6h0m0.6 32.8h0m0.6-110.6h0m3 43.2h0m0.8 82.3h0m0-103.3h0m-4.6 100.3h0m5.9-79.3h0m-6.2-9.8h0m0.5 8.3h0m12-43.9h0m2.7 19.2h0m-3.4-50.2h0m3.1 47.4h0m-3.2 53.4h0m1.9-21.8h0m-1.3 23.8h0m3.8-48.7h0m0.7-57.5h0m-5.3 95.9h0m10.8-14.8h0m1-8h0m-1.3-48.7h0m3.8-17.4h0m0.9 103.4h0m-0.9-42.8h0m-2.9 15.6h0m2.9-5.5h0m0.5-92h0m0.5 68.1h0" stroke="#000" stroke-opacity="0.5" stroke-width="2.4" stroke-linecap="round" fill="none"/>

<g fill="#000"><ellipse cx="109.8" cy="2424.7" rx="3" ry="2"/><ellipse cx="120.8" cy="2227.2" rx="3" ry="2"/><ellipse cx="133.1" cy="2312" rx="2.6" ry="1.9"/><ellipse cx="132.1" cy="2295.2" rx="2.6" ry="1.9"/><ellipse cx="132" cy="2275.8" rx="2.6" ry="1.9"/><ellipse cx="131.9" cy="2257.3" rx="2.6" ry="1.9"/><ellipse cx="132.9" cy="2239.2" rx="2.6" ry="1.9"/><ellipse cx="131.8" cy="2215.9" rx="2.6" ry="1.9"/><ellipse cx="131.8" cy="2282.5" rx="2.9" ry="2.2"/><ellipse cx="143.9" cy="2410" rx="2.6" ry="1.9"/><ellipse cx="141.9" cy="2394.1" rx="2.6" ry="1.9"/><ellipse cx="141.5" cy="2374.5" rx="2.6" ry="1.9"/><ellipse cx="143.6" cy="2354.6" rx="2.6" ry="1.9"/><ellipse cx="141.8" cy="2337.9" rx="2.6" ry="1.9"/><ellipse cx="143.6" cy="2318.5" rx="2.6" ry="1.9"/><ellipse cx="142.6" cy="2299.1" rx="2.6" ry="1.9"/><ellipse cx="143.8" cy="2284.3" rx="2.6" ry="1.9"/><ellipse cx="143.3" cy="2265.5" rx="2.6" ry="1.9"/><ellipse cx="142" cy="2244.8" rx="2.6" ry="1.9"/><ellipse cx="143.6" cy="2227.5" rx="2.6" ry="1.9"/><ellipse cx="142.8" cy="2285.5" rx="2.9" ry="2.2"/><ellipse cx="154.3" cy="2191.1" rx="2.6" ry="1.9"/><ellipse cx="154.1" cy="2177.6" rx="2.6" ry="1.9"/><ellipse cx="152.8" cy="2164.1" rx="2.6" ry="1.9"/><ellipse cx="153.6" cy="2144.7" rx="2.6" ry="1.9"/><ellipse cx="153.8" cy="2166.7" rx="2.9" ry="2.2"/><ellipse cx="164.1" cy="2174.4" rx="2.6" ry="1.9"/><ellipse cx="163.9" cy="2157.8" rx="2.6" ry="1.9"/><ellipse cx="165.9" cy="2142.4" rx="2.6" ry="1.9"/><ellipse cx="164.9" cy="2161.7" rx="2.9" ry="2.2"/><ellipse cx="195.5" cy="2424.7" rx="3" ry="2"/><ellipse cx="206.5" cy="2227.2" rx="3" ry="2"/><ellipse cx="216.6" cy="2310.9" rx="2.6" ry="1.9"/><ellipse cx="216.6" cy="2293.8" rx="2.6" ry="1.9"/><ellipse cx="218.7" cy="2271.7" rx="2.6" ry="1.9"/><ellipse cx="217.7" cy="2253.4" rx="2.6" ry="1.9"/><ellipse cx="218.6" cy="2234.6" rx="2.6" ry="1.9"/><ellipse cx="217.2" cy="2219.2" rx="2.6" ry="1.9"/><ellipse cx="217.5" cy="2282.5" rx="2.9" ry="2.2"/><ellipse cx="227.4" cy="2410.2" rx="2.6" ry="1.9"/><ellipse cx="228.2" cy="2393.5" rx="2.6" ry="1.9"/><ellipse cx="227.5" cy="2378.4" rx="2.6" ry="1.9"/><ellipse cx="227.6" cy="2357.7" rx="2.6" ry="1.9"/><ellipse cx="229.8" cy="2338.1" rx="2.6" ry="1.9"/><ellipse cx="229.5" cy="2317.8" rx="2.6" ry="1.9"/><ellipse cx="227.7" cy="2301.1" rx="2.6" ry="1.9"/><ellipse cx="228.7" cy="2285.1" rx="2.6" ry="1.9"/><ellipse cx="229" cy="2264" rx="2.6" ry="1.9"/><ellipse cx="227.9" cy="2245.9" rx="2.6" ry="1.9"/><ellipse cx="229.6" cy="2225" rx="2.6" ry="1.9"/><ellipse cx="229.2" cy="2207.5" rx="2.6" ry="1.9"/><ellipse cx="228.5" cy="2288.8" rx="2.9" ry="2.2"/><ellipse cx="239" cy="2188.8" rx="2.6" ry="1.9"/><ellipse cx="240" cy="2175.1" rx="2.6" ry="1.9"/><ellipse cx="240.7" cy="2164.1" rx="2.6" ry="1.9"/><ellipse cx="239.7" cy="2146.4" rx="2.6" ry="1.9"/><ellipse cx="239.5" cy="2166.7" rx="2.9" ry="2.2"/><ellipse cx="251.8" cy="2175.6" rx="2.6" ry="1.9"/><ellipse cx="251.2" cy="2162.5" rx="2.6" ry="1.9"/><ellipse cx="249.5" cy="2147.9" rx="2.6" ry="1.9"/><ellipse cx="250.5" cy="2162.7" rx="2.9" ry="2.2"/><ellipse cx="292.2" cy="2227.2" rx="3" ry="2"/><ellipse cx="303.4" cy="2313" rx="2.6" ry="1.9"/><ellipse cx="302.1" cy="2292.5" rx="2.6" ry="1.9"/><ellipse cx="302.6" cy="2274.2" rx="2.6" ry="1.9"/><ellipse cx="304.2" cy="2257.2" rx="2.6" ry="1.9"/><ellipse cx="303.2" cy="2233.8" rx="2.6" ry="1.9"/><ellipse cx="303" cy="2216.1" rx="2.6" ry="1.9"/><ellipse cx="303.2" cy="2282.5" rx="2.9" ry="2.2"/><ellipse cx="312.9" cy="2411.5" rx="2.6" ry="1.9"/><ellipse cx="315" cy="2394.9" rx="2.6" ry="1.9"/><ellipse cx="314" cy="2377.3" rx="2.6" ry="1.9"/><ellipse cx="315.5" cy="2351.9" rx="2.6" ry="1.9"/><ellipse cx="314.9" cy="2334.3" rx="2.6" ry="1.9"/><ellipse cx="314" cy="2315.4" rx="2.6" ry="1.9"/><ellipse cx="314.2" cy="2299.9" rx="2.6" ry="1.9"/><ellipse cx="313.1" cy="2280.7" rx="2.6" ry="1.9"/><ellipse cx="315.2" cy="2258" rx="2.6" ry="1.9"/><ellipse cx="314.2" cy="2239.4" rx="2.6" ry="1.9"/><ellipse cx="314.5" cy="2221.7" rx="2.6" ry="1.9"/><ellipse cx="315.5" cy="2197.2" rx="2.6" ry="1.9"/><ellipse cx="313.5" cy="2183.4" rx="2.6" ry="1.9"/><ellipse cx="314.2" cy="2286.5" rx="2.9" ry="2.2"/><ellipse cx="325.4" cy="2188.2" rx="2.6" ry="1.9"/><ellipse cx="325.7" cy="2168.2" rx="2.6" ry="1.9"/><ellipse cx="324.1" cy="2147.9" rx="2.6" ry="1.9"/><ellipse cx="325.2" cy="2162.7" rx="2.9" ry="2.2"/><ellipse cx="336.7" cy="2169.6" rx="2.6" ry="1.9"/><ellipse cx="335.8" cy="2161.7" rx="2.6" ry="1.9"/><ellipse cx="336.5" cy="2144.9" rx="2.6" ry="1.9"/><ellipse cx="336.2" cy="2162.1" rx="2.9" ry="2.2"/><ellipse cx="366.8" cy="2424.7" rx="3" ry="2"/><ellipse cx="377.9" cy="2227.2" rx="3" ry="2"/><ellipse cx="390.1" cy="2310.4" rx="2.6" ry="1.9"/><ellipse cx="388.1" cy="2296.1" rx="2.6" ry="1.9"/><ellipse cx="389.4" cy="2275.7" rx="2.6" ry="1.9"/><ellipse cx="389.5" cy="2260.2" rx="2.6" ry="1.9"/><ellipse cx="388.1" cy="2243.1" rx="2.6" ry="1.9"/><ellipse cx="388.4" cy="2227.6" rx="2.6" ry="1.9"/><ellipse cx="388" cy="2210.3" rx="2.6" ry="1.9"/><ellipse cx="388.9" cy="2265.4" rx="2.9" ry="2.2"/><ellipse cx="400" cy="2347.3" rx="2.6" ry="1.9"/><ellipse cx="398.7" cy="2332.9" rx="2.6" ry="1.9"/><ellipse cx="400.9" cy="2310.6" rx="2.6" ry="1.9"/><ellipse cx="400.4" cy="2293.3" rx="2.6" ry="1.9"/><ellipse cx="398.6" cy="2270.5" rx="2.6" ry="1.9"/><ellipse cx="399.9" cy="2254.8" rx="2.6" ry="1.9"/><ellipse cx="398.8" cy="2235.1" rx="2.6" ry="1.9"/><ellipse cx="399" cy="2212.8" rx="2.6" ry="1.9"/><ellipse cx="401.2" cy="2193.6" rx="2.6" ry="1.9"/><ellipse cx="399.2" cy="2178" rx="2.6" ry="1.9"/><ellipse cx="399.9" cy="2261.1" rx="2.9" ry="2.2"/><ellipse cx="411.5" cy="2207.5" rx="2.6" ry="1.9"/><ellipse cx="410.7" cy="2188.7" rx="2.6" ry="1.9"/><ellipse cx="410.1" cy="2168.5" rx="2.6" ry="1.9"/><ellipse cx="409.8" cy="2152.7" rx="2.6" ry="1.9"/><ellipse cx="410.9" cy="2180.5" rx="2.9" ry="2.2"/><ellipse cx="422.6" cy="2169.4" rx="2.6" ry="1.9"/><ellipse cx="423.1" cy="2161.7" rx="2.6" ry="1.9"/><ellipse cx="420.7" cy="2145.4" rx="2.6" ry="1.9"/><ellipse cx="421.9" cy="2163.4" rx="2.9" ry="2.2"/><ellipse cx="452.5" cy="2420.1" rx="3" ry="2"/><ellipse cx="463.5" cy="2245" rx="3" ry="2"/><ellipse cx="475.9" cy="2344.4" rx="2.6" ry="1.9"/><ellipse cx="475.3" cy="2323.1" rx="2.6" ry="1.9"/><ellipse cx="474.4" cy="2306.6" rx="2.6" ry="1.9"/><ellipse cx="473.5" cy="2292.5" rx="2.6" ry="1.9"/><ellipse cx="474.9" cy="2273.4" rx="2.6" ry="1.9"/><ellipse cx="474.2" cy="2252.3" rx="2.6" ry="1.9"/><ellipse cx="474.8" cy="2235.8" rx="2.6" ry="1.9"/><ellipse cx="474.6" cy="2296.4" rx="2.9" ry="2.2"/><ellipse cx="484.5" cy="2366" rx="2.6" ry="1.9"/><ellipse cx="486.1" cy="2352.5" rx="2.6" ry="1.9"/><ellipse cx="485.8" cy="2331.9" rx="2.6" ry="1.9"/><ellipse cx="485.6" cy="2310" rx="2.6" ry="1.9"/><ellipse cx="486.8" cy="2294" rx="2.6" ry="1.9"/><ellipse cx="485.4" cy="2274.5" rx="2.6" ry="1.9"/><ellipse cx="484.3" cy="2254.7" rx="2.6" ry="1.9"/><ellipse cx="485.9" cy="2235.6" rx="2.6" ry="1.9"/><ellipse cx="486.1" cy="2219.1" rx="2.6" ry="1.9"/><ellipse cx="486.8" cy="2198.3" rx="2.6" ry="1.9"/><ellipse cx="485.6" cy="2288.5" rx="2.9" ry="2.2"/><ellipse cx="496.8" cy="2290.6" rx="2.6" ry="1.9"/><ellipse cx="495.8" cy="2273.5" rx="2.6" ry="1.9"/><ellipse cx="497.7" cy="2255.9" rx="2.6" ry="1.9"/><ellipse cx="497.8" cy="2236.8" rx="2.6" ry="1.9"/><ellipse cx="495.8" cy="2222.2" rx="2.6" ry="1.9"/><ellipse cx="495.6" cy="2198.5" rx="2.6" ry="1.9"/><ellipse cx="495.7" cy="2182.9" rx="2.6" ry="1.9"/><ellipse cx="496.5" cy="2168.1" rx="2.6" ry="1.9"/><ellipse cx="496.6" cy="2233.5" rx="2.9" ry="2.2"/><ellipse cx="506.4" cy="2240.4" rx="2.6" ry="1.9"/><ellipse cx="507.6" cy="2220.5" rx="2.6" ry="1.9"/><ellipse cx="507.9" cy="2207.2" rx="2.6" ry="1.9"/><ellipse cx="507.1" cy="2190" rx="2.6" ry="1.9"/><ellipse cx="507.5" cy="2173.8" rx="2.6" ry="1.9"/><ellipse cx="507.3" cy="2157.8" rx="2.6" ry="1.9"/><ellipse cx="507.6" cy="2192.7" rx="2.9" ry="2.2"/><ellipse cx="538.2" cy="2422.4" rx="3" ry="2"/><ellipse cx="549.2" cy="2246.3" rx="3" ry="2"/><ellipse cx="561.5" cy="2312.9" rx="2.6" ry="1.9"/><ellipse cx="559.6" cy="2295.1" rx="2.6" ry="1.9"/><ellipse cx="561.1" cy="2270.7" rx="2.6" ry="1.9"/><ellipse cx="560" cy="2257.5" rx="2.6" ry="1.9"/><ellipse cx="559.6" cy="2233.9" rx="2.6" ry="1.9"/><ellipse cx="560.2" cy="2272.3" rx="2.9" ry="2.2"/><ellipse cx="572.5" cy="2364.8" rx="2.6" ry="1.9"/><ellipse cx="570" cy="2349.7" rx="2.6" ry="1.9"/><ellipse cx="570.3" cy="2331.8" rx="2.6" ry="1.9"/><ellipse cx="571.6" cy="2309.8" rx="2.6" ry="1.9"/><ellipse cx="572.1" cy="2296.2" rx="2.6" ry="1.9"/><ellipse cx="571.5" cy="2274.5" rx="2.6" ry="1.9"/><ellipse cx="571" cy="2259.7" rx="2.6" ry="1.9"/><ellipse cx="571.5" cy="2237.3" rx="2.6" ry="1.9"/><ellipse cx="571.1" cy="2225.6" rx="2.6" ry="1.9"/><ellipse cx="571.8" cy="2204.4" rx="2.6" ry="1.9"/><ellipse cx="571.3" cy="2292.4" rx="2.9" ry="2.2"/><ellipse cx="582.1" cy="2328.2" rx="2.6" ry="1.9"/><ellipse cx="581.8" cy="2308.9" rx="2.6" ry="1.9"/><ellipse cx="582.3" cy="2293.9" rx="2.6" ry="1.9"/><ellipse cx="581.9" cy="2274.6" rx="2.6" ry="1.9"/><ellipse cx="583.2" cy="2249.5" rx="2.6" ry="1.9"/><ellipse cx="582" cy="2231.1" rx="2.6" ry="1.9"/><ellipse cx="582.3" cy="2215.6" rx="2.6" ry="1.9"/><ellipse cx="583" cy="2196.5" rx="2.6" ry="1.9"/><ellipse cx="581.2" cy="2172.3" rx="2.6" ry="1.9"/><ellipse cx="582.3" cy="2188.7" rx="2.9" ry="2.2"/><ellipse cx="593.1" cy="2268.5" rx="2.6" ry="1.9"/><ellipse cx="593.6" cy="2249.1" rx="2.6" ry="1.9"/><ellipse cx="593.6" cy="2232.4" rx="2.6" ry="1.9"/><ellipse cx="594.3" cy="2210.9" rx="2.6" ry="1.9"/><ellipse cx="594" cy="2191.3" rx="2.6" ry="1.9"/><ellipse cx="592.1" cy="2174.4" rx="2.6" ry="1.9"/><ellipse cx="593.7" cy="2153.9" rx="2.6" ry="1.9"/><ellipse cx="593.3" cy="2186.8" rx="2.9" ry="2.2"/><ellipse cx="623.9" cy="2419.1" rx="3" ry="2"/><ellipse cx="634.9" cy="2249.6" rx="3" ry="2"/><ellipse cx="645.8" cy="2314.8" rx="2.6" ry="1.9"/><ellipse cx="646.9" cy="2299.5" rx="2.6" ry="1.9"/><ellipse cx="645.9" cy="2282.9" rx="2.6" ry="1.9"/><ellipse cx="647.2" cy="2261.9" rx="2.6" ry="1.9"/><ellipse cx="647.1" cy="2247.2" rx="2.6" ry="1.9"/><ellipse cx="645.9" cy="2277.3" rx="2.9" ry="2.2"/><ellipse cx="656.9" cy="2361.7" rx="2.6" ry="1.9"/><ellipse cx="655.8" cy="2338.8" rx="2.6" ry="1.9"/><ellipse cx="657.1" cy="2317.5" rx="2.6" ry="1.9"/><ellipse cx="657.3" cy="2299.7" rx="2.6" ry="1.9"/><ellipse cx="657.2" cy="2281.7" rx="2.6" ry="1.9"/><ellipse cx="657.6" cy="2262" rx="2.6" ry="1.9"/><ellipse cx="655.8" cy="2241.6" rx="2.6" ry="1.9"/><ellipse cx="657" cy="2308.5" rx="2.9" ry="2.2"/><ellipse cx="668.5" cy="2304" rx="2.6" ry="1.9"/><ellipse cx="668.9" cy="2282.8" rx="2.6" ry="1.9"/><ellipse cx="667" cy="2266.7" rx="2.6" ry="1.9"/><ellipse cx="667.3" cy="2244.8" rx="2.6" ry="1.9"/><ellipse cx="667.5" cy="2228" rx="2.6" ry="1.9"/><ellipse cx="668.1" cy="2205.8" rx="2.6" ry="1.9"/><ellipse cx="668.4" cy="2191.1" rx="2.6" ry="1.9"/><ellipse cx="668" cy="2246.3" rx="2.9" ry="2.2"/><ellipse cx="679.3" cy="2255.8" rx="2.6" ry="1.9"/><ellipse cx="680" cy="2236.8" rx="2.6" ry="1.9"/><ellipse cx="678.5" cy="2222.2" rx="2.6" ry="1.9"/><ellipse cx="678.4" cy="2207.5" rx="2.6" ry="1.9"/><ellipse cx="677.9" cy="2187.4" rx="2.6" ry="1.9"/><ellipse cx="679" cy="2201.9" rx="2.9" ry="2.2"/><ellipse cx="709.6" cy="2417.8" rx="3" ry="2"/><ellipse cx="732" cy="2323.7" rx="2.6" ry="1.9"/><ellipse cx="731.2" cy="2308.6" rx="2.6" ry="1.9"/><ellipse cx="730.4" cy="2286.2" rx="2.6" ry="1.9"/><ellipse cx="731.2" cy="2274.7" rx="2.6" ry="1.9"/><ellipse cx="730.4" cy="2257.4" rx="2.6" ry="1.9"/><ellipse cx="731.6" cy="2281.6" rx="2.9" ry="2.2"/><ellipse cx="742.7" cy="2377.9" rx="2.6" ry="1.9"/><ellipse cx="742.8" cy="2360.8" rx="2.6" ry="1.9"/><ellipse cx="743.5" cy="2341.1" rx="2.6" ry="1.9"/><ellipse cx="742.8" cy="2322.6" rx="2.6" ry="1.9"/><ellipse cx="743.4" cy="2303.7" rx="2.6" ry="1.9"/><ellipse cx="741.6" cy="2286.3" rx="2.6" ry="1.9"/><ellipse cx="742.5" cy="2267.3" rx="2.6" ry="1.9"/><ellipse cx="743.3" cy="2253.8" rx="2.6" ry="1.9"/><ellipse cx="743" cy="2236.5" rx="2.6" ry="1.9"/><ellipse cx="743.1" cy="2219.3" rx="2.6" ry="1.9"/><ellipse cx="742.6" cy="2317.8" rx="2.9" ry="2.2"/><ellipse cx="754.3" cy="2304" rx="2.6" ry="1.9"/><ellipse cx="753" cy="2284.5" rx="2.6" ry="1.9"/><ellipse cx="752.6" cy="2266.4" rx="2.6" ry="1.9"/><ellipse cx="752.5" cy="2252.4" rx="2.6" ry="1.9"/><ellipse cx="754.3" cy="2232.3" rx="2.6" ry="1.9"/><ellipse cx="753.2" cy="2220.5" rx="2.6" ry="1.9"/><ellipse cx="752.9" cy="2198.9" rx="2.6" ry="1.9"/><ellipse cx="753.7" cy="2260.2" rx="2.9" ry="2.2"/><ellipse cx="764" cy="2268" rx="2.6" ry="1.9"/><ellipse cx="765.9" cy="2250.2" rx="2.6" ry="1.9"/><ellipse cx="763.7" cy="2238.1" rx="2.6" ry="1.9"/><ellipse cx="764.1" cy="2221.2" rx="2.6" ry="1.9"/><ellipse cx="763.7" cy="2202.8" rx="2.6" ry="1.9"/><ellipse cx="764.7" cy="2225.9" rx="2.9" ry="2.2"/><ellipse cx="795.3" cy="2419.1" rx="3" ry="2"/><ellipse cx="818.3" cy="2332.8" rx="2.6" ry="1.9"/><ellipse cx="817.2" cy="2311.7" rx="2.6" ry="1.9"/><ellipse cx="818" cy="2295.2" rx="2.6" ry="1.9"/><ellipse cx="817.5" cy="2278.8" rx="2.6" ry="1.9"/><ellipse cx="816.2" cy="2261.8" rx="2.6" ry="1.9"/><ellipse cx="817.3" cy="2284.8" rx="2.9" ry="2.2"/><ellipse cx="829.2" cy="2380" rx="2.6" ry="1.9"/><ellipse cx="828.7" cy="2363.7" rx="2.6" ry="1.9"/><ellipse cx="828.4" cy="2349.8" rx="2.6" ry="1.9"/><ellipse cx="829.4" cy="2331.6" rx="2.6" ry="1.9"/><ellipse cx="828.7" cy="2312.3" rx="2.6" ry="1.9"/><ellipse cx="829.2" cy="2295.9" rx="2.6" ry="1.9"/><ellipse cx="827.2" cy="2277.2" rx="2.6" ry="1.9"/><ellipse cx="828.8" cy="2258.6" rx="2.6" ry="1.9"/><ellipse cx="827.8" cy="2238.8" rx="2.6" ry="1.9"/><ellipse cx="828.3" cy="2302.6" rx="2.9" ry="2.2"/><ellipse cx="839.1" cy="2317.4" rx="2.6" ry="1.9"/><ellipse cx="838.9" cy="2295.7" rx="2.6" ry="1.9"/><ellipse cx="840" cy="2280.2" rx="2.6" ry="1.9"/><ellipse cx="839" cy="2261.2" rx="2.6" ry="1.9"/><ellipse cx="838.8" cy="2244.4" rx="2.6" ry="1.9"/><ellipse cx="838.1" cy="2221.6" rx="2.6" ry="1.9"/><ellipse cx="838.8" cy="2204.7" rx="2.6" ry="1.9"/><ellipse cx="839.4" cy="2243.4" rx="2.9" ry="2.2"/><ellipse cx="850.4" cy="2333.5" rx="2.6" ry="1.9"/><ellipse cx="850.4" cy="2318.7" rx="2.6" ry="1.9"/><ellipse cx="850.3" cy="2295.7" rx="2.6" ry="1.9"/><ellipse cx="849.9" cy="2281.2" rx="2.6" ry="1.9"/><ellipse cx="851.6" cy="2262.3" rx="2.6" ry="1.9"/><ellipse cx="850" cy="2244.9" rx="2.6" ry="1.9"/><ellipse cx="850.5" cy="2226.5" rx="2.6" ry="1.9"/><ellipse cx="850.1" cy="2209.3" rx="2.6" ry="1.9"/><ellipse cx="851.1" cy="2195" rx="2.6" ry="1.9"/><ellipse cx="850.4" cy="2227.2" rx="2.9" ry="2.2"/></g>
<path d="M150.82 2132.27V2124.77H164.11V2132.27M236.51 2132.27V2124.77H249.8V2132.27M322.2 2132.27V2124.77H335.49V2132.27M407.89 2132.27V2124.77H421.18V2132.27M493.58 2132.27V2124.77H506.87V2132.27M579.27 2132.27V2124.77H592.56V2132.27M664.96 2132.27V2124.77H678.25V2132.27M750.65 2132.27V2124.77H763.94V2132.27M836.34 2132.27V2124.77H849.63V2132.27" stroke="#000" stroke-width="1.5" fill="none"/>
<g font-size="11.6" text-anchor="middle" fill="#000"><text x="157.46" y="2121.47">p &lt; 0.001</text><text x="243.15" y="2121.47">p &lt; 0.001</text><text x="328.84" y="2121.47">p &lt; 0.001</text><text x="414.53" y="2121.47">p &lt; 0.001</text><text x="500.22" y="2121.47">p &lt; 0.001</text><text x="585.91" y="2121.47">p &lt; 0.001</text><text x="671.6" y="2121.47">p &lt; 0.001</text><text x="757.29" y="2121.47">p &lt; 0.001</text><text x="842.98" y="2121.47">p &lt; 0.001</text></g>
<path d="M80.5 2099.17V2473.65H868.2" stroke="#000" stroke-width="1.9" fill="none" stroke-linejoin="round"/>
<path d="M75.2 2460.6H80.5M75.2 2378.32H80.5M75.2 2296.03H80.5M75.2 2213.75H80.5M75.2 2131.47H80.5M131.8 2473.65V2478.95M217.49 2473.65V2478.95M303.18 2473.65V2478.95M388.87 2473.65V2478.95M474.56 2473.65V2478.95M560.25 2473.65V2478.95M645.94 2473.65V2478.95M731.63 2473.65V2478.95M817.32 2473.65V2478.95" stroke="#333" stroke-width="1.9" fill="none"/>
<g font-size="23.5" fill="#4D4D4D">
<text x="71.1" y="2469.6" text-anchor="end">0</text>
<text x="71.1" y="2387.32" text-anchor="end">25</text>
<text x="71.1" y="2305.03" text-anchor="end">50</text>
<text x="71.1" y="2222.75" text-anchor="end">75</text>
<text x="71.1" y="2140.47" text-anchor="end">100</text>
<text x="131.8" y="2499.3" text-anchor="middle">1</text>
<text x="217.49" y="2499.3" text-anchor="middle">2</text>
<text x="303.18" y="2499.3" text-anchor="middle">4</text>
<text x="388.87" y="2499.3" text-anchor="middle">8</text>
<text x="474.56" y="2499.3" text-anchor="middle">16</text>
<text x="560.25" y="2499.3" text-anchor="middle">24</text>
<text x="645.94" y="2499.3" text-anchor="middle">48</text>
<text x="731.63" y="2499.3" text-anchor="middle">96</text>
<text x="817.32" y="2499.3" text-anchor="middle">192</text>
</g>
<text x="474.35" y="2078.2" font-size="39" font-weight="bold" text-anchor="middle">Optum Future</text>
<text x="474.35" y="2529.2" font-size="27.3" font-weight="bold" text-anchor="middle">Prediction Horizon [min. hours before event]</text>
<text transform="translate(21.2 2286.41) rotate(-90)" font-size="27.3" font-weight="bold" text-anchor="middle">Specificity at 95 % Sensitivity [%]</text>
<g stroke="#000" stroke-width="1.9" stroke-dasharray="2.05 6.3" fill="none">
<line x1="1031.5" y1="2460.6" x2="1819.8" y2="2460.6"/>
<line x1="1031.5" y1="2378.32" x2="1819.8" y2="2378.32"/>
<line x1="1031.5" y1="2296.03" x2="1819.8" y2="2296.03"/>
<line x1="1031.5" y1="2213.75" x2="1819.8" y2="2213.75"/>
<line x1="1031.5" y1="2131.47" x2="1819.8" y2="2131.47"/>
<line x1="1082.8" y1="2474.15" x2="1082.8" y2="2129.97"/>
<line x1="1168.5" y1="2474.15" x2="1168.5" y2="2129.97"/>
<line x1="1254.2" y1="2474.15" x2="1254.2" y2="2129.97"/>
<line x1="1339.9" y1="2474.15" x2="1339.9" y2="2129.97"/>
<line x1="1425.6" y1="2474.15" x2="1425.6" y2="2129.97"/>
<line x1="1511.3" y1="2474.15" x2="1511.3" y2="2129.97"/>
<line x1="1597" y1="2474.15" x2="1597" y2="2129.97"/>
<line x1="1682.7" y1="2474.15" x2="1682.7" y2="2129.97"/>
<line x1="1768.4" y1="2474.15" x2="1768.4" y2="2129.97"/>
</g>
<g stroke="#000" stroke-width="1.45"><rect x="1077.29" y="2401.69" width="11.02" height="58.91" fill="#3C5488"/><rect x="1088.31" y="2349.35" width="11.02" height="111.25" fill="#F39B7F"/><rect x="1099.33" y="2177.22" width="11.02" height="283.38" fill="#8491B4"/><rect x="1110.35" y="2179.85" width="11.02" height="280.75" fill="#91D1C2"/><rect x="1162.99" y="2401.69" width="11.02" height="58.91" fill="#3C5488"/><rect x="1174.01" y="2348.7" width="11.02" height="111.9" fill="#F39B7F"/><rect x="1185.03" y="2177.22" width="11.02" height="283.38" fill="#8491B4"/><rect x="1196.05" y="2178.86" width="11.02" height="281.74" fill="#91D1C2"/><rect x="1248.69" y="2400.7" width="11.02" height="59.9" fill="#3C5488"/><rect x="1259.71" y="2347.05" width="11.02" height="113.55" fill="#F39B7F"/><rect x="1270.73" y="2178.86" width="11.02" height="281.74" fill="#8491B4"/><rect x="1281.75" y="2178.86" width="11.02" height="281.74" fill="#91D1C2"/><rect x="1334.39" y="2401.36" width="11.02" height="59.24" fill="#3C5488"/><rect x="1345.41" y="2347.71" width="11.02" height="112.89" fill="#F39B7F"/><rect x="1356.43" y="2181.17" width="11.02" height="279.43" fill="#8491B4"/><rect x="1367.45" y="2177.88" width="11.02" height="282.72" fill="#91D1C2"/><rect x="1420.09" y="2405.64" width="11.02" height="54.96" fill="#3C5488"/><rect x="1431.11" y="2369.1" width="11.02" height="91.5" fill="#F39B7F"/><rect x="1442.13" y="2200.59" width="11.02" height="260.01" fill="#8491B4"/><rect x="1453.15" y="2189.73" width="11.02" height="270.87" fill="#91D1C2"/><rect x="1505.79" y="2406.29" width="11.02" height="54.31" fill="#3C5488"/><rect x="1516.81" y="2378.32" width="11.02" height="82.28" fill="#F39B7F"/><rect x="1527.83" y="2211.78" width="11.02" height="248.82" fill="#8491B4"/><rect x="1538.85" y="2201.9" width="11.02" height="258.7" fill="#91D1C2"/><rect x="1591.49" y="2408.6" width="11.02" height="52" fill="#3C5488"/><rect x="1602.51" y="2389.18" width="11.02" height="71.42" fill="#F39B7F"/><rect x="1613.53" y="2220.34" width="11.02" height="240.26" fill="#8491B4"/><rect x="1624.55" y="2206.51" width="11.02" height="254.09" fill="#91D1C2"/><rect x="1677.19" y="2414.52" width="11.02" height="46.08" fill="#3C5488"/><rect x="1688.21" y="2414.52" width="11.02" height="46.08" fill="#F39B7F"/><rect x="1699.23" y="2221.98" width="11.02" height="238.62" fill="#8491B4"/><rect x="1710.25" y="2225.6" width="11.02" height="235" fill="#91D1C2"/><rect x="1762.89" y="2400.7" width="11.02" height="59.9" fill="#3C5488"/><rect x="1773.91" y="2442.17" width="11.02" height="18.43" fill="#F39B7F"/><rect x="1784.93" y="2228.56" width="11.02" height="232.04" fill="#8491B4"/><rect x="1795.95" y="2227.25" width="11.02" height="233.35" fill="#91D1C2"/></g>
<g stroke="#000" stroke-width="2.2"><line x1="1044.23" y1="2460.6" x2="1055.25" y2="2460.6"/><line x1="1055.25" y1="2460.6" x2="1066.27" y2="2460.6"/><line x1="1066.27" y1="2460.6" x2="1077.29" y2="2460.6"/><line x1="1129.93" y1="2460.6" x2="1140.95" y2="2460.6"/><line x1="1140.95" y1="2460.6" x2="1151.97" y2="2460.6"/><line x1="1151.97" y1="2460.6" x2="1162.99" y2="2460.6"/><line x1="1215.63" y1="2460.6" x2="1226.65" y2="2460.6"/><line x1="1226.65" y1="2460.6" x2="1237.67" y2="2460.6"/><line x1="1237.67" y1="2460.6" x2="1248.69" y2="2460.6"/><line x1="1301.34" y1="2460.6" x2="1312.35" y2="2460.6"/><line x1="1312.35" y1="2460.6" x2="1323.37" y2="2460.6"/><line x1="1323.37" y1="2460.6" x2="1334.39" y2="2460.6"/><line x1="1387.03" y1="2460.6" x2="1398.05" y2="2460.6"/><line x1="1398.05" y1="2460.6" x2="1409.07" y2="2460.6"/><line x1="1409.07" y1="2460.6" x2="1420.09" y2="2460.6"/><line x1="1472.73" y1="2460.6" x2="1483.75" y2="2460.6"/><line x1="1483.75" y1="2460.6" x2="1494.77" y2="2460.6"/><line x1="1494.77" y1="2460.6" x2="1505.79" y2="2460.6"/><line x1="1558.43" y1="2460.6" x2="1569.45" y2="2460.6"/><line x1="1569.45" y1="2460.6" x2="1580.47" y2="2460.6"/><line x1="1580.47" y1="2460.6" x2="1591.49" y2="2460.6"/><line x1="1644.13" y1="2460.6" x2="1655.15" y2="2460.6"/><line x1="1655.15" y1="2460.6" x2="1666.17" y2="2460.6"/><line x1="1666.17" y1="2460.6" x2="1677.19" y2="2460.6"/><line x1="1729.84" y1="2460.6" x2="1740.85" y2="2460.6"/><line x1="1740.85" y1="2460.6" x2="1751.87" y2="2460.6"/><line x1="1751.87" y1="2460.6" x2="1762.89" y2="2460.6"/></g>
<path d="M1060.8 2460.6V2434.9M1071.8 2460.6V2216.4M1082.8 2413.2V2374M1093.8 2394.8V2311.8M1104.8 2204.9V2164.4M1115.9 2204.9V2161.1M1146.5 2460.6V2434.9M1157.5 2460.6V2216.4M1168.5 2413.2V2374M1179.5 2394.8V2311.8M1190.5 2203.9V2164.4M1201.6 2203.9V2161.1M1232.2 2460.6V2434.9M1243.2 2460.6V2216.4M1254.2 2413.2V2338.5M1265.2 2394.8V2309.2M1276.2 2210.5V2164.4M1287.3 2197.3V2164.4M1317.9 2460.6V2434.9M1328.9 2460.6V2454.7M1339.9 2413.2V2338.5M1350.9 2394.8V2280.9M1361.9 2207.2V2164.4M1373 2197.3V2161.1M1425.6 2447.8V2345.4M1436.6 2394.8V2322.4M1447.6 2223.6V2175.9M1458.7 2217V2175.9M1489.3 2460.6V2433M1511.3 2447.8V2338.5M1522.3 2435.3V2340.5M1533.3 2259.8V2184.1M1544.4 2273V2190.7M1586 2460.6V2232.5M1597 2446.8V2347.7M1608 2446.8V2336.2M1619 2264.8V2195.7M1630.1 2312.5V2190.7M1682.7 2449.1V2352.3M1693.7 2454V2345.4M1704.7 2267.1V2195.7M1715.8 2278.6V2192.4M1746.4 2460.6V2434.9M1768.4 2414.5V2350M1779.4 2459V2361.5M1790.4 2322.4V2211.8M1801.5 2276.3V2190.7" stroke="#000" stroke-width="1.6" fill="none"/>
<g fill="#000" fill-opacity="0.38"></g>
<path d="M1057.8 2434.8h0m5.4 3.3h0m-3.7-4.4h0m13.6-218.9h0m-3.6 4.6h0m4.1-4.6h0m10 169.5h0m-3.9-6.2h0m4.9 3.1h0m-2.6 13.3h0m2.7-19.8h0m-5 1.3h0m11-26h0m5.2 16h0m-1.8-44.8h0m0.2 51.3h0m-1.9-48.7h0m3.5 8.6h0m-3.6 5.1h0m1.7 5.2h0m-0.2 14.3h0m-2.3-26.4h0m1.9 22.8h0m1.1-3.1h0m-0.5 2.9h0m2.5-3.2h0m-0.5 10.8h0m0.1-23.2h0m-4.2 4.2h0m-0.6 29.5h0m3.6-13.9h0m-3.5 0.7h0m3.4 19.4h0m-2.2-38.2h0m3 47.6h0m-2.1-14.2h0m-1.7-31.7h0m-1.1 6.2h0m0.1 15.2h0m6.1 13.1h0m-5.1 16.9h0m3.1-54.3h0m-2.5-18.1h0m4.3 41.6h0m-2.9-3.2h0m-1.4-27.7h0m-1.2 1.5h0m1.5 33.1h0m-1.8-16.4h0m4.5 45h0m-1.3-45.5h0m2.4 2h0m9.7-156.7h0m-3 0.5h0m-0.9-24h0m1.8 16.4h0m-2.4-10.9h0m0.3-2.9h0m3.9 8.5h0m-2.4 7.3h0m0.6-6.4h0m1 14.4h0m2.2-30.3h0m-4.9 19.5h0m2.5-5.3h0m-1-2.2h0m2.1 0.8h0m-0.8 3h0m1.9-5h0m-3.3 6.7h0m-1-14h0m1.7-0.7h0m-1.6-0.4h0m3.4 14h0m0.5 2.5h0m-3.6-18.8h0m2.7 10h0m-3.9-4h0m5.2 1.5h0m-0.5 5h0m-2.7-2.4h0m-2.5 3h0m3.6 10.6h0m-1.7-8.6h0m9.8 6.5h0m-0.3-14.7h0m-0.2 5.2h0m4.6 5.9h0m-3.8-16.8h0m2.1-6.5h0m-2.4 28.5h0m0.2-7.9h0m3.2-1.1h0m0 13.8h0m-0.8-9.7h0m-0.6 14.8h0m-1.5-16.6h0m-0.5 1h0m0.6-6.4h0m4.6 17.4h0m-3.7-19.4h0m3-1.6h0m-0.3 19.3h0m0.1-17.2h0m-1.5 20.9h0m-0.1-34.3h0m0.7 22.1h0m0.4 5.2h0m1-10.8h0m-2.9 2.8h0m0.2 1h0m-0.9-12.2h0m-1.4 10h0m2.3-10.8h0m0.9 7.9h0m1.9-2.1h0m-0.8-1.4h0m-4.1-5h0m2.9 9.6h0m32 253.7h0m-4.8 1.4h0m0.5 3.9h0m12.3-220.6h0m3.3-2h0m-2.5 3.8h0m14.8 161.2h0m-5.9 5.7h0m5.2-4.8h0m-4.7 14.5h0m4.3-9h0m0-11.9h0m7.2-28.2h0m4.1-22.8h0m-4.9 26.8h0m3 4.6h0m0-39.1h0m0.1 41.1h0m-0.8 30.8h0m2.8-46.5h0m0.7 28.9h0m-2.2-30.4h0m-1.6 11.6h0m-1.3-3.9h0m1.2 6.3h0m-0.2-8.7h0m2.4-3.4h0m-1 23.7h0m1.9 12.4h0m-4.9-7.4h0m3-20.8h0m-3.5-6.8h0m2.3 17.6h0m2.5-3.8h0m-1.8-17.6h0m-2.3 50.4h0m-1-44.9h0m4.8-24.9h0m0.4 51.2h0m-4-13.2h0m3.4-7.8h0m-2-19.4h0m3.4-3.4h0m-5.3 19.4h0m2.8 21.4h0m-0.4-15.7h0m-2.2 0.5h0m5.1 11.2h0m-5.4-46.1h0m5.5 45.1h0m-0.3-34.6h0m-0.9 16.9h0m10.5-162.5h0m-1.1-15.5h0m-2.1 7.4h0m-1.2-3h0m2.1-3h0m1.3 16.3h0m2.4-7h0m-1.4 8.7h0m1.4-11.5h0m0.1-5.6h0m0 2.1h0m-3.8 8.8h0m3.1 1.5h0m-1.1-11.3h0m-0.3 1.5h0m1.6-1.7h0m-3.4 18.1h0m3.6-2.2h0m-3.8 0.8h0m1.9-1.1h0m2.5-4.7h0m-3.3-13.2h0m-1.5 5.3h0m3.2-5.7h0m-1.6 5.7h0m3.4 10.5h0m-2.5-13.4h0m-3 4.4h0m3.2-6.2h0m-2.4 5.5h0m-1 4.8h0m11.3 19.8h0m4.4-16.4h0m-1.5 7.1h0m2.2-18.6h0m-2.3 14.3h0m0-3.4h0m-2.8 4.6h0m2-2.5h0m3.1-5.1h0m-4.8-0.7h0m0.4-11.7h0m0.9 15h0m-0.6-14h0m-2 3.9h0m6 5.4h0m-4.6-8.9h0m0.8 5.6h0m0.3 15.5h0m1.5-0.8h0m1-8.6h0m-1.2-9.2h0m-2.9 15.8h0m0.3 14.6h0m-0.8-19.4h0m2-10.7h0m1.2 7.8h0m0.1 24.2h0m-2.1-27.2h0m1.9 8.8h0m-1.4-22.2h0m2.6 16.3h0m-3.4 20.9h0m4.9-18.6h0m-2.4-12.7h0m26.8 267.3h0m5.1 2.8h0m-0.2-1.9h0m6.2-217.1h0m2.1 6.6h0m-0.1-3.8h0m14.3 133.2h0m-0.8 21.6h0m-0.2-19.4h0m-4-7.1h0m-0.1 0.9h0m2.1 18h0m12.1 8.4h0m-0.2-40h0m1.7 24.3h0m-0.9 11.9h0m2.4-20.6h0m-1.1-25.9h0m-5.1 8.7h0m0.9 7.7h0m3.8 23.2h0m0-6.1h0m0 18.3h0m-4.6-30.6h0m1.8-27.9h0m0 10.7h0m0.6 2.2h0m3.6 22h0m-5.1 5h0m4 12.3h0m-2.9 19.2h0m0.2-74.7h0m2.3 70.9h0m-0.9-64.1h0m-1.8 10.9h0m2.6 9.2h0m-2 14h0m-2.7-27.7h0m6.3 9.7h0m-0.4 23.8h0m-1.3 7.7h0m-4.3-9.4h0m3.3-44.1h0m0.9 30.1h0m-1.2 33.3h0m-1.3-14h0m0.5-28.8h0m-0.5-7.5h0m0.2 44h0m0.8-19.8h0m-1.8 19.8h0m3.9-46.3h0m10.7-157.1h0m-2.5 9.5h0m3.1-6.3h0m-3.1 0.4h0m1.6 2.5h0m-2.1 2.1h0m0.9 0.9h0m3.8 12.1h0m-2.4 1.9h0m-2.1-20.4h0m4.4 28.2h0m-3.6-9.5h0m-2.2-1.8h0m1.1-0.6h0m1.1 9.1h0m2.5-10.6h0m0.8 9h0m-4-9.8h0m3.1-7h0m-1.9-4.9h0m-0.4-1.3h0m2.6 7.2h0m0.2-7.8h0m-0.6-9.5h0m-2.7 10.4h0m0.4-8.7h0m0.8 4.9h0m-3.2-4.1h0m1.9 24.1h0m2.7-18.4h0m0.1-2.6h0m-4.9 6.7h0m0.3-0.2h0m-0.2 17.6h0m5.1-2.5h0m-0.3-0.7h0m9-25.7h0m-2.5 19.6h0m3.3-1.3h0m-0.8-3.1h0m-1.5-0.3h0m0.1 6.8h0m0.5-15.9h0m3-5.8h0m1.3 10.5h0m-4.1 10.3h0m1.6-9.8h0m-1.1 4.8h0m3.2-1.4h0m0.3 2.9h0m-5.7-14.8h0m2.6 3.3h0m-1.3 9.4h0m2.3-0.2h0m-0.6-10.8h0m-0.7-2.4h0m-2.5 3.9h0m4.1 20.9h0m1.4-27.1h0m-5.7 14.6h0m1-5.2h0m3.2 2.1h0m26.3 258.5h0m4.8-8.8h0m0.8 8h0m10.6 20.2h0m-0.4-2h0m-0.9 2.1h0m13.3-45.1h0m-2.2-8.8h0m-1-11h0m-2.4-36.3h0m2 38.6h0m1.5-3.3h0m12.3-85.6h0m-2 26.4h0m0.8 54h0m-3.2-26h0m5-53.4h0m-3.1 38.5h0m0.9 51.3h0m-3.5-6.4h0m2.9-52.1h0m-2.8-6.8h0m5.7-27.2h0m-5.3 48.5h0m4.3-26.3h0m-0.6 28.6h0m-3 14.9h0m4.1-21.9h0m-3 12h0m-2-36h0m4.3 48.4h0m-4.1-21h0m-0.1 5.2h0m3 23.6h0m2.2-49.7h0m-1.5 54.8h0m1.7-40.5h0m-3.8-25.5h0m-1.8 47.5h0m2.4-26.5h0m0.9-6.4h0m1.8-11.3h0m0.1 6.6h0m-2.8-13.5h0m0.2 75.6h0m-0.5-61.4h0m2.1-36.6h0m-0.5 51.7h0m-0.5 3.1h0m-2.5-8.5h0m1 53.7h0m3.1-32.4h0m5.8-164.5h0m2 4.8h0m2.6-19.6h0m1.7-6.3h0m-4-1.2h0m-1.4-2.5h0m2.2 5.5h0m1.3 17.3h0m-0.4-7h0m-0.7 6.7h0m-0.5-2.5h0m-3-13.5h0m2.2 6.8h0m2.6 13.3h0m-1.3-13.7h0m-2.9 11.2h0m1.2-15.3h0m3.2 4.4h0m0.7 9.6h0m-2.8-16.4h0m-2.3 3.1h0m-0.1-8.6h0m5.6 10.5h0m-2.1-0.6h0m0.7 3.3h0m-3.3-4.3h0m3.6 0.9h0m-0.3-3.2h0m-1.7 0.3h0m-2.3 9.1h0m1.8-3.9h0m2.9 10h0m-0.7-9.8h0m-2.5 1.4h0m12.7 7.2h0m-1.4-16.5h0m2.2 10.1h0m-3.9 2.8h0m2.6-16.7h0m-1.4 5.2h0m-1.2 3.9h0m0.4-16.9h0m4.2 19.2h0m-1.4-5.1h0m-0.6-5.2h0m-0.2 10.3h0m1-9.1h0m2.1 12.8h0m-1.7-4.5h0m-2.9-4.7h0m4.2 18.5h0m0.2-18.7h0m-3.8-1.5h0m-0.6 4.9h0m2.1-12.6h0m2.1 8.1h0m-0.5-12.9h0m-3.2 9h0m0.5 8.6h0m-1.7-11.9h0m4.6 5h0m-4.3 1.3h0m56 215.3h0m-1 37.8h0m0.1-20.4h0m-0.2-11.1h0m-1.9 18.4h0m3.5-38.3h0m-3.7-23.6h0m-0.3 47.5h0m0.5 21h0m3.1-65.7h0m-2.9 69h0m-0.9-47h0m5.1 52.1h0m-6-40.7h0m5.7-0.9h0m-2.1 25.7h0m-0.7-33.4h0m3.1 22.3h0m-3.5 6.7h0m4 6.9h0m-4.9-6h0m4.4 23.2h0m-3-43.9h0m0.9-3.7h0m-0.1-3.1h0m1.4 58.2h0m-4.6-35.3h0m5.4 22.1h0m-2.5-19.1h0m-0.8 14.6h0m2-12h0m-3.1-17.3h0m0.5-11h0m3.5 12h0m0.6 8.7h0m-3.1-5h0m0 15h0m-0.7-55h0m-2.5 82.6h0m6.4-36.9h0m10-11.4h0m-1.1-30.3h0m-2-20.7h0m1.2 23.9h0m-2.6 2h0m0.5 9.4h0m2.3-31.5h0m1.4 25.1h0m-3.5 9.9h0m1.3-10.7h0m-1.5-28.9h0m-1.1 27.6h0m0.3 1.4h0m3 4h0m-2.9-41.1h0m0.9 53h0m1.7-15h0m0.9 9.1h0m1.6-25.6h0m0.8 5.8h0m-5.6 16.4h0m-0.6-7.7h0m2.3 14.2h0m-0.8 12.6h0m-0.4-13.1h0m-0.2-8.5h0m4.9-9.7h0m-4 25.8h0m3-1.2h0m-1.2-40.6h0m-0.9-6.8h0m-0.8 30.4h0m2.3-23.8h0m-4.6 28.3h0m5.8 13.5h0m-4.1-16.4h0m3.4 17.2h0m-0.5-5.4h0m-3.2-4.1h0m2.5-12.5h0m12.5-185h0m-3.9 16.6h0m4.9 4.9h0m-1.9 1.8h0m-4.2-15.2h0m4.2 12.5h0m1.7-20.8h0m-5.1 32.8h0m2.8-30.1h0m-2.8 3h0m3.5 14.3h0m0.5-2.6h0m1.5 20.4h0m-4.4-37.6h0m1 24.2h0m-0.8-18h0m0 4.7h0m0.4 4.2h0m-0.4 6h0m1.5 4.9h0m2-24.8h0m0.1 13.4h0m0.2 22.6h0m-4.7-12.9h0m2.7-2.5h0m2.4 0.3h0m-2.7 0.9h0m0.4-15.6h0m-2.4 8.8h0m4.5 12.7h0m-6.3-2.6h0m5.4-19h0m-3 8.3h0m4 21h0m-1.1-31.9h0m-2.5 1.6h0m-0.3 21.1h0m-2.5-20.9h0m14.1-6.4h0m0.6 7.4h0m-1.3-2.5h0m3.5 18.4h0m-3.5-5.3h0m4.1 11.7h0m-4.7-12h0m4.5-10.9h0m-2.9-6.9h0m2.4 3.5h0m-3.4 4.3h0m3.1-15h0m-3.8 18.2h0m1.9-11.6h0m1.3 4.7h0m-2.6 22.8h0m1.1-19.3h0m0.3 17.6h0m-0.7-22.1h0m-0.1 20.7h0m3.6-30.7h0m-1.7 8.8h0m-4.1 13.5h0m0.3-21.1h0m2.3 15.8h0m1.3-10.6h0m0.9 15.8h0m-3.2-3.6h0m0.9-16h0m-2.8 2.2h0m4.9 0.5h0m-0.3 19.6h0m29.8 229.3h0m-2.9-1h0m3.7 3.8h0m18-63.9h0m2.7 47.7h0m2.2-15.7h0m-4.3-25.4h0m2.4-9.3h0m-2.9 45.7h0m3.2-24.1h0m1.7-22.7h0m-4 64.9h0m-1.2-22.5h0m3.8-16.5h0m-2.7 28.3h0m-0.2-25.2h0m4.7 36.6h0m-2.9-49.3h0m0.2-22.4h0m-0.2 53.7h0m-1.5-28.1h0m-2-6.6h0m3.2 34.5h0m-0.1-13.9h0m-0.1-34.1h0m-0.8-3.9h0m0.7 53.6h0m0.7 0.3h0m-2.6-17.8h0m4.7-2.9h0m-1.7 48.2h0m-0.2 4.1h0m-0.5-17.8h0m-2.2-30.7h0m0.4-21.4h0m4.1 38.4h0m0.2-24h0m0.1 24.2h0m-5.8 14.3h0m4.2-18h0m0.1 3h0m0.2-38.5h0m1.7 59.2h0m8.6-84.2h0m1.1 27.1h0m-3.9-0.4h0m4-27h0m-3.5 30.2h0m-0.7 32.9h0m0.8-11.2h0m4.4-17.4h0m-1.4 8.4h0m-3.4 2.9h0m2.6-20h0m0.4 13.6h0m2.2 33.9h0m-5-39.8h0m3.8 5.2h0m-1.9 3.9h0m-1.2-32.8h0m0.3 2h0m-0.3 1.2h0m3.7 7.7h0m-1.2-15.8h0m0.4-9.6h0m-2.8 22.1h0m3.2 30.7h0m-2.5-18.5h0m1 23.1h0m-0.1-34h0m0-1.2h0m1.3 9.9h0m-4.8 9h0m0.8-8.2h0m3.1-5.5h0m1.5 5.2h0m0.1 47.8h0m-4.7-54.8h0m3.2-22.5h0m0.9 28.2h0m-3.4-6h0m4.1 60.7h0m-1.3-14.1h0m10-189.5h0m0.5-23.8h0m-1.6 0.2h0m3.7-14.9h0m0.3 22.9h0m-0.9-5.7h0m-4.9-10h0m4.8-10h0m-1.5 35.6h0m1.5-18.8h0m-1.3 13h0m-1.8 0.2h0m2.9 9.1h0m-3.1 10.5h0m2-2.4h0m0.9-32.9h0m-1.3 11.5h0m0.9-8.3h0m-0.1-5.7h0m-3.6 9.9h0m0.8 24.3h0m0.2-33.5h0m3.4 49h0m-0.3-49.3h0m-0.5 0h0m-0.3-12.1h0m1.2 12.3h0m-3 19.8h0m3.1 1.2h0m-1.6-6.9h0m0.7 6.7h0m-3.7-29.1h0m1 24.2h0m1.4 0.2h0m0.1 6.1h0m-1.8-16.4h0m4.8-15h0m-4.8 0.6h0m1.9 18.8h0m-3.6 18.7h0m17.3-14.2h0m-3.4-4.3h0m-2.2-6.9h0m1.9-14.5h0m3.2 28.4h0m-0.7-20.9h0m-4.3 17.7h0m1.9-2.2h0m2.1 9.3h0m-3.6-8.2h0m4.7 8.8h0m-3.1-3.5h0m1.5-14h0m0.4 1.8h0m-0.4 4.5h0m-2.1 11.6h0m3.3-13.4h0m-3.2-4.2h0m-0.5 3.8h0m2.5 0.9h0m-0.9 52.2h0m-1.9-10.9h0m2.7-47.7h0m0.8 47.1h0m1.5-31h0m-5.6-23.7h0m0.1 34.6h0m0.1-15.9h0m2.5 3.8h0m1.4 18.4h0m-0.8-20.5h0m0.3-25.2h0m0.8 26.8h0m-1.6-12.8h0m0.4 19.4h0m-2.4-21.6h0m1.2 13h0m-0.4 4.5h0m1-3.2h0m2.6 5.7h0m41.1 10.3h0m-5.5 0.2h0m3-2.9h0m10.4 195.8h0m3.6-22.7h0m-3.6 20.9h0m-1.5 3.3h0m2.6-9h0m-3.4-5.1h0m3.8-20.5h0m0.3-19.9h0m0.5 19.6h0m1.1 36.9h0m-1.4-63.6h0m-1.2 43.7h0m-1.4-52.8h0m1.2 60.9h0m2.5-30.3h0m-4.8 16.8h0m0.2-24.1h0m0.9 52.4h0m3.6-30.7h0m-5-1h0m-0.4 7.1h0m4.8 10.7h0m-2.7-26.2h0m4-5.8h0m-2.8 3.2h0m-2.8-4.5h0m1.1-14.8h0m1.7 39.3h0m-0.1 3.9h0m-0.4-10.3h0m-1.3-17h0m0.1-10.7h0m1.7 45.8h0m1.5-41.6h0m-2.1 50.8h0m-2.8-36.1h0m5.1-3h0m-0.1 29h0m0.8-32.9h0m-3.9 53.6h0m15.7-45.7h0m-0.3 8.9h0m-4.7 17.2h0m2.5-49.8h0m-3.6 23.8h0m5.4 1.1h0m-1.1-36.8h0m-3.2 23.7h0m1.1 19.2h0m-1.9-59.4h0m1 68.4h0m4-16.4h0m-4-24.2h0m4.5-28.1h0m-0.4 57.2h0m-4.3 1.8h0m4.6-23.2h0m-3-25.4h0m0.3 18.1h0m-2.8 15.5h0m0.9-5.4h0m4.6 34.9h0m-5.3-53.3h0m2.8 66.8h0m2.3-63.1h0m-2.1-4.5h0m-0.4 12.3h0m-0.9 34.3h0m-0.6 7.5h0m1.2 3.5h0m-1.3-32.1h0m2.8 22.8h0m-0.2-36.3h0m-3.1 24.9h0m-0.3-21.8h0m5.5 10.6h0m-3.7-15.5h0m2.4 20.1h0m-4.5-20.4h0m1.7 73.5h0m10.3-212.5h0m0.7-1.3h0m2.2 11.5h0m-2.3-15.2h0m1.8-25h0m-2.1 10.1h0m2.3 22.1h0m-2.9-30.1h0m1.8 11.6h0m-2 13.5h0m3.1-17h0m1.6 12.9h0m-5.6-3.6h0m3.4 1.5h0m-2.9-14.4h0m2.6 5.6h0m-3.1 1.9h0m4 23.4h0m-0.7-8.3h0m-0.1-34.8h0m-3.2 19.9h0m5 12.1h0m-1.3-26h0m1.6 12.7h0m-3.2 17.6h0m-0.4-19.2h0m-1.4 17.6h0m3.7-24.2h0m-2 35.3h0m1.9 5.7h0m-3.9-33.9h0m4.2 18.8h0m-3.9-23.9h0m2.7 12.5h0m2.8 16.7h0m-1.1-27.4h0m-0.6 21.2h0m-2.3-33.2h0m-1.1 49.9h0m1.1-25.3h0m11.8 11.1h0m3.5-43.4h0m-2.6 13.2h0m-3.5 10h0m-0.2-23.1h0m3.7 42.5h0m-1.7-8.9h0m-1.3-3.5h0m4.6-26.3h0m-4 6h0m1.4-8.1h0m1.4 0.4h0m-1.5 31h0m-1.3 4.6h0m1.3 1.6h0m-2.2-19.2h0m6 16.8h0m-6.1 0.5h0m4.2 16.4h0m-4.6-37.5h0m3.7-5.7h0m-3.3 48h0m0.9-37.7h0m5.1 10.6h0m-2.2-34.9h0m1.2 59.5h0m-3-49.1h0m2.7 31h0m1.2-23.3h0m-5.8 8.3h0m5.8 35.2h0m-4.8-14.1h0m1.1-21.2h0m1.9-21.5h0m1 13.1h0m-5 23.7h0m1.5-15.1h0m0.2 11.3h0m-1.2 28.4h0m3.5-28.7h0m49.3 169h0m3 29.9h0m2.4-18.3h0m-4.1-5.2h0m-2.5-0.2h0m3.6 39.5h0m-2.7-21.7h0m3.2-18.1h0m0.9 14.2h0m-2.6-16.7h0m-0.5 13.1h0m1.4-6.8h0m-0.2 32.3h0m-3.1-57h0m5.3 13h0m0 20.7h0m-1.8 31.5h0m0.7-85h0m0.6 67.6h0m-2.5-18.7h0m0.1-6.8h0m-0.8-13.6h0m-0.2 26.6h0m-1.3-3.3h0m1.6-30.6h0m4 26.9h0m-3.2 14.9h0m-2.4-8.5h0m6.1 29.6h0m-3.7-31.8h0m3.6-10.3h0m-4 2.3h0m-0.6 12.7h0m4.8-11.4h0m-5.8-4.3h0m0.9 28.8h0m3.9 9.9h0m-2.6-6h0m-0.9-8.5h0m2.5-14.4h0m7.1 15.4h0m1-9.6h0m3.9 21.9h0m-3.9-14.9h0m3-19.3h0m-1.2 11.4h0m2-8.9h0m-0.3 15.5h0m-0.5-2.6h0m1.2 15h0m-3.9-10.3h0m-0.5-9.4h0m0.2-1.1h0m3.9-13.7h0m-4 20.8h0m3.7 25.3h0m0.8-17.2h0m-1.9-37h0m1.6 11.1h0m-2.4 34.4h0m3.5-29h0m-5.7 29.4h0m2.9-38.5h0m2.2 24.4h0m-0.7-9.6h0m-0.5 4.8h0m1.4-6.7h0m-0.1 7.1h0m-3.1 3.6h0m-0.7-15.8h0m1.8-5.6h0m-0.1-28.8h0m1.9 22.6h0m-1.6 21.5h0m-0.4 1.6h0m0-10.8h0m2.6 5h0m-1.7-8.1h0m-0.7 5.8h0m-0.5-0.9h0m10.2-183.5h0m3.1-9.8h0m-0.6 15.9h0m-1.6 16.1h0m2.2-33.4h0m-3.1 7.6h0m3.2 3.5h0m-1.7-26h0m-2 23.5h0m3 24.2h0m-4.1-18.7h0m-0.5-2.7h0m3.1 4.2h0m-3-13.8h0m4.6 1h0m-3.5 38.8h0m0.7-29.8h0m-1.6 9.9h0m0.3-20.7h0m0.6 23.5h0m3.8-23.7h0m0.9-15.4h0m-1.2 30.8h0m0-9.2h0m-1.4-23h0m-0.2 6.2h0m-0.3 1.3h0m-1.6 27h0m2-11.5h0m1.1-1.6h0m-1.7-16.4h0m1.7 21.6h0m-2.4 25h0m1.8-25.8h0m-2.4-9.1h0m-1.8-7.6h0m3.8 7.6h0m1.6-8.3h0m-4.5-1.8h0m1.7 17.8h0m14.8-23.9h0m-5.8 45.5h0m0.7-41.6h0m-1.4 9.4h0m4.9 22.5h0m-3-29.1h0m1.4 22.8h0m1.1 16.7h0m1-20.5h0m-2.1-22.6h0m2.1 21.4h0m-3.3-13.7h0m-1.7-3.4h0m1.7 6.2h0m0.5-7.3h0m1.7 15.5h0m1.1-19.1h0m-4 38.7h0m3.8-35.8h0m-4.9 40h0m5.3-34.6h0m-5.1 16.7h0m5.2-25.9h0m-1.7 18.4h0m-2.6 11.5h0m4.9 19.6h0m-3.3-34.2h0m0.7-9.4h0m-3.7 2.1h0m3.8-17.8h0m-2 49.8h0m4.3-0.3h0m-4.7-29.3h0m0.2-1.5h0m4.7 54.4h0m-0.4-61.6h0m-2.8 44.3h0m-0.8-36.4h0m3.9-2h0m-5.5 45.8h0m32.3 180.7h0m-2-2.3h0m1.9 1.9h0m25.9-30.2h0m-1.1-24.1h0m-2 25.2h0m2.2 9.3h0m-3.1-10.5h0m0.7-17.6h0m3.6 5.2h0m-2.8 5.4h0m-3.2-2.7h0m4.3 15.8h0m-2.1-4.5h0m-0.5-4.1h0m0.3-27.2h0m2.9 22.4h0m-2.5 9.7h0m-1.6-16h0m-0.1 15.8h0m2.4-8.8h0m1.7-8.6h0m0.8-0.9h0m-2.5-3.4h0m-3.6-8.6h0m2.5 30.2h0m3-37h0m-4.1 34.3h0m-0.6-2.7h0m2.5-7h0m-3.3-24.6h0m5.9 28.1h0m-3.6 11.4h0m-0.5 3.6h0m4.7-20.5h0m-0.7 5.7h0m-1.6-28.6h0m1.6 12.2h0m-5 31.7h0m5.3-22.1h0m-2.9 2h0m-1.4-15.1h0m-1.2 21.6h0m14.8 50.8h0m-0.8-9.7h0m3-5.2h0m-2.2 20.7h0m-4.2-6.4h0m1-17.1h0m4.9 0.8h0m-3.5 18.6h0m-0.5-41.6h0m-0.7 13.7h0m3.5-31.1h0m-2.4 27.4h0m3.9 5.7h0m-2.8-51.4h0m0.2 51.1h0m2.3-17.2h0m-0.5 37.5h0m0.9-72.2h0m-1.2 46.9h0m-4 25.8h0m0.7-13.8h0m0.2-8.8h0m-2.1-2.3h0m5.1 15.3h0m-3.5 17h0m2.4-46.7h0m-2.3 42.8h0m3.7-15h0m-1.8 13.6h0m-3.5-15.9h0m2.3 7.2h0m0.5-9h0m-1.6-20.8h0m-1.2 28.7h0m4.5-12.9h0m-2.2-0.3h0m-1.8-18.3h0m1.5 25.4h0m1.5-30.1h0m-0.7-13.2h0m14.2-166h0m-4.6 22.3h0m2.6 4.8h0m-3.4 30.8h0m3.7-32.9h0m-2.5-14.5h0m0.2-0.4h0m-1.3-11.6h0m0.3 6h0m-0.9-4h0m4.8 8.7h0m-4 1.6h0m1.8-0.7h0m1.3 2h0m-3.3-8.5h0m-0.7-6.8h0m0.1-11.5h0m3.5 58.5h0m2.6-56.3h0m-4.6 67.9h0m1-10.6h0m3-15.2h0m0.3 6.2h0m0.1-34.3h0m-4.5 15.6h0m3.9-28.2h0m-4.3 39.8h0m0.5-14.1h0m-1.4-11h0m4.6 22h0m-1.4-13.5h0m1.9-9.5h0m-4.1 18h0m-0.7 4.4h0m4.1-33.6h0m-2.6 58.5h0m-0.7-53.5h0m2.7-9.1h0m0.9 13.5h0m-2.9-15.5h0m13.7 40.7h0m-4.3-53.2h0m3 39.3h0m-1.6-6h0m3.7-4.3h0m0 48.2h0m-2.5-55.9h0m1.2 21.6h0m-3.4-10.2h0m3.7 20.7h0m0-18.2h0m0.9 7.1h0m-0.9-26.7h0m-1.9-4.4h0m-2-10.1h0m-0.6 28.4h0m1.3-7.3h0m1.2-6.1h0m0 14.2h0m-0.2 28.5h0m3.4-10.1h0m-3.2-24h0m0.3 5.5h0m1 26.6h0m0.4-31.9h0m-2.5 28.5h0m0-16.8h0m4.3 6.8h0m-4.2-3.1h0m1.8 18h0m0.5-24.2h0m-3.4-18.8h0m1.5-16.6h0m-0.1 25.1h0m2.1 35.5h0m-3.5 2.7h0m5.3-34.3h0m-5.4 28.8h0m1.2-21.5h0m1.1-12.4h0" stroke="#000" stroke-opacity="0.5" stroke-width="2.4" stroke-linecap="round" fill="none"/>
<ellipse cx="1093.8" cy="2349.4" rx="3.3" ry="14" fill-opacity="0.7"/><ellipse cx="1104.8" cy="2177.2" rx="3.3" ry="10.1" fill-opacity="0.7"/><ellipse cx="1115.9" cy="2179.9" rx="3.3" ry="10.9" fill-opacity="0.7"/><ellipse cx="1179.5" cy="2348.7" rx="3.3" ry="14" fill-opacity="0.7"/><ellipse cx="1190.5" cy="2177.2" rx="3.3" ry="9.9" fill-opacity="0.7"/><ellipse cx="1201.6" cy="2178.9" rx="3.3" ry="10.7" fill-opacity="0.7"/><ellipse cx="1265.2" cy="2347.1" rx="3.3" ry="14" fill-opacity="0.7"/><ellipse cx="1276.2" cy="2178.9" rx="3.3" ry="11.5" fill-opacity="0.7"/><ellipse cx="1287.3" cy="2178.9" rx="3.3" ry="8.2" fill-opacity="0.7"/><ellipse cx="1350.9" cy="2347.7" rx="3.3" ry="14" fill-opacity="0.7"/><ellipse cx="1361.9" cy="2181.2" rx="3.3" ry="10.7" fill-opacity="0.7"/><ellipse cx="1373" cy="2177.9" rx="3.3" ry="9.1" fill-opacity="0.7"/><ellipse cx="1425.6" cy="2405.6" rx="3.3" ry="14" fill-opacity="0.7"/><ellipse cx="1436.6" cy="2369.1" rx="3.3" ry="14" fill-opacity="0.7"/><ellipse cx="1447.6" cy="2200.6" rx="3.3" ry="11.9" fill-opacity="0.7"/><ellipse cx="1458.7" cy="2189.7" rx="3.3" ry="10.3" fill-opacity="0.7"/><ellipse cx="1511.3" cy="2406.3" rx="3.3" ry="14" fill-opacity="0.7"/><ellipse cx="1522.3" cy="2378.3" rx="3.3" ry="14" fill-opacity="0.7"/><ellipse cx="1533.3" cy="2211.8" rx="3.3" ry="14" fill-opacity="0.7"/><ellipse cx="1544.4" cy="2201.9" rx="3.3" ry="14" fill-opacity="0.7"/><ellipse cx="1597" cy="2408.6" rx="3.3" ry="14" fill-opacity="0.7"/><ellipse cx="1608" cy="2389.2" rx="3.3" ry="14" fill-opacity="0.7"/><ellipse cx="1619" cy="2220.3" rx="3.3" ry="14" fill-opacity="0.7"/><ellipse cx="1630.1" cy="2206.5" rx="3.3" ry="14" fill-opacity="0.7"/><ellipse cx="1682.7" cy="2414.5" rx="3.3" ry="14" fill-opacity="0.7"/><ellipse cx="1693.7" cy="2414.5" rx="3.3" ry="14" fill-opacity="0.7"/><ellipse cx="1704.7" cy="2222" rx="3.3" ry="14" fill-opacity="0.7"/><ellipse cx="1715.8" cy="2225.6" rx="3.3" ry="14" fill-opacity="0.7"/><ellipse cx="1768.4" cy="2400.7" rx="3.3" ry="14" fill-opacity="0.7"/><ellipse cx="1779.4" cy="2442.2" rx="3.3" ry="14" fill-opacity="0.7"/><ellipse cx="1790.4" cy="2228.6" rx="3.3" ry="14" fill-opacity="0.7"/><ellipse cx="1801.5" cy="2227.2" rx="3.3" ry="14" fill-opacity="0.7"/>
<g fill="#000"><ellipse cx="1060.8" cy="2434.9" rx="3" ry="2"/><ellipse cx="1071.8" cy="2216.4" rx="3" ry="2"/><ellipse cx="1082.8" cy="2413.2" rx="3.3" ry="2.2"/><ellipse cx="1082.8" cy="2401.7" rx="3.3" ry="2.2"/><ellipse cx="1082.8" cy="2392.8" rx="3.3" ry="2.2"/><ellipse cx="1082.8" cy="2374" rx="3.3" ry="2.2"/><ellipse cx="1093.8" cy="2349.4" rx="2.4" ry="4"/><ellipse cx="1104.8" cy="2177.2" rx="2.4" ry="4"/><ellipse cx="1115.9" cy="2179.9" rx="2.4" ry="4"/><ellipse cx="1146.5" cy="2434.9" rx="3" ry="2"/><ellipse cx="1157.5" cy="2216.4" rx="3" ry="2"/><ellipse cx="1168.5" cy="2413.2" rx="3.3" ry="2.2"/><ellipse cx="1168.5" cy="2401.7" rx="3.3" ry="2.2"/><ellipse cx="1168.5" cy="2392.8" rx="3.3" ry="2.2"/><ellipse cx="1168.5" cy="2374" rx="3.3" ry="2.2"/><ellipse cx="1179.5" cy="2348.7" rx="2.4" ry="4"/><ellipse cx="1190.5" cy="2177.2" rx="2.4" ry="3.9"/><ellipse cx="1201.6" cy="2178.9" rx="2.4" ry="4"/><ellipse cx="1232.2" cy="2434.9" rx="3" ry="2"/><ellipse cx="1243.2" cy="2216.4" rx="3" ry="2"/><ellipse cx="1254.2" cy="2413.2" rx="3.3" ry="2.2"/><ellipse cx="1254.2" cy="2400.7" rx="3.3" ry="2.2"/><ellipse cx="1254.2" cy="2374.5" rx="3.3" ry="2.2"/><ellipse cx="1254.2" cy="2338.5" rx="3.3" ry="2.2"/><ellipse cx="1265.2" cy="2347.1" rx="2.4" ry="4"/><ellipse cx="1276.2" cy="2178.9" rx="2.4" ry="4"/><ellipse cx="1287.3" cy="2178.9" rx="2.4" ry="3.3"/><ellipse cx="1317.9" cy="2434.9" rx="3" ry="2"/><ellipse cx="1328.9" cy="2454.7" rx="3" ry="2"/><ellipse cx="1339.9" cy="2413.2" rx="3.3" ry="2.2"/><ellipse cx="1339.9" cy="2401.4" rx="3.3" ry="2.2"/><ellipse cx="1339.9" cy="2374.9" rx="3.3" ry="2.2"/><ellipse cx="1339.9" cy="2338.5" rx="3.3" ry="2.2"/><ellipse cx="1350.9" cy="2347.7" rx="2.4" ry="4"/><ellipse cx="1361.9" cy="2181.2" rx="2.4" ry="4"/><ellipse cx="1373" cy="2177.9" rx="2.4" ry="3.6"/><ellipse cx="1425.6" cy="2405.6" rx="2.4" ry="4"/><ellipse cx="1436.6" cy="2369.1" rx="2.4" ry="4"/><ellipse cx="1447.6" cy="2200.6" rx="2.4" ry="4"/><ellipse cx="1458.7" cy="2189.7" rx="2.4" ry="4"/><ellipse cx="1489.3" cy="2433" rx="3" ry="2"/><ellipse cx="1511.3" cy="2406.3" rx="2.4" ry="4"/><ellipse cx="1522.3" cy="2378.3" rx="2.4" ry="4"/><ellipse cx="1533.3" cy="2211.8" rx="2.4" ry="4"/><ellipse cx="1544.4" cy="2201.9" rx="2.4" ry="4"/><ellipse cx="1586" cy="2232.5" rx="3" ry="2"/><ellipse cx="1597" cy="2408.6" rx="2.4" ry="4"/><ellipse cx="1608" cy="2389.2" rx="2.4" ry="4"/><ellipse cx="1619" cy="2220.3" rx="2.4" ry="4"/><ellipse cx="1630.1" cy="2206.5" rx="2.4" ry="4"/><ellipse cx="1682.7" cy="2414.5" rx="2.4" ry="4"/><ellipse cx="1693.7" cy="2414.5" rx="2.4" ry="4"/><ellipse cx="1704.7" cy="2222" rx="2.4" ry="4"/><ellipse cx="1715.8" cy="2225.6" rx="2.4" ry="4"/><ellipse cx="1746.4" cy="2434.9" rx="3" ry="2"/><ellipse cx="1768.4" cy="2400.7" rx="2.4" ry="4"/><ellipse cx="1779.4" cy="2442.2" rx="2.4" ry="4"/><ellipse cx="1790.4" cy="2228.6" rx="2.4" ry="4"/><ellipse cx="1801.5" cy="2227.2" rx="2.4" ry="4"/></g>
<path d="M1101.83 2132.27V2124.77H1115.11V2132.27M1187.53 2132.27V2124.77H1200.81V2132.27M1273.23 2132.27V2124.77H1286.51V2132.27M1358.93 2132.27V2124.77H1372.21V2132.27M1444.63 2132.27V2124.77H1457.91V2132.27M1530.33 2132.27V2124.77H1543.61V2132.27M1616.03 2132.27V2124.77H1629.31V2132.27M1701.73 2132.27V2124.77H1715.01V2132.27M1787.43 2132.27V2124.77H1800.71V2132.27" stroke="#000" stroke-width="1.5" fill="none"/>
<g font-size="11.6" text-anchor="middle" fill="#000"><text x="1108.47" y="2121.47">p = 1.000</text><text x="1194.17" y="2121.47">p = 0.996</text><text x="1279.87" y="2121.47">p = 0.087</text><text x="1365.57" y="2121.47">p &lt; 0.001</text><text x="1451.27" y="2121.47">p &lt; 0.001</text><text x="1536.97" y="2121.47">p &lt; 0.001</text><text x="1622.67" y="2121.47">p &lt; 0.001</text><text x="1708.37" y="2121.47">p = 0.039</text><text x="1794.07" y="2121.47">p = 0.030</text></g>
<path d="M1031.5 2099.17V2473.65H1819.8" stroke="#000" stroke-width="1.9" fill="none" stroke-linejoin="round"/>
<path d="M1026.2 2460.6H1031.5M1026.2 2378.32H1031.5M1026.2 2296.03H1031.5M1026.2 2213.75H1031.5M1026.2 2131.47H1031.5M1082.8 2473.65V2478.95M1168.5 2473.65V2478.95M1254.2 2473.65V2478.95M1339.9 2473.65V2478.95M1425.6 2473.65V2478.95M1511.3 2473.65V2478.95M1597 2473.65V2478.95M1682.7 2473.65V2478.95M1768.4 2473.65V2478.95" stroke="#333" stroke-width="1.9" fill="none"/>
<g font-size="23.5" fill="#4D4D4D">
<text x="1022.1" y="2469.6" text-anchor="end">0</text>
<text x="1022.1" y="2387.32" text-anchor="end">25</text>
<text x="1022.1" y="2305.03" text-anchor="end">50</text>
<text x="1022.1" y="2222.75" text-anchor="end">75</text>
<text x="1022.1" y="2140.47" text-anchor="end">100</text>
<text x="1082.8" y="2499.3" text-anchor="middle">1</text>
<text x="1168.5" y="2499.3" text-anchor="middle">2</text>
<text x="1254.2" y="2499.3" text-anchor="middle">4</text>
<text x="1339.9" y="2499.3" text-anchor="middle">8</text>
<text x="1425.6" y="2499.3" text-anchor="middle">16</text>
<text x="1511.3" y="2499.3" text-anchor="middle">24</text>
<text x="1597" y="2499.3" text-anchor="middle">48</text>
<text x="1682.7" y="2499.3" text-anchor="middle">96</text>
<text x="1768.4" y="2499.3" text-anchor="middle">192</text>
</g>
<text x="1425.65" y="2078.2" font-size="39" font-weight="bold" text-anchor="middle">Not Hospitalised</text>
<text x="1425.65" y="2529.2" font-size="27.3" font-weight="bold" text-anchor="middle">Prediction Horizon [min. hours before event]</text>
<text transform="translate(970.8 2286.41) rotate(-90)" font-size="27.3" font-weight="bold" text-anchor="middle">Specificity at 95 % Sensitivity [%]</text>
<rect x="1852.2" y="104.2" width="194.5" height="266.5" fill="#fff" stroke="#000" stroke-width="1.5"/>
<rect x="1863.6" y="127" width="31.8" height="231.5" fill="#666"/>
<rect x="1863.85" y="126.75" width="31.3" height="30.5" fill="#E64B35" stroke="#000" stroke-width="1.5"/>
<text x="1907.4" y="148.6" font-size="17.2">Yan et al. 2020</text>
<rect x="1863.85" y="160.3" width="31.3" height="30.5" fill="#4DBBD5" stroke="#000" stroke-width="1.5"/>
<text x="1907.4" y="182.15" font-size="17.2">MEWS</text>
<rect x="1863.85" y="193.85" width="31.3" height="30.5" fill="#00A087" stroke="#000" stroke-width="1.5"/>
<text x="1907.4" y="215.7" font-size="17.2">SOFA</text>
<rect x="1863.85" y="227.4" width="31.3" height="30.5" fill="#3C5488" stroke="#000" stroke-width="1.5"/>
<text x="1907.4" y="249.25" font-size="17.2">COVER_F</text>
<rect x="1863.85" y="260.95" width="31.3" height="30.5" fill="#F39B7F" stroke="#000" stroke-width="1.5"/>
<text x="1907.4" y="282.8" font-size="17.2">Liang et al. 2020</text>
<rect x="1863.85" y="294.5" width="31.3" height="30.5" fill="#8491B4" stroke="#000" stroke-width="1.5"/>
<text x="1907.4" y="316.35" font-size="17.2">CovEWS (linear)</text>
<rect x="1863.85" y="328.05" width="31.3" height="30.5" fill="#91D1C2" stroke="#000" stroke-width="1.5"/>
<text x="1907.4" y="349.9" font-size="17.2">CovEWS</text></svg></body></html>
